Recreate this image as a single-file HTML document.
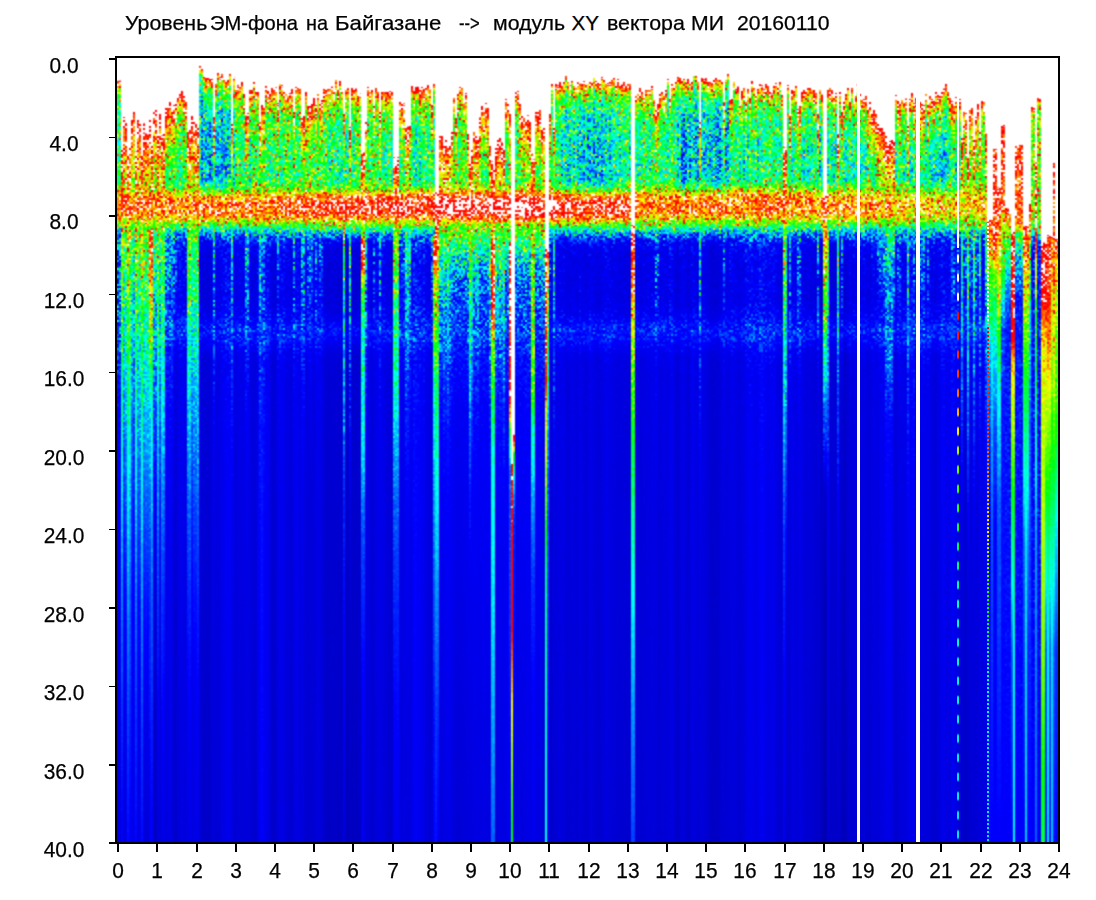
<!DOCTYPE html>
<html><head><meta charset="utf-8">
<style>
html,body{margin:0;padding:0;background:#fff;}
body{-webkit-text-stroke:0.25px #000;width:1096px;height:900px;position:relative;overflow:hidden;font-family:"Liberation Sans",sans-serif;color:#000;}
#plot{position:absolute;left:117px;top:58px;width:942px;height:784px;display:flex;filter:url(#jet);}
#plot i{display:block;flex:1 1 0;height:100%;}
.ln{position:absolute;background:#000;}
.t{position:absolute;top:12.6px;font-size:20.6px;line-height:1;white-space:nowrap;transform-origin:0 0;}
.yl{position:absolute;left:24px;width:80px;text-align:center;font-size:22px;line-height:1;white-space:nowrap;transform:scaleX(.95);}
.xl{position:absolute;top:860.4px;width:60px;text-align:center;font-size:22px;line-height:1;white-space:nowrap;transform:scaleX(.95);}
.ov{position:absolute;}
</style></head><body>
<svg width="0" height="0" style="position:absolute">
<filter id="jet" x="0" y="0" width="100%" height="100%" color-interpolation-filters="sRGB">
<feTurbulence type="fractalNoise" baseFrequency="0.8" numOctaves="2" seed="3" result="t0"/>
<feColorMatrix in="t0" type="matrix" values="2.1 0 0 0 -0.56  2.1 0 0 0 -0.56  2.1 0 0 0 -0.56  0 0 0 0 1" result="t0a"/>
<feComponentTransfer in="t0a" result="t0b"><feFuncR type="gamma" amplitude="1" exponent="1.7" offset="0"/><feFuncG type="gamma" amplitude="1" exponent="1.7" offset="0"/><feFuncB type="gamma" amplitude="1" exponent="1.7" offset="0"/></feComponentTransfer>
<feFlood x="0" y="0" width="1" height="1" flood-color="#fff" result="p1"/>
<feComposite in="p1" in2="p1" operator="over" x="0" y="0" width="2" height="2" result="p2"/>
<feTile in="p2" result="grid"/>
<feComposite in="t0b" in2="grid" operator="in" result="sp"/>
<feConvolveMatrix in="sp" order="2" kernelMatrix="1 1 1 1" divisor="1" targetX="1" targetY="1" edgeMode="none" preserveAlpha="false" result="n"/>
<feColorMatrix in="SourceGraphic" type="matrix" values="1 0 0 0 0  1 0 0 0 0  1 0 0 0 0  0 0 0 0 1" result="lev"/>
<feColorMatrix in="SourceGraphic" type="matrix" values="0 1 0 0 0  0 1 0 0 0  0 1 0 0 0  0 0 0 0 1" result="m"/>
<feComposite in="m" in2="n" operator="arithmetic" k1="0.5" k2="-0.165" k3="0" k4="0.5" result="d"/>
<feComposite in="lev" in2="d" operator="arithmetic" k1="0" k2="1" k3="1" k4="-0.5" result="l"/>
<feComponentTransfer in="l" result="c"><feFuncR type="table" tableValues="0 0 0 0 0 0 0 0 0 0 0 0 0 0 0 0 0 0 0 0 0 0 0 0 0 0 0 0 0 0 0 0 0 0 0 0 0 0 0 0 0 0 0 0 0 0 0 0 0 0 0 0.0588 0.118 0.176 0.235 0.294 0.353 0.412 0.471 0.529 0.588 0.647 0.706 0.765 0.824 0.882 0.941 1 1 1 1 1 1 1 1 1 1 1 1 1 1 1 1 1 1 1 1 1 1 1 1 1 1 1 1 1 1 1 1 1 1"/><feFuncG type="table" tableValues="0 0 0 0 0 0 0 0 0 0 0 0 0 0 0.0526 0.105 0.158 0.211 0.263 0.316 0.368 0.421 0.474 0.526 0.579 0.632 0.684 0.737 0.789 0.842 0.895 0.947 1 1 1 1 1 1 1 1 1 1 1 1 1 1 1 1 1 1 1 1 1 1 1 1 1 1 1 1 1 1 1 1 1 1 1 1 0.941 0.882 0.824 0.765 0.706 0.647 0.588 0.529 0.471 0.412 0.353 0.294 0.235 0.176 0.118 0.0588 0 0 0 0 0 0 0 1 1 1 1 1 1 1 1 1 1"/><feFuncB type="table" tableValues="0.588 0.621 0.654 0.686 0.719 0.752 0.784 0.815 0.846 0.877 0.908 0.938 0.969 1 1 1 1 1 1 1 1 1 1 1 1 1 1 1 1 1 1 1 1 0.944 0.889 0.833 0.778 0.722 0.667 0.611 0.556 0.5 0.444 0.389 0.333 0.278 0.222 0.167 0.111 0.0556 0 0 0 0 0 0 0 0 0 0 0 0 0 0 0 0 0 0 0 0 0 0 0 0 0 0 0 0 0 0 0 0 0 0 0 0 0 0 0 0 0 1 1 1 1 1 1 1 1 1 1"/></feComponentTransfer>
<feConvolveMatrix in="c" order="3" kernelMatrix="1 2 1 2 6 2 1 2 1" divisor="18" edgeMode="duplicate" preserveAlpha="true"/>
</filter>
</svg>
<div id="plot">
<i style="background:linear-gradient(#ff0000 0%,#ff0000 2.487%,#ff0000 2.679%,#e3bf00 2.934%,#ceca00 3.316%,#b4e500 3.827%,#9bfd00 4.464%,#88fc00 5.23%,#7cfa00 6.25%,#76f900 7.526%,#74f900 9.056%,#74f900 9.184%,#74f900 10.97%,#74f900 11.73%,#74f900 13.52%,#74f900 14.29%,#75f900 15.56%,#7bfa00 16.07%,#86fc00 16.45%,#92fe00 16.71%,#98ff00 16.84%,#aaef00 17.22%,#c0da00 17.73%,#ceca00 18.75%,#c9d000 19.77%,#b3e700 20.54%,#8efd00 21.17%,#5ff500 21.81%,#3ddb00 22.45%,#34ce00 23.09%,#34cd00 23.72%,#33cd00 24.36%,#33ca00 25%,#33c700 25.64%,#33c600 25.77%,#33c000 27.04%,#33ae00 30.87%,#33a500 32.02%,#33a400 32.14%,#329400 33.16%,#318900 34.06%,#307d00 34.95%,#2e6e00 35.84%,#2c5e00 36.73%,#2a4d00 37.88%,#283d00 39.16%,#252900 40.94%,#211300 43.62%,#200f00 46.17%,#1f0700 53.7%,#1e0600 56.38%,#1b0300 69.13%,#180200 84.44%,#160100 100%)"></i>
<i style="background:linear-gradient(#ff0000 0%,#ff0000 2.487%,#ff0000 2.679%,#e3bf00 2.934%,#ceca00 3.316%,#b5e500 3.827%,#9bfd00 4.464%,#89fc00 5.23%,#7ffb00 6.25%,#7afa00 7.526%,#78fa00 9.056%,#78fa00 9.184%,#78f900 10.97%,#78f900 11.73%,#78f900 13.52%,#78f900 14.29%,#79fa00 15.56%,#7efb00 16.07%,#89fc00 16.45%,#93fe00 16.71%,#99ff00 16.84%,#a9f000 17.22%,#bddd00 17.73%,#c9cf00 18.75%,#c5d500 19.77%,#afea00 20.54%,#8cfd00 21.17%,#5ff500 21.81%,#3edc00 22.45%,#35cf00 23.09%,#34cd00 23.72%,#33cd00 24.36%,#33ca00 25%,#33c700 25.64%,#33c600 25.77%,#33c000 27.04%,#33ae00 30.87%,#33a500 32.02%,#33a400 32.14%,#329500 33.16%,#318a00 34.06%,#307f00 34.95%,#2f7000 35.84%,#2c6000 36.73%,#2a4e00 37.88%,#283e00 39.16%,#252a00 40.94%,#211400 43.62%,#210f00 46.17%,#1f0800 53.7%,#1f0700 56.38%,#1c0300 69.13%,#190200 84.44%,#170100 100%)"></i>
<i style="background:linear-gradient(#ff0000 0%,#ff0000 11.3%,#f45200 11.49%,#f17100 11.73%,#f17200 11.75%,#ee9a00 12.13%,#e9bf00 12.64%,#e4bf00 13.28%,#debf00 14.04%,#dcbf00 14.29%,#d7bf00 15.06%,#d3c300 15.56%,#d0c700 16.07%,#cec900 16.34%,#ceca00 16.45%,#cccc00 16.84%,#cdcb00 17.22%,#d3c300 17.73%,#d5c000 17.87%,#dabf00 18.75%,#d5c100 19.77%,#d5c100 19.78%,#c4d600 20.54%,#b5e500 21.17%,#afea00 21.81%,#aced00 22.33%,#aced00 22.45%,#a9f000 23.09%,#a6f300 23.72%,#a3f600 24.36%,#a0f500 25%,#9ef400 25.52%,#9df400 25.77%,#98f000 27.04%,#8fe000 29.35%,#8ad700 30.87%,#83bf00 33.16%,#80b600 34.06%,#7fb200 34.45%,#7dad00 34.95%,#7ba400 35.84%,#789b00 36.73%,#758f00 37.88%,#728200 39.16%,#6d7200 40.83%,#614500 46.17%,#5a2e00 49.76%,#4d2400 56.38%,#431a00 62.51%,#3a1100 69.13%,#290800 84.44%,#1e0200 100%)"></i>
<i style="background:linear-gradient(#ff0000 0%,#ff0000 7.092%,#ff0000 7.283%,#f08200 7.538%,#ebbf00 7.921%,#e4bf00 8.431%,#dcbf00 9.069%,#d3c300 9.834%,#c9d000 10.85%,#c1da00 11.73%,#bddd00 12.13%,#b0e900 13.66%,#aced00 14.29%,#a3f600 15.56%,#a3f600 15.57%,#a0f900 16.07%,#9ffa00 16.45%,#a1f700 16.84%,#aced00 17.22%,#c3d800 17.73%,#ceca00 18.12%,#d1c600 18.75%,#cccc00 19.77%,#b6e400 20.54%,#97ff00 21.17%,#91fe00 21.31%,#82fb00 21.81%,#7cfa00 22.45%,#79fa00 23.09%,#76f900 23.72%,#74f900 24.36%,#71f500 25%,#70f400 25.14%,#6ef000 25.77%,#69e800 27.04%,#5ed400 30.24%,#5cd000 30.87%,#55b900 33.16%,#53b000 34.06%,#51a800 34.95%,#4e9f00 35.84%,#4c9700 36.62%,#4b9500 36.73%,#488700 37.88%,#457900 39.16%,#373f00 45.55%,#363b00 46.17%,#281200 56.38%,#260e00 58.3%,#1e0400 69.13%,#190200 84.44%,#160100 100%)"></i>
<i style="background:linear-gradient(#ff0000 0%,#ff0000 7.946%,#f45100 8.138%,#f07e00 8.393%,#ebb500 8.776%,#e5bf00 9.286%,#debf00 9.923%,#d6bf00 10.69%,#cdcb00 11.71%,#cdcb00 11.73%,#c2d800 12.98%,#b8e200 14.29%,#b7e300 14.52%,#b0e900 15.56%,#adec00 16.07%,#adec00 16.43%,#adec00 16.45%,#b0e900 16.84%,#b6e400 17.22%,#c2d800 17.73%,#cbcd00 18.75%,#cbcd00 18.98%,#c7d200 19.77%,#b4e600 20.54%,#9bfd00 21.17%,#8cfd00 21.81%,#89fc00 22.17%,#87fc00 22.45%,#84fc00 23.09%,#82fb00 23.72%,#7ffb00 24.36%,#7cf700 25%,#79f200 25.77%,#78f100 25.99%,#74ea00 27.04%,#67d200 30.87%,#66cf00 31.1%,#60bb00 33.16%,#5db200 34.06%,#5ba900 34.95%,#59a000 35.84%,#569700 36.73%,#549000 37.47%,#538c00 37.88%,#4f7f00 39.16%,#403f00 46.17%,#403d00 46.4%,#301a00 56.38%,#2c1400 59.16%,#230600 69.13%,#1c0200 84.44%,#180100 100%)"></i>
<i style="background:linear-gradient(#ff0000 0%,#ff0000 11.71%,#ff0000 11.73%,#ff0000 11.9%,#f17000 12.16%,#ee9700 12.54%,#eabf00 13.05%,#e5bf00 13.69%,#e0bf00 14.29%,#dfbf00 14.45%,#d8bf00 15.47%,#d7bf00 15.56%,#d4c200 16.07%,#d1c500 16.45%,#d0c700 16.75%,#d0c700 16.84%,#d0c700 17.22%,#d3c300 17.73%,#d7bf00 18.28%,#d7bf00 18.75%,#d2c400 19.77%,#cccc00 20.19%,#c4d600 20.54%,#b8e200 21.17%,#b3e700 21.81%,#b0ea00 22.45%,#aeeb00 22.74%,#aded00 23.09%,#aaef00 23.72%,#a7f200 24.36%,#a4f200 25%,#a1f000 25.77%,#a0f000 25.93%,#9ced00 27.04%,#91de00 29.76%,#8ed700 30.87%,#86bf00 33.16%,#84b600 34.06%,#81ae00 34.86%,#81ad00 34.95%,#7ea400 35.84%,#7c9b00 36.73%,#799000 37.88%,#758300 39.16%,#706e00 41.24%,#654500 46.17%,#5c2c00 50.17%,#512400 56.38%,#461a00 62.92%,#3e1200 69.13%,#2d0a00 84.44%,#220300 100%)"></i>
<i style="background:linear-gradient(#ff0000 0%,#ff0000 10.2%,#ff0000 10.4%,#f17500 10.65%,#eda100 11.03%,#e8bf00 11.54%,#e7bf00 11.73%,#e3bf00 12.18%,#dcbf00 12.95%,#d4c200 13.97%,#d2c500 14.29%,#cbce00 15.24%,#c9d000 15.56%,#c5d500 16.07%,#c3d700 16.45%,#c2d900 16.77%,#c2d900 16.84%,#c2d800 17.22%,#c8d000 17.73%,#cfc800 18.69%,#cfc800 18.75%,#cacf00 19.77%,#bae000 20.54%,#abee00 21.17%,#aaef00 21.24%,#a5f400 21.81%,#a1f700 22.45%,#9efa00 23.09%,#9bfd00 23.72%,#98ff00 24.36%,#98ff00 24.43%,#96fb00 25%,#92f600 25.77%,#8dee00 27.04%,#89e600 28.25%,#80d500 30.87%,#78be00 33.16%,#78bc00 33.35%,#76b500 34.06%,#73ac00 34.95%,#71a300 35.84%,#6e9a00 36.73%,#6b8e00 37.88%,#688200 39.16%,#667c00 39.73%,#574500 46.17%,#523400 48.66%,#442200 56.38%,#3d1a00 61.42%,#331000 69.13%,#260600 84.44%,#1e0200 100%)"></i>
<i style="background:linear-gradient(#ff0000 0%,#ff0000 6.811%,#ff0000 7.003%,#f08300 7.258%,#eabf00 7.64%,#e3bf00 8.151%,#dbbf00 8.788%,#d2c400 9.554%,#c8d200 10.57%,#bcde00 11.73%,#bbdf00 11.85%,#afeb00 13.38%,#a8f100 14.29%,#a1f800 15.29%,#9ff900 15.56%,#9dfc00 16.07%,#9cfc00 16.45%,#a1f700 16.84%,#aded00 17.22%,#c1da00 17.73%,#c4d600 17.84%,#ceca00 18.75%,#c9d000 19.77%,#b4e600 20.54%,#9dfb00 21.03%,#96ff00 21.17%,#80fb00 21.81%,#79fa00 22.45%,#75f900 23.09%,#72f900 23.72%,#70f800 24.36%,#6ef600 24.86%,#6df500 25%,#6af000 25.77%,#65e800 27.04%,#5bd500 29.96%,#58d000 30.87%,#52b900 33.16%,#50b000 34.06%,#4ea700 34.95%,#4b9e00 35.84%,#4a9700 36.34%,#489200 36.73%,#458500 37.88%,#427700 39.16%,#364000 45.27%,#353a00 46.17%,#291300 56.38%,#271000 58.02%,#210500 69.13%,#1d0300 84.44%,#1b0200 100%)"></i>
<i style="background:linear-gradient(#ff0000 0%,#ff0000 6.199%,#f35200 6.39%,#ef8800 6.645%,#e9bf00 7.028%,#e2bf00 7.538%,#d9bf00 8.176%,#d0c700 8.941%,#c4d600 9.962%,#b7e200 11.24%,#b3e700 11.73%,#aaef00 12.77%,#9ff900 14.29%,#9cfc00 14.68%,#97ff00 15.56%,#96fe00 16.07%,#98ff00 16.45%,#a0f800 16.84%,#aeeb00 17.22%,#afea00 17.23%,#c3d700 17.73%,#d0c700 18.75%,#cbcd00 19.77%,#bbdf00 20.42%,#b6e400 20.54%,#96fe00 21.17%,#79fa00 21.81%,#70f800 22.45%,#6cf800 23.09%,#69f700 23.72%,#67f700 24.25%,#66f700 24.36%,#64f300 25%,#61ee00 25.77%,#5ce600 27.04%,#54d800 29.35%,#4fce00 30.87%,#49b400 33.16%,#48ab00 34.06%,#46a100 34.95%,#449700 35.73%,#449600 35.84%,#418b00 36.73%,#3d7e00 37.88%,#3a7100 39.16%,#313c00 44.66%,#2e3000 46.17%,#250d00 56.38%,#240c00 57.41%,#1f0400 69.13%,#1c0200 84.44%,#1a0100 100%)"></i>
<i style="background:linear-gradient(#ff0000 0%,#ff0000 10.89%,#ff0000 11.08%,#f17300 11.34%,#ee9c00 11.72%,#ed9e00 11.73%,#e9bf00 12.23%,#e4bf00 12.87%,#ddbf00 13.64%,#d8bf00 14.29%,#d6c000 14.66%,#cfc800 15.56%,#cdcb00 15.93%,#cccc00 16.07%,#cacf00 16.45%,#c8d100 16.84%,#c9d000 17.22%,#cbce00 17.46%,#cfc900 17.73%,#d5c000 18.75%,#d4c300 19.38%,#d0c700 19.77%,#c0da00 20.54%,#b2e800 21.17%,#abee00 21.81%,#abee00 21.93%,#a8f100 22.45%,#a5f400 23.09%,#a2f600 23.72%,#9ff900 24.36%,#9cf900 25%,#9cf900 25.11%,#99f700 25.77%,#94ef00 27.04%,#8de200 28.94%,#86d600 30.87%,#7fbf00 33.16%,#7cb600 34.04%,#7cb500 34.06%,#7aac00 34.95%,#77a300 35.84%,#759a00 36.73%,#718f00 37.88%,#6e8200 39.16%,#6b7600 40.42%,#5e4500 46.17%,#573000 49.35%,#4a2300 56.38%,#411a00 62.1%,#381100 69.13%,#2a0900 84.44%,#210300 100%)"></i>
<i style="background:linear-gradient(#ff0000 0%,#ff0000 7.679%,#f35300 7.87%,#f08000 8.125%,#ebb900 8.508%,#e5bf00 9.018%,#debf00 9.656%,#d5c000 10.42%,#cbcd00 11.44%,#c9d000 11.73%,#c0da00 12.72%,#b4e500 14.25%,#b4e600 14.29%,#abee00 15.56%,#a8f100 16.07%,#a8f100 16.16%,#a7f200 16.45%,#a8f100 16.84%,#afeb00 17.22%,#bedc00 17.73%,#cacf00 18.71%,#cacf00 18.75%,#c5d500 19.77%,#b1e800 20.54%,#98ff00 21.17%,#89fc00 21.81%,#88fc00 21.9%,#84fb00 22.45%,#81fb00 23.09%,#7efb00 23.72%,#7bfa00 24.36%,#79f700 25%,#76f200 25.73%,#76f200 25.77%,#71e900 27.04%,#64d100 30.83%,#63d100 30.87%,#5dba00 33.16%,#5ab100 34.06%,#58a800 34.95%,#55a000 35.84%,#539700 36.73%,#519200 37.21%,#4f8c00 37.88%,#4c7f00 39.16%,#3d3e00 46.14%,#3d3e00 46.17%,#2d1700 56.38%,#2a1200 58.89%,#210500 69.13%,#1b0200 84.44%,#170100 100%)"></i>
<i style="background:linear-gradient(#ff0000 0%,#ff0000 7.985%,#ff0000 8.176%,#f07d00 8.431%,#ebb500 8.814%,#e5bf00 9.324%,#debf00 9.962%,#d6bf00 10.73%,#cdcb00 11.73%,#cdcb00 11.75%,#c2d900 13.02%,#b8e200 14.29%,#b6e400 14.55%,#afea00 15.56%,#aced00 16.07%,#aaef00 16.45%,#aaef00 16.47%,#aaef00 16.84%,#b0ea00 17.22%,#bfdb00 17.73%,#cbcd00 18.75%,#cbcd00 19.02%,#c6d300 19.77%,#b3e700 20.54%,#9afe00 21.17%,#8cfd00 21.81%,#89fc00 22.21%,#88fc00 22.45%,#85fc00 23.09%,#82fb00 23.72%,#7ffb00 24.36%,#7df700 25%,#7af200 25.77%,#79f100 26.03%,#75ea00 27.04%,#67d200 30.87%,#67cf00 31.14%,#60bb00 33.16%,#5eb200 34.06%,#5ca900 34.95%,#59a000 35.84%,#569700 36.73%,#549000 37.51%,#538c00 37.88%,#507f00 39.16%,#413f00 46.17%,#403d00 46.44%,#301b00 56.38%,#2d1500 59.2%,#240700 69.13%,#1d0200 84.44%,#190100 100%)"></i>
<i style="background:linear-gradient(#ff0000 0%,#ff0000 11.72%,#ff0000 11.73%,#f45200 11.91%,#f17200 12.17%,#ee9800 12.55%,#eabf00 13.06%,#e5bf00 13.7%,#e0bf00 14.29%,#dfbf00 14.46%,#d8bf00 15.48%,#d7bf00 15.56%,#d4c200 16.07%,#d1c500 16.45%,#d0c700 16.76%,#d0c700 16.84%,#cfc800 17.22%,#d2c400 17.73%,#d6bf00 18.29%,#d6c000 18.75%,#d1c600 19.77%,#cace00 20.2%,#c3d700 20.54%,#b8e200 21.17%,#b3e700 21.81%,#b0ea00 22.45%,#aeeb00 22.76%,#aded00 23.09%,#aaef00 23.72%,#a7f200 24.36%,#a4f200 25%,#a1f000 25.77%,#a0f000 25.94%,#9ced00 27.04%,#91de00 29.77%,#8ed700 30.87%,#86bf00 33.16%,#84b600 34.06%,#81ae00 34.87%,#81ad00 34.95%,#7ea400 35.84%,#7c9b00 36.73%,#799000 37.88%,#758300 39.16%,#706e00 41.25%,#654500 46.17%,#5c2c00 50.18%,#512400 56.38%,#461a00 62.93%,#3e1200 69.13%,#2d0a00 84.44%,#220300 100%)"></i>
<i style="background:linear-gradient(#ff0000 0%,#ff0000 8.061%,#f35200 8.253%,#f07e00 8.508%,#ecb400 8.89%,#e6bf00 9.401%,#dfbf00 10.04%,#d7bf00 10.8%,#cec900 11.73%,#cdca00 11.82%,#c3d800 13.1%,#bae000 14.29%,#b7e300 14.63%,#b1e800 15.56%,#afeb00 16.07%,#aeeb00 16.45%,#aeeb00 16.54%,#b1e800 16.84%,#b8e200 17.22%,#c6d400 17.73%,#d0c700 18.75%,#d0c800 19.09%,#cbcd00 19.77%,#b7e300 20.54%,#9cfc00 21.17%,#8dfd00 21.81%,#8afc00 22.28%,#89fc00 22.45%,#86fc00 23.09%,#83fb00 23.72%,#80fb00 24.36%,#7ef700 25%,#7af200 25.77%,#79f000 26.11%,#76ea00 27.04%,#68d200 30.87%,#67ce00 31.21%,#61bb00 33.16%,#5fb200 34.06%,#5ca900 34.95%,#5aa000 35.84%,#579700 36.73%,#558f00 37.59%,#548c00 37.88%,#518000 39.16%,#413f00 46.17%,#403d00 46.52%,#301a00 56.38%,#2c1400 59.27%,#220500 69.13%,#1a0200 84.44%,#160100 100%)"></i>
<i style="background:linear-gradient(#ff0000 0%,#ff0000 8.533%,#f35200 8.724%,#f07c00 8.98%,#ecb000 9.362%,#e6bf00 9.872%,#e0bf00 10.51%,#d8bf00 11.28%,#d4c200 11.73%,#cfc800 12.3%,#c4d500 13.57%,#bfdb00 14.29%,#b9e100 15.1%,#b6e400 15.56%,#b3e600 16.07%,#b2e800 16.45%,#b4e600 16.84%,#b6e400 17.02%,#bae000 17.22%,#c9cf00 17.73%,#d5c100 18.75%,#d2c400 19.57%,#d0c700 19.77%,#bbdf00 20.54%,#a0f800 21.17%,#93fe00 21.81%,#8efd00 22.45%,#8dfd00 22.76%,#8bfd00 23.09%,#89fc00 23.72%,#86fc00 24.36%,#83f800 25%,#80f300 25.77%,#7dee00 26.58%,#7beb00 27.04%,#6ed300 30.87%,#6bca00 31.68%,#67bb00 33.16%,#64b200 34.06%,#62aa00 34.95%,#5fa100 35.84%,#5c9800 36.73%,#598d00 37.88%,#598b00 38.06%,#568000 39.16%,#464200 46.17%,#443c00 46.99%,#341e00 56.38%,#2f1700 59.74%,#250700 69.13%,#1b0200 84.44%,#150100 100%)"></i>
<i style="background:linear-gradient(#ff0000 0%,#ff0000 8.495%,#ff0000 8.686%,#f17a00 8.941%,#ecaf00 9.324%,#e6bf00 9.834%,#e0bf00 10.47%,#d8bf00 11.24%,#d3c300 11.73%,#cfc900 12.26%,#c4d600 13.53%,#bedc00 14.29%,#b9e100 15.06%,#b5e400 15.56%,#b2e700 16.07%,#b0e900 16.45%,#b1e900 16.84%,#b2e800 16.98%,#b6e400 17.22%,#c5d500 17.73%,#d1c600 18.75%,#cfc900 19.53%,#cccc00 19.77%,#b7e300 20.54%,#9efa00 21.17%,#92fe00 21.81%,#8efd00 22.45%,#8dfd00 22.72%,#8bfd00 23.09%,#88fc00 23.72%,#86fc00 24.36%,#83f800 25%,#80f300 25.77%,#7dee00 26.54%,#7beb00 27.04%,#6dd300 30.87%,#6bcb00 31.65%,#66bb00 33.16%,#64b200 34.06%,#61aa00 34.95%,#5fa100 35.84%,#5c9800 36.73%,#598c00 37.88%,#598b00 38.02%,#568000 39.16%,#454100 46.17%,#443c00 46.95%,#331e00 56.38%,#2e1600 59.71%,#230600 69.13%,#180200 84.44%,#120100 100%)"></i>
<i style="background:linear-gradient(#ff0000 0%,#ff0000 7.717%,#f45200 7.908%,#f07f00 8.163%,#ebb800 8.546%,#e5bf00 9.056%,#debf00 9.694%,#d6c000 10.46%,#cccc00 11.48%,#c9cf00 11.73%,#c1da00 12.76%,#b5e500 14.29%,#aced00 15.56%,#a9f000 16.07%,#a8f100 16.2%,#a8f100 16.45%,#abee00 16.84%,#b4e600 17.22%,#c7d300 17.73%,#d4c200 18.75%,#cfc900 19.77%,#b9e100 20.54%,#9afe00 21.17%,#95fe00 21.3%,#8bfd00 21.81%,#9dfb00 21.94%,#dbbf00 22.19%,#dabf00 22.45%,#d7bf00 23.09%,#d4c200 23.72%,#d1c600 24.36%,#cec700 25%,#cbc800 25.77%,#c5c900 27.04%,#b3c400 30.87%,#a3bb00 33.16%,#9db600 34.06%,#99b200 34.69%,#97b000 34.95%,#8fa600 35.84%,#889c00 36.73%,#839700 37.24%,#7e9000 37.88%,#738300 39.16%,#4f5500 43.62%,#4a4300 46.17%,#361f00 56.38%,#311a00 58.93%,#2f1600 60.2%,#2a0b00 69.13%,#230500 84.44%,#1c0200 100%)"></i>
<i style="background:linear-gradient(#ff0000 0%,#ff0000 10.37%,#f45200 10.56%,#f17500 10.82%,#eda000 11.2%,#e8bf00 11.71%,#e8bf00 11.73%,#e3bf00 12.35%,#dcbf00 13.11%,#d4c200 14.13%,#d3c300 14.29%,#cbcd00 15.41%,#cace00 15.56%,#c7d300 16.07%,#c4d600 16.45%,#c3d800 16.84%,#c2d800 16.94%,#c3d700 17.22%,#cacf00 17.73%,#d1c500 18.75%,#d1c600 18.85%,#cccc00 19.77%,#bbdf00 20.54%,#aced00 21.17%,#abef00 21.3%,#a9f000 21.4%,#a6f300 21.81%,#dbbf00 22.19%,#dabf00 22.45%,#d7bf00 23.09%,#d4c200 23.72%,#d1c600 24.36%,#d0c600 24.59%,#cec700 25%,#cbc800 25.77%,#c5c900 27.04%,#bec800 28.42%,#b3c400 30.87%,#a3ba00 33.16%,#a1b900 33.52%,#9db600 34.06%,#99b200 34.69%,#97b000 34.95%,#8fa600 35.84%,#889c00 36.73%,#7f9000 37.88%,#758300 39.16%,#707b00 39.9%,#5f5600 43.62%,#5a4500 46.17%,#543300 48.83%,#462200 56.38%,#3f1c00 60.2%,#3d1a00 61.58%,#341000 69.13%,#270700 84.44%,#1f0200 100%)"></i>
<i style="background:linear-gradient(#ff0000 0%,#ff0000 6.327%,#ff0000 6.518%,#f08600 6.773%,#eabf00 7.156%,#e2bf00 7.666%,#dabf00 8.304%,#d0c600 9.069%,#c5d400 10.09%,#b9e100 11.36%,#b6e400 11.73%,#aded00 12.9%,#a3f500 14.29%,#a0f800 14.81%,#9cfc00 15.56%,#9cfc00 16.07%,#9efa00 16.45%,#a6f300 16.84%,#b0e900 17.22%,#b4e500 17.36%,#c0db00 17.73%,#cace00 18.75%,#c5d400 19.77%,#b1e900 20.54%,#b0e900 20.55%,#90fe00 21.17%,#78f900 21.81%,#71f800 22.45%,#6ef800 23.09%,#6bf700 23.72%,#68f700 24.36%,#68f700 24.38%,#66f300 25%,#63ef00 25.77%,#5ee600 27.04%,#55d700 29.48%,#51ce00 30.87%,#4ab500 33.16%,#48ab00 34.06%,#46a000 34.95%,#439500 35.84%,#439500 35.85%,#408b00 36.73%,#3d7e00 37.88%,#3a7100 39.16%,#2e3600 44.78%,#2c2a00 46.17%,#1e0600 56.38%,#1d0600 57.54%,#150200 69.13%,#100100 84.44%,#0e0100 100%)"></i>
<i style="background:linear-gradient(#ff0000 0%,#ff0000 6.276%,#ff0000 6.467%,#ef8700 6.722%,#e9bf00 7.105%,#e2bf00 7.615%,#d9bf00 8.253%,#d0c700 9.018%,#c5d500 10.04%,#b8e200 11.31%,#b4e600 11.73%,#abef00 12.84%,#a0f900 14.29%,#9cfc00 14.76%,#97ff00 15.56%,#95fe00 16.07%,#95fe00 16.45%,#9bfd00 16.84%,#a9f000 17.22%,#aced00 17.31%,#bedc00 17.73%,#cccd00 18.75%,#c6d300 19.77%,#b2e800 20.5%,#b0e900 20.54%,#90fd00 21.17%,#77f900 21.81%,#70f800 22.45%,#6df800 23.09%,#6af700 23.72%,#68f700 24.32%,#68f700 24.36%,#65f300 25%,#62ee00 25.77%,#5de600 27.04%,#55d700 29.43%,#50ce00 30.87%,#49b400 33.16%,#47aa00 34.06%,#459f00 34.95%,#439500 35.8%,#429500 35.84%,#408a00 36.73%,#3c7d00 37.88%,#397000 39.16%,#2e3500 44.73%,#2b2900 46.17%,#1e0600 56.38%,#1d0500 57.49%,#150200 69.13%,#100100 84.44%,#0e0100 100%)"></i>
<i style="background:linear-gradient(#ff0000 0%,#ff0000 9.49%,#f45100 9.681%,#f17800 9.936%,#eda700 10.32%,#e8bf00 10.83%,#e1bf00 11.47%,#dfbf00 11.73%,#dbbf00 12.23%,#d2c500 13.25%,#cacf00 14.29%,#c8d100 14.53%,#c1da00 15.56%,#bedd00 16.06%,#bedd00 16.07%,#bbdf00 16.45%,#bae000 16.84%,#bcdf00 17.22%,#c3d700 17.73%,#c7d200 17.97%,#cbcd00 18.75%,#c6d300 19.77%,#b5e400 20.52%,#b5e500 20.54%,#a4f400 21.17%,#9dfb00 21.81%,#9aff00 22.45%,#96ff00 23.09%,#94fe00 23.71%,#94fe00 23.72%,#91fe00 24.36%,#8efa00 25%,#8bf500 25.77%,#86ed00 27.04%,#84e900 27.54%,#78d400 30.87%,#73c200 32.64%,#71bd00 33.16%,#6fb400 34.06%,#6cab00 34.95%,#69a200 35.84%,#679900 36.73%,#648e00 37.88%,#618200 39.02%,#608100 39.16%,#504400 46.17%,#4c3900 47.95%,#3d2000 56.38%,#361a00 60.7%,#2b0c00 69.13%,#1d0300 84.44%,#150100 100%)"></i>
<i style="background:linear-gradient(#ff0000 0%,#ff0000 6.684%,#ff0000 6.875%,#f08300 7.13%,#eabf00 7.513%,#e3bf00 8.023%,#dbbf00 8.661%,#d2c500 9.426%,#c7d200 10.45%,#bbdf00 11.72%,#bbdf00 11.73%,#aeeb00 13.25%,#a7f200 14.29%,#a1f700 15.17%,#9ffa00 15.56%,#9dfb00 16.07%,#9efb00 16.45%,#a4f500 16.84%,#afea00 17.22%,#c1da00 17.72%,#c1da00 17.73%,#cdcb00 18.75%,#c8d100 19.77%,#b3e700 20.54%,#a2f700 20.91%,#94fe00 21.17%,#7dfa00 21.81%,#77f900 22.45%,#73f900 23.09%,#71f800 23.72%,#6ef800 24.36%,#6cf600 24.73%,#6bf400 25%,#68ef00 25.77%,#63e700 27.04%,#59d600 29.83%,#56cf00 30.87%,#4fb800 33.16%,#4db000 34.06%,#4ba600 34.95%,#499b00 35.84%,#479600 36.21%,#469000 36.73%,#438300 37.88%,#3f7500 39.16%,#333f00 45.14%,#313600 46.17%,#230b00 56.38%,#220900 57.9%,#1a0200 69.13%,#150100 84.44%,#130100 100%)"></i>
<i style="background:linear-gradient(#ff0000 0%,#ff0000 9.196%,#f35200 9.388%,#f17900 9.643%,#ecaa00 10.03%,#e7bf00 10.54%,#e1bf00 11.17%,#dcbf00 11.73%,#dabf00 11.94%,#d1c600 12.96%,#c7d200 14.23%,#c7d200 14.29%,#bedc00 15.56%,#bdde00 15.77%,#bbdf00 16.07%,#b9e100 16.45%,#bae000 16.84%,#bddd00 17.22%,#c8d100 17.68%,#c9d000 17.73%,#d3c400 18.75%,#ceca00 19.77%,#c4d600 20.23%,#bbdf00 20.54%,#a5f400 21.17%,#9afe00 21.81%,#96ff00 22.45%,#93fe00 23.09%,#92fe00 23.42%,#90fe00 23.72%,#8dfd00 24.36%,#8bfa00 25%,#88f500 25.77%,#83ec00 27.04%,#82eb00 27.24%,#75d400 30.87%,#71c500 32.35%,#6ebc00 33.16%,#6cb300 34.06%,#69aa00 34.95%,#66a200 35.84%,#649900 36.73%,#618d00 37.88%,#5e8500 38.72%,#5d8100 39.16%,#4d4400 46.17%,#4a3a00 47.65%,#3b2000 56.38%,#351a00 60.41%,#2b0b00 69.13%,#200300 84.44%,#1a0100 100%)"></i>
<i style="background:linear-gradient(#ff0000 0%,#ff0000 8.597%,#ff0000 8.788%,#f07b00 9.043%,#ecae00 9.426%,#e6bf00 9.936%,#e0bf00 10.57%,#d8bf00 11.34%,#d5c100 11.73%,#cfc800 12.36%,#c5d500 13.64%,#c0db00 14.29%,#b9e100 15.17%,#b7e300 15.56%,#b4e600 16.07%,#b2e800 16.45%,#b3e700 16.84%,#b6e400 17.08%,#b9e100 17.22%,#c9d000 17.73%,#d5c100 18.75%,#d2c500 19.63%,#d0c700 19.77%,#bbdf00 20.54%,#a1f800 21.17%,#94fe00 21.81%,#8ffd00 22.45%,#8dfd00 22.82%,#8cfd00 23.09%,#89fc00 23.72%,#87fc00 24.36%,#84f800 25%,#81f300 25.77%,#7eee00 26.65%,#7ceb00 27.04%,#6fd300 30.87%,#6cca00 31.75%,#68bc00 33.16%,#65b300 34.06%,#63aa00 34.95%,#60a100 35.84%,#5d9800 36.73%,#5a8d00 37.88%,#5a8a00 38.12%,#578000 39.16%,#474200 46.17%,#453c00 47.05%,#351e00 56.38%,#311800 59.81%,#270900 69.13%,#1d0300 84.44%,#180100 100%)"></i>
<i style="background:linear-gradient(#ff0000 0%,#ff0000 6.071%,#f35300 6.263%,#ed9f00 6.518%,#e5bf00 6.901%,#dabf00 7.411%,#cdcb00 8.048%,#bfdb00 8.814%,#afeb00 9.834%,#9dfc00 11.11%,#95fe00 11.73%,#8cfd00 12.64%,#81fb00 14.29%,#80fb00 14.55%,#7bfa00 15.56%,#7bfa00 16.07%,#81fb00 16.45%,#90fe00 16.84%,#9dfb00 17.1%,#a4f500 17.22%,#bcde00 17.73%,#cbce00 18.75%,#c6d400 19.77%,#b9e100 20.29%,#b0e900 20.54%,#8efd00 21.17%,#68f700 21.81%,#55f400 22.45%,#4ff300 23.09%,#4bf000 23.72%,#49ee00 24.12%,#48ec00 24.36%,#46e600 25%,#43dd00 25.77%,#3fd000 27.04%,#38bc00 29.22%,#34af00 30.87%,#318f00 33.16%,#328d00 34.06%,#328700 34.95%,#307a00 35.6%,#2f7400 35.84%,#2b5b00 36.73%,#284300 37.88%,#253200 39.16%,#201100 44.53%,#1f0e00 46.17%,#1b0500 56.38%,#1b0400 57.28%,#190200 69.13%,#170100 84.44%,#160100 100%)"></i>
<i style="background:linear-gradient(#ff0000 0%,#ff0000 5.791%,#ff0000 5.982%,#eda100 6.237%,#e4bf00 6.62%,#d9bf00 7.13%,#cccc00 7.768%,#bddd00 8.533%,#aded00 9.554%,#9bfe00 10.83%,#90fd00 11.73%,#8bfd00 12.36%,#81fb00 14.27%,#81fb00 14.29%,#7dfa00 15.56%,#7ffb00 16.07%,#88fc00 16.45%,#98ff00 16.82%,#98ff00 16.84%,#acee00 17.22%,#c4d700 17.73%,#d2c500 18.75%,#cdcb00 19.77%,#c8d100 20.01%,#b6e300 20.54%,#93fe00 21.17%,#69f700 21.81%,#52f300 22.45%,#4bf000 23.09%,#47ea00 23.72%,#47e900 23.84%,#44e600 24.36%,#42e000 25%,#3fd800 25.77%,#3bcb00 27.04%,#36ba00 28.94%,#31a000 30.87%,#2f8300 33.16%,#308500 34.06%,#318100 34.95%,#307b00 35.32%,#2e6e00 35.84%,#2a5500 36.73%,#263b00 37.88%,#242b00 39.16%,#201100 44.25%,#1f0d00 46.17%,#1c0500 56.38%,#1b0500 57%,#1a0200 69.13%,#180200 84.44%,#170100 100%)"></i>
<i style="background:linear-gradient(#ff0000 0%,#ff0000 5.383%,#f35300 5.574%,#eda800 5.829%,#e3bf00 6.212%,#d7bf00 6.722%,#c9cf00 7.36%,#bae000 8.125%,#aaef00 9.145%,#99ff00 10.42%,#8ffd00 11.73%,#8efd00 11.95%,#87fc00 13.86%,#86fc00 14.29%,#85fc00 15.56%,#89fc00 16.07%,#91fe00 16.42%,#92fe00 16.45%,#a2f700 16.84%,#b2e800 17.22%,#c6d400 17.73%,#d2c400 18.75%,#d0c700 19.6%,#ceca00 19.77%,#b8e200 20.54%,#95fe00 21.17%,#6af700 21.81%,#4ff300 22.45%,#46e800 23.09%,#43e400 23.43%,#41e200 23.72%,#3fde00 24.36%,#3cd700 25%,#3ad000 25.77%,#36c400 27.04%,#32b400 28.53%,#2d8a00 30.87%,#2d7900 33.16%,#2f8100 34.06%,#318000 34.91%,#318000 34.95%,#2e6d00 35.84%,#2a5300 36.73%,#253700 37.88%,#242900 39.16%,#211300 43.84%,#200e00 46.17%,#1e0600 56.38%,#1e0600 56.59%,#1c0300 69.13%,#1b0200 84.44%,#190100 100%)"></i>
<i style="background:linear-gradient(#ff0000 0%,#ff0000 6.122%,#ff0000 6.314%,#ed9e00 6.569%,#e5bf00 6.952%,#dabf00 7.462%,#ceca00 8.099%,#c0db00 8.865%,#afea00 9.885%,#9dfb00 11.16%,#96ff00 11.73%,#8dfd00 12.69%,#83fb00 14.29%,#81fb00 14.6%,#7dfa00 15.56%,#7ffb00 16.07%,#86fc00 16.45%,#96fe00 16.84%,#a6f300 17.16%,#aaef00 17.22%,#c3d700 17.73%,#d2c500 18.75%,#cccc00 19.77%,#bedd00 20.34%,#b6e400 20.54%,#92fe00 21.17%,#6af700 21.81%,#56f400 22.45%,#4ff300 23.09%,#4cf100 23.72%,#4aee00 24.17%,#49ed00 24.36%,#47e700 25%,#44de00 25.77%,#40d100 27.04%,#39bd00 29.27%,#35b000 30.87%,#329300 33.16%,#329100 34.06%,#338b00 34.95%,#317c00 35.65%,#307700 35.84%,#2c5f00 36.73%,#284600 37.88%,#263500 39.16%,#211200 44.58%,#200e00 46.17%,#1c0500 56.38%,#1c0500 57.33%,#190200 69.13%,#180200 84.44%,#160100 100%)"></i>
<i style="background:linear-gradient(#ff0000 0%,#ff0000 5.842%,#f35300 6.033%,#eda200 6.288%,#e4bf00 6.671%,#d9bf00 7.181%,#cccc00 7.819%,#bedd00 8.584%,#adec00 9.605%,#9bfd00 10.88%,#91fe00 11.73%,#8bfd00 12.41%,#80fb00 14.29%,#80fb00 14.32%,#7bfa00 15.56%,#7efb00 16.07%,#88fc00 16.45%,#99ff00 16.84%,#9bfd00 16.88%,#aeec00 17.22%,#c7d200 17.73%,#d6c000 18.75%,#d0c700 19.77%,#cace00 20.06%,#b9e100 20.54%,#93fe00 21.17%,#66f600 21.81%,#4cf200 22.45%,#44e500 23.09%,#3fdf00 23.72%,#3edd00 23.89%,#3cda00 24.36%,#3ad300 25%,#37cb00 25.77%,#32b900 27.04%,#2c8900 28.99%,#276200 30.87%,#264d00 33.16%,#285700 34.06%,#295800 34.95%,#285000 35.37%,#264300 35.84%,#222600 36.73%,#1d1800 37.88%,#1b1100 39.16%,#180800 44.3%,#170600 46.17%,#150300 56.38%,#150300 57.05%,#130100 69.13%,#120100 84.44%,#110100 100%)"></i>
<i style="background:linear-gradient(#ff0000 0%,#ff0000 5.242%,#f45200 5.434%,#eda900 5.689%,#e3bf00 6.071%,#d6bf00 6.582%,#c8d100 7.219%,#b9e100 7.985%,#a7f200 9.005%,#94fe00 10.28%,#86fc00 11.73%,#85fc00 11.81%,#79fa00 13.72%,#77f900 14.29%,#73f900 15.56%,#77f900 16.07%,#7bfa00 16.28%,#81fb00 16.45%,#94fe00 16.84%,#a8f100 17.22%,#c1d900 17.73%,#d0c700 18.75%,#cec900 19.46%,#cbce00 19.77%,#b4e600 20.54%,#8ffd00 21.17%,#62f600 21.81%,#45e700 22.45%,#3ad700 23.09%,#38d400 23.29%,#35d000 23.72%,#32c700 24.36%,#30b300 25%,#2d9b00 25.77%,#297b00 27.04%,#265900 28.39%,#212e00 30.87%,#212b00 33.16%,#243c00 34.06%,#254300 34.77%,#254300 34.95%,#232f00 35.84%,#1e1c00 36.73%,#1a1000 37.88%,#180c00 39.16%,#160700 43.7%,#150600 46.17%,#140300 56.38%,#140300 56.45%,#120100 69.13%,#110100 84.44%,#100100 100%)"></i>
<i style="background:linear-gradient(#ff0000 0%,#ff0000 4.311%,#ff0000 4.503%,#eabf00 4.758%,#dcbf00 5.14%,#cbcd00 5.651%,#b8e200 6.288%,#a4f400 7.054%,#8ffd00 8.074%,#81fb00 9.349%,#77f900 10.88%,#73f900 11.73%,#71f800 12.79%,#6ff800 14.29%,#6ff800 15.34%,#70f800 15.56%,#76f900 16.07%,#82fb00 16.45%,#94fe00 16.84%,#a8f100 17.22%,#c0db00 17.73%,#ceca00 18.53%,#ceca00 18.75%,#c9d000 19.77%,#b3e700 20.54%,#8ffd00 21.17%,#62f600 21.81%,#42e300 22.36%,#3fdd00 22.45%,#2b9100 23.09%,#234800 23.72%,#203300 24.36%,#1f2d00 25%,#1d2700 25.77%,#1c2200 27.04%,#1c2100 27.46%,#1b1b00 30.87%,#202700 33.16%,#243b00 33.84%,#254200 34.06%,#274d00 34.95%,#253a00 35.84%,#201f00 36.73%,#1b1200 37.88%,#1a0e00 39.16%,#190a00 42.77%,#190700 46.17%,#180400 55.52%,#180300 56.38%,#170200 69.13%,#160100 84.44%,#140100 100%)"></i>
<i style="background:linear-gradient(#ff0000 0%,#ff0000 4.133%,#f35300 4.324%,#e9bf00 4.579%,#dbbf00 4.962%,#c9cf00 5.472%,#b6e400 6.11%,#a2f700 6.875%,#8dfd00 7.895%,#7efb00 9.171%,#74f900 10.7%,#71f800 11.73%,#6ff800 12.61%,#6df800 14.29%,#6df800 15.17%,#6ef800 15.56%,#75f900 16.07%,#81fb00 16.45%,#94fe00 16.84%,#a8f000 17.22%,#c1da00 17.73%,#cec900 18.35%,#cfc800 18.75%,#cace00 19.77%,#b4e600 20.54%,#90fe00 21.17%,#64f600 21.81%,#4df200 22.18%,#40df00 22.45%,#2c9800 23.09%,#244f00 23.72%,#213600 24.36%,#1f3100 25%,#1e2b00 25.77%,#1d2700 27.04%,#1d2600 27.28%,#1d2000 30.87%,#222f00 33.16%,#244100 33.66%,#274d00 34.06%,#295800 34.95%,#264500 35.84%,#212400 36.73%,#1d1600 37.88%,#1b1100 39.16%,#1b0c00 42.59%,#1b0800 46.17%,#1a0400 55.34%,#1a0400 56.38%,#190200 69.13%,#170100 84.44%,#160100 100%)"></i>
<i style="background:linear-gradient(#ff0000 0%,#ff0000 3.814%,#ff0000 4.005%,#e9bf00 4.26%,#d9bf00 4.643%,#c7d300 5.153%,#b2e700 5.791%,#9dfb00 6.556%,#8afd00 7.577%,#7efb00 8.852%,#77f900 10.38%,#74f900 11.73%,#74f900 12.3%,#72f900 14.29%,#72f900 14.85%,#73f900 15.56%,#79fa00 16.07%,#84fb00 16.45%,#94fe00 16.84%,#a5f300 17.22%,#bae000 17.73%,#c2d800 18.04%,#c7d200 18.75%,#c2d800 19.77%,#aeeb00 20.54%,#8cfd00 21.17%,#62f600 21.81%,#5ef500 21.86%,#40df00 22.45%,#2d9c00 23.09%,#245500 23.72%,#213b00 24.36%,#203400 25%,#1f2f00 25.77%,#1f2c00 26.96%,#1f2c00 27.04%,#1e2500 30.87%,#243b00 33.16%,#244200 33.34%,#285900 34.06%,#2b6200 34.95%,#284f00 35.84%,#232e00 36.73%,#1f1a00 37.88%,#1d1500 39.16%,#1d1000 42.27%,#1c0a00 46.17%,#1c0500 55.03%,#1c0500 56.38%,#1b0200 69.13%,#190200 84.44%,#180100 100%)"></i>
<i style="background:linear-gradient(#ff0000 0%,#ff0000 4.668%,#f45200 4.86%,#eabf00 5.115%,#debf00 5.497%,#ceca00 6.008%,#bcde00 6.645%,#aaef00 7.411%,#97ff00 8.431%,#8cfd00 9.707%,#85fc00 11.24%,#84fb00 11.73%,#82fb00 13.15%,#81fb00 14.29%,#82fb00 15.56%,#82fb00 15.7%,#86fc00 16.07%,#8ffd00 16.45%,#9dfb00 16.84%,#aaef00 17.22%,#bcde00 17.73%,#c7d200 18.75%,#c7d200 18.89%,#c3d800 19.77%,#aeeb00 20.54%,#8dfd00 21.17%,#61f600 21.81%,#3fde00 22.45%,#36d000 22.72%,#2da000 23.09%,#266100 23.72%,#234600 24.36%,#213700 25%,#203100 25.77%,#1e2a00 27.04%,#1e2700 27.82%,#1c2000 30.87%,#212c00 33.16%,#264a00 34.06%,#274d00 34.2%,#285500 34.95%,#264100 35.84%,#212200 36.73%,#1c1500 37.88%,#1b1000 39.16%,#1a0a00 43.12%,#1a0800 46.17%,#190400 55.88%,#190400 56.38%,#180200 69.13%,#170100 84.44%,#150100 100%)"></i>
<i style="background:linear-gradient(#ff0000 0%,#ff0000 5.077%,#ff0000 5.268%,#ebb900 5.523%,#dfbf00 5.906%,#d1c600 6.416%,#c0da00 7.054%,#afeb00 7.819%,#9cfd00 8.839%,#8efd00 10.11%,#86fc00 11.65%,#86fc00 11.73%,#82fb00 13.56%,#82fb00 14.29%,#82fb00 15.56%,#87fc00 16.07%,#87fc00 16.11%,#90fe00 16.45%,#a0f900 16.84%,#afeb00 17.22%,#c2d800 17.73%,#cec900 18.75%,#ceca00 19.3%,#cacf00 19.77%,#b4e500 20.54%,#91fe00 21.17%,#64f600 21.81%,#42e200 22.45%,#30b700 23.09%,#30b200 23.12%,#298100 23.72%,#266500 24.36%,#245300 25%,#224200 25.77%,#213200 27.04%,#1f2d00 28.23%,#1e2400 30.87%,#223200 33.16%,#274e00 34.06%,#295800 34.6%,#295800 34.95%,#264400 35.84%,#212400 36.73%,#1d1600 37.88%,#1b1100 39.16%,#1b0b00 43.53%,#1a0800 46.17%,#190400 56.29%,#190400 56.38%,#180200 69.13%,#170100 84.44%,#160100 100%)"></i>
<i style="background:linear-gradient(#ff0000 0%,#ff0000 8.431%,#ff0000 8.622%,#f07b00 8.878%,#ecb000 9.26%,#e6bf00 9.77%,#dfbf00 10.41%,#d8bf00 11.17%,#d3c400 11.73%,#cec900 12.19%,#c4d600 13.47%,#bedd00 14.29%,#b8e200 15%,#b5e500 15.56%,#b1e800 16.07%,#afea00 16.45%,#afea00 16.84%,#b0ea00 16.91%,#b4e600 17.22%,#c2d800 17.73%,#cec900 18.75%,#cccc00 19.46%,#c9d000 19.77%,#b5e400 20.54%,#9efb00 21.17%,#92fe00 21.81%,#8dfd00 22.45%,#8cfd00 22.65%,#8afd00 23.09%,#87fc00 23.72%,#85fc00 24.36%,#82f800 25%,#7ff300 25.77%,#7cef00 26.48%,#7aeb00 27.04%,#6dd200 30.87%,#6acb00 31.58%,#66bb00 33.16%,#63b200 34.06%,#61a900 34.95%,#5ea100 35.84%,#5c9800 36.73%,#588c00 37.88%,#588c00 37.96%,#558000 39.16%,#454100 46.17%,#443c00 46.89%,#341e00 56.38%,#2f1700 59.64%,#260800 69.13%,#1d0200 84.44%,#180100 100%)"></i>
<i style="background:linear-gradient(#ff0000 0%,#ff0000 8.776%,#ff0000 8.967%,#f17a00 9.222%,#ecad00 9.605%,#e7bf00 10.11%,#e0bf00 10.75%,#d9bf00 11.52%,#d7bf00 11.73%,#d0c700 12.54%,#c5d400 13.81%,#c2d900 14.29%,#bae000 15.34%,#b9e100 15.56%,#b5e400 16.07%,#b3e600 16.45%,#b3e700 16.84%,#b6e400 17.22%,#b6e300 17.26%,#c1d900 17.73%,#cbcd00 18.75%,#c6d300 19.77%,#c6d400 19.81%,#b4e600 20.54%,#9ff900 21.17%,#95fe00 21.81%,#91fe00 22.45%,#8ffd00 23%,#8efd00 23.09%,#8bfd00 23.72%,#89fc00 24.36%,#86f900 25%,#83f400 25.77%,#7fed00 26.82%,#7eeb00 27.04%,#71d300 30.87%,#6dc800 31.93%,#6abc00 33.16%,#67b300 34.06%,#65aa00 34.95%,#62a100 35.84%,#5f9800 36.73%,#5c8d00 37.88%,#5b8900 38.3%,#598000 39.16%,#494300 46.17%,#473b00 47.23%,#371f00 56.38%,#321900 59.99%,#280a00 69.13%,#1e0300 84.44%,#190100 100%)"></i>
<i style="background:linear-gradient(#ff0000 0%,#ff0000 7.041%,#f45200 7.232%,#f08200 7.487%,#eabf00 7.87%,#e4bf00 8.38%,#dcbf00 9.018%,#d3c300 9.783%,#c9d000 10.8%,#c0db00 11.73%,#bddd00 12.08%,#b0e900 13.61%,#abee00 14.29%,#a3f600 15.52%,#a2f600 15.56%,#a0f900 16.07%,#9ff900 16.45%,#a3f600 16.84%,#adec00 17.22%,#c0da00 17.73%,#c9d000 18.07%,#cdcb00 18.75%,#c8d100 19.77%,#b3e700 20.54%,#95fe00 21.17%,#91fe00 21.26%,#81fb00 21.81%,#7cfa00 22.45%,#78fa00 23.09%,#76f900 23.72%,#73f900 24.36%,#70f500 25%,#70f500 25.09%,#6df000 25.77%,#68e800 27.04%,#5dd400 30.19%,#5bd000 30.87%,#54b900 33.16%,#52b000 34.06%,#50a800 34.95%,#4d9f00 35.84%,#4b9600 36.57%,#4b9400 36.73%,#478700 37.88%,#447900 39.16%,#373f00 45.5%,#363b00 46.17%,#271100 56.38%,#260d00 58.25%,#1e0300 69.13%,#180200 84.44%,#160100 100%)"></i>
<i style="background:linear-gradient(#ff0000 0%,#ff0000 7.832%,#ff0000 8.023%,#f07e00 8.278%,#ebb600 8.661%,#e5bf00 9.171%,#debf00 9.809%,#d6bf00 10.57%,#cccc00 11.59%,#cbcd00 11.73%,#c1d900 12.87%,#b6e300 14.29%,#b6e400 14.4%,#aeec00 15.56%,#abee00 16.07%,#aaef00 16.31%,#aaef00 16.45%,#aeec00 16.84%,#b6e400 17.22%,#c6d400 17.73%,#d2c500 18.75%,#d1c500 18.86%,#cdcb00 19.77%,#b8e200 20.54%,#9cfc00 21.17%,#8bfd00 21.81%,#89fc00 22.05%,#86fc00 22.45%,#83fb00 23.09%,#80fb00 23.72%,#7dfa00 24.36%,#7bf700 25%,#78f200 25.77%,#77f100 25.88%,#73ea00 27.04%,#66d100 30.87%,#65d000 30.98%,#5fba00 33.16%,#5cb200 34.06%,#5aa900 34.95%,#57a000 35.84%,#559700 36.73%,#539100 37.36%,#518c00 37.88%,#4e7f00 39.16%,#3f3f00 46.17%,#3f3e00 46.29%,#2f1900 56.38%,#2b1400 59.04%,#230600 69.13%,#1b0200 84.44%,#180100 100%)"></i>
<i style="background:linear-gradient(#ff0000 0%,#ff0000 7.844%,#ff0000 8.036%,#f07d00 8.291%,#ebb600 8.673%,#e5bf00 9.184%,#debf00 9.821%,#d6bf00 10.59%,#cccb00 11.61%,#cbcd00 11.73%,#c1d900 12.88%,#b7e300 14.29%,#b6e400 14.41%,#aeeb00 15.56%,#abee00 16.07%,#abee00 16.33%,#abee00 16.45%,#aeeb00 16.84%,#b6e400 17.22%,#c5d500 17.73%,#d0c700 18.75%,#d0c700 18.88%,#cbcd00 19.77%,#b7e300 20.54%,#9cfd00 21.17%,#8bfd00 21.81%,#89fc00 22.07%,#86fc00 22.45%,#83fb00 23.09%,#80fb00 23.72%,#7efa00 24.36%,#7bf700 25%,#78f200 25.77%,#77f100 25.89%,#73ea00 27.04%,#66d100 30.87%,#65d000 30.99%,#5fba00 33.16%,#5cb200 34.06%,#5aa900 34.95%,#57a000 35.84%,#559700 36.73%,#539100 37.37%,#528c00 37.88%,#4e7f00 39.16%,#3f3f00 46.17%,#3f3e00 46.3%,#2f1a00 56.38%,#2c1400 59.06%,#230600 69.13%,#1c0200 84.44%,#190100 100%)"></i>
<i style="background:linear-gradient(#ff0000 0%,#ff0000 8.533%,#ff0000 8.724%,#f17a00 8.98%,#ecae00 9.362%,#e6bf00 9.872%,#e0bf00 10.51%,#d8bf00 11.28%,#d4c200 11.73%,#cfc800 12.3%,#c5d500 13.57%,#bfdb00 14.29%,#b9e100 15.1%,#b6e300 15.56%,#b3e600 16.07%,#b2e700 16.45%,#b3e600 16.84%,#b5e500 17.02%,#b8e200 17.22%,#c5d500 17.73%,#cfc900 18.75%,#cccc00 19.57%,#cacf00 19.77%,#b7e300 20.54%,#9ff900 21.17%,#93fe00 21.81%,#8ffd00 22.45%,#8dfd00 22.76%,#8bfd00 23.09%,#89fc00 23.72%,#86fc00 24.36%,#83f800 25%,#80f300 25.77%,#7dee00 26.58%,#7beb00 27.04%,#6ed300 30.87%,#6bca00 31.68%,#67bb00 33.16%,#64b300 34.06%,#62aa00 34.95%,#5fa100 35.84%,#5d9800 36.73%,#5a8d00 37.88%,#598b00 38.06%,#568000 39.16%,#474200 46.17%,#453c00 46.99%,#351e00 56.38%,#311800 59.74%,#270900 69.13%,#1e0300 84.44%,#1a0100 100%)"></i>
<i style="background:linear-gradient(#ff0000 0%,#ff0000 0.8673%,#f35700 1.059%,#cdcb00 1.314%,#a0f900 1.696%,#7efb00 2.207%,#6ef800 2.844%,#69f700 3.61%,#67f700 4.63%,#67f700 5.906%,#67f700 7.436%,#67f700 9.349%,#67f700 11.73%,#67f700 11.9%,#67f700 14.29%,#67f700 15.09%,#69f700 15.56%,#70f800 16.07%,#7efa00 16.45%,#93fe00 16.84%,#a9f000 17.22%,#c3d700 17.73%,#d3c400 18.75%,#d3c400 18.92%,#cdca00 19.77%,#b6e400 20.54%,#91fe00 21.17%,#62f600 21.81%,#3ddb00 22.45%,#277100 23.09%,#1e2b00 23.72%,#1c2400 24.02%,#1b1f00 24.36%,#1a1b00 25%,#191800 25.77%,#191700 27.04%,#181500 30.4%,#191500 30.87%,#1e2100 33.16%,#233500 34.06%,#254100 34.95%,#232f00 35.84%,#1e1a00 36.73%,#190e00 37.88%,#180c00 39.16%,#180c00 39.32%,#170600 46.17%,#170400 52.08%,#160300 56.38%,#150200 69.13%,#140100 84.44%,#130100 100%)"></i>
<i style="background:linear-gradient(#ff0000 0%,#ff0000 1.173%,#f35b00 1.365%,#d4c200 1.62%,#afeb00 2.003%,#88fc00 2.513%,#6cf800 3.151%,#54f400 3.916%,#43e400 4.936%,#3cd900 6.212%,#3ad700 7.742%,#3ad600 9.656%,#3ad600 11.73%,#3ad600 12.21%,#3ad600 14.29%,#3bd800 15.4%,#3cd900 15.56%,#45e800 16.07%,#57f400 16.45%,#73f900 16.84%,#92fe00 17.22%,#b5e500 17.73%,#c8d100 18.75%,#c7d200 19.22%,#c2d800 19.77%,#abee00 20.54%,#87fc00 21.17%,#5cf500 21.81%,#39d400 22.45%,#245000 23.09%,#1b1e00 23.72%,#181700 24.32%,#181700 24.36%,#171600 25%,#161400 25.77%,#161300 27.04%,#151100 30.7%,#151100 30.87%,#1b1800 33.16%,#202500 34.06%,#222d00 34.95%,#202100 35.84%,#1b1300 36.73%,#160c00 37.88%,#150a00 39.16%,#150a00 39.63%,#140500 46.17%,#130300 52.39%,#130200 56.38%,#120100 69.13%,#110100 84.44%,#100100 100%)"></i>
<i style="background:linear-gradient(#ff0000 0%,#ff0000 1.99%,#f35500 2.181%,#e0bf00 2.436%,#c6d400 2.819%,#a8f100 3.329%,#8bfd00 3.967%,#77f900 4.732%,#66f700 5.753%,#5df500 7.028%,#5af500 8.559%,#59f400 10.47%,#59f400 11.73%,#59f400 13.02%,#59f400 14.29%,#5bf500 15.56%,#63f600 16.07%,#68f700 16.21%,#73f900 16.45%,#8bfd00 16.84%,#a5f400 17.22%,#c4d700 17.73%,#d5c100 18.75%,#cfc800 19.77%,#c9d000 20.04%,#b7e300 20.54%,#91fe00 21.17%,#61f600 21.81%,#3bd800 22.45%,#255c00 23.09%,#1b2100 23.72%,#181800 24.36%,#171600 25%,#171600 25.14%,#171500 25.77%,#161400 27.04%,#161200 30.87%,#161200 31.52%,#1c1a00 33.16%,#202600 34.06%,#233100 34.95%,#202200 35.84%,#1b1400 36.73%,#170d00 37.88%,#150a00 39.16%,#150900 40.45%,#150500 46.17%,#140300 53.2%,#140300 56.38%,#130100 69.13%,#110100 84.44%,#100100 100%)"></i>
<i style="background:linear-gradient(#ff0000 0%,#ff0000 2.27%,#ff0000 2.462%,#e2bf00 2.717%,#cbce00 3.099%,#b0ea00 3.61%,#93fe00 4.247%,#7dfa00 5.013%,#68f700 6.033%,#57f400 7.309%,#4ef200 8.839%,#4aef00 10.75%,#4aee00 11.73%,#49ed00 13.3%,#49ed00 14.29%,#4bf000 15.56%,#54f400 16.07%,#65f600 16.45%,#68f700 16.49%,#80fb00 16.84%,#9efb00 17.22%,#bfdb00 17.73%,#d2c500 18.75%,#cccc00 19.77%,#bdde00 20.32%,#b3e600 20.54%,#8dfd00 21.17%,#5ff500 21.81%,#3ad600 22.45%,#245000 23.09%,#1a1c00 23.72%,#171600 24.36%,#161500 25%,#161400 25.42%,#151300 25.77%,#151200 27.04%,#151000 30.87%,#161000 31.8%,#1a1600 33.16%,#1f2300 34.06%,#212900 34.95%,#1f1f00 35.84%,#1a1100 36.73%,#150c00 37.88%,#140a00 39.16%,#140800 40.73%,#130500 46.17%,#130300 53.48%,#120200 56.38%,#110100 69.13%,#100100 84.44%,#0f0100 100%)"></i>
<i style="background:linear-gradient(#ff0000 0%,#ff0000 2.054%,#f35200 2.245%,#e0bf00 2.5%,#c7d200 2.883%,#aaef00 3.393%,#8cfd00 4.031%,#77f900 4.796%,#64f600 5.816%,#57f400 7.092%,#52f300 8.622%,#51f300 10.54%,#50f300 11.73%,#50f300 13.09%,#50f300 14.29%,#52f300 15.56%,#5bf500 16.07%,#62f600 16.28%,#6af700 16.45%,#83fb00 16.84%,#9efb00 17.22%,#bcde00 17.73%,#ceca00 18.75%,#c8d100 19.77%,#c1da00 20.1%,#b1e900 20.54%,#8cfd00 21.17%,#5ef500 21.81%,#39d500 22.45%,#245000 23.09%,#1a1d00 23.72%,#171700 24.36%,#161500 25%,#161500 25.2%,#161400 25.77%,#151300 27.04%,#151100 30.87%,#161100 31.58%,#1b1700 33.16%,#1f2400 34.06%,#222b00 34.95%,#1f2000 35.84%,#1a1200 36.73%,#160c00 37.88%,#140a00 39.16%,#140900 40.51%,#140500 46.17%,#130300 53.27%,#130200 56.38%,#120100 69.13%,#100100 84.44%,#0f0100 100%)"></i>
<i style="background:linear-gradient(#ff0000 0%,#ff0000 2.309%,#ff0000 2.5%,#e2bf00 2.755%,#cbcd00 3.138%,#b0e900 3.648%,#94fe00 4.286%,#7dfa00 5.051%,#67f700 6.071%,#52f300 7.347%,#44e500 8.878%,#3ddb00 10.79%,#3bd900 11.73%,#3ad700 13.34%,#3ad700 14.29%,#3cda00 15.56%,#46e900 16.07%,#59f400 16.45%,#5ff500 16.53%,#77f900 16.84%,#99ff00 17.22%,#bedd00 17.73%,#d2c500 18.75%,#cccc00 19.77%,#bbdf00 20.36%,#b3e700 20.54%,#8dfd00 21.17%,#5ff500 21.81%,#3ad700 22.45%,#245500 23.09%,#1b1e00 23.72%,#181700 24.36%,#171600 25%,#161500 25.46%,#161400 25.77%,#161300 27.04%,#151100 30.87%,#161100 31.84%,#1b1700 33.16%,#202400 34.06%,#222c00 34.95%,#202100 35.84%,#1b1200 36.73%,#160c00 37.88%,#150a00 39.16%,#140900 40.77%,#140500 46.17%,#130300 53.52%,#130200 56.38%,#120100 69.13%,#110100 84.44%,#0f0100 100%)"></i>
<i style="background:linear-gradient(#ff0000 0%,#ff0000 2.321%,#ff0000 2.513%,#e3bf00 2.768%,#cccd00 3.151%,#b1e900 3.661%,#94fe00 4.298%,#7efb00 5.064%,#69f700 6.084%,#59f400 7.36%,#50f300 8.89%,#4cf200 10.8%,#4bf100 11.73%,#4bf000 13.35%,#4bf000 14.29%,#4df200 15.56%,#56f400 16.07%,#68f700 16.45%,#6df800 16.54%,#83fb00 16.84%,#a1f700 17.22%,#c3d700 17.73%,#d6c000 18.75%,#d0c700 19.77%,#bfdc00 20.37%,#b7e200 20.54%,#92fe00 21.17%,#64f600 21.81%,#3edd00 22.45%,#287900 23.09%,#1f2e00 23.72%,#1c2200 24.36%,#1b1d00 25%,#1a1b00 25.47%,#1a1a00 25.77%,#191800 27.04%,#191500 30.87%,#1a1700 31.85%,#1f2300 33.16%,#243900 34.06%,#264500 34.95%,#233200 35.84%,#1e1c00 36.73%,#1a1000 37.88%,#180d00 39.16%,#180b00 40.78%,#180700 46.17%,#170400 53.53%,#170300 56.38%,#160200 69.13%,#150100 84.44%,#130100 100%)"></i>
<i style="background:linear-gradient(#ff0000 0%,#ff0000 7.168%,#ff0000 7.36%,#ee9300 7.615%,#e7bf00 7.997%,#ddbf00 8.508%,#d2c400 9.145%,#c6d300 9.911%,#b7e300 10.93%,#aced00 11.73%,#a6f300 12.21%,#94fe00 13.74%,#8efd00 14.29%,#84fc00 15.56%,#84fb00 15.65%,#81fb00 16.07%,#80fb00 16.45%,#87fc00 16.84%,#9dfc00 17.22%,#bedc00 17.73%,#cec900 18.2%,#d2c500 18.75%,#cccc00 19.77%,#b4e600 20.54%,#90fe00 21.17%,#83fb00 21.39%,#6df800 21.81%,#5df500 22.45%,#58f400 23.09%,#54f400 23.72%,#51f300 24.36%,#4ff000 25%,#4eee00 25.22%,#4be900 25.77%,#46db00 27.04%,#3bba00 30.32%,#39b500 30.87%,#349d00 33.16%,#349500 34.06%,#348e00 34.95%,#317d00 35.84%,#2d6500 36.7%,#2d6400 36.73%,#294b00 37.88%,#273800 39.16%,#1f0f00 45.62%,#1f0d00 46.17%,#1a0400 56.38%,#1a0400 58.38%,#180200 69.13%,#160100 84.44%,#150100 100%)"></i>
<i style="background:linear-gradient(#ff0000 0%,#ff0000 2.921%,#ff0000 3.112%,#e6bf00 3.367%,#d2c400 3.75%,#bcdf00 4.26%,#a3f600 4.898%,#8afd00 5.663%,#76f900 6.684%,#62f600 7.959%,#53f300 9.49%,#4bef00 11.4%,#4aee00 11.73%,#47ea00 13.95%,#47ea00 14.29%,#48ec00 15.56%,#51f300 16.07%,#63f600 16.45%,#7efb00 16.84%,#97ff00 17.14%,#9dfb00 17.22%,#bfdb00 17.73%,#d2c500 18.75%,#cccc00 19.77%,#b4e600 20.54%,#9cfc00 20.97%,#8ffd00 21.17%,#61f600 21.81%,#3ddb00 22.45%,#277100 23.09%,#1e2b00 23.72%,#1b2000 24.36%,#1a1b00 25%,#191800 25.77%,#191800 26.07%,#191700 27.04%,#181400 30.87%,#1b1800 32.45%,#1e2100 33.16%,#233300 34.06%,#254000 34.95%,#232d00 35.84%,#1e1a00 36.73%,#190e00 37.88%,#180c00 39.16%,#170a00 41.38%,#170600 46.17%,#160300 54.13%,#160300 56.38%,#150200 69.13%,#140100 84.44%,#120100 100%)"></i>
<i style="background:linear-gradient(#ff0000 0%,#ff0000 1.658%,#ff0000 1.849%,#ddbf00 2.105%,#bfdb00 2.487%,#9efa00 2.997%,#81fb00 3.635%,#6af700 4.401%,#56f400 5.421%,#4aee00 6.696%,#46e800 8.227%,#44e600 10.14%,#44e600 11.73%,#44e600 12.69%,#44e600 14.29%,#46e900 15.56%,#4bf000 15.88%,#50f300 16.07%,#62f600 16.45%,#7efa00 16.84%,#9dfc00 17.22%,#bfdb00 17.73%,#d2c400 18.75%,#ceca00 19.71%,#cdcb00 19.77%,#b5e500 20.54%,#8ffd00 21.17%,#63f600 21.81%,#3edd00 22.45%,#297f00 23.09%,#1f3100 23.72%,#1d2600 24.36%,#1c2200 24.81%,#1b2100 25%,#1b1d00 25.77%,#1a1b00 27.04%,#1a1800 30.87%,#1a1800 31.19%,#202600 33.16%,#243f00 34.06%,#274b00 34.95%,#243800 35.84%,#1f1e00 36.73%,#1b1200 37.88%,#190d00 39.16%,#190c00 40.11%,#190700 46.17%,#180400 52.87%,#180300 56.38%,#170200 69.13%,#160100 84.44%,#140100 100%)"></i>
<i style="background:linear-gradient(#ff0000 0%,#ff0000 2.105%,#ff0000 2.296%,#e1bf00 2.551%,#c8d100 2.934%,#acee00 3.444%,#8efd00 4.082%,#7afa00 4.847%,#67f700 5.867%,#5cf500 7.143%,#57f400 8.673%,#56f400 10.59%,#55f400 11.73%,#55f400 13.14%,#55f400 14.29%,#57f400 15.56%,#60f500 16.07%,#6af700 16.33%,#70f800 16.45%,#89fc00 16.84%,#a5f400 17.22%,#c4d600 17.73%,#d6c000 18.75%,#d0c700 19.77%,#c7d200 20.15%,#b8e200 20.54%,#92fe00 21.17%,#64f600 21.81%,#3edc00 22.45%,#287800 23.09%,#1e2d00 23.72%,#1c2200 24.36%,#1b1d00 25%,#1a1c00 25.26%,#1a1900 25.77%,#191800 27.04%,#191500 30.87%,#1a1600 31.63%,#1f2300 33.16%,#233800 34.06%,#264500 34.95%,#233200 35.84%,#1e1c00 36.73%,#1a0f00 37.88%,#180d00 39.16%,#180b00 40.56%,#180600 46.17%,#170400 53.32%,#170300 56.38%,#160200 69.13%,#150100 84.44%,#130100 100%)"></i>
<i style="background:linear-gradient(#ff0000 0%,#ff0000 1.722%,#f35a00 1.913%,#ddbf00 2.168%,#c0db00 2.551%,#9ff900 3.061%,#82fb00 3.699%,#6bf700 4.464%,#56f400 5.485%,#48ec00 6.76%,#43e400 8.291%,#41e200 10.2%,#41e100 11.73%,#41e100 12.76%,#41e100 14.29%,#43e400 15.56%,#49ee00 15.94%,#4df200 16.07%,#60f500 16.45%,#7dfa00 16.84%,#9efb00 17.22%,#c2d900 17.73%,#d5c000 18.75%,#cfc800 19.77%,#b7e300 20.54%,#92fe00 21.17%,#66f600 21.81%,#42e200 22.45%,#2c9800 23.09%,#234700 23.72%,#203300 24.36%,#1f2f00 24.87%,#1f2e00 25%,#1e2a00 25.77%,#1e2700 27.04%,#1d2300 30.87%,#1e2300 31.25%,#233800 33.16%,#285600 34.06%,#2a5f00 34.95%,#284d00 35.84%,#232c00 36.73%,#1e1900 37.88%,#1d1400 39.16%,#1c1200 40.18%,#1c0a00 46.17%,#1b0500 52.93%,#1b0500 56.38%,#1a0200 69.13%,#190200 84.44%,#180100 100%)"></i>
<i style="background:linear-gradient(#ff0000 0%,#ff0000 2.411%,#ff0000 2.602%,#e3bf00 2.857%,#cdcb00 3.24%,#b3e700 3.75%,#97ff00 4.388%,#81fb00 5.153%,#6df800 6.173%,#5df500 7.449%,#55f400 8.98%,#52f300 10.89%,#51f300 11.73%,#51f300 13.44%,#51f300 14.29%,#53f300 15.56%,#5bf500 16.07%,#6af700 16.45%,#75f900 16.63%,#82fb00 16.84%,#9dfb00 17.22%,#bbdf00 17.73%,#cccc00 18.75%,#c7d200 19.77%,#b4e600 20.46%,#b0e900 20.54%,#8dfd00 21.17%,#62f600 21.81%,#40df00 22.45%,#2b9100 23.09%,#224200 23.72%,#1f3100 24.36%,#1e2d00 25%,#1e2a00 25.56%,#1e2900 25.77%,#1d2600 27.04%,#1d2200 30.87%,#1e2300 31.94%,#233400 33.16%,#275300 34.06%,#2a5d00 34.95%,#274a00 35.84%,#222900 36.73%,#1e1800 37.88%,#1c1300 39.16%,#1c1000 40.87%,#1c0900 46.17%,#1b0500 53.62%,#1b0400 56.38%,#1a0200 69.13%,#180200 84.44%,#170100 100%)"></i>
<i style="background:linear-gradient(#ff0000 0%,#ff0000 2.717%,#ff0000 2.908%,#e5bf00 3.163%,#d0c600 3.546%,#b9e100 4.056%,#9ffa00 4.694%,#86fc00 5.459%,#71f800 6.48%,#5df500 7.755%,#4df200 9.286%,#44e600 11.2%,#43e400 11.73%,#40e000 13.75%,#40e000 14.29%,#42e200 15.56%,#4bf000 16.07%,#5cf500 16.45%,#77f900 16.84%,#7ffb00 16.94%,#95fe00 17.22%,#b6e400 17.73%,#c8d100 18.75%,#c3d700 19.77%,#adec00 20.54%,#a2f600 20.77%,#8bfd00 21.17%,#63f600 21.81%,#42e200 22.45%,#2ea700 23.09%,#256000 23.72%,#234700 24.36%,#223d00 25%,#213500 25.77%,#213500 25.87%,#203200 27.04%,#202d00 30.87%,#223300 32.24%,#264b00 33.16%,#2b6600 34.06%,#2d6e00 34.95%,#2a5c00 35.84%,#253c00 36.73%,#212000 37.88%,#1f1a00 39.16%,#1f1600 41.17%,#1f0d00 46.17%,#1e0700 53.93%,#1e0600 56.38%,#1d0300 69.13%,#1c0200 84.44%,#1a0100 100%)"></i>
<i style="background:linear-gradient(#ff0000 0%,#ff0000 2.462%,#f35600 2.653%,#e3bf00 2.908%,#cdcb00 3.291%,#b3e700 3.801%,#98ff00 4.439%,#81fb00 5.204%,#6cf800 6.224%,#5bf500 7.5%,#51f300 9.031%,#4df200 10.94%,#4df200 11.73%,#4cf100 13.49%,#4cf100 14.29%,#4ef200 15.56%,#56f400 16.07%,#66f700 16.45%,#75f900 16.68%,#80fb00 16.84%,#9cfd00 17.22%,#bbdf00 17.73%,#cccc00 18.75%,#c7d200 19.77%,#b2e800 20.51%,#b1e900 20.54%,#8efd00 21.17%,#64f600 21.81%,#42e200 22.45%,#2ea500 23.09%,#255c00 23.72%,#224200 24.36%,#213800 25%,#213400 25.61%,#203300 25.77%,#203000 27.04%,#202b00 30.87%,#212d00 31.99%,#254800 33.16%,#2a6400 34.06%,#2d6b00 34.95%,#2a5900 35.84%,#253900 36.73%,#211f00 37.88%,#1f1900 39.16%,#1f1500 40.92%,#1e0d00 46.17%,#1e0700 53.67%,#1d0600 56.38%,#1c0300 69.13%,#1b0200 84.44%,#1a0100 100%)"></i>
<i style="background:linear-gradient(#ff0000 0%,#ff0000 1.773%,#ff0000 1.964%,#debf00 2.219%,#c1d900 2.602%,#a2f700 3.112%,#85fc00 3.75%,#71f800 4.515%,#61f600 5.536%,#59f400 6.811%,#57f400 8.342%,#56f400 10.26%,#56f400 11.73%,#56f400 12.81%,#56f400 14.29%,#58f400 15.56%,#5ef500 15.99%,#60f500 16.07%,#6ff800 16.45%,#86fc00 16.84%,#a0f800 17.22%,#bddd00 17.73%,#ceca00 18.75%,#c8d000 19.77%,#c8d100 19.82%,#b2e700 20.54%,#90fd00 21.17%,#65f600 21.81%,#42e300 22.45%,#2ea700 23.09%,#255e00 23.72%,#224400 24.36%,#213a00 24.92%,#213a00 25%,#213400 25.77%,#203100 27.04%,#202c00 30.87%,#202c00 31.3%,#264a00 33.16%,#2a6500 34.06%,#2d6c00 34.95%,#2a5b00 35.84%,#253a00 36.73%,#211f00 37.88%,#1f1900 39.16%,#1f1700 40.23%,#1f0d00 46.17%,#1e0700 52.98%,#1e0600 56.38%,#1d0300 69.13%,#1b0200 84.44%,#1a0100 100%)"></i>
<i style="background:linear-gradient(#ff0000 0%,#ff0000 7.717%,#ff0000 7.908%,#ef9000 8.163%,#e8bf00 8.546%,#dfbf00 9.056%,#d4c200 9.694%,#c9d000 10.46%,#bbe000 11.48%,#b7e300 11.73%,#aaef00 12.76%,#99ff00 14.29%,#8cfd00 15.56%,#89fc00 16.07%,#88fc00 16.2%,#88fc00 16.45%,#8cfd00 16.84%,#9dfb00 17.22%,#bbe000 17.73%,#cccc00 18.75%,#c7d300 19.77%,#b0e900 20.54%,#8ffd00 21.17%,#70f800 21.81%,#6df800 21.94%,#64f600 22.45%,#60f500 23.09%,#5cf500 23.72%,#59f400 24.36%,#56f100 25%,#53ec00 25.77%,#4ee400 27.04%,#40be00 30.87%,#3ba400 33.16%,#3a9c00 34.06%,#399300 34.95%,#368900 35.84%,#337d00 36.73%,#317000 37.24%,#2f6300 37.88%,#2c4f00 39.16%,#231400 46.17%,#1d0600 56.38%,#1c0500 58.93%,#1a0200 69.13%,#180200 84.44%,#170100 100%)"></i>
<i style="background:linear-gradient(#ff0000 0%,#ff0000 2.258%,#f35600 2.449%,#e2bf00 2.704%,#cacf00 3.087%,#afeb00 3.597%,#92fe00 4.235%,#7efa00 5%,#6cf700 6.02%,#60f600 7.296%,#5bf500 8.827%,#5af400 10.74%,#5af400 11.73%,#5af400 13.29%,#5af400 14.29%,#5bf500 15.56%,#63f600 16.07%,#72f900 16.45%,#73f900 16.48%,#89fc00 16.84%,#a2f600 17.22%,#bfdb00 17.73%,#cfc800 18.75%,#cacf00 19.77%,#bcde00 20.31%,#b3e700 20.54%,#8ffd00 21.17%,#62f600 21.81%,#3edc00 22.45%,#297f00 23.09%,#203200 23.72%,#1d2600 24.36%,#1c2200 25%,#1b2000 25.41%,#1b1e00 25.77%,#1a1b00 27.04%,#1a1800 30.87%,#1b1a00 31.79%,#202600 33.16%,#254000 34.06%,#274c00 34.95%,#243900 35.84%,#1f1f00 36.73%,#1b1200 37.88%,#1a0d00 39.16%,#190c00 40.71%,#190700 46.17%,#180400 53.47%,#180300 56.38%,#170200 69.13%,#160100 84.44%,#140100 100%)"></i>
<i style="background:linear-gradient(#ff0000 0%,#ff0000 3.559%,#f35300 3.75%,#e8bf00 4.005%,#d7bf00 4.388%,#c4d600 4.898%,#afea00 5.536%,#9bfd00 6.301%,#8cfd00 7.321%,#84fc00 8.597%,#81fb00 10.13%,#7ffb00 11.73%,#7ffb00 12.04%,#7ffb00 14.29%,#7ffb00 14.59%,#80fb00 15.56%,#86fc00 16.07%,#91fe00 16.45%,#a2f600 16.84%,#b3e600 17.22%,#c9cf00 17.73%,#cbcd00 17.78%,#d7bf00 18.75%,#d2c500 19.77%,#bbdf00 20.54%,#95fe00 21.17%,#74f900 21.61%,#64f600 21.81%,#3ddb00 22.45%,#277100 23.09%,#1e2b00 23.72%,#1b1f00 24.36%,#1a1a00 25%,#191800 25.77%,#181700 26.71%,#181600 27.04%,#181400 30.87%,#1d1d00 33.09%,#1d1e00 33.16%,#222d00 34.06%,#243a00 34.95%,#222800 35.84%,#1d1800 36.73%,#180e00 37.88%,#170b00 39.16%,#160900 42.02%,#160600 46.17%,#150300 54.77%,#150300 56.38%,#140100 69.13%,#130100 84.44%,#110100 100%)"></i>
<i style="background:linear-gradient(#ff0000 0%,#ff0000 3.099%,#ff0000 3.291%,#e6bf00 3.546%,#d4c200 3.929%,#bfdc00 4.439%,#a8f100 5.077%,#92fe00 5.842%,#85fc00 6.862%,#7efa00 8.138%,#7afa00 9.668%,#79fa00 11.58%,#79fa00 11.73%,#79fa00 14.13%,#79fa00 14.29%,#7afa00 15.56%,#80fb00 16.07%,#8afd00 16.45%,#9afe00 16.84%,#aaef00 17.22%,#afea00 17.32%,#bfdb00 17.73%,#cbcd00 18.75%,#c7d300 19.77%,#b1e800 20.54%,#90fe00 21.15%,#8efd00 21.17%,#61f600 21.81%,#3edc00 22.45%,#298100 23.09%,#203400 23.72%,#1d2900 24.36%,#1c2400 25%,#1b2000 25.77%,#1b1e00 26.25%,#1b1d00 27.04%,#1b1a00 30.87%,#1e2100 32.63%,#202700 33.16%,#254200 34.06%,#274e00 34.95%,#253b00 35.84%,#201f00 36.73%,#1b1300 37.88%,#1a0e00 39.16%,#190b00 41.56%,#190700 46.17%,#180400 54.31%,#180300 56.38%,#170200 69.13%,#160100 84.44%,#150100 100%)"></i>
<i style="background:linear-gradient(#ff0000 0%,#ff0000 3.138%,#ff0000 3.329%,#e6bf00 3.584%,#d4c100 3.967%,#bfdb00 4.477%,#a9f000 5.115%,#94fe00 5.88%,#87fc00 6.901%,#80fb00 8.176%,#7dfa00 9.707%,#7cfa00 11.62%,#7cfa00 11.73%,#7cfa00 14.17%,#7cfa00 14.29%,#7dfa00 15.56%,#82fb00 16.07%,#8dfd00 16.45%,#9dfb00 16.84%,#adec00 17.22%,#b4e600 17.36%,#c2d900 17.73%,#cec900 18.75%,#cacf00 19.77%,#b4e600 20.54%,#90fe00 21.17%,#90fd00 21.19%,#62f600 21.81%,#3edc00 22.45%,#298300 23.09%,#203400 23.72%,#1d2900 24.36%,#1c2400 25%,#1b2000 25.77%,#1b1e00 26.29%,#1b1d00 27.04%,#1b1900 30.87%,#1e2100 32.67%,#202700 33.16%,#254200 34.06%,#274e00 34.95%,#253b00 35.84%,#201f00 36.73%,#1b1300 37.88%,#1a0e00 39.16%,#190b00 41.59%,#190700 46.17%,#180400 54.35%,#180300 56.38%,#170200 69.13%,#160100 84.44%,#150100 100%)"></i>
<i style="background:linear-gradient(#ff0000 0%,#ff0000 2.679%,#ff0000 2.87%,#e5bf00 3.125%,#d0c700 3.508%,#b8e200 4.018%,#9ff900 4.656%,#8afd00 5.421%,#7cfa00 6.441%,#75f900 7.717%,#72f800 9.247%,#71f800 11.16%,#71f800 11.73%,#71f800 13.71%,#71f800 14.29%,#72f900 15.56%,#79fa00 16.07%,#86fc00 16.45%,#99ff00 16.84%,#9cfc00 16.9%,#aeeb00 17.22%,#c7d300 17.73%,#d5c000 18.75%,#d0c700 19.77%,#b9e100 20.54%,#b0ea00 20.73%,#94fe00 21.17%,#64f600 21.81%,#3fde00 22.45%,#298000 23.09%,#1f3100 23.72%,#1d2600 24.36%,#1b2100 25%,#1b1d00 25.77%,#1b1d00 25.83%,#1a1b00 27.04%,#1a1700 30.87%,#1c1b00 32.21%,#202600 33.16%,#243e00 34.06%,#274a00 34.95%,#243700 35.84%,#1f1e00 36.73%,#1b1100 37.88%,#190d00 39.16%,#190b00 41.14%,#190700 46.17%,#180400 53.89%,#180300 56.38%,#170200 69.13%,#150100 84.44%,#140100 100%)"></i>
<i style="background:linear-gradient(#ff0000 0%,#ff0000 3.827%,#ff0000 4.018%,#e9bf00 4.273%,#d9bf00 4.656%,#c7d200 5.166%,#b2e700 5.804%,#9dfb00 6.569%,#88fc00 7.589%,#7afa00 8.865%,#70f800 10.4%,#6bf700 11.73%,#6af700 12.31%,#69f700 14.29%,#68f700 14.86%,#6af700 15.56%,#70f800 16.07%,#7cfa00 16.45%,#90fd00 16.84%,#a4f500 17.22%,#bdde00 17.73%,#c6d400 18.05%,#cbce00 18.75%,#c6d400 19.77%,#b0e900 20.54%,#8dfd00 21.17%,#61f600 21.81%,#5cf500 21.88%,#3ddb00 22.45%,#298400 23.09%,#213700 23.72%,#1e2b00 24.36%,#1d2600 25%,#1c2100 25.77%,#1b1e00 26.98%,#1b1e00 27.04%,#1a1900 30.87%,#202600 33.16%,#212900 33.35%,#243f00 34.06%,#274b00 34.95%,#243800 35.84%,#1f1e00 36.73%,#1b1200 37.88%,#190d00 39.16%,#190a00 42.28%,#190700 46.17%,#180400 55.04%,#180300 56.38%,#170200 69.13%,#150100 84.44%,#140100 100%)"></i>
<i style="background:linear-gradient(#ff0000 0%,#ff0000 6.913%,#f35300 7.105%,#ee9700 7.36%,#e6bf00 7.742%,#ddbf00 8.253%,#d1c600 8.89%,#c5d500 9.656%,#b5e400 10.68%,#a7f200 11.73%,#a4f400 11.95%,#92fe00 13.48%,#8bfd00 14.29%,#84fb00 15.4%,#83fb00 15.56%,#81fb00 16.07%,#84fc00 16.45%,#91fe00 16.84%,#a5f400 17.22%,#bfdb00 17.73%,#c6d300 17.95%,#cec900 18.75%,#c9d000 19.77%,#b3e700 20.54%,#92fe00 21.14%,#90fd00 21.17%,#6bf700 21.81%,#5af500 22.45%,#54f400 23.09%,#51f300 23.72%,#4ef200 24.36%,#4bed00 24.96%,#4bed00 25%,#48e400 25.77%,#43d600 27.04%,#38b800 30.06%,#36b100 30.87%,#329500 33.16%,#329000 34.06%,#328900 34.95%,#307400 35.84%,#2d6300 36.44%,#2b5b00 36.73%,#274200 37.88%,#253000 39.16%,#1f0e00 45.37%,#1e0d00 46.17%,#1a0400 56.38%,#1a0400 58.13%,#180200 69.13%,#170100 84.44%,#150100 100%)"></i>
<i style="background:linear-gradient(#ff0000 0%,#ff0000 6.671%,#ff0000 6.862%,#ee9800 7.117%,#e6bf00 7.5%,#dcbf00 8.01%,#d0c700 8.648%,#c4d700 9.413%,#b4e500 10.43%,#a4f500 11.71%,#a4f500 11.73%,#95fe00 13.24%,#8efd00 14.29%,#8afd00 15.15%,#89fc00 15.56%,#8bfd00 16.07%,#92fe00 16.45%,#a0f800 16.84%,#b0e900 17.22%,#c4d600 17.7%,#c5d500 17.73%,#d1c500 18.75%,#cccb00 19.77%,#b7e300 20.54%,#a5f400 20.89%,#93fe00 21.17%,#6bf700 21.81%,#57f400 22.45%,#51f300 23.09%,#4df200 23.72%,#4aef00 24.36%,#48eb00 24.72%,#47e800 25%,#44df00 25.77%,#3fd100 27.04%,#36b600 29.82%,#33ad00 30.87%,#308800 33.16%,#318700 34.06%,#318100 34.95%,#2e6e00 35.84%,#2c6300 36.2%,#2a5400 36.73%,#263a00 37.88%,#232900 39.16%,#1e0e00 45.13%,#1e0c00 46.17%,#1a0400 56.38%,#1a0400 57.88%,#190200 69.13%,#170100 84.44%,#160100 100%)"></i>
<i style="background:linear-gradient(#ff0000 0%,#ff0000 3.788%,#f35500 3.98%,#e8bf00 4.235%,#d9bf00 4.617%,#c6d300 5.128%,#b1e800 5.765%,#9cfd00 6.531%,#86fc00 7.551%,#76f900 8.827%,#6af700 10.36%,#64f600 11.73%,#63f600 12.27%,#60f500 14.29%,#60f500 14.82%,#61f600 15.56%,#69f700 16.07%,#77f900 16.45%,#8efd00 16.84%,#a7f200 17.22%,#c4d600 17.73%,#cec900 18.01%,#d5c100 18.75%,#cfc800 19.77%,#b8e200 20.54%,#92fe00 21.17%,#64f600 21.81%,#62f600 21.84%,#3edd00 22.45%,#298200 23.09%,#203300 23.72%,#1d2800 24.36%,#1c2200 25%,#1b1e00 25.77%,#1a1a00 26.94%,#1a1a00 27.04%,#191600 30.87%,#1f2300 33.16%,#202600 33.32%,#243900 34.06%,#264500 34.95%,#233200 35.84%,#1e1c00 36.73%,#1a1000 37.88%,#180d00 39.16%,#180900 42.24%,#180600 46.17%,#170300 55%,#170300 56.38%,#160200 69.13%,#150100 84.44%,#130100 100%)"></i>
<i style="background:linear-gradient(#ff0000 0%,#ff0000 3.763%,#ff0000 3.954%,#e9bf00 4.209%,#d9bf00 4.592%,#c7d300 5.102%,#b2e700 5.74%,#9ffa00 6.505%,#8ffd00 7.526%,#86fc00 8.801%,#82fb00 10.33%,#81fb00 11.73%,#81fb00 12.24%,#80fb00 14.29%,#80fb00 14.8%,#81fb00 15.56%,#87fc00 16.07%,#92fe00 16.45%,#a3f600 16.84%,#b4e600 17.22%,#c9d000 17.73%,#d0c700 17.98%,#d6bf00 18.75%,#d1c600 19.77%,#bae000 20.54%,#95fe00 21.17%,#64f600 21.81%,#3edc00 22.45%,#287900 23.09%,#1f2f00 23.72%,#1c2300 24.36%,#1b1e00 25%,#1a1900 25.77%,#191700 26.91%,#191700 27.04%,#181400 30.87%,#1e2000 33.16%,#1e2200 33.29%,#223100 34.06%,#253e00 34.95%,#222b00 35.84%,#1d1900 36.73%,#190e00 37.88%,#170c00 39.16%,#170900 42.22%,#160600 46.17%,#160300 54.97%,#160300 56.38%,#150200 69.13%,#130100 84.44%,#120100 100%)"></i>
<i style="background:linear-gradient(#ff0000 0%,#ff0000 2.679%,#ff0000 2.87%,#e5bf00 3.125%,#d0c700 3.508%,#b9e100 4.018%,#a1f800 4.656%,#90fd00 5.421%,#86fc00 6.441%,#82fb00 7.717%,#81fb00 9.247%,#80fb00 11.16%,#80fb00 11.73%,#80fb00 13.71%,#80fb00 14.29%,#81fb00 15.56%,#87fc00 16.07%,#90fe00 16.45%,#9ff900 16.84%,#a2f700 16.9%,#aeeb00 17.22%,#c1d900 17.73%,#cdcb00 18.75%,#c8d100 19.77%,#b3e700 20.54%,#aaef00 20.73%,#8ffd00 21.17%,#60f600 21.81%,#3bd800 22.45%,#266400 23.09%,#1d2600 23.72%,#1a1b00 24.36%,#191800 25%,#181700 25.77%,#181700 25.83%,#171500 27.04%,#171300 30.87%,#191400 32.21%,#1d1d00 33.16%,#222c00 34.06%,#243900 34.95%,#212700 35.84%,#1c1700 36.73%,#180d00 37.88%,#160b00 39.16%,#160900 41.14%,#160600 46.17%,#150300 53.89%,#150300 56.38%,#140100 69.13%,#130100 84.44%,#110100 100%)"></i>
<i style="background:linear-gradient(#ff0000 0%,#ff0000 3.865%,#ff0000 4.056%,#e9bf00 4.311%,#dabf00 4.694%,#c8d100 5.204%,#b4e600 5.842%,#a0f800 6.607%,#90fe00 7.628%,#88fc00 8.903%,#84fb00 10.43%,#83fb00 11.73%,#82fb00 12.35%,#82fb00 14.29%,#82fb00 14.9%,#83fb00 15.56%,#89fc00 16.07%,#94fe00 16.45%,#a4f400 16.84%,#b5e500 17.22%,#cbce00 17.73%,#d4c200 18.09%,#d8bf00 18.75%,#d3c400 19.77%,#bcdf00 20.54%,#95fe00 21.17%,#64f600 21.81%,#5cf500 21.91%,#3ddb00 22.45%,#287500 23.09%,#1f2e00 23.72%,#1b2100 24.36%,#1a1c00 25%,#191800 25.77%,#181700 27.02%,#181700 27.04%,#181400 30.87%,#1d1e00 33.16%,#1e2100 33.39%,#222c00 34.06%,#243900 34.95%,#212700 35.84%,#1c1700 36.73%,#180d00 37.88%,#160b00 39.16%,#160800 42.32%,#160600 46.17%,#150300 55.08%,#150300 56.38%,#140100 69.13%,#130100 84.44%,#110100 100%)"></i>
<i style="background:linear-gradient(#ff0000 0%,#ff0000 3.724%,#ff0000 3.916%,#e8bf00 4.171%,#d9bf00 4.554%,#c6d400 5.064%,#b1e800 5.702%,#9dfb00 6.467%,#8cfd00 7.487%,#83fb00 8.763%,#7efa00 10.29%,#7cfa00 11.73%,#7cfa00 12.21%,#7bfa00 14.29%,#7bfa00 14.76%,#7cfa00 15.56%,#82fb00 16.07%,#8dfd00 16.45%,#9dfb00 16.84%,#aeeb00 17.22%,#c3d700 17.73%,#c9cf00 17.95%,#d0c700 18.75%,#cbcd00 19.77%,#b6e400 20.54%,#92fe00 21.17%,#68f700 21.77%,#65f600 21.81%,#41e100 22.45%,#2d9f00 23.09%,#245400 23.72%,#213900 24.36%,#203300 25%,#1f2f00 25.77%,#1f2b00 26.88%,#1f2b00 27.04%,#1e2500 30.87%,#233b00 33.16%,#243e00 33.25%,#285900 34.06%,#2b6100 34.95%,#284f00 35.84%,#232e00 36.73%,#1f1a00 37.88%,#1d1500 39.16%,#1d1000 42.18%,#1c0a00 46.17%,#1c0500 54.94%,#1c0500 56.38%,#1b0200 69.13%,#190200 84.44%,#180100 100%)"></i>
<i style="background:linear-gradient(#ff0000 0%,#ff0000 7.283%,#f45200 7.474%,#ee9300 7.73%,#e7bf00 8.112%,#debf00 8.622%,#d3c300 9.26%,#c7d300 10.03%,#b8e200 11.05%,#afea00 11.73%,#a8f100 12.32%,#98ff00 13.85%,#94fe00 14.29%,#8dfd00 15.56%,#8cfd00 15.77%,#8cfd00 16.07%,#91fe00 16.45%,#9cfc00 16.84%,#abee00 17.22%,#bfdb00 17.73%,#cace00 18.32%,#cccd00 18.75%,#c7d200 19.77%,#b3e700 20.54%,#92fe00 21.17%,#7ffb00 21.51%,#70f800 21.81%,#60f500 22.45%,#5af500 23.09%,#57f400 23.72%,#54f300 24.36%,#51f000 25%,#4fee00 25.33%,#4eeb00 25.77%,#49de00 27.04%,#3dbd00 30.43%,#3cb900 30.87%,#38a100 33.16%,#399a00 34.06%,#399300 34.95%,#368900 35.84%,#327b00 36.73%,#327900 36.81%,#2e6000 37.88%,#2c4e00 39.16%,#261d00 45.74%,#251b00 46.17%,#220900 56.38%,#210800 58.49%,#200400 69.13%,#1e0300 84.44%,#1d0200 100%)"></i>
<i style="background:linear-gradient(#ff0000 0%,#ff0000 5.676%,#ff0000 5.867%,#eda300 6.122%,#e4bf00 6.505%,#d8bf00 7.015%,#cbcd00 7.653%,#bdde00 8.418%,#abee00 9.439%,#99ff00 10.71%,#8efd00 11.73%,#8afc00 12.24%,#7efb00 14.16%,#7efa00 14.29%,#79fa00 15.56%,#7cfa00 16.07%,#85fc00 16.45%,#8ffd00 16.71%,#95fe00 16.84%,#a8f100 17.22%,#bfdc00 17.73%,#cccc00 18.75%,#c7d200 19.77%,#c5d400 19.9%,#b3e700 20.54%,#92fe00 21.17%,#6bf700 21.81%,#50f300 22.45%,#45e700 23.09%,#40e000 23.72%,#3ddb00 24.36%,#3bd500 25%,#38ce00 25.77%,#35c200 27.04%,#31aa00 28.83%,#2e8d00 30.87%,#308700 33.16%,#339400 34.06%,#358e00 34.95%,#348c00 35.2%,#328100 35.84%,#2d6400 36.73%,#294a00 37.88%,#273b00 39.16%,#262100 44.13%,#251a00 46.17%,#240c00 56.38%,#240b00 56.89%,#230600 69.13%,#210400 84.44%,#200300 100%)"></i>
<i style="background:linear-gradient(#ff0000 0%,#ff0000 5.676%,#ff0000 5.867%,#eda200 6.122%,#e4bf00 6.505%,#d8bf00 7.015%,#cbcd00 7.653%,#bddd00 8.418%,#adec00 9.439%,#9dfb00 10.71%,#94fe00 11.73%,#91fe00 12.24%,#8afd00 14.16%,#8afd00 14.29%,#89fc00 15.56%,#8dfd00 16.07%,#95fe00 16.45%,#9efa00 16.71%,#a3f500 16.84%,#b2e700 17.22%,#c5d500 17.73%,#d1c600 18.75%,#cccc00 19.77%,#cace00 19.9%,#b8e200 20.54%,#95fe00 21.17%,#6af700 21.81%,#4ff300 22.45%,#44e600 23.09%,#3fde00 23.72%,#3cda00 24.36%,#3ad400 25%,#37cc00 25.77%,#33c000 27.04%,#2f9e00 28.83%,#2c7f00 30.87%,#2d7700 33.16%,#308300 34.06%,#328500 34.95%,#318200 35.2%,#2f7200 35.84%,#2a5600 36.73%,#263a00 37.88%,#242c00 39.16%,#221600 44.13%,#221100 46.17%,#200800 56.38%,#200700 56.89%,#1f0400 69.13%,#1e0300 84.44%,#1c0200 100%)"></i>
<i style="background:linear-gradient(#ff0000 0%,#ff0000 3.291%,#ff0000 3.482%,#e7bf00 3.737%,#d6c000 4.12%,#c1d900 4.63%,#abee00 5.268%,#97ff00 6.033%,#8afc00 7.054%,#82fb00 8.329%,#7ffb00 9.86%,#7efb00 11.73%,#7efb00 11.77%,#7efa00 14.29%,#7efa00 14.32%,#7ffb00 15.56%,#85fc00 16.07%,#90fe00 16.45%,#a2f700 16.84%,#b4e600 17.22%,#c1d900 17.51%,#cacf00 17.73%,#d7bf00 18.75%,#d2c400 19.77%,#bcde00 20.54%,#97ff00 21.17%,#8cfd00 21.34%,#68f700 21.81%,#43e400 22.45%,#2ea600 23.09%,#255a00 23.72%,#223f00 24.36%,#213600 25%,#203100 25.77%,#202f00 26.44%,#1f2e00 27.04%,#1f2900 30.87%,#233800 32.82%,#254300 33.16%,#296000 34.06%,#2c6700 34.95%,#295600 35.84%,#243500 36.73%,#201d00 37.88%,#1e1700 39.16%,#1e1200 41.75%,#1e0c00 46.17%,#1d0600 54.5%,#1d0600 56.38%,#1c0300 69.13%,#1a0200 84.44%,#190100 100%)"></i>
<i style="background:linear-gradient(#ff0000 0%,#ff0000 3.839%,#ff0000 4.031%,#e9bf00 4.286%,#d9bf00 4.668%,#c7d200 5.179%,#b3e700 5.816%,#9ffa00 6.582%,#8dfd00 7.602%,#83fb00 8.878%,#7efb00 10.41%,#7cfa00 11.73%,#7cfa00 12.32%,#7bfa00 14.29%,#7bfa00 14.87%,#7cfa00 15.56%,#82fb00 16.07%,#8cfd00 16.45%,#9cfc00 16.84%,#aced00 17.22%,#c0da00 17.73%,#c8d100 18.06%,#cccc00 18.75%,#c8d100 19.77%,#b3e700 20.54%,#90fe00 21.17%,#64f600 21.81%,#5ff500 21.89%,#41e100 22.45%,#2da100 23.09%,#255900 23.72%,#223f00 24.36%,#213600 25%,#203100 25.77%,#1f2d00 26.99%,#1f2d00 27.04%,#1f2700 30.87%,#243e00 33.16%,#254500 33.37%,#295c00 34.06%,#2b6300 34.95%,#295200 35.84%,#243000 36.73%,#1f1b00 37.88%,#1e1600 39.16%,#1d1000 42.3%,#1d0b00 46.17%,#1c0500 55.05%,#1c0500 56.38%,#1b0200 69.13%,#1a0200 84.44%,#180100 100%)"></i>
<i style="background:linear-gradient(#ff0000 0%,#ff0000 4.133%,#ff0000 4.324%,#eabf00 4.579%,#dbbf00 4.962%,#cacf00 5.472%,#b6e300 6.11%,#a2f700 6.875%,#8dfd00 7.895%,#7efb00 9.171%,#74f900 10.7%,#71f800 11.73%,#6ff800 12.61%,#6df800 14.29%,#6df800 15.17%,#6ef800 15.56%,#74f900 16.07%,#80fb00 16.45%,#94fe00 16.84%,#a8f100 17.22%,#c1da00 17.73%,#cec900 18.35%,#cfc800 18.75%,#cacf00 19.77%,#b4e600 20.54%,#90fd00 21.17%,#62f600 21.81%,#4bf100 22.18%,#3fdd00 22.45%,#2b8d00 23.09%,#224100 23.72%,#1f3000 24.36%,#1e2a00 25%,#1d2500 25.77%,#1c2100 27.04%,#1c2000 27.28%,#1b1a00 30.87%,#202700 33.16%,#233400 33.66%,#254100 34.06%,#274d00 34.95%,#253a00 35.84%,#201f00 36.73%,#1b1200 37.88%,#1a0e00 39.16%,#190a00 42.59%,#190700 46.17%,#180400 55.34%,#180300 56.38%,#170200 69.13%,#160100 84.44%,#140100 100%)"></i>
<i style="background:linear-gradient(#ff0000 0%,#ff0000 3.38%,#ff0000 3.571%,#e7bf00 3.827%,#d6bf00 4.209%,#c2d900 4.719%,#aced00 5.357%,#95fe00 6.122%,#83fb00 7.143%,#76f900 8.418%,#6ff800 9.949%,#6cf800 11.73%,#6cf800 11.86%,#6bf700 14.29%,#6bf700 14.41%,#6df800 15.56%,#74f900 16.07%,#82fb00 16.45%,#97ff00 16.84%,#aeeb00 17.22%,#c3d700 17.6%,#c9d000 17.73%,#d9bf00 18.75%,#d3c300 19.77%,#bbdf00 20.54%,#94fe00 21.17%,#81fb00 21.43%,#63f600 21.81%,#3cd900 22.45%,#266100 23.09%,#1c2400 23.72%,#191900 24.36%,#181700 25%,#171500 25.77%,#161400 26.53%,#161400 27.04%,#161200 30.87%,#1a1500 32.91%,#1b1900 33.16%,#202600 34.06%,#222f00 34.95%,#202200 35.84%,#1b1300 36.73%,#160c00 37.88%,#150a00 39.16%,#150800 41.84%,#140500 46.17%,#140300 54.59%,#130300 56.38%,#120100 69.13%,#110100 84.44%,#100100 100%)"></i>
<i style="background:linear-gradient(#ff0000 0%,#ff0000 3.763%,#ff0000 3.954%,#e8bf00 4.209%,#d9bf00 4.592%,#c6d300 5.102%,#b2e700 5.74%,#9ffa00 6.505%,#8ffd00 7.526%,#87fc00 8.801%,#84fb00 10.33%,#82fb00 11.73%,#82fb00 12.24%,#82fb00 14.29%,#82fb00 14.8%,#83fb00 15.56%,#89fc00 16.07%,#94fe00 16.45%,#a5f400 16.84%,#b6e400 17.22%,#cccc00 17.73%,#d3c300 17.98%,#d9bf00 18.75%,#d4c200 19.77%,#bdde00 20.54%,#96fe00 21.17%,#63f600 21.81%,#3bd900 22.45%,#256000 23.09%,#1c2400 23.72%,#191900 24.36%,#181700 25%,#171500 25.77%,#161400 26.91%,#161400 27.04%,#151100 30.87%,#1a1600 33.16%,#1b1800 33.29%,#1f2300 34.06%,#222a00 34.95%,#1f1f00 35.84%,#1a1100 36.73%,#160c00 37.88%,#140a00 39.16%,#140700 42.22%,#130500 46.17%,#130300 54.97%,#120200 56.38%,#110100 69.13%,#100100 84.44%,#0f0100 100%)"></i>
<i style="background:linear-gradient(#ff0000 0%,#ff0000 3.482%,#f35500 3.673%,#e7bf00 3.929%,#d7bf00 4.311%,#c3d700 4.821%,#adec00 5.459%,#97ff00 6.224%,#85fc00 7.245%,#78f900 8.52%,#70f800 10.05%,#6df800 11.73%,#6df800 11.96%,#6cf800 14.29%,#6cf800 14.52%,#6df800 15.56%,#74f900 16.07%,#81fb00 16.45%,#94fe00 16.84%,#a9f000 17.22%,#c1da00 17.7%,#c2d900 17.73%,#d0c700 18.75%,#cbcd00 19.77%,#b4e500 20.54%,#8ffd00 21.17%,#76f900 21.53%,#61f600 21.81%,#3bd900 22.45%,#266700 23.09%,#1d2800 23.72%,#1a1c00 24.36%,#191900 25%,#181700 25.77%,#181600 26.63%,#171500 27.04%,#171300 30.87%,#1c1a00 33.01%,#1c1c00 33.16%,#212900 34.06%,#243600 34.95%,#212400 35.84%,#1c1600 36.73%,#180d00 37.88%,#160b00 39.16%,#160800 41.94%,#150600 46.17%,#150300 54.69%,#140300 56.38%,#130100 69.13%,#120100 84.44%,#110100 100%)"></i>
<i style="background:linear-gradient(#ff0000 0%,#ff0000 5.472%,#f35300 5.663%,#eda600 5.918%,#e3bf00 6.301%,#d7bf00 6.811%,#cacf00 7.449%,#bbdf00 8.214%,#abee00 9.235%,#9bfe00 10.51%,#91fe00 11.73%,#8ffd00 12.04%,#89fc00 13.95%,#88fc00 14.29%,#87fc00 15.56%,#8bfd00 16.07%,#94fe00 16.45%,#95fe00 16.51%,#a2f700 16.84%,#b0e900 17.22%,#c3d700 17.73%,#cfc900 18.75%,#cbcd00 19.69%,#cacf00 19.77%,#b5e500 20.54%,#92fe00 21.17%,#66f600 21.81%,#4aef00 22.45%,#3fde00 23.09%,#3cd900 23.52%,#3bd700 23.72%,#38d300 24.36%,#35cd00 25%,#32c100 25.77%,#2fa000 27.04%,#2b8000 28.62%,#265900 30.87%,#275500 33.16%,#2a6400 34.06%,#2c6700 34.95%,#2c6700 35%,#295500 35.84%,#243600 36.73%,#201e00 37.88%,#1e1800 39.16%,#1c0d00 43.93%,#1c0a00 46.17%,#1a0400 56.38%,#1a0400 56.68%,#190200 69.13%,#180100 84.44%,#160100 100%)"></i>
<i style="background:linear-gradient(#ff0000 0%,#ff0000 2.589%,#f45200 2.781%,#e4bf00 3.036%,#cfc800 3.418%,#b6e300 3.929%,#9dfb00 4.566%,#8bfd00 5.332%,#80fb00 6.352%,#7afa00 7.628%,#78fa00 9.158%,#78f900 11.07%,#78f900 11.73%,#78f900 13.62%,#78f900 14.29%,#79fa00 15.56%,#80fb00 16.07%,#8cfd00 16.45%,#9dfb00 16.81%,#9ffa00 16.84%,#b2e700 17.22%,#cace00 17.73%,#d8bf00 18.75%,#d3c300 19.77%,#bcde00 20.54%,#b8e200 20.64%,#97ff00 21.17%,#68f700 21.81%,#42e300 22.45%,#2d9d00 23.09%,#234c00 23.72%,#203500 24.36%,#1f3000 25%,#1e2c00 25.74%,#1e2c00 25.77%,#1e2900 27.04%,#1e2500 30.87%,#1f2700 32.12%,#233b00 33.16%,#285900 34.06%,#2b6100 34.95%,#284f00 35.84%,#232e00 36.73%,#1f1a00 37.88%,#1d1500 39.16%,#1d1200 41.05%,#1c0a00 46.17%,#1c0600 53.8%,#1c0500 56.38%,#1b0200 69.13%,#190200 84.44%,#180100 100%)"></i>
<i style="background:linear-gradient(#ff0000 0%,#ff0000 3.125%,#f35500 3.316%,#e6bf00 3.571%,#d4c200 3.954%,#bedc00 4.464%,#a7f200 5.102%,#90fe00 5.867%,#80fb00 6.888%,#74f900 8.163%,#6ef800 9.694%,#6cf800 11.61%,#6cf800 11.73%,#6bf700 14.16%,#6bf700 14.29%,#6df800 15.56%,#75f900 16.07%,#83fb00 16.45%,#98ff00 16.84%,#b0ea00 17.22%,#b7e200 17.35%,#cbcd00 17.73%,#dbbf00 18.75%,#d6c000 19.77%,#bedc00 20.54%,#98ff00 21.17%,#69f700 21.81%,#43e400 22.45%,#2d9e00 23.09%,#234d00 23.72%,#203500 24.36%,#1f3000 25%,#1e2c00 25.77%,#1e2a00 26.28%,#1e2900 27.04%,#1e2400 30.87%,#212b00 32.65%,#233900 33.16%,#285700 34.06%,#2a6000 34.95%,#284e00 35.84%,#232d00 36.73%,#1e1a00 37.88%,#1d1500 39.16%,#1d1000 41.58%,#1c0a00 46.17%,#1c0500 54.34%,#1b0500 56.38%,#1a0200 69.13%,#190200 84.44%,#180100 100%)"></i>
<i style="background:linear-gradient(#ff0000 0%,#ff0000 4.094%,#f45100 4.286%,#e9bf00 4.541%,#dbbf00 4.923%,#c9cf00 5.434%,#b6e400 6.071%,#a3f600 6.837%,#90fe00 7.857%,#86fc00 9.133%,#81fb00 10.66%,#7ffb00 11.73%,#7efb00 12.58%,#7dfa00 14.29%,#7dfa00 15.13%,#7efb00 15.56%,#84fb00 16.07%,#8efd00 16.45%,#9ffa00 16.84%,#afea00 17.22%,#c4d700 17.73%,#cfc800 18.32%,#d0c700 18.75%,#cbcd00 19.77%,#b6e400 20.54%,#92fe00 21.17%,#65f600 21.81%,#50f300 22.14%,#41e100 22.45%,#2d9e00 23.09%,#245500 23.72%,#213a00 24.36%,#203300 25%,#1f2e00 25.77%,#1e2a00 27.04%,#1e2900 27.24%,#1d2300 30.87%,#233500 33.16%,#254500 33.62%,#275300 34.06%,#2a5d00 34.95%,#274a00 35.84%,#222900 36.73%,#1e1800 37.88%,#1c1300 39.16%,#1c0e00 42.55%,#1b0900 46.17%,#1b0500 55.31%,#1b0400 56.38%,#1a0200 69.13%,#180200 84.44%,#170100 100%)"></i>
<i style="background:linear-gradient(#ff0000 0%,#ff0000 3.724%,#ff0000 3.916%,#e9bf00 4.171%,#d9bf00 4.554%,#c6d300 5.064%,#b2e700 5.702%,#a0f900 6.467%,#92fe00 7.487%,#8bfd00 8.763%,#88fc00 10.29%,#87fc00 11.73%,#87fc00 12.21%,#86fc00 14.29%,#86fc00 14.76%,#88fc00 15.56%,#8dfd00 16.07%,#97ff00 16.45%,#a7f200 16.84%,#b7e300 17.22%,#cbcd00 17.73%,#d1c600 17.95%,#d8bf00 18.75%,#d3c300 19.77%,#bcde00 20.54%,#96ff00 21.17%,#69f700 21.77%,#66f600 21.81%,#3fde00 22.45%,#2a8500 23.09%,#203500 23.72%,#1d2900 24.36%,#1c2300 25%,#1b1f00 25.77%,#1a1c00 26.88%,#1a1c00 27.04%,#1a1700 30.87%,#1f2500 33.16%,#202600 33.25%,#243c00 34.06%,#264800 34.95%,#243500 35.84%,#1f1d00 36.73%,#1a1100 37.88%,#190d00 39.16%,#180a00 42.18%,#180700 46.17%,#170300 54.94%,#170300 56.38%,#160200 69.13%,#150100 84.44%,#140100 100%)"></i>
<i style="background:linear-gradient(#ff0000 0%,#ff0000 3.98%,#f35300 4.171%,#e9bf00 4.426%,#dabf00 4.809%,#c9d000 5.319%,#b6e400 5.957%,#a5f400 6.722%,#98ff00 7.742%,#92fe00 9.018%,#90fd00 10.55%,#8ffd00 11.73%,#8ffd00 12.46%,#8ffd00 14.29%,#8ffd00 15.01%,#8ffd00 15.56%,#94fe00 16.07%,#9dfc00 16.45%,#aaef00 16.84%,#b6e400 17.22%,#c7d200 17.73%,#d0c600 18.2%,#d3c400 18.75%,#ceca00 19.77%,#b8e200 20.54%,#94fe00 21.17%,#64f600 21.81%,#54f400 22.03%,#3edd00 22.45%,#298400 23.09%,#213600 23.72%,#1e2a00 24.36%,#1c2500 25%,#1b2000 25.77%,#1b1c00 27.04%,#1a1c00 27.13%,#1a1600 30.87%,#1f2400 33.16%,#212900 33.51%,#243a00 34.06%,#264600 34.95%,#243300 35.84%,#1f1c00 36.73%,#1a1000 37.88%,#190d00 39.16%,#180900 42.44%,#180700 46.17%,#170300 55.19%,#170300 56.38%,#160200 69.13%,#150100 84.44%,#130100 100%)"></i>
<i style="background:linear-gradient(#ff0000 0%,#ff0000 4.158%,#f35400 4.349%,#e9bf00 4.605%,#dbbf00 4.987%,#cacf00 5.497%,#b6e300 6.135%,#a2f600 6.901%,#8efd00 7.921%,#80fb00 9.196%,#77f900 10.73%,#74f900 11.73%,#73f900 12.64%,#71f800 14.29%,#71f800 15.19%,#72f900 15.56%,#79fa00 16.07%,#86fc00 16.45%,#9bfd00 16.84%,#b1e900 17.22%,#cbce00 17.73%,#d9bf00 18.38%,#dabf00 18.75%,#d5c100 19.77%,#bdde00 20.54%,#96fe00 21.17%,#64f600 21.81%,#4aef00 22.21%,#3edc00 22.45%,#287c00 23.09%,#1f3100 23.72%,#1c2500 24.36%,#1b1f00 25%,#1a1a00 25.77%,#191700 27.04%,#191700 27.31%,#181400 30.87%,#1d1d00 33.16%,#202500 33.69%,#222b00 34.06%,#243800 34.95%,#212600 35.84%,#1c1700 36.73%,#180d00 37.88%,#160b00 39.16%,#160800 42.61%,#160600 46.17%,#150300 55.37%,#150300 56.38%,#140100 69.13%,#120100 84.44%,#110100 100%)"></i>
<i style="background:linear-gradient(#ff0000 0%,#ff0000 3.776%,#f35400 3.967%,#e8bf00 4.222%,#d9bf00 4.605%,#c6d300 5.115%,#b2e800 5.753%,#9dfb00 6.518%,#8bfd00 7.538%,#80fb00 8.814%,#7afa00 10.34%,#78f900 11.73%,#77f900 12.26%,#76f900 14.29%,#76f900 14.81%,#78f900 15.56%,#7efa00 16.07%,#89fc00 16.45%,#9cfd00 16.84%,#aeeb00 17.22%,#c5d400 17.73%,#cdcb00 18%,#d3c300 18.75%,#ceca00 19.77%,#b7e300 20.54%,#92fe00 21.17%,#63f600 21.81%,#62f600 21.82%,#3ddb00 22.45%,#287800 23.09%,#1f2f00 23.72%,#1c2300 24.36%,#1b1e00 25%,#1a1a00 25.77%,#191800 26.93%,#191700 27.04%,#181400 30.87%,#1e2000 33.16%,#1e2200 33.3%,#223200 34.06%,#253e00 34.95%,#222c00 35.84%,#1d1900 36.73%,#190e00 37.88%,#170c00 39.16%,#170900 42.23%,#170600 46.17%,#160300 54.99%,#160300 56.38%,#150200 69.13%,#130100 84.44%,#120100 100%)"></i>
<i style="background:linear-gradient(#ff0000 0%,#ff0000 6.186%,#ff0000 6.378%,#ee9d00 6.633%,#e5bf00 7.015%,#dabf00 7.526%,#ceca00 8.163%,#c0da00 8.929%,#b0e900 9.949%,#9ff900 11.22%,#9afe00 11.73%,#90fe00 12.76%,#88fc00 14.29%,#87fc00 14.67%,#84fc00 15.56%,#87fc00 16.07%,#90fd00 16.45%,#9ff900 16.84%,#b1e900 17.22%,#c7d300 17.73%,#d4c200 18.75%,#cfc800 19.77%,#bedc00 20.41%,#b9e100 20.54%,#94fe00 21.17%,#69f700 21.81%,#52f300 22.45%,#4aee00 23.09%,#46e800 23.72%,#43e400 24.23%,#43e300 24.36%,#40dd00 25%,#3dd400 25.77%,#38c700 27.04%,#31a900 29.34%,#2d8900 30.87%,#2c7000 33.16%,#2d7500 34.06%,#2e7300 34.95%,#2c6400 35.71%,#2b6100 35.84%,#274500 36.73%,#232900 37.88%,#211d00 39.16%,#1d0d00 44.64%,#1c0b00 46.17%,#1a0400 56.38%,#1a0400 57.4%,#180200 69.13%,#170100 84.44%,#160100 100%)"></i>
<i style="background:linear-gradient(#ff0000 0%,#ff0000 3.24%,#ff0000 3.431%,#e7bf00 3.686%,#d5c000 4.069%,#c1da00 4.579%,#aaef00 5.217%,#95fe00 5.982%,#87fc00 7.003%,#7ffb00 8.278%,#7cfa00 9.809%,#7afa00 11.72%,#7afa00 11.73%,#7afa00 14.27%,#7afa00 14.29%,#7bfa00 15.56%,#82fb00 16.07%,#8efd00 16.45%,#a1f800 16.84%,#b4e500 17.22%,#c1da00 17.46%,#cccb00 17.73%,#dbbf00 18.75%,#d5c000 19.77%,#bedc00 20.54%,#99ff00 21.17%,#90fe00 21.29%,#68f700 21.81%,#42e300 22.45%,#2c9900 23.09%,#234700 23.72%,#203200 24.36%,#1f2e00 25%,#1e2900 25.77%,#1d2700 26.39%,#1d2600 27.04%,#1d2200 30.87%,#212a00 32.77%,#223400 33.16%,#275200 34.06%,#2a5c00 34.95%,#274900 35.84%,#222800 36.73%,#1e1800 37.88%,#1c1300 39.16%,#1c0f00 41.7%,#1b0900 46.17%,#1b0500 54.45%,#1b0400 56.38%,#1a0200 69.13%,#180200 84.44%,#170100 100%)"></i>
<i style="background:linear-gradient(#ff0000 0%,#ff0000 3.048%,#f35700 3.24%,#e6bf00 3.495%,#d3c300 3.878%,#bddd00 4.388%,#a6f300 5.026%,#8ffd00 5.791%,#80fb00 6.811%,#76f900 8.087%,#72f800 9.617%,#70f800 11.53%,#70f800 11.73%,#70f800 14.08%,#70f800 14.29%,#71f800 15.56%,#79fa00 16.07%,#87fc00 16.45%,#9efb00 16.84%,#b5e500 17.22%,#b8e200 17.27%,#d1c500 17.73%,#e1bf00 18.75%,#dcbf00 19.77%,#c3d700 20.54%,#a2f700 21.1%,#9cfc00 21.17%,#6bf700 21.81%,#44e600 22.45%,#2da300 23.09%,#245000 23.72%,#213600 24.36%,#203100 25%,#1f2d00 25.77%,#1e2b00 26.2%,#1e2a00 27.04%,#1e2500 30.87%,#212b00 32.58%,#243c00 33.16%,#285a00 34.06%,#2b6200 34.95%,#285000 35.84%,#232f00 36.73%,#1f1b00 37.88%,#1d1500 39.16%,#1d1100 41.51%,#1d0b00 46.17%,#1c0600 54.26%,#1c0500 56.38%,#1b0200 69.13%,#190200 84.44%,#180100 100%)"></i>
<i style="background:linear-gradient(#ff0000 0%,#ff0000 3.686%,#f35600 3.878%,#e8bf00 4.133%,#d8bf00 4.515%,#c5d500 5.026%,#b0e900 5.663%,#9bfd00 6.429%,#89fc00 7.449%,#7efa00 8.724%,#77f900 10.26%,#75f900 11.73%,#75f900 12.17%,#74f900 14.29%,#74f900 14.72%,#75f900 15.56%,#7cfa00 16.07%,#88fc00 16.45%,#9afe00 16.84%,#aeeb00 17.22%,#c6d400 17.73%,#cbcd00 17.91%,#d4c200 18.75%,#cfc900 19.77%,#b8e200 20.54%,#93fe00 21.17%,#69f700 21.73%,#64f600 21.81%,#3edd00 22.45%,#298200 23.09%,#203400 23.72%,#1d2800 24.36%,#1c2300 25%,#1b1e00 25.77%,#1a1b00 26.84%,#1a1b00 27.04%,#1a1600 30.87%,#1f2400 33.16%,#1f2500 33.21%,#243b00 34.06%,#264700 34.95%,#243400 35.84%,#1f1d00 36.73%,#1a1000 37.88%,#190d00 39.16%,#180a00 42.14%,#180700 46.17%,#170300 54.9%,#170300 56.38%,#160200 69.13%,#150100 84.44%,#140100 100%)"></i>
<i style="background:linear-gradient(#ff0000 0%,#ff0000 6.543%,#f35300 6.735%,#ee9a00 6.99%,#e6bf00 7.372%,#dbbf00 7.883%,#d0c800 8.52%,#c2d800 9.286%,#b3e700 10.31%,#a1f700 11.58%,#9ff900 11.73%,#90fd00 13.11%,#87fc00 14.29%,#83fb00 15.03%,#80fb00 15.56%,#81fb00 16.07%,#87fc00 16.45%,#97ff00 16.84%,#aced00 17.22%,#bfdb00 17.58%,#c6d300 17.73%,#d5c000 18.75%,#d0c700 19.77%,#b9e100 20.54%,#aeeb00 20.77%,#95fe00 21.17%,#6bf700 21.81%,#56f400 22.45%,#4ff300 23.09%,#4bf000 23.72%,#48ec00 24.36%,#47ea00 24.59%,#45e500 25%,#42dc00 25.77%,#3dcf00 27.04%,#35b600 29.69%,#32a600 30.87%,#2f8500 33.16%,#308600 34.06%,#318100 34.95%,#2e6e00 35.84%,#2d6700 36.07%,#2a5400 36.73%,#263900 37.88%,#232900 39.16%,#1f0f00 45%,#1e0d00 46.17%,#1b0500 56.38%,#1b0400 57.76%,#1a0200 69.13%,#180200 84.44%,#170100 100%)"></i>
<i style="background:linear-gradient(#ff0000 0%,#ff0000 7.105%,#f35200 7.296%,#ee9500 7.551%,#e7bf00 7.934%,#ddbf00 8.444%,#d2c400 9.082%,#c6d400 9.847%,#b7e300 10.87%,#aced00 11.73%,#a7f100 12.14%,#98ff00 13.67%,#93fe00 14.29%,#8dfd00 15.56%,#8dfd00 15.59%,#8ffd00 16.07%,#95fe00 16.45%,#a4f500 16.84%,#b4e600 17.22%,#cace00 17.73%,#d4c200 18.14%,#d7bf00 18.75%,#d2c400 19.77%,#bbdf00 20.54%,#96ff00 21.17%,#8cfd00 21.33%,#6df800 21.81%,#5cf500 22.45%,#57f400 23.09%,#53f300 23.72%,#50f300 24.36%,#4def00 25%,#4def00 25.15%,#4ae800 25.77%,#45d900 27.04%,#3ab900 30.26%,#38b300 30.87%,#339b00 33.16%,#339300 34.06%,#328900 34.95%,#307500 35.84%,#2c5f00 36.63%,#2c5c00 36.73%,#284300 37.88%,#253000 39.16%,#1e0d00 45.56%,#1d0b00 46.17%,#180400 56.38%,#180300 58.32%,#160200 69.13%,#140100 84.44%,#130100 100%)"></i>
<i style="background:linear-gradient(#ff0000 0%,#ff0000 3.763%,#ff0000 3.954%,#e9bf00 4.209%,#d9bf00 4.592%,#c7d200 5.102%,#b4e600 5.74%,#a2f600 6.505%,#97ff00 7.526%,#92fe00 8.801%,#90fd00 10.33%,#8ffd00 11.73%,#8ffd00 12.24%,#8ffd00 14.29%,#8ffd00 14.8%,#90fd00 15.56%,#96fe00 16.07%,#a0f900 16.45%,#b0e900 16.84%,#c0db00 17.22%,#d4c200 17.73%,#dbbf00 17.98%,#e1bf00 18.75%,#dcbf00 19.77%,#c4d600 20.54%,#9cfc00 21.17%,#68f700 21.81%,#40df00 22.45%,#298100 23.09%,#1f3100 23.72%,#1c2400 24.36%,#1b1f00 25%,#1a1a00 25.77%,#191800 26.91%,#191800 27.04%,#191500 30.87%,#1e2100 33.16%,#1f2300 33.29%,#233300 34.06%,#254000 34.95%,#232d00 35.84%,#1e1a00 36.73%,#190e00 37.88%,#180c00 39.16%,#170900 42.22%,#170600 46.17%,#160300 54.97%,#160300 56.38%,#150200 69.13%,#140100 84.44%,#120100 100%)"></i>
<i style="background:linear-gradient(#ff0000 0%,#ff0000 5.74%,#f35300 5.931%,#eda300 6.186%,#e4bf00 6.569%,#d8bf00 7.079%,#cbcd00 7.717%,#bddd00 8.482%,#aced00 9.503%,#99ff00 10.78%,#8efd00 11.73%,#89fc00 12.31%,#7dfa00 14.22%,#7dfa00 14.29%,#78f900 15.56%,#7bfa00 16.07%,#85fc00 16.45%,#94fe00 16.77%,#98ff00 16.84%,#aeeb00 17.22%,#c9d000 17.73%,#d9bf00 18.75%,#d3c300 19.77%,#cfc800 19.96%,#bbdf00 20.54%,#95fe00 21.17%,#66f700 21.81%,#4bf000 22.45%,#42e200 23.09%,#3edc00 23.72%,#3ddb00 23.79%,#3bd700 24.36%,#38d100 25%,#35c900 25.77%,#30ae00 27.04%,#2b8100 28.89%,#265700 30.87%,#254500 33.16%,#275000 34.06%,#285200 34.95%,#274d00 35.27%,#253e00 35.84%,#212200 36.73%,#1d1600 37.88%,#1b1000 39.16%,#170800 44.2%,#170600 46.17%,#140300 56.38%,#140300 56.95%,#130100 69.13%,#120100 84.44%,#100100 100%)"></i>
<i style="background:linear-gradient(#ff0000 0%,#ff0000 5.804%,#ff0000 5.995%,#eda100 6.25%,#e4bf00 6.633%,#d9bf00 7.143%,#cccc00 7.781%,#bedc00 8.546%,#aeec00 9.566%,#9dfb00 10.84%,#95fe00 11.73%,#91fe00 12.37%,#89fc00 14.29%,#87fc00 15.56%,#8cfd00 16.07%,#95fe00 16.45%,#a6f300 16.84%,#b7e300 17.22%,#cccc00 17.73%,#dabf00 18.75%,#d5c100 19.77%,#cfc800 20.03%,#bddd00 20.54%,#97ff00 21.17%,#68f700 21.81%,#4df200 22.45%,#43e400 23.09%,#3fde00 23.72%,#3edd00 23.85%,#3cd900 24.36%,#39d300 25%,#36cb00 25.77%,#32b800 27.04%,#2c8900 28.95%,#286300 30.87%,#265000 33.16%,#295b00 34.06%,#2a5c00 34.95%,#295600 35.33%,#274800 35.84%,#222a00 36.73%,#1e1900 37.88%,#1c1300 39.16%,#190800 44.26%,#180700 46.17%,#160300 56.38%,#160300 57.02%,#150200 69.13%,#130100 84.44%,#120100 100%)"></i>
<i style="background:linear-gradient(#ff0000 0%,#ff0000 5.37%,#f45100 5.561%,#eda700 5.816%,#e3bf00 6.199%,#d7bf00 6.709%,#c9d000 7.347%,#bae000 8.112%,#a9f000 9.133%,#97ff00 10.41%,#8cfd00 11.73%,#8afd00 11.94%,#82fb00 13.85%,#80fb00 14.29%,#7ffb00 15.56%,#84fb00 16.07%,#8dfd00 16.4%,#8ffd00 16.45%,#a1f700 16.84%,#b5e500 17.22%,#ceca00 17.73%,#ddbf00 18.75%,#dabf00 19.59%,#d7bf00 19.77%,#bfdb00 20.54%,#98ff00 21.17%,#68f700 21.81%,#49ed00 22.45%,#3ddb00 23.09%,#3ad700 23.42%,#38d400 23.72%,#35cf00 24.36%,#33c600 25%,#30af00 25.77%,#2c8e00 27.04%,#286d00 28.52%,#234100 30.87%,#243e00 33.16%,#274f00 34.06%,#285400 34.9%,#285400 34.95%,#264000 35.84%,#212200 36.73%,#1d1600 37.88%,#1b1000 39.16%,#190800 43.83%,#180700 46.17%,#160300 56.38%,#160300 56.58%,#150200 69.13%,#140100 84.44%,#120100 100%)"></i>
<i style="background:linear-gradient(#ff0000 0%,#ff0000 4.464%,#f35400 4.656%,#eabf00 4.911%,#ddbf00 5.293%,#cccc00 5.804%,#bae000 6.441%,#a6f300 7.207%,#91fe00 8.227%,#83fb00 9.503%,#79fa00 11.03%,#76f900 11.73%,#73f900 12.95%,#71f800 14.29%,#72f800 15.5%,#72f900 15.56%,#79fa00 16.07%,#88fc00 16.45%,#9efa00 16.84%,#b6e400 17.22%,#d3c300 17.73%,#e4bf00 18.69%,#e4bf00 18.75%,#debf00 19.77%,#c4d600 20.54%,#9cfd00 21.17%,#68f700 21.81%,#40df00 22.45%,#3ddb00 22.51%,#2a8b00 23.09%,#213b00 23.72%,#1e2d00 24.36%,#1d2600 25%,#1b2000 25.77%,#1a1a00 27.04%,#1a1800 27.61%,#181400 30.87%,#1d1f00 33.16%,#222c00 33.99%,#222e00 34.06%,#243b00 34.95%,#222800 35.84%,#1d1800 36.73%,#180e00 37.88%,#170b00 39.16%,#160800 42.92%,#160600 46.17%,#150300 55.68%,#150300 56.38%,#140100 69.13%,#130100 84.44%,#110100 100%)"></i>
<i style="background:linear-gradient(#ff0000 0%,#ff0000 5.753%,#f45200 5.944%,#eda200 6.199%,#e4bf00 6.582%,#d9bf00 7.092%,#cbcd00 7.73%,#bddd00 8.495%,#aced00 9.515%,#9afe00 10.79%,#8ffd00 11.73%,#8afd00 12.32%,#7ffb00 14.23%,#7ffb00 14.29%,#7afa00 15.56%,#7efa00 16.07%,#88fc00 16.45%,#98ff00 16.79%,#9bfd00 16.84%,#b1e800 17.22%,#cccd00 17.73%,#dbbf00 18.75%,#d6c000 19.77%,#d2c500 19.97%,#bedd00 20.54%,#97ff00 21.17%,#69f700 21.81%,#4df200 22.45%,#43e400 23.09%,#3edd00 23.72%,#3edd00 23.8%,#3bd900 24.36%,#39d200 25%,#36ca00 25.77%,#32b600 27.04%,#2c8a00 28.9%,#286400 30.87%,#275500 33.16%,#2a6000 34.06%,#2b6100 34.95%,#2a5d00 35.28%,#284f00 35.84%,#243000 36.73%,#1f1c00 37.88%,#1d1500 39.16%,#1b0a00 44.21%,#1a0800 46.17%,#180300 56.38%,#180300 56.96%,#160200 69.13%,#150100 84.44%,#140100 100%)"></i>
<i style="background:linear-gradient(#ff0000 0%,#ff0000 3.992%,#ff0000 4.184%,#e9bf00 4.439%,#dabf00 4.821%,#c9d000 5.332%,#b6e400 5.969%,#a3f500 6.735%,#94fe00 7.755%,#8dfd00 9.031%,#8afd00 10.56%,#89fc00 11.73%,#89fc00 12.47%,#88fc00 14.29%,#88fc00 15.03%,#8afc00 15.56%,#8ffd00 16.07%,#9afe00 16.45%,#abee00 16.84%,#bcde00 17.22%,#d1c500 17.73%,#dcbf00 18.21%,#debf00 18.75%,#d9bf00 19.77%,#c2d800 20.54%,#9cfd00 21.17%,#6af700 21.81%,#59f400 22.04%,#43e300 22.45%,#2d9d00 23.09%,#244e00 23.72%,#203500 24.36%,#1f3000 25%,#1e2b00 25.77%,#1d2700 27.04%,#1d2600 27.14%,#1d2000 30.87%,#223000 33.16%,#243d00 33.52%,#274f00 34.06%,#295900 34.95%,#274600 35.84%,#222500 36.73%,#1d1700 37.88%,#1c1200 39.16%,#1b0d00 42.45%,#1b0900 46.17%,#1a0400 55.2%,#1a0400 56.38%,#190200 69.13%,#180200 84.44%,#160100 100%)"></i>
<i style="background:linear-gradient(#ff0000 0%,#ff0000 5.319%,#f35400 5.51%,#eca900 5.765%,#e3bf00 6.148%,#d6bf00 6.658%,#c9d000 7.296%,#b9e100 8.061%,#a7f200 9.082%,#94fe00 10.36%,#86fc00 11.73%,#85fc00 11.89%,#78f900 13.8%,#75f900 14.29%,#70f800 15.56%,#74f900 16.07%,#7cfa00 16.35%,#80fb00 16.45%,#96fe00 16.84%,#b0ea00 17.22%,#ceca00 17.73%,#dfbf00 18.75%,#dcbf00 19.54%,#d9bf00 19.77%,#c0da00 20.54%,#99ff00 21.17%,#6af700 21.81%,#4aee00 22.45%,#3ddb00 23.09%,#3ad700 23.37%,#38d300 23.72%,#35cf00 24.36%,#32c400 25%,#30ae00 25.77%,#2c8e00 27.04%,#287100 28.47%,#244700 30.87%,#254700 33.16%,#285900 34.06%,#2a5e00 34.85%,#2a5d00 34.95%,#274a00 35.84%,#232b00 36.73%,#1e1a00 37.88%,#1c1400 39.16%,#1b0a00 43.78%,#1a0800 46.17%,#180400 56.38%,#180400 56.53%,#170200 69.13%,#160100 84.44%,#150100 100%)"></i>
<i style="background:linear-gradient(#ff0000 0%,#ff0000 5.191%,#f35300 5.383%,#ecaa00 5.638%,#e2bf00 6.02%,#d6c000 6.531%,#c8d100 7.168%,#b9e100 7.934%,#a7f200 8.954%,#95fe00 10.23%,#88fc00 11.73%,#88fc00 11.76%,#7ffb00 13.67%,#7dfa00 14.29%,#7cfa00 15.56%,#81fb00 16.07%,#85fc00 16.22%,#8dfd00 16.45%,#a1f800 16.84%,#b6e400 17.22%,#d0c700 17.73%,#e0bf00 18.75%,#debf00 19.41%,#dabf00 19.77%,#c2d900 20.54%,#9bfe00 21.17%,#6af700 21.81%,#48ec00 22.45%,#3bd800 23.09%,#39d600 23.24%,#36d000 23.72%,#33c900 24.36%,#30b500 25%,#2e9f00 25.77%,#2a8100 27.04%,#276500 28.34%,#233b00 30.87%,#243f00 33.16%,#275200 34.06%,#295900 34.72%,#295800 34.95%,#264400 35.84%,#222500 36.73%,#1d1700 37.88%,#1b1200 39.16%,#1a0900 43.65%,#190700 46.17%,#180300 56.38%,#180300 56.4%,#160200 69.13%,#150100 84.44%,#140100 100%)"></i>
<i style="background:linear-gradient(#ff0000 0%,#ff0000 3.571%,#ff0000 3.763%,#e8bf00 4.018%,#d8bf00 4.401%,#c4d500 4.911%,#afea00 5.548%,#9afe00 6.314%,#88fc00 7.334%,#7dfa00 8.61%,#76f900 10.14%,#74f900 11.73%,#74f900 12.05%,#73f900 14.29%,#73f900 14.6%,#75f900 15.56%,#7cfa00 16.07%,#89fc00 16.45%,#9ffa00 16.84%,#b5e500 17.22%,#d0c700 17.73%,#d2c400 17.79%,#dfbf00 18.75%,#dabf00 19.77%,#c1da00 20.54%,#99ff00 21.17%,#75f900 21.62%,#66f600 21.81%,#3ddb00 22.45%,#266800 23.09%,#1d2600 23.72%,#191900 24.36%,#181800 25%,#171600 25.77%,#171500 26.72%,#171400 27.04%,#161200 30.87%,#1b1800 33.1%,#1b1900 33.16%,#202600 34.06%,#233000 34.95%,#202200 35.84%,#1b1400 36.73%,#170c00 37.88%,#150a00 39.16%,#150800 42.03%,#140500 46.17%,#140300 54.78%,#130300 56.38%,#120100 69.13%,#110100 84.44%,#100100 100%)"></i>
<i style="background:linear-gradient(#ff0000 0%,#ff0000 3.686%,#f35300 3.878%,#e8bf00 4.133%,#d8bf00 4.515%,#c6d400 5.026%,#b1e800 5.663%,#9efb00 6.429%,#8ffd00 7.449%,#88fc00 8.724%,#84fc00 10.26%,#83fb00 11.73%,#83fb00 12.17%,#82fb00 14.29%,#82fb00 14.72%,#84fb00 15.56%,#8bfd00 16.07%,#97ff00 16.45%,#aaef00 16.84%,#bedc00 17.22%,#d6bf00 17.73%,#dcbf00 17.91%,#e5bf00 18.75%,#e0bf00 19.77%,#c6d300 20.54%,#9dfb00 21.17%,#6ef800 21.73%,#68f700 21.81%,#3edc00 22.45%,#266600 23.09%,#1c2400 23.72%,#191900 24.36%,#181700 25%,#171500 25.77%,#161400 26.84%,#161400 27.04%,#151100 30.87%,#1b1700 33.16%,#1b1800 33.21%,#1f2400 34.06%,#222a00 34.95%,#1f2000 35.84%,#1a1200 36.73%,#160c00 37.88%,#140a00 39.16%,#140700 42.14%,#130500 46.17%,#130300 54.9%,#130200 56.38%,#120100 69.13%,#100100 84.44%,#0f0100 100%)"></i>
<i style="background:linear-gradient(#ff0000 0%,#ff0000 3.61%,#ff0000 3.801%,#e8bf00 4.056%,#d8bf00 4.439%,#c5d500 4.949%,#afea00 5.587%,#99ff00 6.352%,#85fc00 7.372%,#76f900 8.648%,#6cf700 10.18%,#67f700 11.73%,#67f700 12.09%,#65f600 14.29%,#65f600 14.64%,#66f700 15.56%,#6ef800 16.07%,#7dfa00 16.45%,#95fe00 16.84%,#aeeb00 17.22%,#cbcd00 17.73%,#d0c700 17.83%,#dcbf00 18.75%,#d7bf00 19.77%,#bddd00 20.54%,#95fe00 21.17%,#6ff800 21.66%,#62f600 21.81%,#3ad700 22.45%,#234d00 23.09%,#1a1a00 23.72%,#171600 24.36%,#151400 25%,#141200 25.77%,#141100 26.76%,#141100 27.04%,#130e00 30.87%,#181200 33.14%,#181200 33.16%,#1d1d00 34.06%,#1f2200 34.95%,#1d1a00 35.84%,#180e00 36.73%,#130a00 37.88%,#120800 39.16%,#110600 42.07%,#110400 46.17%,#100200 54.82%,#100200 56.38%,#0f0100 69.13%,#0e0100 84.44%,#0d0100 100%)"></i>
<i style="background:linear-gradient(#ff0000 0%,#ff0000 3.367%,#f35500 3.559%,#e7bf00 3.814%,#d6c000 4.196%,#c1d900 4.707%,#abee00 5.344%,#94fe00 6.11%,#80fb00 7.13%,#70f800 8.406%,#65f600 9.936%,#60f500 11.73%,#60f500 11.85%,#5ef500 14.29%,#5ef500 14.4%,#5ff500 15.56%,#68f700 16.07%,#79fa00 16.45%,#92fe00 16.84%,#afeb00 17.22%,#c8d100 17.59%,#cfc800 17.73%,#e2bf00 18.75%,#dbbf00 19.77%,#c1d900 20.54%,#98ff00 21.17%,#85fc00 21.42%,#65f600 21.81%,#3cda00 22.45%,#255a00 23.09%,#1b1f00 23.72%,#181700 24.36%,#171500 25%,#161400 25.77%,#151300 26.52%,#151200 27.04%,#151000 30.87%,#191300 32.9%,#1a1500 33.16%,#1f2200 34.06%,#212700 34.95%,#1f1e00 35.84%,#1a1000 36.73%,#150b00 37.88%,#140900 39.16%,#130700 41.82%,#130500 46.17%,#120200 54.58%,#120200 56.38%,#110100 69.13%,#100100 84.44%,#0e0100 100%)"></i>
<i style="background:linear-gradient(#ff0000 0%,#ff0000 3.278%,#f35500 3.469%,#e7bf00 3.724%,#d5c000 4.107%,#c1da00 4.617%,#abee00 5.255%,#97ff00 6.02%,#8afd00 7.041%,#84fb00 8.316%,#81fb00 9.847%,#80fb00 11.73%,#80fb00 11.76%,#80fb00 14.29%,#80fb00 14.31%,#81fb00 15.56%,#87fc00 16.07%,#93fe00 16.45%,#a5f400 16.84%,#b7e300 17.22%,#c5d500 17.5%,#cec900 17.73%,#dcbf00 18.75%,#d7bf00 19.77%,#bfdc00 20.54%,#97ff00 21.17%,#8cfd00 21.33%,#64f600 21.81%,#3cda00 22.45%,#255f00 23.09%,#1c2200 23.72%,#181800 24.36%,#171600 25%,#161500 25.77%,#161400 26.43%,#161300 27.04%,#151100 30.87%,#191300 32.81%,#1b1800 33.16%,#202500 34.06%,#222d00 34.95%,#202100 35.84%,#1b1200 36.73%,#160c00 37.88%,#150a00 39.16%,#140800 41.73%,#140500 46.17%,#130300 54.49%,#130200 56.38%,#120100 69.13%,#110100 84.44%,#0f0100 100%)"></i>
<i style="background:linear-gradient(#ff0000 0%,#ff0000 3.929%,#f35300 4.12%,#e9bf00 4.375%,#dabf00 4.758%,#c8d100 5.268%,#b3e600 5.906%,#9efa00 6.671%,#8afc00 7.691%,#7bfa00 8.967%,#71f800 10.5%,#6df800 11.73%,#6cf700 12.41%,#6af700 14.29%,#6af700 14.96%,#6bf700 15.56%,#74f900 16.07%,#83fb00 16.45%,#9cfc00 16.84%,#b6e300 17.22%,#d6c000 17.73%,#e3bf00 18.15%,#e7bf00 18.75%,#e1bf00 19.77%,#c7d200 20.54%,#9dfc00 21.17%,#68f700 21.81%,#5bf500 21.98%,#3edc00 22.45%,#266a00 23.09%,#1d2600 23.72%,#191900 24.36%,#181700 25%,#171500 25.77%,#161400 27.04%,#161400 27.08%,#151100 30.87%,#1a1600 33.16%,#1c1a00 33.46%,#1f2300 34.06%,#212800 34.95%,#1f1f00 35.84%,#1a1100 36.73%,#150c00 37.88%,#140900 39.16%,#130700 42.39%,#130500 46.17%,#120200 55.14%,#120200 56.38%,#110100 69.13%,#100100 84.44%,#0f0100 100%)"></i>
<i style="background:linear-gradient(#ff0000 0%,#ff0000 2.36%,#f35300 2.551%,#e2bf00 2.806%,#cccc00 3.189%,#b1e800 3.699%,#97ff00 4.337%,#83fb00 5.102%,#76f900 6.122%,#6ff800 7.398%,#6df800 8.929%,#6cf800 10.84%,#6cf800 11.73%,#6cf800 13.39%,#6cf800 14.29%,#6ef800 15.56%,#76f900 16.07%,#84fc00 16.45%,#8bfd00 16.58%,#9bfd00 16.84%,#b3e600 17.22%,#d0c700 17.73%,#e1bf00 18.75%,#dbbf00 19.77%,#c8d200 20.41%,#c1d900 20.54%,#99ff00 21.17%,#66f600 21.81%,#3dda00 22.45%,#255b00 23.09%,#1b1e00 23.72%,#181700 24.36%,#171500 25%,#161400 25.51%,#161400 25.77%,#151300 27.04%,#151100 30.87%,#161100 31.89%,#1b1700 33.16%,#1f2400 34.06%,#222b00 34.95%,#1f2000 35.84%,#1a1200 36.73%,#160c00 37.88%,#140a00 39.16%,#140800 40.82%,#140500 46.17%,#130300 53.57%,#130200 56.38%,#120100 69.13%,#100100 84.44%,#0f0100 100%)"></i>
<i style="background:linear-gradient(#ff0000 0%,#ff0000 3.533%,#ff0000 3.724%,#e8bf00 3.98%,#d8bf00 4.362%,#c4d600 4.872%,#aeeb00 5.51%,#98ff00 6.276%,#83fb00 7.296%,#74f900 8.571%,#69f700 10.1%,#64f600 11.73%,#63f600 12.02%,#61f600 14.29%,#61f600 14.57%,#63f600 15.56%,#6cf700 16.07%,#7dfa00 16.45%,#98ff00 16.84%,#b5e500 17.22%,#d6bf00 17.73%,#d8bf00 17.76%,#e9bf00 18.75%,#e3bf00 19.77%,#c8d100 20.54%,#9dfb00 21.17%,#7bfa00 21.58%,#67f700 21.81%,#3ddb00 22.45%,#245700 23.09%,#1a1c00 23.72%,#171600 24.36%,#161400 25%,#151300 25.77%,#141100 26.68%,#141100 27.04%,#130f00 30.87%,#181200 33.06%,#191300 33.16%,#1e1e00 34.06%,#202300 34.95%,#1d1b00 35.84%,#180f00 36.73%,#140a00 37.88%,#120800 39.16%,#120600 41.99%,#120400 46.17%,#110200 54.74%,#110200 56.38%,#100100 69.13%,#0f0100 84.44%,#0d0100 100%)"></i>
<i style="background:linear-gradient(#ff0000 0%,#ff0000 2.526%,#f35500 2.717%,#e3bf00 2.972%,#ceca00 3.355%,#b5e500 3.865%,#9afe00 4.503%,#85fc00 5.268%,#75f900 6.288%,#6af700 7.564%,#66f700 9.094%,#65f600 11.01%,#65f600 11.73%,#64f600 13.56%,#64f600 14.29%,#66f700 15.56%,#6ff800 16.07%,#7ffb00 16.45%,#92fe00 16.75%,#98ff00 16.84%,#b3e700 17.22%,#d2c400 17.73%,#e4bf00 18.75%,#debf00 19.77%,#c4d600 20.54%,#c2d900 20.57%,#9afe00 21.17%,#66f700 21.81%,#3cda00 22.45%,#245400 23.09%,#1a1a00 23.72%,#171600 24.36%,#151400 25%,#151300 25.68%,#151200 25.77%,#141100 27.04%,#140f00 30.87%,#151000 32.05%,#191300 33.16%,#1e2100 34.06%,#212500 34.95%,#1e1d00 35.84%,#191000 36.73%,#150b00 37.88%,#130900 39.16%,#130800 40.98%,#120500 46.17%,#120200 53.74%,#120200 56.38%,#110100 69.13%,#0f0100 84.44%,#0e0100 100%)"></i>
<i style="background:linear-gradient(#ff0000 0%,#ff0000 3.431%,#f35600 3.622%,#e7bf00 3.878%,#d6bf00 4.26%,#c2d800 4.77%,#aced00 5.408%,#95fe00 6.173%,#82fb00 7.194%,#74f900 8.469%,#6bf700 10%,#67f700 11.73%,#66f700 11.91%,#65f600 14.29%,#65f600 14.46%,#66f700 15.56%,#6ef800 16.07%,#7efa00 16.45%,#95fe00 16.84%,#aeeb00 17.22%,#c9d000 17.65%,#cccc00 17.73%,#ddbf00 18.75%,#d7bf00 19.77%,#bedc00 20.54%,#96fe00 21.17%,#7efb00 21.48%,#63f600 21.81%,#3bd800 22.45%,#245400 23.09%,#1a1d00 23.72%,#171600 24.36%,#161500 25%,#151300 25.77%,#151200 26.58%,#141200 27.04%,#140f00 30.87%,#181200 32.96%,#191300 33.16%,#1e2000 34.06%,#202500 34.95%,#1e1c00 35.84%,#190f00 36.73%,#140b00 37.88%,#130900 39.16%,#130700 41.89%,#120400 46.17%,#120200 54.64%,#110200 56.38%,#100100 69.13%,#0f0100 84.44%,#0e0100 100%)"></i>
<i style="background:linear-gradient(#ff0000 0%,#ff0000 6.441%,#ff0000 6.633%,#ee9a00 6.888%,#e6bf00 7.27%,#dbbf00 7.781%,#cfc800 8.418%,#c2d800 9.184%,#b2e700 10.2%,#a1f700 11.48%,#9efa00 11.73%,#91fe00 13.01%,#8afc00 14.29%,#87fc00 14.92%,#85fc00 15.56%,#88fc00 16.07%,#92fe00 16.45%,#a6f300 16.84%,#bcde00 17.22%,#cbcd00 17.47%,#d8bf00 17.73%,#e8bf00 18.75%,#e2bf00 19.77%,#c8d100 20.54%,#c1d900 20.66%,#b1e900 20.92%,#9efa00 21.17%,#dbbf00 21.68%,#d7bf00 21.81%,#c2d800 22.45%,#adec00 23.09%,#99ff00 23.72%,#84fb00 24.36%,#80fb00 24.49%,#7cf700 25%,#77f200 25.77%,#6ee900 27.04%,#5dd800 29.59%,#54cf00 30.87%,#51b900 33.16%,#4fb000 34.06%,#4ea700 34.95%,#4c9e00 35.84%,#4c9d00 35.97%,#4b9500 36.73%,#498800 37.88%,#477b00 39.16%,#404e00 43.62%,#3d4500 44.9%,#3b3d00 46.17%,#271000 56.38%,#270f00 57.65%,#220500 69.13%,#1d0200 84.44%,#180100 100%)"></i>
<i style="background:linear-gradient(#ff0000 0%,#ff0000 3.214%,#f35300 3.406%,#e7bf00 3.661%,#d5c100 4.043%,#c0db00 4.554%,#a9f000 5.191%,#91fe00 5.957%,#7efb00 6.977%,#70f800 8.253%,#66f700 9.783%,#62f600 11.7%,#62f600 11.73%,#61f600 14.25%,#61f600 14.29%,#63f600 15.56%,#6bf700 16.07%,#7bfa00 16.45%,#93fe00 16.84%,#aeeb00 17.22%,#bdde00 17.44%,#cdcb00 17.73%,#dfbf00 18.75%,#d9bf00 19.77%,#bfdb00 20.54%,#96fe00 21.17%,#8ffd00 21.26%,#63f600 21.81%,#3ad600 22.45%,#224300 23.09%,#181800 23.72%,#151400 24.36%,#141200 25%,#131000 25.77%,#131000 26.36%,#130f00 27.04%,#120d00 30.87%,#161000 32.74%,#181100 33.16%,#1c1b00 34.06%,#1f2000 34.95%,#1c1800 35.84%,#170e00 36.73%,#130900 37.88%,#110800 39.16%,#110600 41.67%,#110400 46.17%,#100200 54.43%,#100200 56.38%,#0f0100 69.13%,#0d0100 84.44%,#0c0100 100%)"></i>
<i style="background:linear-gradient(#ff0000 0%,#ff0000 3.469%,#ff0000 3.661%,#e8bf00 3.916%,#d7bf00 4.298%,#c3d700 4.809%,#adec00 5.446%,#97ff00 6.212%,#83fb00 7.232%,#74f900 8.508%,#6af700 10.04%,#65f600 11.73%,#65f600 11.95%,#63f600 14.29%,#63f600 14.5%,#65f600 15.56%,#6ef800 16.07%,#7efa00 16.45%,#97ff00 16.84%,#b2e800 17.22%,#d0c700 17.69%,#d2c500 17.73%,#e4bf00 18.75%,#debf00 19.77%,#c3d700 20.54%,#99ff00 21.17%,#7dfa00 21.52%,#64f600 21.81%,#3ad700 22.45%,#224400 23.09%,#181800 23.72%,#151400 24.36%,#141200 25%,#131000 25.77%,#120f00 26.62%,#120f00 27.04%,#120d00 30.87%,#161000 33%,#171100 33.16%,#1c1900 34.06%,#1e1e00 34.95%,#1c1600 35.84%,#170d00 36.73%,#120900 37.88%,#110800 39.16%,#100600 41.93%,#100400 46.17%,#0f0200 54.68%,#0f0200 56.38%,#0e0100 69.13%,#0d0100 84.44%,#0b0100 100%)"></i>
<i style="background:linear-gradient(#ff0000 0%,#ff0000 8.444%,#ff0000 8.635%,#ef8a00 8.89%,#e9bf00 9.273%,#e1bf00 9.783%,#d7bf00 10.42%,#cccc00 11.19%,#c5d500 11.73%,#bfdc00 12.21%,#b0ea00 13.48%,#a7f200 14.29%,#a0f800 15.01%,#9bfd00 15.56%,#98ff00 16.07%,#98ff00 16.45%,#a3f500 16.84%,#a7f200 16.93%,#b8e200 17.22%,#d5c100 17.73%,#e6bf00 18.75%,#e4bf00 19.48%,#e0bf00 19.77%,#c6d400 20.54%,#9dfb00 21.17%,#78fa00 21.81%,#6df800 22.45%,#6cf700 22.67%,#69f700 23.09%,#66f700 23.72%,#63f600 24.36%,#60f300 25%,#5dee00 25.77%,#5ae900 26.49%,#57e500 27.04%,#49c900 30.87%,#46bf00 31.59%,#41ac00 33.16%,#3fa100 34.06%,#3d9800 34.95%,#3b8d00 35.84%,#378300 36.73%,#347600 37.88%,#337500 37.97%,#306000 39.16%,#231400 46.17%,#221000 46.9%,#180300 56.38%,#160300 59.66%,#120100 69.13%,#100100 84.44%,#0e0100 100%)"></i>
<i style="background:linear-gradient(#ff0000 0%,#ff0000 3.367%,#ff0000 3.559%,#e7bf00 3.814%,#d6bf00 4.196%,#c2d900 4.707%,#acee00 5.344%,#95fe00 6.11%,#83fb00 7.13%,#76f900 8.406%,#6ff800 9.936%,#6cf800 11.73%,#6cf800 11.85%,#6bf700 14.29%,#6bf700 14.4%,#6df800 15.56%,#74f900 16.07%,#83fb00 16.45%,#99ff00 16.84%,#b0ea00 17.22%,#c5d500 17.59%,#cccc00 17.73%,#dcbf00 18.75%,#d6bf00 19.77%,#bddd00 20.54%,#95fe00 21.17%,#82fb00 21.42%,#62f600 21.81%,#3ad600 22.45%,#234600 23.09%,#191900 23.72%,#161400 24.36%,#151300 25%,#141100 25.77%,#131000 26.52%,#131000 27.04%,#130e00 30.87%,#171100 32.9%,#181200 33.16%,#1d1c00 34.06%,#1f2100 34.95%,#1d1900 35.84%,#180e00 36.73%,#130a00 37.88%,#120800 39.16%,#110600 41.82%,#110400 46.17%,#100200 54.58%,#100200 56.38%,#0f0100 69.13%,#0e0100 84.44%,#0c0100 100%)"></i>
<i style="background:linear-gradient(#ff0000 0%,#ff0000 3.763%,#ff0000 3.954%,#e8bf00 4.209%,#d9bf00 4.592%,#c6d300 5.102%,#b1e800 5.74%,#9bfd00 6.505%,#86fc00 7.526%,#75f900 8.801%,#69f700 10.33%,#62f600 11.73%,#61f600 12.24%,#5ef500 14.29%,#5ef500 14.8%,#5ff500 15.56%,#68f700 16.07%,#78f900 16.45%,#90fe00 16.84%,#aced00 17.22%,#cbcd00 17.73%,#d5c100 17.98%,#ddbf00 18.75%,#d7bf00 19.77%,#bedd00 20.54%,#95fe00 21.17%,#63f600 21.81%,#3bd800 22.45%,#255900 23.09%,#1b2000 23.72%,#181800 24.36%,#171600 25%,#161400 25.77%,#151200 26.91%,#151200 27.04%,#141000 30.87%,#191300 33.16%,#1a1500 33.29%,#1e2000 34.06%,#202500 34.95%,#1e1c00 35.84%,#190f00 36.73%,#140b00 37.88%,#130900 39.16%,#130700 42.22%,#120400 46.17%,#110200 54.97%,#110200 56.38%,#100100 69.13%,#0f0100 84.44%,#0e0100 100%)"></i>
<i style="background:linear-gradient(#ff0000 0%,#ff0000 3.406%,#f35600 3.597%,#e7bf00 3.852%,#d6bf00 4.235%,#c2d800 4.745%,#adec00 5.383%,#9afe00 6.148%,#8dfd00 7.168%,#87fc00 8.444%,#84fc00 9.974%,#84fb00 11.73%,#84fb00 11.89%,#83fb00 14.29%,#83fb00 14.44%,#85fc00 15.56%,#8bfd00 16.07%,#97ff00 16.45%,#a9f000 16.84%,#bbdf00 17.22%,#cfc900 17.63%,#d3c400 17.73%,#e1bf00 18.75%,#dbbf00 19.77%,#c2d800 20.54%,#99ff00 21.17%,#83fb00 21.45%,#64f600 21.81%,#3ad700 22.45%,#234800 23.09%,#191900 23.72%,#161400 24.36%,#141300 25%,#131100 25.77%,#131000 26.56%,#131000 27.04%,#120e00 30.87%,#171100 32.93%,#181200 33.16%,#1d1b00 34.06%,#1f2100 34.95%,#1c1800 35.84%,#170e00 36.73%,#130a00 37.88%,#110800 39.16%,#110600 41.86%,#110400 46.17%,#100200 54.62%,#100200 56.38%,#0f0100 69.13%,#0e0100 84.44%,#0c0100 100%)"></i>
<i style="background:linear-gradient(#ff0000 0%,#ff0000 3.801%,#f35500 3.992%,#e8bf00 4.247%,#d9bf00 4.63%,#c6d300 5.14%,#b2e700 5.778%,#9efa00 6.543%,#8efd00 7.564%,#84fc00 8.839%,#7ffb00 10.37%,#7efa00 11.73%,#7efa00 12.28%,#7dfa00 14.29%,#7dfa00 14.83%,#7efb00 15.56%,#85fc00 16.07%,#91fe00 16.45%,#a5f400 16.84%,#b8e100 17.22%,#d1c600 17.73%,#dabf00 18.02%,#e0bf00 18.75%,#dabf00 19.77%,#c2d900 20.54%,#99ff00 21.17%,#65f600 21.81%,#62f600 21.85%,#3cda00 22.45%,#255f00 23.09%,#1c2300 23.72%,#191800 24.36%,#171600 25%,#161400 25.77%,#151300 26.95%,#151300 27.04%,#151000 30.87%,#1a1500 33.16%,#1b1700 33.33%,#1f2200 34.06%,#212600 34.95%,#1e1e00 35.84%,#191000 36.73%,#150b00 37.88%,#140900 39.16%,#130700 42.26%,#130500 46.17%,#120200 55.01%,#120200 56.38%,#110100 69.13%,#100100 84.44%,#0e0100 100%)"></i>
<i style="background:linear-gradient(#ff0000 0%,#ff0000 3.763%,#ff0000 3.954%,#e8bf00 4.209%,#d9bf00 4.592%,#c6d300 5.102%,#b2e800 5.74%,#9efb00 6.505%,#8cfd00 7.526%,#82fb00 8.801%,#7dfa00 10.33%,#7bfa00 11.73%,#7bfa00 12.24%,#7afa00 14.29%,#7afa00 14.8%,#7cfa00 15.56%,#82fb00 16.07%,#8ffd00 16.45%,#a3f600 16.84%,#b7e300 17.22%,#d0c700 17.73%,#d8bf00 17.98%,#dfbf00 18.75%,#dabf00 19.77%,#c1da00 20.54%,#98ff00 21.17%,#64f600 21.81%,#3bd700 22.45%,#245000 23.09%,#1a1c00 23.72%,#171600 24.36%,#161400 25%,#151200 25.77%,#141100 26.91%,#141100 27.04%,#130e00 30.87%,#181200 33.16%,#191300 33.29%,#1d1c00 34.06%,#1f2200 34.95%,#1d1900 35.84%,#180e00 36.73%,#130a00 37.88%,#120800 39.16%,#110600 42.22%,#110400 46.17%,#100200 54.97%,#100200 56.38%,#0f0100 69.13%,#0e0100 84.44%,#0d0100 100%)"></i>
<i style="background:linear-gradient(#ff0000 0%,#ff0000 11.54%,#ff0000 11.73%,#f07d00 11.99%,#ebb500 12.37%,#e5bf00 12.88%,#debf00 13.52%,#d6c000 14.29%,#cbcd00 15.31%,#c9d000 15.56%,#c4d600 16.07%,#c1da00 16.45%,#c0da00 16.58%,#c0db00 16.84%,#c4d600 17.22%,#d3c300 17.73%,#dcbf00 18.11%,#e0bf00 18.75%,#dabf00 19.77%,#d5c100 20.03%,#c3d700 20.54%,#a5f300 21.17%,#96fe00 21.81%,#90fe00 22.45%,#90fd00 22.58%,#b4e600 23.09%,#e0bf00 23.21%,#e0bf00 23.72%,#debf00 24.36%,#ddbd00 25%,#dcba00 25.77%,#dbb800 26.15%,#c4ca00 27.04%,#81dd00 29.59%,#7ad400 30.87%,#6ebc00 33.16%,#6ab300 34.06%,#67ad00 34.69%,#66aa00 34.95%,#61a100 35.84%,#61a000 35.97%,#5f9800 36.73%,#5d8d00 37.88%,#5b8000 39.16%,#586e00 41.07%,#524500 46.17%,#4d2c00 50%,#3a1f00 56.38%,#2f1600 60.2%,#2d1200 62.76%,#270900 69.13%,#1e0300 81.89%,#1d0300 84.44%,#1a0100 100%)"></i>
<i style="background:linear-gradient(#ff0000 0%,#ff0000 11.54%,#ff0000 11.73%,#f07d00 11.99%,#ebb500 12.37%,#e5bf00 12.88%,#debf00 13.52%,#d5c000 14.29%,#cbcd00 15.31%,#c8d000 15.56%,#c4d600 16.07%,#c0da00 16.45%,#c0db00 16.58%,#bfdc00 16.84%,#c2d800 17.22%,#d3c300 17.73%,#ddbf00 18.11%,#e1bf00 18.75%,#dbbf00 19.77%,#d6c000 20.03%,#c3d700 20.54%,#a5f300 21.17%,#96fe00 21.81%,#90fe00 22.45%,#90fd00 22.58%,#b4e600 23.09%,#e0bf00 23.21%,#e0bf00 23.72%,#debf00 24.36%,#ddbd00 25%,#dcba00 25.77%,#dbb800 26.15%,#c4ca00 27.04%,#81dd00 29.59%,#7ad400 30.87%,#6ebc00 33.16%,#6ab300 34.06%,#67ad00 34.69%,#66aa00 34.95%,#61a100 35.84%,#61a000 35.97%,#5f9800 36.73%,#5d8d00 37.88%,#5b8000 39.16%,#586e00 41.07%,#524500 46.17%,#4d2c00 50%,#3a1f00 56.38%,#2f1600 60.2%,#2d1200 62.76%,#270900 69.13%,#1e0300 81.89%,#1d0300 84.44%,#1a0100 100%)"></i>
<i style="background:linear-gradient(#ff0000 0%,#ff0000 7.283%,#ff0000 7.474%,#ef9200 7.73%,#e7bf00 8.112%,#debf00 8.622%,#d3c300 9.26%,#c7d200 10.03%,#b8e200 11.05%,#afea00 11.73%,#a8f100 12.32%,#98ff00 13.85%,#94fe00 14.29%,#8cfd00 15.56%,#8cfd00 15.77%,#8dfd00 16.07%,#94fe00 16.45%,#a6f300 16.84%,#bdde00 17.22%,#d9bf00 17.73%,#e8bf00 18.32%,#eabf00 18.75%,#e4bf00 19.77%,#cacf00 20.54%,#a1f800 21.17%,#88fc00 21.51%,#73f900 21.81%,#60f500 22.45%,#5af400 23.09%,#56f400 23.72%,#53f300 24.36%,#50f000 25%,#4fee00 25.33%,#4deb00 25.77%,#48dd00 27.04%,#3cbb00 30.43%,#3ab700 30.87%,#359e00 33.16%,#359600 34.06%,#348e00 34.95%,#317e00 35.84%,#2e6600 36.73%,#2d6400 36.81%,#2a4d00 37.88%,#273a00 39.16%,#1f0e00 45.74%,#1f0d00 46.17%,#190400 56.38%,#190300 58.49%,#170200 69.13%,#150100 84.44%,#140100 100%)"></i>
<i style="background:linear-gradient(#ff0000 0%,#ff0000 3.418%,#f35400 3.61%,#e7bf00 3.865%,#d6bf00 4.247%,#c2d800 4.758%,#adec00 5.395%,#98ff00 6.161%,#8afc00 7.181%,#82fb00 8.457%,#7efb00 9.987%,#7dfa00 11.73%,#7dfa00 11.9%,#7cfa00 14.29%,#7cfa00 14.45%,#7efa00 15.56%,#85fc00 16.07%,#91fe00 16.45%,#a5f400 16.84%,#bae100 17.22%,#cfc800 17.64%,#d3c400 17.73%,#e2bf00 18.75%,#dcbf00 19.77%,#c4d600 20.54%,#9cfc00 21.17%,#85fc00 21.47%,#69f700 21.81%,#41e100 22.45%,#2a8900 23.09%,#203500 23.72%,#1d2800 24.36%,#1c2300 25%,#1b1f00 25.77%,#1b1d00 26.57%,#1b1c00 27.04%,#1a1800 30.87%,#1f2300 32.95%,#202600 33.16%,#243f00 34.06%,#274b00 34.95%,#243800 35.84%,#1f1e00 36.73%,#1b1200 37.88%,#190d00 39.16%,#190a00 41.88%,#190700 46.17%,#180400 54.63%,#180300 56.38%,#170200 69.13%,#150100 84.44%,#140100 100%)"></i>
<i style="background:linear-gradient(#ff0000 0%,#ff0000 3.801%,#f35200 3.992%,#e8bf00 4.247%,#d9bf00 4.63%,#c7d300 5.14%,#b2e700 5.778%,#9efb00 6.543%,#8cfd00 7.564%,#81fb00 8.839%,#7bfa00 10.37%,#79fa00 11.73%,#78fa00 12.28%,#77f900 14.29%,#77f900 14.83%,#79fa00 15.56%,#80fb00 16.07%,#8dfd00 16.45%,#a2f600 16.84%,#b8e200 17.22%,#d2c400 17.73%,#dbbf00 18.02%,#e2bf00 18.75%,#dcbf00 19.77%,#c3d700 20.54%,#9bfd00 21.17%,#69f700 21.81%,#66f600 21.85%,#40e000 22.45%,#2a8700 23.09%,#203500 23.72%,#1d2800 24.36%,#1c2300 25%,#1b1e00 25.77%,#1a1b00 26.95%,#1a1b00 27.04%,#1a1600 30.87%,#1f2400 33.16%,#202600 33.33%,#243a00 34.06%,#264600 34.95%,#233300 35.84%,#1e1c00 36.73%,#1a1000 37.88%,#190d00 39.16%,#180a00 42.26%,#180700 46.17%,#170300 55.01%,#170300 56.38%,#160200 69.13%,#150100 84.44%,#130100 100%)"></i>
<i style="background:linear-gradient(#ff0000 0%,#ff0000 3.291%,#ff0000 3.482%,#e7bf00 3.737%,#d6c000 4.12%,#c1d900 4.63%,#abee00 5.268%,#97ff00 6.033%,#8afc00 7.054%,#82fb00 8.329%,#7ffb00 9.86%,#7efb00 11.73%,#7efb00 11.77%,#7efa00 14.29%,#7efa00 14.32%,#7ffb00 15.56%,#86fc00 16.07%,#92fe00 16.45%,#a5f400 16.84%,#b8e200 17.22%,#c7d300 17.51%,#d0c700 17.73%,#debf00 18.75%,#d9bf00 19.77%,#c1da00 20.54%,#99ff00 21.17%,#8cfd00 21.34%,#65f600 21.81%,#3ddb00 22.45%,#266400 23.09%,#1c2400 23.72%,#191900 24.36%,#181700 25%,#171500 25.77%,#161400 26.44%,#161400 27.04%,#161200 30.87%,#1a1400 32.82%,#1b1900 33.16%,#202600 34.06%,#222f00 34.95%,#202200 35.84%,#1b1300 36.73%,#160c00 37.88%,#150a00 39.16%,#150800 41.75%,#140500 46.17%,#140300 54.5%,#130300 56.38%,#120100 69.13%,#110100 84.44%,#100100 100%)"></i>
<i style="background:linear-gradient(#ff0000 0%,#ff0000 5.37%,#ff0000 5.561%,#eda600 5.816%,#e3bf00 6.199%,#d7bf00 6.709%,#c9cf00 7.347%,#bae000 8.112%,#a9f000 9.133%,#98ff00 10.41%,#8cfd00 11.73%,#8bfd00 11.94%,#82fb00 13.85%,#81fb00 14.29%,#7ffb00 15.56%,#84fc00 16.07%,#8dfd00 16.4%,#8ffd00 16.45%,#a2f600 16.84%,#b6e400 17.22%,#cfc900 17.73%,#ddbf00 18.75%,#dabf00 19.59%,#d8bf00 19.77%,#c0da00 20.54%,#99ff00 21.17%,#68f700 21.81%,#49ed00 22.45%,#3ddb00 23.09%,#3ad700 23.42%,#38d400 23.72%,#35cf00 24.36%,#33c600 25%,#30ae00 25.77%,#2c8d00 27.04%,#286c00 28.52%,#234000 30.87%,#243c00 33.16%,#264d00 34.06%,#285200 34.9%,#285200 34.95%,#253e00 35.84%,#212200 36.73%,#1c1500 37.88%,#1a0f00 39.16%,#180800 43.83%,#180700 46.17%,#160300 56.38%,#160300 56.58%,#150200 69.13%,#130100 84.44%,#120100 100%)"></i>
<i style="background:linear-gradient(#ff0000 0%,#ff0000 3.406%,#f35600 3.597%,#e7bf00 3.852%,#d6bf00 4.235%,#c2d800 4.745%,#aced00 5.383%,#97ff00 6.148%,#88fc00 7.168%,#7efb00 8.444%,#7afa00 9.974%,#78fa00 11.73%,#78fa00 11.89%,#78f900 14.29%,#78f900 14.44%,#79fa00 15.56%,#80fb00 16.07%,#8dfd00 16.45%,#a1f700 16.84%,#b6e400 17.22%,#cbcd00 17.63%,#cfc800 17.73%,#dfbf00 18.75%,#d9bf00 19.77%,#c1d900 20.54%,#9afe00 21.17%,#85fc00 21.45%,#69f700 21.81%,#41e100 22.45%,#2b8d00 23.09%,#213700 23.72%,#1e2b00 24.36%,#1d2600 25%,#1c2200 25.77%,#1b2000 26.56%,#1b1f00 27.04%,#1b1b00 30.87%,#1f2500 32.93%,#202800 33.16%,#254400 34.06%,#285000 34.95%,#253d00 35.84%,#202000 36.73%,#1c1300 37.88%,#1a0f00 39.16%,#1a0b00 41.86%,#190700 46.17%,#190400 54.62%,#190400 56.38%,#180200 69.13%,#160100 84.44%,#150100 100%)"></i>
<i style="background:linear-gradient(#ff0000 0%,#ff0000 3.814%,#f35300 4.005%,#e8bf00 4.26%,#d9bf00 4.643%,#c7d300 5.153%,#b3e700 5.791%,#9ffa00 6.556%,#8efd00 7.577%,#86fc00 8.852%,#81fb00 10.38%,#80fb00 11.73%,#7ffb00 12.3%,#7ffb00 14.29%,#7ffb00 14.85%,#80fb00 15.56%,#87fc00 16.07%,#95fe00 16.45%,#a9f000 16.84%,#bfdc00 17.22%,#d9bf00 17.73%,#e2bf00 18.04%,#e8bf00 18.75%,#e2bf00 19.77%,#c9cf00 20.54%,#a1f800 21.17%,#6df800 21.81%,#68f700 21.86%,#44e500 22.45%,#2c9a00 23.09%,#234500 23.72%,#1f3100 24.36%,#1e2c00 25%,#1d2700 25.77%,#1d2300 26.96%,#1d2300 27.04%,#1c1e00 30.87%,#212b00 33.16%,#223200 33.34%,#264a00 34.06%,#285500 34.95%,#264200 35.84%,#212200 36.73%,#1c1500 37.88%,#1b1000 39.16%,#1a0c00 42.27%,#1a0800 46.17%,#190400 55.03%,#190400 56.38%,#180200 69.13%,#170100 84.44%,#160100 100%)"></i>
<i style="background:linear-gradient(#ff0000 0%,#ff0000 6.441%,#ff0000 6.633%,#ee9a00 6.888%,#e6bf00 7.27%,#dbbf00 7.781%,#cfc800 8.418%,#c2d800 9.184%,#b2e700 10.2%,#a2f700 11.48%,#9ffa00 11.73%,#92fe00 13.01%,#8bfd00 14.29%,#88fc00 14.92%,#86fc00 15.56%,#8afc00 16.07%,#94fe00 16.45%,#a7f200 16.84%,#bddd00 17.22%,#cccc00 17.47%,#d8bf00 17.73%,#e8bf00 18.75%,#e2bf00 19.77%,#c9cf00 20.54%,#c3d800 20.66%,#a1f800 21.17%,#70f800 21.81%,#56f400 22.45%,#4ef200 23.09%,#4aee00 23.72%,#46e900 24.36%,#46e800 24.49%,#44e200 25%,#41da00 25.77%,#3ccc00 27.04%,#34b400 29.59%,#309c00 30.87%,#2e7d00 33.16%,#2f7e00 34.06%,#2f7a00 34.95%,#2d6700 35.84%,#2c6300 35.97%,#294d00 36.73%,#243100 37.88%,#222200 39.16%,#1e0d00 44.9%,#1d0b00 46.17%,#1a0400 56.38%,#1a0400 57.65%,#180200 69.13%,#170100 84.44%,#160100 100%)"></i>
<i style="background:linear-gradient(#ff0000 0%,#ff0000 3.865%,#f35200 4.056%,#e9bf00 4.311%,#d9bf00 4.694%,#c7d200 5.204%,#b3e700 5.842%,#9dfb00 6.607%,#89fc00 7.628%,#7afa00 8.903%,#6ff800 10.43%,#6bf700 11.73%,#6af700 12.35%,#68f700 14.29%,#68f700 14.9%,#69f700 15.56%,#71f800 16.07%,#80fb00 16.45%,#97ff00 16.84%,#b0ea00 17.22%,#cdcb00 17.73%,#d8bf00 18.09%,#ddbf00 18.75%,#d8bf00 19.77%,#bfdb00 20.54%,#99ff00 21.17%,#68f700 21.81%,#61f600 21.91%,#42e200 22.45%,#2c9900 23.09%,#234800 23.72%,#203300 24.36%,#1f2d00 25%,#1e2800 25.77%,#1d2500 27.02%,#1d2500 27.04%,#1c1f00 30.87%,#222d00 33.16%,#233600 33.39%,#264c00 34.06%,#295700 34.95%,#264300 35.84%,#212300 36.73%,#1d1600 37.88%,#1b1100 39.16%,#1b0c00 42.32%,#1a0800 46.17%,#1a0400 55.08%,#1a0400 56.38%,#190200 69.13%,#170100 84.44%,#160100 100%)"></i>
<i style="background:linear-gradient(#ff0000 0%,#ff0000 3.673%,#ff0000 3.865%,#e8bf00 4.12%,#d8bf00 4.503%,#c5d400 5.013%,#b0e900 5.651%,#9bfd00 6.416%,#88fc00 7.436%,#7bfa00 8.712%,#73f900 10.24%,#70f800 11.73%,#6ff800 12.16%,#6ef800 14.29%,#6ef800 14.71%,#70f800 15.56%,#77f900 16.07%,#86fc00 16.45%,#9cfc00 16.84%,#b4e600 17.22%,#d0c600 17.73%,#d7bf00 17.9%,#e1bf00 18.75%,#dbbf00 19.77%,#c2d800 20.54%,#9bfd00 21.17%,#70f800 21.72%,#69f700 21.81%,#42e200 22.45%,#2b9100 23.09%,#223c00 23.72%,#1f2e00 24.36%,#1d2800 25%,#1c2400 25.77%,#1c2100 26.82%,#1c2000 27.04%,#1b1c00 30.87%,#212900 33.16%,#212900 33.2%,#254500 34.06%,#285100 34.95%,#253e00 35.84%,#202000 36.73%,#1c1400 37.88%,#1a0f00 39.16%,#1a0b00 42.13%,#190700 46.17%,#190400 54.89%,#190400 56.38%,#180200 69.13%,#160100 84.44%,#150100 100%)"></i>
<i style="background:linear-gradient(#ff0000 0%,#ff0000 3.724%,#ff0000 3.916%,#e8bf00 4.171%,#d9bf00 4.554%,#c6d400 5.064%,#b1e900 5.702%,#9bfd00 6.467%,#85fc00 7.487%,#75f900 8.763%,#68f700 10.29%,#62f600 11.73%,#61f600 12.21%,#5ef500 14.29%,#5ef500 14.76%,#60f500 15.56%,#68f700 16.07%,#79fa00 16.45%,#93fe00 16.84%,#b0e900 17.22%,#d1c600 17.73%,#dabf00 17.95%,#e4bf00 18.75%,#debf00 19.77%,#c4d600 20.54%,#9bfd00 21.17%,#6bf700 21.77%,#68f700 21.81%,#40e000 22.45%,#298100 23.09%,#1f3100 23.72%,#1c2400 24.36%,#1b1f00 25%,#1a1a00 25.77%,#191800 26.88%,#191800 27.04%,#191500 30.87%,#1e2100 33.16%,#1e2200 33.25%,#233400 34.06%,#254000 34.95%,#232d00 35.84%,#1e1a00 36.73%,#190e00 37.88%,#180c00 39.16%,#170900 42.18%,#170600 46.17%,#160300 54.94%,#160300 56.38%,#150200 69.13%,#140100 84.44%,#120100 100%)"></i>
<i style="background:linear-gradient(#ff0000 0%,#ff0000 3.929%,#f35300 4.12%,#e9bf00 4.375%,#dabf00 4.758%,#c8d100 5.268%,#b3e600 5.906%,#9efa00 6.671%,#8afc00 7.691%,#7cfa00 8.967%,#72f800 10.5%,#6ef800 11.73%,#6df800 12.41%,#6bf700 14.29%,#6bf700 14.96%,#6cf800 15.56%,#74f900 16.07%,#83fb00 16.45%,#9bfd00 16.84%,#b4e500 17.22%,#d2c400 17.73%,#dfbf00 18.15%,#e3bf00 18.75%,#ddbf00 19.77%,#c4d600 20.54%,#9bfd00 21.17%,#68f700 21.81%,#5bf500 21.98%,#3fde00 22.45%,#287a00 23.09%,#1f2e00 23.72%,#1b2100 24.36%,#1a1c00 25%,#191800 25.77%,#181600 27.04%,#181600 27.08%,#171300 30.87%,#1d1d00 33.16%,#1e2100 33.46%,#212a00 34.06%,#243700 34.95%,#212500 35.84%,#1c1700 36.73%,#180d00 37.88%,#160b00 39.16%,#160800 42.39%,#150600 46.17%,#150300 55.14%,#150300 56.38%,#140100 69.13%,#120100 84.44%,#110100 100%)"></i>
<i style="background:linear-gradient(#ff0000 0%,#ff0000 3.763%,#ff0000 3.954%,#e9bf00 4.209%,#d9bf00 4.592%,#c6d300 5.102%,#b2e800 5.74%,#9dfb00 6.505%,#8afd00 7.526%,#7efb00 8.801%,#77f900 10.33%,#75f900 11.73%,#74f900 12.24%,#73f900 14.29%,#73f900 14.8%,#75f900 15.56%,#7cfa00 16.07%,#89fc00 16.45%,#9efa00 16.84%,#b4e600 17.22%,#cec900 17.73%,#d7bf00 17.98%,#debf00 18.75%,#d8bf00 19.77%,#c0db00 20.54%,#98ff00 21.17%,#66f600 21.81%,#3edd00 22.45%,#287600 23.09%,#1e2d00 23.72%,#1b2000 24.36%,#1a1b00 25%,#191800 25.77%,#181700 26.91%,#181600 27.04%,#181300 30.87%,#1d1e00 33.16%,#1e1f00 33.29%,#222c00 34.06%,#243900 34.95%,#212700 35.84%,#1c1700 36.73%,#180d00 37.88%,#170b00 39.16%,#160800 42.22%,#160600 46.17%,#150300 54.97%,#150300 56.38%,#140100 69.13%,#130100 84.44%,#110100 100%)"></i>
<i style="background:linear-gradient(#ff0000 0%,#ff0000 3.916%,#ff0000 4.107%,#e9bf00 4.362%,#dabf00 4.745%,#c8d100 5.255%,#b3e600 5.893%,#9efa00 6.658%,#89fc00 7.679%,#79fa00 8.954%,#6df800 10.48%,#68f700 11.73%,#66f600 12.4%,#63f600 14.29%,#63f600 14.95%,#64f600 15.56%,#6cf800 16.07%,#7bfa00 16.45%,#93fe00 16.84%,#aded00 17.22%,#cbce00 17.73%,#d8bf00 18.14%,#dcbf00 18.75%,#d6c000 19.77%,#bddd00 20.54%,#95fe00 21.17%,#63f600 21.81%,#58f400 21.96%,#3cd900 22.45%,#266400 23.09%,#1d2600 23.72%,#191900 24.36%,#181700 25%,#171500 25.77%,#161400 27.04%,#161400 27.07%,#151100 30.87%,#1a1600 33.16%,#1c1a00 33.44%,#1f2300 34.06%,#212900 34.95%,#1f1f00 35.84%,#1a1100 36.73%,#150c00 37.88%,#140a00 39.16%,#140700 42.37%,#130500 46.17%,#120200 55.13%,#120200 56.38%,#110100 69.13%,#100100 84.44%,#0f0100 100%)"></i>
<i style="background:linear-gradient(#ff0000 0%,#ff0000 11.73%,#ff0000 12.23%,#ff0000 12.42%,#f07b00 12.68%,#ecb000 13.06%,#e6bf00 13.57%,#dfbf00 14.21%,#debf00 14.29%,#d7bf00 14.97%,#d1c500 15.56%,#cdcb00 15.99%,#cccc00 16.07%,#c9d000 16.45%,#c7d200 16.84%,#cace00 17.22%,#cbcd00 17.27%,#dabf00 17.73%,#e8bf00 18.75%,#e8bf00 18.8%,#e2bf00 19.77%,#cace00 20.54%,#c2d900 20.71%,#aded00 21.17%,#9efa00 21.81%,#99ff00 22.45%,#98ff00 22.58%,#95fe00 23.09%,#9dfb00 23.21%,#9cfc00 23.27%,#98ff00 23.72%,#93fe00 24.36%,#8efa00 25%,#89f500 25.77%,#87f000 26.45%,#85ec00 27.04%,#79d800 30.28%,#78d400 30.87%,#71bd00 33.16%,#70ba00 33.42%,#6eb400 34.06%,#6cab00 34.95%,#6ba600 35.38%,#69a200 35.84%,#679900 36.73%,#648e00 37.88%,#618100 39.16%,#5a6700 41.76%,#575900 43.24%,#4c4400 46.17%,#3e2700 50.69%,#362100 53.83%,#331e00 56.38%,#2b1000 63.44%,#270900 69.13%,#1f0300 84.44%,#1a0100 100%)"></i>
<i style="background:linear-gradient(#ff0000 0%,#ff0000 11.73%,#ff0000 12.37%,#f35200 12.56%,#f07b00 12.82%,#ecb000 13.2%,#e6bf00 13.71%,#e0bf00 14.29%,#dfbf00 14.35%,#d7bf00 15.11%,#d3c400 15.56%,#ceca00 16.07%,#cdca00 16.14%,#cace00 16.45%,#c8d100 16.84%,#c8d000 17.22%,#cbcd00 17.41%,#d3c300 17.73%,#dfbf00 18.75%,#dfbf00 18.94%,#d9bf00 19.77%,#c3d700 20.54%,#b6e300 20.85%,#abee00 21.17%,#a0f900 21.81%,#9bfd00 22.45%,#9afe00 22.58%,#97ff00 23.09%,#9dfb00 23.21%,#9cfc00 23.41%,#99ff00 23.72%,#94fe00 24.36%,#8ffa00 25%,#8af500 25.77%,#87f000 26.59%,#85ed00 27.04%,#7ad700 30.42%,#78d400 30.87%,#71bd00 33.16%,#70ba00 33.42%,#6fb400 34.06%,#6cab00 34.95%,#6ba500 35.52%,#6aa200 35.84%,#679900 36.73%,#648e00 37.88%,#618100 39.16%,#5a6600 41.9%,#575900 43.24%,#4d4400 46.17%,#3f2700 50.83%,#382200 53.83%,#341e00 56.38%,#2c1000 63.58%,#270900 69.13%,#200300 84.44%,#1b0200 100%)"></i>
<i style="background:linear-gradient(#ff0000 0%,#ff0000 11.73%,#ff0000 12.44%,#f35200 12.63%,#f07b00 12.88%,#ecaf00 13.27%,#e6bf00 13.78%,#e1bf00 14.29%,#dfbf00 14.41%,#d7bf00 15.18%,#d4c300 15.56%,#cfc900 16.07%,#cdca00 16.2%,#cbcd00 16.45%,#c9d000 16.84%,#c9cf00 17.22%,#cec900 17.47%,#d6c000 17.73%,#e3bf00 18.75%,#e2bf00 19.01%,#ddbf00 19.77%,#c6d300 20.54%,#b6e400 20.92%,#aded00 21.17%,#a1f800 21.81%,#9cfd00 22.45%,#9bfd00 22.58%,#98ff00 23.09%,#9efb00 23.21%,#9cfd00 23.47%,#99ff00 23.72%,#94fe00 24.36%,#8ffa00 25%,#8bf500 25.77%,#87ef00 26.66%,#86ed00 27.04%,#7ad700 30.48%,#78d400 30.87%,#71bd00 33.16%,#71ba00 33.42%,#6fb400 34.06%,#6cab00 34.95%,#6ba400 35.59%,#6aa200 35.84%,#689900 36.73%,#658e00 37.88%,#618100 39.16%,#5a6500 41.96%,#575900 43.24%,#4d4400 46.17%,#3f2700 50.89%,#382200 53.83%,#341e00 56.38%,#2c1100 63.65%,#280a00 69.13%,#210400 84.44%,#1c0200 100%)"></i>
<i style="background:linear-gradient(#ff0000 0%,#ff0000 5.038%,#ff0000 5.23%,#ebb900 5.485%,#dfbf00 5.867%,#d0c700 6.378%,#bfdb00 7.015%,#adec00 7.781%,#98ff00 8.801%,#86fc00 10.08%,#79fa00 11.61%,#78fa00 11.73%,#6ff800 13.52%,#6df800 14.29%,#6cf800 15.56%,#73f900 16.07%,#82fb00 16.45%,#9bfd00 16.84%,#b6e400 17.22%,#d5c100 17.73%,#e7bf00 18.75%,#e6bf00 19.26%,#e1bf00 19.77%,#c7d200 20.54%,#9ffa00 21.17%,#6df800 21.81%,#46e800 22.45%,#32c200 23.09%,#298400 23.72%,#266700 24.36%,#245600 25%,#234500 25.77%,#213400 27.04%,#202f00 28.19%,#1e2600 30.87%,#233700 33.16%,#275300 34.06%,#295c00 34.57%,#2a5d00 34.95%,#274900 35.84%,#222900 36.73%,#1e1800 37.88%,#1c1300 39.16%,#1b0c00 43.49%,#1b0900 46.17%,#1a0400 56.25%,#1a0400 56.38%,#190200 69.13%,#180200 84.44%,#170100 100%)"></i>
<i style="background:linear-gradient(#ff0000 0%,#ff0000 5.561%,#ff0000 5.753%,#eda400 6.008%,#e4bf00 6.39%,#d8bf00 6.901%,#cace00 7.538%,#bcde00 8.304%,#aaef00 9.324%,#98ff00 10.6%,#8cfd00 11.73%,#89fc00 12.13%,#7dfa00 14.04%,#7cfa00 14.29%,#79fa00 15.56%,#7efa00 16.07%,#8afd00 16.45%,#91fe00 16.59%,#a0f800 16.84%,#b8e200 17.22%,#d5c100 17.73%,#e5bf00 18.75%,#e0bf00 19.77%,#dfbf00 19.78%,#c6d300 20.54%,#9efa00 21.17%,#6cf700 21.81%,#49ed00 22.45%,#3bd800 23.09%,#36d000 23.61%,#35cf00 23.72%,#31c100 24.36%,#2fac00 25%,#2c9500 25.77%,#297600 27.04%,#255100 28.71%,#213200 30.87%,#233b00 33.16%,#275100 34.06%,#295900 34.95%,#295800 35.09%,#264500 35.84%,#222500 36.73%,#1d1700 37.88%,#1b1100 39.16%,#1a0900 44.02%,#1a0700 46.17%,#180400 56.38%,#180300 56.77%,#170200 69.13%,#160100 84.44%,#150100 100%)"></i>
<i style="background:linear-gradient(#ff0000 0%,#ff0000 5.459%,#f35300 5.651%,#eda700 5.906%,#e3bf00 6.288%,#d7bf00 6.798%,#c9cf00 7.436%,#bbdf00 8.202%,#a9f000 9.222%,#96ff00 10.5%,#89fc00 11.73%,#86fc00 12.03%,#7afa00 13.94%,#78fa00 14.29%,#75f900 15.56%,#79fa00 16.07%,#86fc00 16.45%,#87fc00 16.49%,#9bfd00 16.84%,#b4e600 17.22%,#d1c600 17.73%,#e1bf00 18.75%,#ddbf00 19.68%,#dcbf00 19.77%,#c3d700 20.54%,#9cfc00 21.17%,#6bf700 21.81%,#49ed00 22.45%,#3ad600 23.09%,#35d000 23.51%,#34cd00 23.72%,#31ba00 24.36%,#2ea600 25%,#2c9000 25.77%,#287300 27.04%,#255400 28.61%,#223700 30.87%,#254400 33.16%,#295b00 34.06%,#2b6100 34.95%,#2b6100 34.99%,#284f00 35.84%,#232e00 36.73%,#1f1b00 37.88%,#1d1500 39.16%,#1c0c00 43.92%,#1b0900 46.17%,#1a0400 56.38%,#1a0400 56.67%,#190200 69.13%,#180200 84.44%,#170100 100%)"></i>
<i style="background:linear-gradient(#ff0000 0%,#ff0000 8.355%,#ff0000 8.546%,#ef8b00 8.801%,#e9bf00 9.184%,#e0bf00 9.694%,#d7bf00 10.33%,#cccc00 11.1%,#c3d700 11.73%,#bedc00 12.12%,#afea00 13.39%,#a6f300 14.29%,#9ff900 14.92%,#99ff00 15.56%,#96ff00 16.07%,#97ff00 16.45%,#a3f600 16.84%,#b8e200 17.22%,#d6c000 17.73%,#e7bf00 18.75%,#e6bf00 19.39%,#e1bf00 19.77%,#c8d100 20.54%,#a0f800 21.17%,#7afa00 21.81%,#6df800 22.45%,#6cf700 22.58%,#68f700 23.09%,#65f600 23.72%,#62f600 24.36%,#5ff200 25%,#5ced00 25.77%,#59e900 26.4%,#56e500 27.04%,#48c800 30.87%,#46c000 31.51%,#41ac00 33.16%,#40a200 34.06%,#3e9900 34.95%,#3c8e00 35.84%,#388300 36.73%,#347700 37.88%,#316400 39.16%,#261c00 46.17%,#251800 46.81%,#1e0600 56.38%,#1c0500 59.57%,#1a0200 69.13%,#170100 84.44%,#160100 100%)"></i>
<i style="background:linear-gradient(#ff0000 0%,#ff0000 8.355%,#ff0000 8.546%,#ef8b00 8.801%,#e9bf00 9.184%,#e0bf00 9.694%,#d7bf00 10.33%,#cccc00 11.1%,#c3d700 11.73%,#bedc00 12.12%,#b0ea00 13.39%,#a6f200 14.29%,#a0f800 14.92%,#9bfd00 15.56%,#99ff00 16.07%,#9cfc00 16.45%,#aaef00 16.84%,#bedc00 17.22%,#dabf00 17.73%,#eabf00 18.75%,#e9bf00 19.39%,#e4bf00 19.77%,#cbcd00 20.54%,#a3f600 21.17%,#7afa00 21.81%,#6df800 22.45%,#6cf700 22.58%,#68f700 23.09%,#65f600 23.72%,#62f600 24.36%,#5ff200 25%,#5ced00 25.77%,#59e900 26.4%,#56e500 27.04%,#48c800 30.87%,#46c000 31.51%,#42ac00 33.16%,#40a200 34.06%,#3f9900 34.95%,#3c8e00 35.84%,#388300 36.73%,#357700 37.88%,#316500 39.16%,#261c00 46.17%,#251900 46.81%,#1e0600 56.38%,#1c0500 59.57%,#1a0200 69.13%,#180200 84.44%,#160100 100%)"></i>
<i style="background:linear-gradient(#ff0000 0%,#ff0000 7.207%,#ff0000 7.398%,#ee9200 7.653%,#e7bf00 8.036%,#debf00 8.546%,#d3c400 9.184%,#c6d300 9.949%,#b8e200 10.97%,#aeec00 11.73%,#a8f100 12.24%,#97ff00 13.78%,#92fe00 14.29%,#8bfd00 15.56%,#8afd00 15.69%,#8bfd00 16.07%,#91fe00 16.45%,#a2f700 16.84%,#b7e300 17.22%,#d2c400 17.73%,#e0bf00 18.24%,#e2bf00 18.75%,#ddbf00 19.77%,#c4d600 20.54%,#9dfb00 21.17%,#8bfd00 21.43%,#72f800 21.81%,#5ff500 22.45%,#59f400 23.09%,#55f400 23.72%,#52f300 24.36%,#4ff000 25%,#4eee00 25.26%,#4cea00 25.77%,#47dc00 27.04%,#3bbb00 30.36%,#3ab600 30.87%,#359d00 33.16%,#359600 34.06%,#358f00 34.95%,#328100 35.84%,#2e6800 36.73%,#2a4f00 37.88%,#273c00 39.16%,#201000 45.66%,#200e00 46.17%,#1b0500 56.38%,#1b0400 58.42%,#190200 69.13%,#170100 84.44%,#160100 100%)"></i>
<i style="background:linear-gradient(#ff0000 0%,#ff0000 3.189%,#ff0000 3.38%,#e7bf00 3.635%,#d5c100 4.018%,#c0db00 4.528%,#a9f000 5.166%,#92fe00 5.931%,#82fb00 6.952%,#78f900 8.227%,#72f900 9.758%,#70f800 11.67%,#70f800 11.73%,#70f800 14.22%,#70f800 14.29%,#72f800 15.56%,#7afa00 16.07%,#89fc00 16.45%,#a1f800 16.84%,#bae000 17.22%,#c6d300 17.41%,#d8bf00 17.73%,#e9bf00 18.75%,#e3bf00 19.77%,#c9cf00 20.54%,#a1f800 21.17%,#9cfc00 21.24%,#6ef800 21.81%,#45e700 22.45%,#2ea400 23.09%,#244f00 23.72%,#213600 24.36%,#1f3100 25%,#1f2c00 25.77%,#1e2a00 26.34%,#1e2900 27.04%,#1e2400 30.87%,#212c00 32.72%,#233a00 33.16%,#285800 34.06%,#2a6000 34.95%,#284e00 35.84%,#232d00 36.73%,#1e1a00 37.88%,#1d1500 39.16%,#1d1000 41.65%,#1c0a00 46.17%,#1c0500 54.4%,#1b0500 56.38%,#1a0200 69.13%,#190200 84.44%,#180100 100%)"></i>
<i style="background:linear-gradient(#ff0000 0%,#ff0000 3.814%,#ff0000 4.005%,#e9bf00 4.26%,#d9bf00 4.643%,#c7d200 5.153%,#b2e700 5.791%,#9cfc00 6.556%,#87fc00 7.577%,#76f900 8.852%,#69f700 10.38%,#63f600 11.73%,#61f600 12.3%,#5ef500 14.29%,#5ef500 14.85%,#5ff500 15.56%,#68f700 16.07%,#79fa00 16.45%,#93fe00 16.84%,#b0ea00 17.22%,#d1c600 17.73%,#dcbf00 18.04%,#e3bf00 18.75%,#ddbf00 19.77%,#c5d500 20.54%,#9efa00 21.17%,#6ff800 21.81%,#6bf700 21.86%,#49ed00 22.45%,#33cc00 23.09%,#2a8500 23.72%,#276a00 24.36%,#255e00 25%,#245400 25.77%,#244d00 26.96%,#244c00 27.04%,#234100 30.87%,#296100 33.16%,#2a6500 33.34%,#2e7700 34.06%,#307d00 34.95%,#2d6a00 35.84%,#284d00 36.73%,#242f00 37.88%,#222400 39.16%,#221a00 42.27%,#221100 46.17%,#210900 55.03%,#210800 56.38%,#200400 69.13%,#1f0300 84.44%,#1d0200 100%)"></i>
<i style="background:linear-gradient(#ff0000 0%,#ff0000 3.112%,#ff0000 3.304%,#e6bf00 3.559%,#d4c200 3.941%,#bedc00 4.452%,#a7f200 5.089%,#8efd00 5.855%,#7bfa00 6.875%,#6bf700 8.151%,#60f600 9.681%,#5bf500 11.59%,#5bf500 11.73%,#59f400 14.15%,#59f400 14.29%,#5bf500 15.56%,#64f600 16.07%,#75f900 16.45%,#90fd00 16.84%,#adec00 17.22%,#b6e400 17.33%,#cfc900 17.73%,#e1bf00 18.75%,#dbbf00 19.77%,#c3d800 20.54%,#9dfb00 21.16%,#9dfc00 21.17%,#6ef800 21.81%,#48ec00 22.45%,#32c500 23.09%,#297d00 23.72%,#266200 24.36%,#255700 25%,#244d00 25.77%,#234900 26.26%,#234700 27.04%,#233f00 30.87%,#265000 32.64%,#285f00 33.16%,#2d7500 34.06%,#307c00 34.95%,#2d6900 35.84%,#284b00 36.73%,#242e00 37.88%,#222300 39.16%,#221b00 41.57%,#211100 46.17%,#210900 54.32%,#210800 56.38%,#200400 69.13%,#1e0300 84.44%,#1d0200 100%)"></i>
<i style="background:linear-gradient(#ff0000 0%,#ff0000 3.304%,#f35500 3.495%,#e7bf00 3.75%,#d5c000 4.133%,#c1da00 4.643%,#aaef00 5.281%,#93fe00 6.046%,#81fb00 7.066%,#73f900 8.342%,#6cf700 9.872%,#68f700 11.73%,#68f700 11.79%,#67f700 14.29%,#67f700 14.34%,#69f700 15.56%,#72f800 16.07%,#82fb00 16.45%,#9cfc00 16.84%,#b8e200 17.22%,#cdcb00 17.53%,#d8bf00 17.73%,#eabf00 18.75%,#e4bf00 19.77%,#cbcd00 20.54%,#a3f600 21.17%,#95fe00 21.35%,#71f800 21.81%,#49ed00 22.45%,#32c100 23.09%,#287400 23.72%,#255700 24.36%,#234c00 25%,#234300 25.77%,#223e00 26.45%,#223d00 27.04%,#223500 30.87%,#264c00 32.83%,#275600 33.16%,#2c6e00 34.06%,#2e7500 34.95%,#2c6300 35.84%,#274400 36.73%,#222700 37.88%,#211d00 39.16%,#211700 41.76%,#200f00 46.17%,#200800 54.52%,#1f0700 56.38%,#1e0400 69.13%,#1d0300 84.44%,#1c0200 100%)"></i>
<i style="background:linear-gradient(#ff0000 0%,#ff0000 3.852%,#f35300 4.043%,#e8bf00 4.298%,#d9bf00 4.681%,#c7d200 5.191%,#b2e700 5.829%,#9dfc00 6.594%,#87fc00 7.615%,#76f900 8.89%,#69f700 10.42%,#63f600 11.73%,#61f600 12.33%,#5ef500 14.29%,#5ef500 14.89%,#5ff500 15.56%,#68f700 16.07%,#79fa00 16.45%,#94fe00 16.84%,#b2e700 17.22%,#d4c200 17.73%,#e1bf00 18.07%,#e7bf00 18.75%,#e1bf00 19.77%,#c7d200 20.54%,#a0f900 21.17%,#6ff800 21.81%,#68f700 21.9%,#48eb00 22.45%,#31be00 23.09%,#277300 23.72%,#245600 24.36%,#234b00 25%,#224000 25.77%,#223900 27%,#223900 27.04%,#213000 30.87%,#265100 33.16%,#285800 33.38%,#2b6a00 34.06%,#2e7100 34.95%,#2b5f00 35.84%,#264000 36.73%,#222300 37.88%,#201b00 39.16%,#201400 42.31%,#1f0e00 46.17%,#1f0700 55.06%,#1f0700 56.38%,#1e0300 69.13%,#1c0200 84.44%,#1b0200 100%)"></i>
<i style="background:linear-gradient(#ff0000 0%,#ff0000 3.482%,#f35500 3.673%,#e7bf00 3.929%,#d7bf00 4.311%,#c3d700 4.821%,#adec00 5.459%,#98ff00 6.224%,#86fc00 7.245%,#7bfa00 8.52%,#75f900 10.05%,#73f900 11.73%,#73f900 11.96%,#72f900 14.29%,#72f900 14.52%,#74f900 15.56%,#7bfa00 16.07%,#88fc00 16.45%,#9dfb00 16.84%,#b3e600 17.22%,#cdcb00 17.7%,#ceca00 17.73%,#ddbf00 18.75%,#d8bf00 19.77%,#c0da00 20.54%,#9afe00 21.17%,#80fb00 21.53%,#6af700 21.81%,#44e500 22.45%,#2ea600 23.09%,#255800 23.72%,#223c00 24.36%,#203500 25%,#1f3000 25.77%,#1f2d00 26.63%,#1f2d00 27.04%,#1f2700 30.87%,#233a00 33.01%,#243f00 33.16%,#295d00 34.06%,#2b6500 34.95%,#295300 35.84%,#243200 36.73%,#1f1c00 37.88%,#1e1600 39.16%,#1d1100 41.94%,#1d0b00 46.17%,#1c0600 54.69%,#1c0500 56.38%,#1b0300 69.13%,#1a0200 84.44%,#190100 100%)"></i>
<i style="background:linear-gradient(#ff0000 0%,#ff0000 3.827%,#f35500 4.018%,#e8bf00 4.273%,#d9bf00 4.656%,#c7d300 5.166%,#b2e700 5.804%,#9efa00 6.569%,#8dfd00 7.589%,#83fb00 8.865%,#7dfa00 10.4%,#7cfa00 11.73%,#7bfa00 12.31%,#7bfa00 14.29%,#7afa00 14.86%,#7cfa00 15.56%,#83fb00 16.07%,#90fe00 16.45%,#a5f400 16.84%,#bae000 17.22%,#d4c200 17.73%,#debf00 18.05%,#e3bf00 18.75%,#debf00 19.77%,#c6d400 20.54%,#9ff900 21.17%,#6df800 21.81%,#68f700 21.88%,#46e900 22.45%,#30b500 23.09%,#266900 23.72%,#234c00 24.36%,#224000 25%,#213600 25.77%,#213300 26.98%,#213200 27.04%,#202c00 30.87%,#254900 33.16%,#264f00 33.35%,#2a6400 34.06%,#2d6b00 34.95%,#2a5900 35.84%,#253900 36.73%,#211f00 37.88%,#1f1900 39.16%,#1f1300 42.28%,#1e0d00 46.17%,#1e0600 55.04%,#1d0600 56.38%,#1c0300 69.13%,#1b0200 84.44%,#1a0100 100%)"></i>
<i style="background:linear-gradient(#ff0000 0%,#ff0000 3.418%,#ff0000 3.61%,#e7bf00 3.865%,#d7bf00 4.247%,#c3d800 4.758%,#adec00 5.395%,#97ff00 6.161%,#87fc00 7.181%,#7dfa00 8.457%,#78f900 9.987%,#76f900 11.73%,#76f900 11.9%,#75f900 14.29%,#75f900 14.45%,#77f900 15.56%,#7efb00 16.07%,#8cfd00 16.45%,#a1f800 16.84%,#b7e300 17.22%,#ceca00 17.64%,#d1c500 17.73%,#e1bf00 18.75%,#dbbf00 19.77%,#c3d700 20.54%,#9bfd00 21.17%,#85fc00 21.47%,#69f700 21.81%,#41e100 22.45%,#2a8b00 23.09%,#213600 23.72%,#1d2900 24.36%,#1c2400 25%,#1b2000 25.77%,#1b1e00 26.57%,#1b1d00 27.04%,#1a1900 30.87%,#1f2400 32.95%,#202700 33.16%,#254100 34.06%,#274d00 34.95%,#253a00 35.84%,#201f00 36.73%,#1b1200 37.88%,#1a0e00 39.16%,#190b00 41.88%,#190700 46.17%,#180400 54.63%,#180300 56.38%,#170200 69.13%,#160100 84.44%,#140100 100%)"></i>
<i style="background:linear-gradient(#ff0000 0%,#ff0000 3.099%,#ff0000 3.291%,#e6bf00 3.546%,#d4c200 3.929%,#bedc00 4.439%,#a7f200 5.077%,#90fd00 5.842%,#7ffb00 6.862%,#73f900 8.138%,#6df800 9.668%,#6af700 11.58%,#6af700 11.73%,#69f700 14.13%,#69f700 14.29%,#6bf700 15.56%,#73f900 16.07%,#83fb00 16.45%,#9afe00 16.84%,#b4e600 17.22%,#bbdf00 17.32%,#d2c500 17.73%,#e3bf00 18.75%,#ddbf00 19.77%,#c4d600 20.54%,#9efb00 21.15%,#9cfc00 21.17%,#6af700 21.81%,#41e200 22.45%,#2a8a00 23.09%,#203500 23.72%,#1d2800 24.36%,#1c2400 25%,#1b1f00 25.77%,#1b1e00 26.25%,#1b1d00 27.04%,#1a1900 30.87%,#1d2000 32.63%,#202700 33.16%,#254100 34.06%,#274d00 34.95%,#253a00 35.84%,#201f00 36.73%,#1b1200 37.88%,#1a0e00 39.16%,#190b00 41.56%,#190700 46.17%,#180400 54.31%,#180300 56.38%,#170200 69.13%,#160100 84.44%,#150100 100%)"></i>
<i style="background:linear-gradient(#ff0000 0%,#ff0000 3.597%,#ff0000 3.788%,#e8bf00 4.043%,#d8bf00 4.426%,#c5d500 4.936%,#b0ea00 5.574%,#9bfd00 6.339%,#8afd00 7.36%,#81fb00 8.635%,#7cfa00 10.17%,#7afa00 11.73%,#7afa00 12.08%,#79fa00 14.29%,#79fa00 14.63%,#7bfa00 15.56%,#82fb00 16.07%,#90fe00 16.45%,#a5f300 16.84%,#bcde00 17.22%,#d7bf00 17.73%,#dabf00 17.82%,#e7bf00 18.75%,#e1bf00 19.77%,#c8d200 20.54%,#9efa00 21.17%,#78f900 21.65%,#6af700 21.81%,#40df00 22.45%,#287b00 23.09%,#1e2d00 23.72%,#1b2000 24.36%,#1a1b00 25%,#191800 25.77%,#181700 26.75%,#181700 27.04%,#181400 30.87%,#1d1e00 33.12%,#1d1f00 33.16%,#222e00 34.06%,#243b00 34.95%,#222900 35.84%,#1d1800 36.73%,#180e00 37.88%,#170c00 39.16%,#160900 42.05%,#160600 46.17%,#150300 54.81%,#150300 56.38%,#140100 69.13%,#130100 84.44%,#120100 100%)"></i>
<i style="background:linear-gradient(#ff0000 0%,#ff0000 5.791%,#f35200 5.982%,#eda200 6.237%,#e4bf00 6.62%,#d9bf00 7.13%,#cccc00 7.768%,#bddd00 8.533%,#aded00 9.554%,#9bfd00 10.83%,#91fe00 11.73%,#8cfd00 12.36%,#82fb00 14.27%,#82fb00 14.29%,#7efb00 15.56%,#82fb00 16.07%,#8dfd00 16.45%,#a0f900 16.82%,#a1f800 16.84%,#b7e300 17.22%,#d1c500 17.73%,#e1bf00 18.75%,#dbbf00 19.77%,#d6bf00 20.01%,#c3d700 20.54%,#9bfd00 21.17%,#6bf700 21.81%,#4ef200 22.45%,#43e500 23.09%,#3fde00 23.72%,#3edd00 23.84%,#3cd900 24.36%,#39d300 25%,#36cb00 25.77%,#32b900 27.04%,#2d8b00 28.94%,#286600 30.87%,#275500 33.16%,#296000 34.06%,#2b6100 34.95%,#2a5b00 35.32%,#284e00 35.84%,#233000 36.73%,#1f1c00 37.88%,#1d1500 39.16%,#1a0a00 44.25%,#1a0700 46.17%,#170300 56.38%,#170300 57%,#160200 69.13%,#150100 84.44%,#130100 100%)"></i>
<i style="background:linear-gradient(#ff0000 0%,#ff0000 2.73%,#f35600 2.921%,#e4bf00 3.176%,#d0c700 3.559%,#b8e200 4.069%,#9ff900 4.707%,#8afc00 5.472%,#7bfa00 6.492%,#72f800 7.768%,#6ef800 9.298%,#6df800 11.21%,#6cf800 11.73%,#6cf800 13.76%,#6cf800 14.29%,#6ef800 15.56%,#76f900 16.07%,#86fc00 16.45%,#9dfb00 16.84%,#a5f400 16.95%,#b7e300 17.22%,#d5c100 17.73%,#e6bf00 18.75%,#e0bf00 19.77%,#c7d200 20.54%,#bae000 20.78%,#9ffa00 21.17%,#6cf800 21.81%,#44e500 22.45%,#3edc00 22.58%,#b4e600 23.09%,#e0bf00 23.21%,#e0bf00 23.72%,#debf00 24.36%,#ddbd00 25%,#dcba00 25.77%,#dcb900 25.88%,#dbb800 26.15%,#c0cd00 27.04%,#99e800 28.32%,#91d800 30.87%,#8dc900 32.26%,#8bc000 33.16%,#88b700 34.06%,#85ae00 34.95%,#83a500 35.84%,#809c00 36.73%,#809a00 36.86%,#768f00 37.88%,#6b8200 39.16%,#596e00 41.07%,#596d00 41.19%,#504400 46.17%,#432400 53.94%,#3f2100 56.38%,#381b00 60.2%,#2f0e00 69.13%,#240500 81.89%,#230500 84.44%,#200300 100%)"></i>
<i style="background:linear-gradient(#ff0000 0%,#ff0000 11.73%,#ff0000 14.29%,#ff0000 15.56%,#ff0000 16.07%,#ff0000 16.45%,#ff0000 16.65%,#ff0000 16.84%,#f26d00 17.09%,#f17600 17.22%,#f08300 17.47%,#f08500 17.73%,#f07f00 17.98%,#f08400 18.62%,#ef8a00 18.75%,#ecb000 19.39%,#e8bf00 19.77%,#ddbf00 20.41%,#dbbf00 20.54%,#d1c500 21.17%,#cdcb00 21.68%,#cccc00 21.81%,#c8d200 22.45%,#c7d300 22.58%,#c4d500 23.09%,#e1bf00 23.21%,#e0bf00 23.72%,#dfbf00 24.36%,#ddbd00 25%,#ddbc00 25.13%,#dcba00 25.77%,#dbb800 26.15%,#c1cd00 27.04%,#b0d800 27.68%,#a6dd00 28.32%,#9ad800 30.87%,#91c100 33.16%,#8eb800 34.06%,#8cb100 34.69%,#8cae00 34.95%,#89a500 35.84%,#869c00 36.73%,#869b00 36.86%,#809000 37.88%,#7a8300 39.16%,#787d00 39.8%,#747000 41.07%,#674600 46.17%,#532500 55.1%,#512400 56.38%,#4a1e00 60.2%,#3e1300 67.86%,#3c1100 69.13%,#2d0b00 81.89%,#2b0900 84.44%,#230400 100%)"></i>
<i style="background:linear-gradient(#ff0000 0%,#ff0000 11.73%,#ff0000 14.29%,#ff0000 15.56%,#ff0000 16.07%,#ff0000 16.45%,#ff0000 16.65%,#ff0000 16.84%,#f26d00 17.09%,#f17700 17.22%,#f08200 17.47%,#f07e00 17.73%,#f17100 17.98%,#f26b00 18.62%,#f17100 18.75%,#ee9400 19.39%,#eabf00 19.77%,#dfbf00 20.41%,#dcbf00 20.54%,#d2c500 21.17%,#cdcb00 21.68%,#cccc00 21.81%,#c8d200 22.45%,#c3d700 23.09%,#c2d800 23.21%,#bfdb00 23.72%,#bbdf00 24.36%,#b7e000 25%,#b6e000 25.13%,#b2e000 25.77%,#abe000 27.04%,#a7df00 27.68%,#97d800 30.87%,#8cc000 33.16%,#89b700 34.06%,#87b000 34.69%,#86ae00 34.95%,#83a500 35.84%,#809c00 36.73%,#7d9000 37.88%,#798300 39.16%,#777d00 39.8%,#664600 46.17%,#522500 55.1%,#502400 56.38%,#3c1300 67.86%,#3a1100 69.13%,#280800 84.44%,#1d0200 100%)"></i>
<i style="background:linear-gradient(#ff0000 0%,#ff0000 9.349%,#ff0000 9.541%,#f08600 9.796%,#eabf00 10.18%,#e2bf00 10.69%,#d9bf00 11.33%,#d4c200 11.73%,#cfc800 12.09%,#c3d700 13.11%,#b6e400 14.29%,#b5e500 14.39%,#a9f000 15.56%,#a6f300 15.92%,#a5f400 16.07%,#a4f500 16.45%,#aaef00 16.84%,#bddd00 17.22%,#dcbf00 17.73%,#e1bf00 17.83%,#ee9400 18.75%,#e8bf00 19.77%,#e2bf00 20.03%,#d5c100 20.38%,#cdcb00 20.54%,#a4f500 21.17%,#a0f900 21.3%,#92fe00 21.81%,#87fc00 22.45%,#7efa00 23.09%,#7cfa00 23.21%,#76f900 23.57%,#73f900 23.72%,#6af700 24.36%,#63f300 25%,#62f200 25.13%,#5dee00 25.77%,#56e500 27.04%,#53e300 27.4%,#4edd00 28.32%,#43c100 30.87%,#3cab00 32.5%,#3ba400 33.16%,#399a00 34.06%,#379100 34.95%,#348600 35.84%,#338500 35.97%,#307100 36.73%,#2c5800 37.88%,#2a4800 38.88%,#294500 39.16%,#221700 43.62%,#200f00 46.17%,#1f0c00 47.81%,#1c0500 56.38%,#1c0400 60.56%,#1a0200 69.13%,#180200 84.44%,#160100 100%)"></i>
<i style="background:linear-gradient(#ff0000 0%,#ff0000 9.107%,#f45100 9.298%,#ef8700 9.554%,#e9bf00 9.936%,#e2bf00 10.45%,#d9bf00 11.08%,#d0c600 11.73%,#cfc800 11.85%,#c3d700 12.87%,#b6e400 14.15%,#b4e500 14.29%,#aaef00 15.56%,#aaef00 15.68%,#a9f000 16.07%,#adec00 16.45%,#b9e100 16.84%,#c9d000 17.22%,#dabf00 17.59%,#dfbf00 17.73%,#eda100 18.75%,#e8bf00 19.77%,#e2bf00 20.03%,#dfbf00 20.14%,#cec900 20.54%,#a5f300 21.17%,#a0f800 21.3%,#92fe00 21.81%,#87fc00 22.45%,#7dfa00 23.09%,#7bfa00 23.21%,#79fa00 23.33%,#72f900 23.72%,#68f700 24.36%,#60f300 25%,#5ff200 25.13%,#5aed00 25.77%,#52e500 27.04%,#51e400 27.16%,#4bda00 28.32%,#3fbd00 30.87%,#3aab00 32.26%,#38a100 33.16%,#379800 34.06%,#358f00 34.95%,#328200 35.84%,#327e00 35.97%,#2f6a00 36.73%,#2b5200 37.88%,#294700 38.64%,#283f00 39.16%,#221500 43.62%,#200e00 46.17%,#1f0c00 47.56%,#1d0600 56.38%,#1c0400 60.32%,#1a0200 69.13%,#180200 84.44%,#160100 100%)"></i>
<i style="background:linear-gradient(#ff0000 0%,#ff0000 10.34%,#f45100 10.54%,#f08100 10.79%,#ebbf00 11.17%,#e4bf00 11.68%,#e3bf00 11.73%,#dcbf00 12.32%,#d3c300 13.09%,#c8d100 14.11%,#c6d300 14.29%,#bcdf00 15.38%,#bae000 15.56%,#b7e300 16.07%,#b7e300 16.45%,#bedd00 16.84%,#bfdb00 16.91%,#c9d000 17.22%,#dcbf00 17.73%,#e9bf00 18.75%,#e9bf00 18.83%,#e3bf00 19.77%,#debf00 20.03%,#cbcd00 20.54%,#a6f300 21.17%,#a2f700 21.3%,#9ffa00 21.38%,#94fe00 21.81%,#8afc00 22.45%,#82fb00 23.09%,#80fb00 23.21%,#7afa00 23.72%,#75f900 24.36%,#73f800 24.57%,#70f500 25%,#6ff400 25.13%,#6bf000 25.77%,#64e700 27.04%,#5ddf00 28.32%,#5cde00 28.39%,#50ce00 30.87%,#47b100 33.16%,#46ad00 33.49%,#44a600 34.06%,#419c00 34.95%,#3e9000 35.84%,#3d8f00 35.97%,#3a8500 36.73%,#357700 37.88%,#326600 39.16%,#305900 39.87%,#282900 43.62%,#241800 46.17%,#220e00 48.8%,#1e0700 56.38%,#1d0500 61.56%,#1b0300 69.13%,#190200 84.44%,#170100 100%)"></i>
<i style="background:linear-gradient(#ff0000 0%,#ff0000 9.592%,#ff0000 9.783%,#f08400 10.04%,#eabf00 10.42%,#e3bf00 10.93%,#dabf00 11.57%,#d8bf00 11.73%,#d0c700 12.33%,#c4d500 13.35%,#bae000 14.29%,#b7e300 14.63%,#aeeb00 15.56%,#abee00 16.07%,#aaef00 16.16%,#abee00 16.45%,#b3e700 16.84%,#c2d900 17.22%,#dabf00 17.73%,#e4bf00 18.07%,#e9bf00 18.75%,#e3bf00 19.77%,#ddbf00 20.03%,#cace00 20.54%,#c6d400 20.62%,#a4f500 21.17%,#a0f900 21.3%,#92fe00 21.81%,#88fc00 22.45%,#7efb00 23.09%,#7dfa00 23.21%,#74f900 23.72%,#73f900 23.81%,#6cf800 24.36%,#66f400 25%,#65f300 25.13%,#61ee00 25.77%,#59e600 27.04%,#56e200 27.64%,#52dd00 28.32%,#46c600 30.87%,#3fad00 32.74%,#3ea800 33.16%,#3c9e00 34.06%,#3a9400 34.95%,#378a00 35.84%,#378800 35.97%,#337f00 36.73%,#2f6500 37.88%,#2c5000 39.12%,#2c5000 39.16%,#251f00 43.62%,#231400 46.17%,#220e00 48.05%,#1f0700 56.38%,#1e0500 60.8%,#1c0300 69.13%,#1a0200 84.44%,#180100 100%)"></i>
<i style="background:linear-gradient(#ff0000 0%,#ff0000 10.63%,#f45100 10.82%,#f08000 11.07%,#ebbd00 11.45%,#e7bf00 11.73%,#e4bf00 11.96%,#dcbf00 12.6%,#d3c300 13.37%,#c9cf00 14.29%,#c8d100 14.39%,#bdde00 15.56%,#bcde00 15.66%,#b9e100 16.07%,#b7e300 16.45%,#bbdf00 16.84%,#c7d300 17.19%,#c8d100 17.22%,#dfbf00 17.73%,#ee9b00 18.75%,#ed9e00 19.11%,#e8bf00 19.77%,#e2bf00 20.03%,#cfc900 20.54%,#a9f000 21.17%,#a4f500 21.3%,#98ff00 21.66%,#95fe00 21.81%,#8bfd00 22.45%,#84fc00 23.09%,#83fb00 23.21%,#7dfa00 23.72%,#78fa00 24.36%,#75f700 24.85%,#74f600 25%,#73f500 25.13%,#6ff100 25.77%,#68e800 27.04%,#61e000 28.32%,#5fdd00 28.67%,#54cf00 30.87%,#4ab600 33.16%,#48ae00 33.78%,#48aa00 34.06%,#459f00 34.95%,#419400 35.84%,#419200 35.97%,#3d8800 36.73%,#397a00 37.88%,#356d00 39.16%,#326000 40.15%,#2b3100 43.62%,#271f00 46.17%,#241100 49.08%,#200800 56.38%,#1e0500 61.84%,#1d0300 69.13%,#1b0200 84.44%,#190100 100%)"></i>
<i style="background:linear-gradient(#ff0000 0%,#ff0000 9.515%,#ff0000 9.707%,#f08300 9.962%,#eabf00 10.34%,#e3bf00 10.85%,#dabf00 11.49%,#d7bf00 11.73%,#d0c700 12.26%,#c4d500 13.28%,#bae000 14.29%,#b7e300 14.55%,#afeb00 15.56%,#aced00 16.07%,#aced00 16.08%,#aeeb00 16.45%,#b8e200 16.84%,#c7d200 17.22%,#ddbf00 17.73%,#e5bf00 18%,#ecb400 18.75%,#e6bf00 19.77%,#e0bf00 20.03%,#cdcb00 20.54%,#cccb00 20.55%,#a6f300 21.17%,#a1f800 21.3%,#92fe00 21.81%,#88fc00 22.45%,#7efb00 23.09%,#7cfa00 23.21%,#74f900 23.72%,#74f900 23.74%,#6bf700 24.36%,#65f300 25%,#64f200 25.13%,#60ee00 25.77%,#58e600 27.04%,#55e200 27.56%,#51dd00 28.32%,#45c500 30.87%,#3eac00 32.67%,#3da700 33.16%,#3b9d00 34.06%,#3a9400 34.95%,#378900 35.84%,#368800 35.97%,#337d00 36.73%,#2f6200 37.88%,#2c4f00 39.04%,#2b4e00 39.16%,#241e00 43.62%,#221300 46.17%,#210d00 47.97%,#1e0700 56.38%,#1e0500 60.73%,#1c0300 69.13%,#1a0200 84.44%,#180100 100%)"></i>
<i style="background:linear-gradient(#ff0000 0%,#ff0000 8.393%,#f35200 8.584%,#ef8c00 8.839%,#e9bf00 9.222%,#e0bf00 9.732%,#d7bf00 10.37%,#cccc00 11.14%,#c4d600 11.73%,#bedc00 12.16%,#b0ea00 13.43%,#a6f200 14.29%,#a0f900 14.96%,#9afe00 15.56%,#98ff00 16.07%,#9afe00 16.45%,#a9f000 16.84%,#abee00 16.88%,#c1d900 17.22%,#e1bf00 17.73%,#f35400 18.75%,#f26e00 19.43%,#eda300 19.77%,#e7bf00 20.03%,#d2c500 20.54%,#a7f200 21.17%,#a1f800 21.3%,#91fe00 21.81%,#87fc00 22.45%,#84fc00 22.61%,#7dfa00 23.09%,#7bfa00 23.21%,#71f800 23.72%,#65f600 24.36%,#5af200 25%,#58f100 25.13%,#53ec00 25.77%,#4ee700 26.44%,#49df00 27.04%,#41cd00 28.32%,#38b300 30.87%,#36ab00 31.54%,#329700 33.16%,#328d00 34.06%,#318300 34.95%,#2e6f00 35.84%,#2e6c00 35.97%,#2b5900 36.73%,#284300 37.88%,#284300 37.92%,#253300 39.16%,#201200 43.62%,#1f0e00 46.17%,#1f0d00 46.85%,#1d0600 56.38%,#1c0500 59.6%,#1b0200 69.13%,#190200 84.44%,#170100 100%)"></i>
<i style="background:linear-gradient(#ff0000 0%,#ff0000 4.566%,#ff0000 4.758%,#eabf00 5.013%,#ddbf00 5.395%,#cdca00 5.906%,#bcde00 6.543%,#aaef00 7.309%,#99ff00 8.329%,#90fe00 9.605%,#8cfd00 11.14%,#8bfd00 11.73%,#8afc00 13.05%,#89fc00 14.29%,#8afd00 15.56%,#8afd00 15.6%,#91fe00 16.07%,#9dfc00 16.45%,#afea00 16.84%,#c2d800 17.22%,#dabf00 17.73%,#e9bf00 18.75%,#e9bf00 18.79%,#e3bf00 19.77%,#debf00 20.03%,#cacf00 20.54%,#a1f800 21.17%,#9dfb00 21.3%,#91fe00 21.81%,#87fc00 22.45%,#84fb00 22.61%,#7cfa00 23.09%,#7afa00 23.21%,#70f800 23.72%,#63f600 24.36%,#57f100 25%,#54f000 25.13%,#4eeb00 25.77%,#40d300 27.04%,#39c500 27.72%,#33ba00 28.32%,#2f9100 30.87%,#2b6e00 33.16%,#2b6900 34.06%,#2b6800 34.09%,#2b6300 34.95%,#295300 35.84%,#285000 35.97%,#263f00 36.73%,#242e00 37.88%,#222200 39.16%,#1e1100 43.02%,#1e0f00 43.62%,#1d0c00 46.17%,#1c0500 55.78%,#1c0500 56.38%,#1a0200 69.13%,#170100 84.44%,#150100 100%)"></i>
<i style="background:linear-gradient(#ff0000 0%,#ff0000 7.207%,#ff0000 7.398%,#ee9200 7.653%,#e7bf00 8.036%,#debf00 8.546%,#d3c300 9.184%,#c7d200 9.949%,#b9e100 10.97%,#b0ea00 11.73%,#aaef00 12.24%,#9dfb00 13.78%,#9afe00 14.29%,#95fe00 15.56%,#95fe00 15.69%,#99ff00 16.07%,#a3f600 16.45%,#b6e400 16.84%,#c9cf00 17.22%,#e3bf00 17.73%,#f07f00 18.24%,#f26500 18.75%,#ecab00 19.77%,#e6bf00 20.03%,#d1c500 20.54%,#a5f300 21.17%,#a0f900 21.3%,#9afe00 21.43%,#91fe00 21.81%,#87fc00 22.45%,#7cfa00 23.09%,#7afa00 23.21%,#70f800 23.72%,#64f600 24.36%,#57f100 25%,#55f000 25.13%,#53ef00 25.26%,#4eeb00 25.77%,#42d400 27.04%,#36be00 28.32%,#31a300 30.36%,#309a00 30.87%,#2c7300 33.16%,#2b6b00 34.06%,#2b6200 34.95%,#295200 35.84%,#284f00 35.97%,#263f00 36.73%,#242d00 37.88%,#222100 39.16%,#1d0e00 43.62%,#1c0b00 45.66%,#1c0a00 46.17%,#1a0400 56.38%,#1a0400 58.42%,#180200 69.13%,#150100 84.44%,#130100 100%)"></i>
<i style="background:linear-gradient(#ff0000 0%,#ff0000 3.878%,#f35200 4.069%,#e9bf00 4.324%,#dabf00 4.707%,#c7d200 5.217%,#b3e700 5.855%,#9ffa00 6.62%,#8cfd00 7.64%,#80fb00 8.916%,#79fa00 10.45%,#77f900 11.73%,#76f900 12.36%,#75f900 14.29%,#75f900 14.91%,#77f900 15.56%,#7ffb00 16.07%,#8dfd00 16.45%,#a3f500 16.84%,#bbdf00 17.22%,#d7bf00 17.73%,#e3bf00 18.1%,#e8bf00 18.75%,#e2bf00 19.77%,#dcbf00 20.03%,#c8d100 20.54%,#9efa00 21.17%,#9cfc00 21.3%,#91fe00 21.81%,#8ffd00 21.93%,#87fc00 22.45%,#7cfa00 23.09%,#7afa00 23.21%,#70f800 23.72%,#63f600 24.36%,#57f100 25%,#54f000 25.13%,#4eeb00 25.77%,#40d300 27.03%,#40d300 27.04%,#33ba00 28.32%,#2e8f00 30.87%,#2a6a00 33.16%,#2a6800 33.41%,#2a6200 34.06%,#295a00 34.95%,#274a00 35.84%,#274700 35.97%,#253900 36.73%,#232900 37.88%,#211d00 39.16%,#1e1100 42.33%,#1c0d00 43.62%,#1c0a00 46.17%,#1a0400 55.09%,#1a0400 56.38%,#180200 69.13%,#150100 84.44%,#130100 100%)"></i>
<i style="background:linear-gradient(#ff0000 0%,#ff0000 3.367%,#ff0000 3.559%,#e7bf00 3.814%,#d7bf00 4.196%,#c2d800 4.707%,#adec00 5.344%,#99ff00 6.11%,#8dfd00 7.13%,#86fc00 8.406%,#83fb00 9.936%,#83fb00 11.73%,#83fb00 11.85%,#82fb00 14.29%,#82fb00 14.4%,#84fb00 15.56%,#8bfd00 16.07%,#99ff00 16.45%,#afeb00 16.84%,#c5d500 17.22%,#dabf00 17.59%,#e0bf00 17.73%,#f07b00 18.75%,#eabf00 19.77%,#e4bf00 20.03%,#cfc800 20.54%,#a4f500 21.17%,#9ffa00 21.3%,#9afe00 21.42%,#91fe00 21.81%,#87fc00 22.45%,#7cfa00 23.09%,#7afa00 23.21%,#70f800 23.72%,#63f600 24.36%,#57f100 25%,#54f000 25.13%,#4eeb00 25.77%,#46dd00 26.52%,#40d300 27.04%,#33ba00 28.32%,#2e8f00 30.87%,#2b6e00 32.9%,#2b6b00 33.16%,#2a6300 34.06%,#295b00 34.95%,#274b00 35.84%,#274800 35.97%,#253900 36.73%,#232a00 37.88%,#211e00 39.16%,#1e1300 41.82%,#1d0d00 43.62%,#1c0a00 46.17%,#1b0500 54.58%,#1a0400 56.38%,#180200 69.13%,#160100 84.44%,#130100 100%)"></i>
<i style="background:linear-gradient(#ff0000 0%,#ff0000 3.24%,#f35200 3.431%,#e7bf00 3.686%,#d5c000 4.069%,#c1da00 4.579%,#aced00 5.217%,#9bfd00 5.982%,#92fe00 7.003%,#8efd00 8.278%,#8dfd00 9.809%,#8cfd00 11.72%,#8cfd00 11.73%,#8cfd00 14.27%,#8cfd00 14.29%,#8dfd00 15.56%,#94fe00 16.07%,#a1f700 16.45%,#b5e500 16.84%,#c9d000 17.22%,#d6c000 17.46%,#e2bf00 17.73%,#f16f00 18.75%,#ecb400 19.77%,#e6bf00 20.03%,#d1c600 20.54%,#a5f300 21.17%,#a0f900 21.29%,#a0f900 21.3%,#91fe00 21.81%,#87fc00 22.45%,#7cfa00 23.09%,#7afa00 23.21%,#70f800 23.72%,#63f600 24.36%,#57f100 25%,#54f000 25.13%,#4eeb00 25.77%,#47e000 26.39%,#40d300 27.04%,#33ba00 28.32%,#2e9000 30.87%,#2b7100 32.77%,#2b6c00 33.16%,#2a6500 34.06%,#2a5e00 34.95%,#284e00 35.84%,#284b00 35.97%,#253c00 36.73%,#232b00 37.88%,#221f00 39.16%,#1f1400 41.7%,#1d0e00 43.62%,#1d0b00 46.17%,#1b0500 54.45%,#1b0500 56.38%,#190200 69.13%,#160100 84.44%,#140100 100%)"></i>
<i style="background:linear-gradient(#ff0000 0%,#ff0000 4.681%,#ff0000 4.872%,#ebbe00 5.128%,#debf00 5.51%,#cfc900 6.02%,#bedd00 6.658%,#adec00 7.423%,#9efa00 8.444%,#97ff00 9.719%,#94fe00 11.25%,#93fe00 11.73%,#92fe00 13.16%,#92fe00 14.29%,#93fe00 15.56%,#94fe00 15.71%,#99ff00 16.07%,#a4f500 16.45%,#b4e500 16.84%,#c4d600 17.22%,#dabf00 17.73%,#e7bf00 18.75%,#e7bf00 18.9%,#e2bf00 19.77%,#dcbf00 20.03%,#c9d000 20.54%,#a0f900 21.17%,#9dfb00 21.3%,#91fe00 21.81%,#87fc00 22.45%,#82fb00 22.73%,#7cfa00 23.09%,#7afa00 23.21%,#70f800 23.72%,#63f600 24.36%,#57f100 25%,#54f000 25.13%,#4eeb00 25.77%,#40d300 27.04%,#38c300 27.83%,#33ba00 28.32%,#2e9000 30.87%,#2b6c00 33.16%,#2a6500 34.06%,#2a6400 34.21%,#2a5e00 34.95%,#284e00 35.84%,#274b00 35.97%,#253b00 36.73%,#232b00 37.88%,#221f00 39.16%,#1d0f00 43.14%,#1d0e00 43.62%,#1d0b00 46.17%,#1b0500 55.89%,#1b0400 56.38%,#190200 69.13%,#160100 84.44%,#140100 100%)"></i>
<i style="background:linear-gradient(#ff0000 0%,#ff0000 4.298%,#f35500 4.49%,#e9bf00 4.745%,#dcbf00 5.128%,#cbcd00 5.638%,#b8e200 6.276%,#a5f400 7.041%,#92fe00 8.061%,#87fc00 9.337%,#81fb00 10.87%,#7ffb00 11.73%,#7efa00 12.78%,#7dfa00 14.29%,#7dfa00 15.33%,#7efb00 15.56%,#85fc00 16.07%,#93fe00 16.45%,#a9f000 16.84%,#bfdb00 17.22%,#dbbf00 17.73%,#ebbd00 18.52%,#ebba00 18.75%,#e5bf00 19.77%,#dfbf00 20.03%,#cbcd00 20.54%,#a1f700 21.17%,#9efb00 21.3%,#91fe00 21.81%,#88fc00 22.35%,#87fc00 22.45%,#7cfa00 23.09%,#7afa00 23.21%,#70f800 23.72%,#63f600 24.36%,#57f100 25%,#54f000 25.13%,#4eeb00 25.77%,#40d300 27.04%,#3ccb00 27.45%,#33ba00 28.32%,#2f9100 30.87%,#2b6e00 33.16%,#2b6900 33.83%,#2b6800 34.06%,#2b6200 34.95%,#295300 35.84%,#284f00 35.97%,#263f00 36.73%,#242d00 37.88%,#222100 39.16%,#1e1100 42.76%,#1e0f00 43.62%,#1d0b00 46.17%,#1c0500 55.51%,#1c0500 56.38%,#1a0200 69.13%,#170100 84.44%,#150100 100%)"></i>
<i style="background:linear-gradient(#ff0000 0%,#ff0000 8.622%,#f35200 8.814%,#ef8a00 9.069%,#e9bf00 9.452%,#e1bf00 9.962%,#d7bf00 10.6%,#cdcb00 11.36%,#c8d100 11.73%,#c0db00 12.39%,#b1e900 13.66%,#aaef00 14.29%,#a2f700 15.19%,#9efa00 15.56%,#9bfd00 16.07%,#9dfb00 16.45%,#a9f000 16.84%,#b8e200 17.1%,#bfdb00 17.22%,#ddbf00 17.73%,#ef8a00 18.75%,#ebbd00 19.66%,#e9bf00 19.77%,#e3bf00 20.03%,#cec900 20.54%,#a4f500 21.17%,#9ff900 21.3%,#91fe00 21.81%,#87fc00 22.45%,#81fb00 22.84%,#7dfa00 23.09%,#7bfa00 23.21%,#71f800 23.72%,#66f600 24.36%,#5cf200 25%,#5af100 25.13%,#55ec00 25.77%,#4ee600 26.67%,#4ce300 27.04%,#44d100 28.32%,#3ab600 30.87%,#37ab00 31.77%,#339c00 33.16%,#339200 34.06%,#328500 34.95%,#2f7100 35.84%,#2e6e00 35.97%,#2b5b00 36.73%,#284500 37.88%,#274100 38.15%,#263300 39.16%,#201200 43.62%,#1f0d00 46.17%,#1e0c00 47.08%,#1c0500 56.38%,#1b0400 59.83%,#1a0200 69.13%,#180100 84.44%,#150100 100%)"></i>
<i style="background:linear-gradient(#ff0000 0%,#ff0000 11.73%,#ff0000 13.19%,#ff0000 13.38%,#f17800 13.64%,#eda900 14.02%,#eabf00 14.29%,#e7bf00 14.53%,#e1bf00 15.17%,#ddbf00 15.56%,#d9bf00 15.93%,#d8bf00 16.07%,#d5c100 16.45%,#d3c300 16.84%,#d3c300 16.95%,#d5c000 17.22%,#e1bf00 17.73%,#ebbf00 18.23%,#ecac00 18.75%,#e7bf00 19.76%,#e6bf00 19.77%,#e1bf00 20.03%,#cfc800 20.54%,#b5e500 21.17%,#b2e800 21.3%,#abee00 21.67%,#aaef00 21.81%,#a5f400 22.45%,#a0f800 23.09%,#9ff900 23.21%,#9cfc00 23.72%,#99ff00 24.22%,#98ff00 24.36%,#94fb00 25%,#93fa00 25.13%,#8ff600 25.77%,#88ed00 27.04%,#86eb00 27.41%,#81e400 28.32%,#74d300 30.87%,#72d000 31.24%,#69bc00 33.16%,#65b300 34.06%,#61aa00 34.95%,#5da100 35.84%,#5d9f00 35.97%,#5b9c00 36.34%,#5a9800 36.73%,#558c00 37.88%,#507f00 39.16%,#445800 42.72%,#414f00 43.62%,#393c00 46.17%,#2c1a00 51.65%,#240d00 56.38%,#1e0400 64.4%,#1b0300 69.13%,#180100 84.44%,#150100 100%)"></i>
<i style="background:linear-gradient(#ff0000 0%,#ff0000 11.35%,#f45100 11.54%,#f17400 11.73%,#f07e00 11.8%,#ebb700 12.18%,#e5bf00 12.69%,#debf00 13.33%,#d5c100 14.09%,#d3c300 14.29%,#cbce00 15.11%,#c6d300 15.56%,#c2d900 16.07%,#c0db00 16.39%,#c0db00 16.45%,#c1da00 16.84%,#c8d100 17.22%,#d9bf00 17.73%,#dfbf00 17.92%,#e7bf00 18.75%,#e1bf00 19.77%,#e0bf00 19.83%,#dbbf00 20.03%,#c9d000 20.54%,#a8f100 21.17%,#a4f500 21.3%,#98ff00 21.81%,#92fe00 22.39%,#91fe00 22.45%,#8bfd00 23.09%,#8afd00 23.21%,#86fc00 23.72%,#82fb00 24.36%,#7df700 25%,#7df700 25.13%,#7af300 25.57%,#79f200 25.77%,#71e900 27.04%,#6ae100 28.32%,#65da00 29.4%,#5dd000 30.87%,#53b900 33.16%,#50b000 34.06%,#4eac00 34.5%,#4ca700 34.95%,#489b00 35.84%,#489900 35.97%,#458f00 36.73%,#408100 37.88%,#3b7200 39.16%,#365f00 40.88%,#2e3b00 43.62%,#292400 46.17%,#230e00 49.81%,#1e0600 56.38%,#1c0400 62.56%,#1a0200 69.13%,#170100 84.44%,#150100 100%)"></i>
<i style="background:linear-gradient(#ff0000 0%,#ff0000 8.265%,#ff0000 8.457%,#ef8b00 8.712%,#e9bf00 9.094%,#e0bf00 9.605%,#d6bf00 10.24%,#cccd00 11.01%,#c2d900 11.73%,#bedc00 12.03%,#b0ea00 13.3%,#a6f300 14.29%,#a1f800 14.83%,#9bfd00 15.56%,#9afe00 16.07%,#9ff900 16.45%,#abee00 16.75%,#afea00 16.84%,#c4d600 17.22%,#e0bf00 17.73%,#f08000 18.75%,#ef8b00 19.3%,#eabf00 19.77%,#e4bf00 20.03%,#d0c700 20.54%,#a6f300 21.17%,#a0f800 21.3%,#91fe00 21.81%,#87fc00 22.45%,#86fc00 22.49%,#7dfa00 23.09%,#7bfa00 23.21%,#71f800 23.72%,#65f600 24.36%,#5af100 25%,#58f000 25.13%,#52ec00 25.77%,#4ee800 26.31%,#48de00 27.04%,#40cb00 28.32%,#37b200 30.87%,#35ac00 31.42%,#329500 33.16%,#328d00 34.06%,#318400 34.95%,#2f7000 35.84%,#2e6d00 35.97%,#2b5a00 36.73%,#284600 37.79%,#284400 37.88%,#263400 39.16%,#211300 43.62%,#200e00 46.17%,#200e00 46.72%,#1e0600 56.38%,#1d0500 59.48%,#1c0300 69.13%,#1a0200 84.44%,#180100 100%)"></i>
<i style="background:linear-gradient(#ff0000 0%,#ff0000 9.362%,#f45200 9.554%,#ef8600 9.809%,#eabf00 10.19%,#e2bf00 10.7%,#d9bf00 11.34%,#d4c200 11.73%,#cfc800 12.1%,#c3d700 13.12%,#b7e300 14.29%,#b5e400 14.4%,#aaef00 15.56%,#a8f100 15.93%,#a7f200 16.07%,#a7f200 16.45%,#b0e900 16.84%,#c2d900 17.22%,#dcbf00 17.73%,#e0bf00 17.84%,#ecb200 18.75%,#e6bf00 19.77%,#e0bf00 20.03%,#d3c300 20.4%,#cccc00 20.54%,#a4f400 21.17%,#a0f800 21.3%,#92fe00 21.81%,#87fc00 22.45%,#7efa00 23.09%,#7cfa00 23.21%,#75f900 23.58%,#73f900 23.72%,#6af700 24.36%,#63f300 25%,#62f200 25.13%,#5eee00 25.77%,#56e500 27.04%,#54e300 27.41%,#4fdd00 28.32%,#43c200 30.87%,#3dac00 32.51%,#3ba400 33.16%,#3a9b00 34.06%,#389200 34.95%,#358800 35.84%,#348600 35.97%,#317600 36.73%,#2d5c00 37.88%,#2b4c00 38.89%,#2a4800 39.16%,#231b00 43.62%,#221100 46.17%,#210d00 47.82%,#1e0600 56.38%,#1d0500 60.57%,#1c0300 69.13%,#190200 84.44%,#180100 100%)"></i>
<i style="background:linear-gradient(#ff0000 0%,#ff0000 9.834%,#ff0000 10.03%,#f08400 10.28%,#eabf00 10.66%,#e3bf00 11.17%,#dbbf00 11.73%,#dabf00 11.81%,#d1c600 12.58%,#c5d500 13.6%,#bedd00 14.29%,#b7e200 14.87%,#b1e900 15.56%,#aced00 16.07%,#aaef00 16.4%,#aaef00 16.45%,#aeeb00 16.84%,#bcde00 17.22%,#d6bf00 17.73%,#e6bf00 18.32%,#e7bf00 18.75%,#e1bf00 19.77%,#dcbf00 20.03%,#c8d100 20.54%,#b5e400 20.87%,#a2f600 21.17%,#9ff900 21.3%,#92fe00 21.81%,#88fc00 22.45%,#7ffb00 23.09%,#7dfa00 23.21%,#76f900 23.72%,#72f800 24.06%,#6ff800 24.36%,#69f400 25%,#68f300 25.13%,#64ef00 25.77%,#5de600 27.04%,#58e100 27.88%,#56de00 28.32%,#49ca00 30.87%,#41ad00 32.98%,#40aa00 33.16%,#3ea000 34.06%,#3c9600 34.95%,#398b00 35.84%,#388a00 35.97%,#358000 36.73%,#316c00 37.88%,#2d5500 39.16%,#2d5100 39.36%,#252000 43.62%,#231400 46.17%,#210d00 48.29%,#1e0600 56.38%,#1d0500 61.05%,#1b0300 69.13%,#190200 84.44%,#170100 100%)"></i>
<i style="background:linear-gradient(#ff0000 0%,#ff0000 7.041%,#ff0000 7.232%,#ee9300 7.487%,#e7bf00 7.87%,#ddbf00 8.38%,#d2c400 9.018%,#c6d300 9.783%,#b8e200 10.8%,#aeec00 11.73%,#aaef00 12.08%,#9efa00 13.61%,#9bfd00 14.29%,#97ff00 15.52%,#97ff00 15.56%,#9bfd00 16.07%,#a4f500 16.45%,#b3e600 16.84%,#c3d700 17.22%,#d8bf00 17.73%,#e1bf00 18.07%,#e5bf00 18.75%,#e0bf00 19.77%,#dabf00 20.03%,#c7d200 20.54%,#a0f900 21.17%,#9cfc00 21.26%,#9dfb00 21.3%,#91fe00 21.81%,#87fc00 22.45%,#7cfa00 23.09%,#7afa00 23.21%,#70f800 23.72%,#64f600 24.36%,#57f100 25%,#55f000 25.09%,#54f000 25.13%,#4eeb00 25.77%,#41d400 27.04%,#36bd00 28.32%,#32a700 30.19%,#309b00 30.87%,#2d7700 33.16%,#2d7200 34.06%,#2d6c00 34.95%,#2a5c00 35.84%,#2a5900 35.97%,#284b00 36.57%,#274700 36.73%,#253400 37.88%,#232600 39.16%,#1f1000 43.62%,#1e0d00 45.5%,#1e0c00 46.17%,#1c0500 56.38%,#1c0500 58.25%,#1a0200 69.13%,#180200 84.44%,#160100 100%)"></i>
<i style="background:linear-gradient(#ff0000 0%,#ff0000 5.408%,#f35300 5.599%,#eda700 5.855%,#e3bf00 6.237%,#d7bf00 6.747%,#c9cf00 7.385%,#bbe000 8.151%,#a9f000 9.171%,#98ff00 10.45%,#8bfd00 11.73%,#8afc00 11.98%,#80fb00 13.89%,#7ffb00 14.29%,#7ffb00 15.56%,#85fc00 16.07%,#92fe00 16.44%,#93fe00 16.45%,#a9f000 16.84%,#c0db00 17.22%,#dcbf00 17.73%,#ecad00 18.75%,#e8bf00 19.63%,#e6bf00 19.77%,#e1bf00 20.03%,#cccb00 20.54%,#a3f600 21.17%,#9ffa00 21.3%,#91fe00 21.81%,#87fc00 22.45%,#7cfa00 23.09%,#7afa00 23.21%,#76f900 23.46%,#70f800 23.72%,#63f600 24.36%,#57f100 25%,#54f000 25.13%,#4eeb00 25.77%,#40d300 27.04%,#34bb00 28.32%,#33b900 28.56%,#2f9300 30.87%,#2c7300 33.16%,#2c7000 34.06%,#2d6c00 34.94%,#2d6c00 34.95%,#2a5b00 35.84%,#2a5800 35.97%,#274700 36.73%,#253300 37.88%,#232700 39.16%,#1f1100 43.62%,#1f1100 43.86%,#1f0d00 46.17%,#1d0600 56.38%,#1d0600 56.62%,#1c0300 69.13%,#190200 84.44%,#180100 100%)"></i>
<i style="background:linear-gradient(#ff0000 0%,#ff0000 5.995%,#f45200 6.186%,#ed9f00 6.441%,#e5bf00 6.824%,#dabf00 7.334%,#cdcb00 7.972%,#bfdb00 8.737%,#aeeb00 9.758%,#9cfc00 11.03%,#94fe00 11.73%,#8bfd00 12.56%,#7dfa00 14.29%,#7cfa00 14.48%,#78f900 15.56%,#7cfa00 16.07%,#89fc00 16.45%,#9ff900 16.84%,#aced00 17.03%,#b9e100 17.22%,#d7bf00 17.73%,#e9bf00 18.75%,#e3bf00 19.77%,#ddbf00 20.03%,#d7bf00 20.22%,#c9d000 20.54%,#a0f800 21.17%,#9dfb00 21.3%,#91fe00 21.81%,#87fc00 22.45%,#7cfa00 23.09%,#7afa00 23.21%,#70f800 23.72%,#6af700 24.04%,#63f600 24.36%,#57f100 25%,#54f000 25.13%,#4eeb00 25.77%,#41d300 27.04%,#34bb00 28.32%,#32b100 29.15%,#2f9500 30.87%,#2c7400 33.16%,#2d7100 34.06%,#2d6c00 34.95%,#2c6300 35.52%,#2b5c00 35.84%,#2a5900 35.97%,#274700 36.73%,#253400 37.88%,#232700 39.16%,#1f1100 43.62%,#1f1000 44.45%,#1f0d00 46.17%,#1d0600 56.38%,#1d0600 57.21%,#1c0300 69.13%,#190200 84.44%,#170100 100%)"></i>
<i style="background:linear-gradient(#ff0000 0%,#ff0000 5.434%,#ff0000 5.625%,#eda500 5.88%,#e3bf00 6.263%,#d7bf00 6.773%,#cacf00 7.411%,#bbdf00 8.176%,#a9f000 9.196%,#97ff00 10.47%,#88fc00 11.73%,#86fc00 12%,#79fa00 13.92%,#78f900 14.29%,#75f900 15.56%,#7cfa00 16.07%,#8bfd00 16.45%,#8cfd00 16.47%,#a4f500 16.84%,#bfdc00 17.22%,#debf00 17.73%,#f17800 18.75%,#ecab00 19.66%,#eabf00 19.77%,#e4bf00 20.03%,#cfc800 20.54%,#a5f400 21.17%,#9ff900 21.3%,#91fe00 21.81%,#87fc00 22.45%,#7cfa00 23.09%,#7afa00 23.21%,#75f900 23.48%,#70f800 23.72%,#63f600 24.36%,#57f100 25%,#54f000 25.13%,#4eeb00 25.77%,#40d300 27.04%,#34ba00 28.32%,#33b800 28.58%,#2f9300 30.87%,#2c7100 33.16%,#2c6d00 34.06%,#2c6800 34.95%,#2c6800 34.96%,#2a5900 35.84%,#295600 35.97%,#274400 36.73%,#243100 37.88%,#232500 39.16%,#1f1000 43.62%,#1f1000 43.89%,#1e0d00 46.17%,#1d0600 56.38%,#1d0600 56.65%,#1b0200 69.13%,#190200 84.44%,#170100 100%)"></i>
<i style="background:linear-gradient(#ff0000 0%,#ff0000 5.842%,#ff0000 6.033%,#eda000 6.288%,#e4bf00 6.671%,#d9bf00 7.181%,#cccc00 7.819%,#bedc00 8.584%,#aeeb00 9.605%,#9efa00 10.88%,#96fe00 11.73%,#91fe00 12.41%,#89fc00 14.29%,#88fc00 14.32%,#87fc00 15.56%,#8dfd00 16.07%,#99ff00 16.45%,#acee00 16.84%,#adec00 16.88%,#bfdb00 17.22%,#d8bf00 17.73%,#e7bf00 18.75%,#e1bf00 19.77%,#dcbf00 20.03%,#dabf00 20.06%,#c8d100 20.54%,#a0f900 21.17%,#9dfb00 21.3%,#91fe00 21.81%,#87fc00 22.45%,#7cfa00 23.09%,#7afa00 23.21%,#70f800 23.72%,#6df800 23.89%,#63f600 24.36%,#57f100 25%,#54f000 25.13%,#4eeb00 25.77%,#40d300 27.04%,#34bb00 28.32%,#32b300 28.99%,#2f9300 30.87%,#2c7100 33.16%,#2c6d00 34.06%,#2c6800 34.95%,#2b6100 35.37%,#2a5800 35.84%,#295500 35.97%,#274300 36.73%,#243100 37.88%,#232400 39.16%,#1f1000 43.62%,#1e0f00 44.3%,#1e0c00 46.17%,#1c0500 56.38%,#1c0500 57.05%,#1b0200 69.13%,#180200 84.44%,#160100 100%)"></i>
<i style="background:linear-gradient(#ff0000 0%,#ff0000 10.36%,#f45200 10.55%,#f08200 10.8%,#ebbf00 11.19%,#e4bf00 11.7%,#e3bf00 11.73%,#dcbf00 12.33%,#d2c400 13.1%,#c7d200 14.12%,#c5d400 14.29%,#bae000 15.4%,#b8e200 15.56%,#b4e600 16.07%,#b1e800 16.45%,#b3e700 16.84%,#b4e600 16.93%,#bddd00 17.22%,#d5c100 17.73%,#e5bf00 18.75%,#e5bf00 18.84%,#dfbf00 19.77%,#d9bf00 20.03%,#c6d300 20.54%,#a3f600 21.17%,#a0f800 21.3%,#9dfb00 21.39%,#94fe00 21.81%,#8afd00 22.45%,#82fb00 23.09%,#81fb00 23.21%,#7bfa00 23.72%,#75f900 24.36%,#73f800 24.58%,#70f500 25%,#6ff400 25.13%,#6bf000 25.77%,#64e700 27.04%,#5ddf00 28.32%,#5dde00 28.41%,#50ce00 30.87%,#47b200 33.16%,#46ad00 33.51%,#44a700 34.06%,#429c00 34.95%,#3e9100 35.84%,#3e8f00 35.97%,#3a8500 36.73%,#367800 37.88%,#326800 39.16%,#305b00 39.89%,#282b00 43.62%,#251a00 46.17%,#230f00 48.81%,#1f0700 56.38%,#1e0500 61.57%,#1c0300 69.13%,#1a0200 84.44%,#180100 100%)"></i>
<i style="background:linear-gradient(#ff0000 0%,#ff0000 11.73%,#ff0000 12.68%,#f45100 12.87%,#f17a00 13.12%,#ecad00 13.51%,#e7bf00 14.02%,#e4bf00 14.29%,#e0bf00 14.66%,#d8bf00 15.42%,#d7bf00 15.56%,#d2c400 16.07%,#cfc800 16.44%,#cfc800 16.45%,#cfc800 16.84%,#d4c100 17.22%,#e5bf00 17.72%,#e5bf00 17.73%,#f35b00 18.75%,#f26700 19.25%,#eda500 19.77%,#e7bf00 20.03%,#d4c200 20.54%,#b4e600 21.16%,#b3e600 21.17%,#afea00 21.3%,#a5f400 21.81%,#9ff900 22.45%,#9efa00 22.58%,#b4e600 23.09%,#e0bf00 23.21%,#e0bf00 23.71%,#e0bf00 23.72%,#e0bf00 24.36%,#dfbd00 25%,#dfbc00 25.13%,#dfba00 25.77%,#deb400 26.9%,#deb400 27.04%,#deae00 28.32%,#dca300 30.73%,#dca300 30.87%,#db9600 32.53%,#cf9800 33.16%,#bea000 34.06%,#ada300 34.95%,#9ca500 35.83%,#9ba600 35.84%,#99a600 35.97%,#959e00 36.73%,#8f9200 37.88%,#898400 39.16%,#807100 41.07%,#7b6500 42.21%,#755700 43.62%,#6a4600 46.17%,#592c00 50%,#592b00 51.14%,#552400 56.38%,#501a00 63.89%,#4d1300 69.13%,#400f00 84.44%,#330a00 100%)"></i>
<i style="background:linear-gradient(#ff0000 0%,#ff0000 11.73%,#ff0000 13.6%,#f45100 13.79%,#f17700 14.04%,#ee9600 14.29%,#eda700 14.43%,#e7bf00 14.94%,#e1bf00 15.56%,#e1bf00 15.57%,#dcbf00 16.07%,#dabf00 16.34%,#d9bf00 16.45%,#d7bf00 16.84%,#d8bf00 17.22%,#dabf00 17.36%,#e3bf00 17.73%,#eda500 18.64%,#eda600 18.75%,#e7bf00 19.77%,#e2bf00 20.03%,#debf00 20.17%,#d0c700 20.54%,#b8e200 21.17%,#b5e500 21.3%,#aeeb00 21.81%,#aced00 22.08%,#a9f000 22.45%,#a8f100 22.58%,#b5e500 23.09%,#e0bf00 23.21%,#e0bf00 23.72%,#e0bf00 24.36%,#e0bf00 24.63%,#dfbd00 25%,#dfbc00 25.13%,#dfba00 25.77%,#deb400 27.04%,#deb000 27.82%,#deae00 28.32%,#dca300 30.87%,#dc9d00 31.65%,#db9600 32.53%,#cf9800 33.16%,#bea000 34.06%,#ada300 34.95%,#9ba600 35.84%,#99a600 35.97%,#959e00 36.73%,#959e00 36.75%,#8f9200 37.88%,#898400 39.16%,#807100 41.07%,#775c00 43.12%,#755700 43.62%,#6a4600 46.17%,#592c00 50%,#582900 52.05%,#552400 56.38%,#4f1900 64.81%,#4d1300 69.13%,#400f00 84.44%,#330a00 100%)"></i>
<i style="background:linear-gradient(#ff0000 0%,#ff0000 10.61%,#f45200 10.8%,#f08100 11.06%,#ebbe00 11.44%,#e7bf00 11.73%,#e4bf00 11.95%,#dcbf00 12.59%,#d3c300 13.35%,#c9d000 14.29%,#c8d100 14.37%,#bcde00 15.56%,#bbdf00 15.65%,#b7e300 16.07%,#b5e500 16.45%,#b6e300 16.84%,#c2d900 17.18%,#c3d700 17.22%,#dfbf00 17.73%,#f16f00 18.75%,#f17200 19.09%,#ebba00 19.77%,#e5bf00 20.03%,#d0c700 20.54%,#a8f100 21.17%,#a3f600 21.3%,#98ff00 21.65%,#94fe00 21.81%,#8bfd00 22.45%,#84fb00 23.09%,#83fb00 23.21%,#7dfa00 23.72%,#78f900 24.36%,#75f700 24.83%,#74f600 25%,#73f500 25.13%,#6ff100 25.77%,#67e800 27.04%,#60df00 28.32%,#5fdd00 28.66%,#54cf00 30.87%,#4ab500 33.16%,#47ad00 33.76%,#46a900 34.06%,#439e00 34.95%,#409200 35.84%,#3f9000 35.97%,#3c8700 36.73%,#377900 37.88%,#336b00 39.16%,#305900 40.14%,#282900 43.62%,#241700 46.17%,#200b00 49.07%,#1c0500 56.38%,#1a0300 61.82%,#190200 69.13%,#160100 84.44%,#140100 100%)"></i>
<i style="background:linear-gradient(#ff0000 0%,#ff0000 9.528%,#f35200 9.719%,#f08600 9.974%,#eabf00 10.36%,#e2bf00 10.87%,#dabf00 11.51%,#d7bf00 11.73%,#d0c700 12.27%,#c4d600 13.29%,#bae000 14.29%,#b7e300 14.57%,#aeec00 15.56%,#abee00 16.07%,#abee00 16.1%,#aced00 16.45%,#b6e400 16.84%,#c6d400 17.22%,#debf00 17.73%,#e7bf00 18.01%,#eda300 18.75%,#e7bf00 19.77%,#e2bf00 20.03%,#ceca00 20.54%,#cccc00 20.56%,#a5f300 21.17%,#a0f800 21.3%,#92fe00 21.81%,#88fc00 22.45%,#7efb00 23.09%,#7cfa00 23.21%,#74f900 23.72%,#74f900 23.75%,#6bf700 24.36%,#65f300 25%,#64f200 25.13%,#60ee00 25.77%,#58e600 27.04%,#55e200 27.58%,#51dd00 28.32%,#45c400 30.87%,#3eac00 32.68%,#3da600 33.16%,#3b9c00 34.06%,#399300 34.95%,#358800 35.84%,#358600 35.97%,#327800 36.73%,#2e5e00 37.88%,#2b4b00 39.06%,#2b4a00 39.16%,#231a00 43.62%,#210f00 46.17%,#200c00 47.98%,#1d0600 56.38%,#1c0400 60.74%,#1a0200 69.13%,#180200 84.44%,#160100 100%)"></i>
<i style="background:linear-gradient(#ff0000 0%,#ff0000 9.821%,#f45200 10.01%,#f08400 10.27%,#eabf00 10.65%,#e3bf00 11.16%,#dbbf00 11.73%,#dabf00 11.8%,#d1c600 12.56%,#c5d500 13.58%,#bedd00 14.29%,#b8e200 14.86%,#b1e900 15.56%,#adec00 16.07%,#aced00 16.39%,#aced00 16.45%,#b3e600 16.84%,#c5d500 17.22%,#e1bf00 17.73%,#f07e00 18.3%,#f26b00 18.75%,#ecb300 19.77%,#e6bf00 20.03%,#d1c600 20.54%,#bedc00 20.85%,#a8f100 21.17%,#a2f600 21.3%,#92fe00 21.81%,#88fc00 22.45%,#7ffb00 23.09%,#7dfa00 23.21%,#76f900 23.72%,#72f800 24.04%,#6ef800 24.36%,#69f400 25%,#68f300 25.13%,#64ef00 25.77%,#5ce600 27.04%,#58e100 27.87%,#55de00 28.32%,#49ca00 30.87%,#41ad00 32.97%,#40aa00 33.16%,#3ea000 34.06%,#3c9600 34.95%,#398b00 35.84%,#388a00 35.97%,#358000 36.73%,#316c00 37.88%,#2d5500 39.16%,#2d5200 39.35%,#252100 43.62%,#231400 46.17%,#210d00 48.28%,#1e0700 56.38%,#1d0500 61.03%,#1c0300 69.13%,#1a0200 84.44%,#180100 100%)"></i>
<i style="background:linear-gradient(#ff0000 0%,#ff0000 9.923%,#ff0000 10.11%,#f08300 10.37%,#eabf00 10.75%,#e3bf00 11.26%,#ddbf00 11.73%,#dbbf00 11.9%,#d1c500 12.67%,#c6d400 13.69%,#bfdb00 14.29%,#b8e200 14.96%,#b2e700 15.56%,#aeeb00 16.07%,#adec00 16.45%,#aeec00 16.49%,#b4e600 16.84%,#c5d400 17.22%,#e1bf00 17.73%,#f26a00 18.41%,#f35f00 18.75%,#ecaa00 19.77%,#e6bf00 20.03%,#d2c500 20.54%,#b8e200 20.96%,#a8f000 21.17%,#a3f600 21.3%,#93fe00 21.81%,#88fc00 22.45%,#80fb00 23.09%,#7efa00 23.21%,#77f900 23.72%,#72f800 24.15%,#70f800 24.36%,#6af400 25%,#69f300 25.13%,#65ef00 25.77%,#5ee600 27.04%,#59e000 27.97%,#57de00 28.32%,#4acb00 30.87%,#42ad00 33.07%,#41ab00 33.16%,#3fa100 34.06%,#3d9700 34.95%,#398c00 35.84%,#398a00 35.97%,#368100 36.73%,#316e00 37.88%,#2e5700 39.16%,#2d5200 39.45%,#252100 43.62%,#231300 46.17%,#210c00 48.38%,#1e0600 56.38%,#1c0500 61.14%,#1b0300 69.13%,#190200 84.44%,#170100 100%)"></i>
<i style="background:linear-gradient(#ff0000 0%,#ff0000 11.16%,#f45100 11.35%,#f07e00 11.61%,#ef9100 11.73%,#ebb800 11.99%,#e5bf00 12.5%,#ddbf00 13.14%,#d5c100 13.9%,#d1c600 14.29%,#cace00 14.92%,#c4d600 15.56%,#c0da00 16.07%,#bfdb00 16.2%,#bfdc00 16.45%,#c1d900 16.84%,#c9d000 17.22%,#dabf00 17.73%,#e6bf00 18.75%,#e2bf00 19.64%,#e1bf00 19.77%,#dbbf00 20.03%,#c9d000 20.54%,#a7f100 21.17%,#a4f500 21.3%,#97ff00 21.81%,#92fe00 22.19%,#8ffd00 22.45%,#89fc00 23.09%,#88fc00 23.21%,#84fb00 23.72%,#7ffb00 24.36%,#7bf700 25%,#7af600 25.13%,#79f400 25.38%,#76f200 25.77%,#6fe900 27.04%,#68e100 28.32%,#63db00 29.21%,#5bd000 30.87%,#51b900 33.16%,#4eb000 34.06%,#4dad00 34.31%,#4aa500 34.95%,#479900 35.84%,#469700 35.97%,#438d00 36.73%,#3e7f00 37.88%,#3a7000 39.16%,#356000 40.69%,#2e3900 43.62%,#292400 46.17%,#241000 49.62%,#1f0700 56.38%,#1d0500 62.37%,#1c0300 69.13%,#190200 84.44%,#170100 100%)"></i>
<i style="background:linear-gradient(#ff0000 0%,#ff0000 4.847%,#f35400 5.038%,#ebbf00 5.293%,#debf00 5.676%,#cfc800 6.186%,#bddd00 6.824%,#abee00 7.589%,#96fe00 8.61%,#86fc00 9.885%,#7afa00 11.42%,#79fa00 11.73%,#73f900 13.33%,#71f800 14.29%,#72f800 15.56%,#75f900 15.88%,#79fa00 16.07%,#88fc00 16.45%,#a0f900 16.84%,#b9e100 17.22%,#d7bf00 17.73%,#e8bf00 18.75%,#e8bf00 19.07%,#e3bf00 19.77%,#ddbf00 20.03%,#c9d000 20.54%,#a0f800 21.17%,#9dfb00 21.3%,#91fe00 21.81%,#87fc00 22.45%,#80fb00 22.9%,#7cfa00 23.09%,#7afa00 23.21%,#70f800 23.72%,#63f600 24.36%,#57f100 25%,#54f000 25.13%,#4eeb00 25.77%,#40d300 27.04%,#37c000 28%,#34bb00 28.32%,#2f9300 30.87%,#2c7300 33.16%,#2c7000 34.06%,#2d7000 34.38%,#2d6c00 34.95%,#2a5c00 35.84%,#2a5900 35.97%,#274700 36.73%,#253400 37.88%,#232700 39.16%,#201200 43.3%,#1f1100 43.62%,#1f0d00 46.17%,#1d0600 56.06%,#1d0600 56.38%,#1c0300 69.13%,#1a0200 84.44%,#180100 100%)"></i>
<i style="background:linear-gradient(#ff0000 0%,#ff0000 5.51%,#ff0000 5.702%,#eda400 5.957%,#e3bf00 6.339%,#d8bf00 6.849%,#cace00 7.487%,#bcdf00 8.253%,#abee00 9.273%,#99ff00 10.55%,#8efd00 11.73%,#8bfd00 12.08%,#82fb00 13.99%,#81fb00 14.29%,#80fb00 15.56%,#86fc00 16.07%,#93fe00 16.45%,#97ff00 16.54%,#a7f100 16.84%,#bddd00 17.22%,#d7bf00 17.73%,#e7bf00 18.75%,#e2bf00 19.73%,#e1bf00 19.77%,#dcbf00 20.03%,#c9d000 20.54%,#a1f700 21.17%,#9efa00 21.3%,#91fe00 21.81%,#87fc00 22.45%,#7cfa00 23.09%,#7afa00 23.21%,#74f900 23.56%,#70f800 23.72%,#63f600 24.36%,#57f100 25%,#54f000 25.13%,#4eeb00 25.77%,#40d300 27.04%,#34bb00 28.32%,#33b800 28.66%,#2f9600 30.87%,#2d7800 33.16%,#2e7800 34.06%,#2e7500 34.95%,#2e7400 35.04%,#2c6400 35.84%,#2c6100 35.97%,#294f00 36.73%,#263900 37.88%,#242d00 39.16%,#211300 43.62%,#211300 43.97%,#210f00 46.17%,#1f0700 56.38%,#1f0700 56.72%,#1e0300 69.13%,#1c0200 84.44%,#1a0100 100%)"></i>
<i style="background:linear-gradient(#ff0000 0%,#ff0000 6.594%,#ff0000 6.786%,#ee9600 7.041%,#e6bf00 7.423%,#dcbf00 7.934%,#d0c600 8.571%,#c4d600 9.337%,#b6e400 10.36%,#a8f100 11.63%,#a7f200 11.73%,#9dfb00 13.16%,#98ff00 14.29%,#96ff00 15.08%,#97ff00 15.56%,#9cfc00 16.07%,#a7f200 16.45%,#b9e100 16.84%,#cccc00 17.22%,#e0bf00 17.63%,#e4bf00 17.73%,#f35c00 18.75%,#eda200 19.77%,#e7bf00 20.03%,#d3c300 20.54%,#c3d800 20.82%,#a9f000 21.17%,#a2f700 21.3%,#91fe00 21.81%,#87fc00 22.45%,#85fc00 22.58%,#7dfa00 23.09%,#7cfa00 23.21%,#c8d100 23.72%,#debf00 23.85%,#debf00 24.36%,#debf00 24.64%,#debd00 25%,#debc00 25.13%,#deba00 25.77%,#ddb400 27.04%,#ddae00 28.32%,#dda800 29.74%,#dda300 30.87%,#dd9100 33.16%,#dd8b00 34.06%,#dc8400 34.95%,#dc7d00 35.84%,#dc7c00 35.97%,#dc7b00 36.12%,#dc7700 36.73%,#dc6e00 37.88%,#dc6400 39.16%,#db4300 43.62%,#b94600 45.05%,#9e4700 46.17%,#803e00 47.45%,#342200 52.55%,#311c00 56.38%,#301a00 57.81%,#2a0b00 69.13%,#220400 84.44%,#1c0200 100%)"></i>
<i style="background:linear-gradient(#ff0000 0%,#ff0000 6.76%,#ff0000 6.952%,#ff0000 7.207%,#ff0000 7.589%,#ff0000 8.099%,#ff0000 8.737%,#ff0000 9.503%,#ff0000 10.52%,#ff0000 11.73%,#ff0000 11.8%,#ff0000 13.33%,#ff0000 14.29%,#ff0000 15.24%,#ff0000 15.56%,#ff0000 16.07%,#ff0000 16.45%,#ff0000 16.84%,#ff0000 17.22%,#ff0000 17.73%,#ff0000 17.79%,#ff0000 18.75%,#ff0000 19.77%,#ff0000 20.03%,#ff0000 20.54%,#ff0000 20.98%,#ff0000 21.17%,#ff0000 21.3%,#ff0000 21.81%,#ff0000 22.45%,#ff0000 23.09%,#ff0000 23.21%,#ff0000 23.72%,#ff0000 24.36%,#ff0000 24.81%,#ff0000 25%,#ff0000 25.13%,#ff0000 25.77%,#ff0000 27.04%,#ff0000 28.32%,#ff0000 29.91%,#ff0000 30.87%,#ff0000 33.16%,#ff0000 34.06%,#ff0000 34.95%,#ff0000 35.84%,#ff0000 35.97%,#ff0000 36.29%,#ff0000 36.73%,#ff0000 37.88%,#ff0000 39.16%,#ff0000 43.62%,#ff0000 45.22%,#ff0000 46.17%,#ff0000 50.64%,#e62100 51.91%,#e31c00 56.38%,#e21a00 57.97%,#dd0f00 69.13%,#db0f00 71.68%,#ad1000 81.89%,#a71000 84.44%,#990f00 89.54%,#800d00 97.19%,#7a0c00 100%)"></i>
<i style="background:linear-gradient(#ff0000 0%,#ff0000 6.684%,#ff0000 6.875%,#ff0000 7.13%,#ff0000 7.513%,#ff0000 8.023%,#ff0000 8.661%,#ff0000 9.426%,#ff0000 10.45%,#ff0000 11.72%,#ff0000 11.73%,#ff0000 13.25%,#ff0000 14.29%,#ff0000 15.17%,#ff0000 15.56%,#ff0000 16.07%,#ff0000 16.45%,#ff0000 16.84%,#ff0000 17.22%,#ff0000 17.72%,#ff0000 17.73%,#ff0000 18.75%,#ff0000 19.77%,#ff0000 20.03%,#ff0000 20.54%,#ff0000 20.91%,#ff0000 21.17%,#ff0000 21.3%,#ff0000 21.81%,#ff0000 22.45%,#ff0000 23.09%,#ff0000 23.21%,#ff0000 23.72%,#ff0000 24.36%,#ff0000 24.73%,#ff0000 25%,#ff0000 25.13%,#ff0000 25.77%,#ff0000 27.04%,#ff0000 28.32%,#ff0000 29.83%,#ff0000 30.87%,#ff0000 33.16%,#ff0000 34.06%,#ff0000 34.95%,#ff0000 35.84%,#ff0000 35.97%,#ff0000 36.21%,#ff0000 36.73%,#ff0000 37.88%,#ff0000 39.16%,#ff0000 43.62%,#ff0000 45.14%,#ff0000 46.17%,#ff0000 47.19%,#db2a00 48.47%,#802c00 50.64%,#4d2700 53.83%,#3a1f00 56.38%,#2f1800 57.9%,#281000 58.93%,#240700 69.13%,#1e0300 84.44%,#190100 100%)"></i>
<i style="background:linear-gradient(#ff0000 0%,#ff0000 3.776%,#ff0000 3.967%,#e9bf00 4.222%,#d9bf00 4.605%,#c7d300 5.115%,#b2e700 5.753%,#9dfb00 6.518%,#8bfd00 7.538%,#80fb00 8.814%,#7afa00 10.34%,#77f900 11.73%,#77f900 12.26%,#76f900 14.29%,#76f900 14.81%,#78f900 15.56%,#80fb00 16.07%,#90fd00 16.45%,#a8f100 16.84%,#c2d800 17.22%,#e1bf00 17.73%,#ecb400 18%,#f35500 18.75%,#eda400 19.77%,#e7bf00 20.03%,#d2c500 20.54%,#a6f300 21.17%,#a0f900 21.3%,#91fe00 21.81%,#91fe00 21.82%,#87fc00 22.45%,#7cfa00 23.09%,#7afa00 23.21%,#70f800 23.72%,#63f600 24.36%,#57f100 25%,#54f000 25.13%,#4eeb00 25.77%,#42d500 26.93%,#40d300 27.04%,#33ba00 28.32%,#2e9000 30.87%,#2b6d00 33.16%,#2b6c00 33.3%,#2b6700 34.06%,#2b6100 34.95%,#285100 35.84%,#284e00 35.97%,#263e00 36.73%,#232d00 37.88%,#222100 39.16%,#1f1300 42.23%,#1e0f00 43.62%,#1d0b00 46.17%,#1c0500 54.99%,#1b0500 56.38%,#190200 69.13%,#170100 84.44%,#150100 100%)"></i>
<i style="background:linear-gradient(#ff0000 0%,#ff0000 4.031%,#f35500 4.222%,#e9bf00 4.477%,#dabf00 4.86%,#c9d000 5.37%,#b5e500 6.008%,#a1f800 6.773%,#8dfd00 7.793%,#81fb00 9.069%,#7afa00 10.6%,#77f900 11.73%,#76f900 12.51%,#75f900 14.29%,#75f900 15.06%,#77f900 15.56%,#7ffb00 16.07%,#8efd00 16.45%,#a7f200 16.84%,#c0da00 17.22%,#dfbf00 17.73%,#ee9700 18.25%,#f07c00 18.75%,#eabf00 19.77%,#e4bf00 20.03%,#cfc800 20.54%,#a4f400 21.17%,#9ff900 21.3%,#91fe00 21.81%,#8dfd00 22.08%,#87fc00 22.45%,#7cfa00 23.09%,#7afa00 23.21%,#70f800 23.72%,#63f600 24.36%,#57f100 25%,#54f000 25.13%,#4eeb00 25.77%,#40d300 27.04%,#3fd000 27.18%,#33ba00 28.32%,#2f9100 30.87%,#2b6f00 33.16%,#2b6c00 33.56%,#2b6a00 34.06%,#2b6400 34.95%,#295500 35.84%,#295200 35.97%,#264100 36.73%,#242f00 37.88%,#222300 39.16%,#1f1300 42.49%,#1e0f00 43.62%,#1e0c00 46.17%,#1c0600 55.24%,#1c0500 56.38%,#1a0200 69.13%,#180200 84.44%,#160100 100%)"></i>
<i style="background:linear-gradient(#ff0000 0%,#ff0000 5.523%,#f35300 5.714%,#eda600 5.969%,#e3bf00 6.352%,#d8bf00 6.862%,#cace00 7.5%,#bbdf00 8.265%,#aaef00 9.286%,#99ff00 10.56%,#8dfd00 11.73%,#8afc00 12.09%,#80fb00 14.01%,#7ffb00 14.29%,#7efa00 15.56%,#84fc00 16.07%,#93fe00 16.45%,#98ff00 16.56%,#aaef00 16.84%,#c3d800 17.22%,#e0bf00 17.73%,#f26e00 18.75%,#ecb000 19.74%,#ebb500 19.77%,#e5bf00 20.03%,#d1c600 20.54%,#a6f300 21.17%,#a0f800 21.3%,#91fe00 21.81%,#87fc00 22.45%,#7cfa00 23.09%,#7afa00 23.21%,#73f900 23.57%,#70f800 23.72%,#63f600 24.36%,#57f100 25%,#54f000 25.13%,#4eeb00 25.77%,#40d300 27.04%,#34bb00 28.32%,#33b800 28.67%,#2f9300 30.87%,#2c7200 33.16%,#2c6e00 34.06%,#2c6a00 34.95%,#2c6800 35.05%,#2a5a00 35.84%,#2a5700 35.97%,#274500 36.73%,#243200 37.88%,#232600 39.16%,#1f1100 43.62%,#1f1000 43.98%,#1f0d00 46.17%,#1d0600 56.38%,#1d0600 56.73%,#1b0300 69.13%,#190200 84.44%,#170100 100%)"></i>
<i style="background:linear-gradient(#ff0000 0%,#ff0000 6.913%,#ff0000 7.105%,#ee9400 7.36%,#e7bf00 7.742%,#ddbf00 8.253%,#d2c500 8.89%,#c5d400 9.656%,#b7e300 10.68%,#aaef00 11.73%,#a8f100 11.95%,#9afe00 13.48%,#95fe00 14.29%,#91fe00 15.4%,#91fe00 15.56%,#95fe00 16.07%,#a0f800 16.45%,#b4e600 16.84%,#c8d000 17.22%,#e3bf00 17.73%,#eabf00 17.95%,#f36000 18.75%,#eda800 19.77%,#e7bf00 20.03%,#d2c500 20.54%,#aaef00 21.14%,#a7f200 21.17%,#a0f800 21.3%,#91fe00 21.81%,#87fc00 22.45%,#7cfa00 23.09%,#7afa00 23.21%,#70f800 23.72%,#64f600 24.36%,#58f100 24.96%,#57f100 25%,#54f000 25.13%,#4eeb00 25.77%,#41d400 27.04%,#35bd00 28.32%,#31a700 30.06%,#309900 30.87%,#2c7500 33.16%,#2c6f00 34.06%,#2c6900 34.95%,#2a5800 35.84%,#295500 35.97%,#284b00 36.44%,#274400 36.73%,#243100 37.88%,#232400 39.16%,#1e1000 43.62%,#1e0d00 45.37%,#1e0c00 46.17%,#1c0500 56.38%,#1c0500 58.13%,#1a0200 69.13%,#180100 84.44%,#150100 100%)"></i>
<i style="background:linear-gradient(#ff0000 0%,#ff0000 6.913%,#ff0000 7.105%,#ee9400 7.36%,#e7bf00 7.742%,#ddbf00 8.253%,#d2c500 8.89%,#c5d500 9.656%,#b6e400 10.68%,#a9f000 11.73%,#a6f300 11.95%,#97ff00 13.48%,#90fe00 14.29%,#8afc00 15.4%,#89fc00 15.56%,#8cfd00 16.07%,#97ff00 16.45%,#abee00 16.84%,#c1d900 17.22%,#ddbf00 17.73%,#e5bf00 17.95%,#ee9d00 18.75%,#e8bf00 19.77%,#e2bf00 20.03%,#cdca00 20.54%,#a6f200 21.14%,#a4f500 21.17%,#9ff900 21.3%,#91fe00 21.81%,#87fc00 22.45%,#7cfa00 23.09%,#7afa00 23.21%,#70f800 23.72%,#64f600 24.36%,#58f100 24.96%,#57f100 25%,#54f000 25.13%,#4eeb00 25.77%,#41d400 27.04%,#35bd00 28.32%,#32a800 30.06%,#309a00 30.87%,#2d7700 33.16%,#2d7300 34.06%,#2d6d00 34.95%,#2b5d00 35.84%,#2a5a00 35.97%,#294f00 36.44%,#284800 36.73%,#253400 37.88%,#232700 39.16%,#1f1100 43.62%,#1f0e00 45.37%,#1f0d00 46.17%,#1d0600 56.38%,#1d0500 58.13%,#1b0200 69.13%,#190200 84.44%,#170100 100%)"></i>
<i style="background:linear-gradient(#ff0000 0%,#ff0000 7.207%,#ff0000 7.398%,#ee9200 7.653%,#e7bf00 8.036%,#debf00 8.546%,#d3c300 9.184%,#c7d200 9.949%,#b9e100 10.97%,#afea00 11.73%,#aaef00 12.24%,#9cfc00 13.78%,#99ff00 14.29%,#93fe00 15.56%,#93fe00 15.69%,#96ff00 16.07%,#a0f800 16.45%,#b3e700 16.84%,#c7d200 17.22%,#e1bf00 17.73%,#ef9100 18.24%,#f17700 18.75%,#ebbc00 19.77%,#e5bf00 20.03%,#d1c600 20.54%,#a6f200 21.17%,#a0f800 21.3%,#9afe00 21.43%,#91fe00 21.81%,#87fc00 22.45%,#7cfa00 23.09%,#7afa00 23.21%,#70f800 23.72%,#64f600 24.36%,#57f100 25%,#55f000 25.13%,#53ef00 25.26%,#4eeb00 25.77%,#42d500 27.04%,#37bf00 28.32%,#32a900 30.36%,#319f00 30.87%,#2d7c00 33.16%,#2e7800 34.06%,#2e7200 34.95%,#2b6000 35.84%,#2b5d00 35.97%,#284c00 36.73%,#253700 37.88%,#242a00 39.16%,#201100 43.62%,#1f0e00 45.66%,#1f0d00 46.17%,#1d0600 56.38%,#1d0500 58.42%,#1b0300 69.13%,#190200 84.44%,#170100 100%)"></i>
<i style="background:linear-gradient(#ff0000 0%,#ff0000 6.926%,#f45100 7.117%,#ee9500 7.372%,#e7bf00 7.755%,#ddbf00 8.265%,#d2c500 8.903%,#c6d400 9.668%,#b8e200 10.69%,#aced00 11.73%,#a9f000 11.96%,#9efb00 13.49%,#9afe00 14.29%,#97ff00 15.41%,#97ff00 15.56%,#9bfd00 16.07%,#a6f300 16.45%,#b9e100 16.84%,#cccc00 17.22%,#e4bf00 17.73%,#ecb300 17.96%,#f35800 18.75%,#ed9f00 19.77%,#e8bf00 20.03%,#d4c300 20.54%,#abee00 21.15%,#a9f000 21.17%,#a2f600 21.3%,#91fe00 21.81%,#87fc00 22.45%,#7cfa00 23.09%,#7afa00 23.21%,#70f800 23.72%,#64f600 24.36%,#57f100 24.97%,#57f100 25%,#54f000 25.13%,#4eeb00 25.77%,#41d400 27.04%,#36be00 28.32%,#32ab00 30.08%,#319e00 30.87%,#2e7d00 33.16%,#2f7c00 34.06%,#2f7700 34.95%,#2d6600 35.84%,#2c6300 35.97%,#2a5700 36.45%,#295100 36.73%,#263b00 37.88%,#242d00 39.16%,#211300 43.62%,#201000 45.38%,#200f00 46.17%,#1f0700 56.38%,#1e0600 58.14%,#1d0300 69.13%,#1b0200 84.44%,#190100 100%)"></i>
<i style="background:linear-gradient(#ff0000 0%,#ff0000 7.844%,#ff0000 8.036%,#ef8d00 8.291%,#e8bf00 8.673%,#dfbf00 9.184%,#d5c000 9.821%,#cace00 10.59%,#bddd00 11.61%,#bbdf00 11.73%,#afea00 12.88%,#a3f500 14.29%,#a3f600 14.41%,#9dfb00 15.56%,#9ffa00 16.07%,#a3f500 16.33%,#a7f200 16.45%,#b6e400 16.84%,#c7d200 17.22%,#ddbf00 17.73%,#ebb500 18.75%,#ebb500 18.88%,#e6bf00 19.77%,#e0bf00 20.03%,#cdcb00 20.54%,#a3f500 21.17%,#9ff900 21.3%,#91fe00 21.81%,#8dfd00 22.07%,#87fc00 22.45%,#7dfa00 23.09%,#7afa00 23.21%,#70f800 23.72%,#64f600 24.36%,#58f100 25%,#56f000 25.13%,#50ec00 25.77%,#4feb00 25.89%,#45d800 27.04%,#3bc400 28.32%,#33ae00 30.87%,#33ac00 30.99%,#2f8400 33.16%,#2f7d00 34.06%,#2e7500 34.95%,#2c6300 35.84%,#2b6000 35.97%,#294f00 36.73%,#274100 37.37%,#263900 37.88%,#242b00 39.16%,#1f1100 43.62%,#1e0d00 46.17%,#1e0c00 46.3%,#1c0500 56.38%,#1c0500 59.06%,#1a0200 69.13%,#180200 84.44%,#160100 100%)"></i>
<i style="background:linear-gradient(#ff0000 0%,#ff0000 11.35%,#f45100 11.54%,#f17400 11.73%,#f07e00 11.8%,#ebb700 12.18%,#e5bf00 12.69%,#debf00 13.33%,#d5c100 14.09%,#d3c300 14.29%,#cbce00 15.11%,#c6d300 15.56%,#c2d900 16.07%,#c0db00 16.39%,#bfdb00 16.45%,#c0da00 16.84%,#c8d100 17.22%,#dabf00 17.73%,#e0bf00 17.92%,#e8bf00 18.75%,#e2bf00 19.77%,#e1bf00 19.83%,#ddbf00 20.03%,#cacf00 20.54%,#a8f100 21.17%,#a4f400 21.3%,#98ff00 21.81%,#92fe00 22.39%,#91fe00 22.45%,#90fd00 22.58%,#8dfd00 23.09%,#9ff900 23.21%,#9efa00 23.72%,#9dfb00 24.36%,#9cf900 25%,#9cf800 25.13%,#9bf600 25.57%,#9bf500 25.77%,#99ef00 27.04%,#98e800 28.32%,#96e100 29.4%,#95d800 30.87%,#92c100 33.16%,#91b800 34.06%,#90b300 34.5%,#8faf00 34.95%,#8ea600 35.84%,#8ea500 35.97%,#8d9d00 36.73%,#8c9100 37.88%,#8a8500 39.16%,#887300 40.88%,#855800 43.62%,#664600 46.17%,#582d00 49.81%,#402100 56.38%,#321600 62.56%,#2a0d00 66.07%,#280900 69.13%,#1f0300 81.89%,#1e0300 84.44%,#1b0200 100%)"></i>
<i style="background:linear-gradient(#ff0000 0%,#ff0000 11.73%,#ff0000 12.37%,#ff0000 12.56%,#f07b00 12.82%,#ecaf00 13.2%,#e6bf00 13.71%,#e0bf00 14.29%,#dfbf00 14.35%,#d7bf00 15.11%,#d3c300 15.56%,#cec900 16.07%,#ceca00 16.14%,#cbcd00 16.45%,#cacf00 16.84%,#cec900 17.22%,#d4c200 17.41%,#e0bf00 17.73%,#ef8900 18.75%,#ef8a00 18.94%,#e9bf00 19.77%,#e3bf00 20.03%,#d0c700 20.54%,#bfdb00 20.85%,#b0ea00 21.17%,#aced00 21.3%,#a1f700 21.81%,#9cfd00 22.45%,#9bfd00 22.58%,#97ff00 23.09%,#a1f800 23.21%,#a0f800 23.41%,#a0f900 23.72%,#9efa00 24.36%,#9df800 25%,#9df800 25.13%,#9cf500 25.77%,#9af100 26.59%,#9aef00 27.04%,#98e800 28.32%,#95db00 30.42%,#95d800 30.87%,#92c100 33.16%,#91b800 34.06%,#8faf00 34.95%,#8fa900 35.52%,#8ea600 35.84%,#8ea500 35.97%,#8d9d00 36.73%,#8c9100 37.88%,#8a8500 39.16%,#876900 41.9%,#855800 43.62%,#664600 46.17%,#552b00 50.83%,#402100 56.38%,#301300 63.58%,#2a0d00 66.07%,#280a00 69.13%,#1f0300 81.89%,#1e0300 84.44%,#1b0200 100%)"></i>
<i style="background:linear-gradient(#ff0000 0%,#ff0000 6.352%,#f35200 6.543%,#ee9c00 6.798%,#e5bf00 7.181%,#dbbf00 7.691%,#cfc800 8.329%,#c2d900 9.094%,#b2e700 10.11%,#a3f600 11.39%,#9ff900 11.73%,#95fe00 12.92%,#8efd00 14.29%,#8cfd00 14.83%,#8bfd00 15.56%,#8ffd00 16.07%,#9afe00 16.45%,#aced00 16.84%,#bfdc00 17.22%,#c7d200 17.39%,#d7bf00 17.73%,#e5bf00 18.75%,#e0bf00 19.77%,#dabf00 20.03%,#c7d200 20.54%,#c5d400 20.57%,#a0f900 21.17%,#9dfb00 21.3%,#91fe00 21.81%,#87fc00 22.45%,#7cfa00 23.09%,#7afa00 23.21%,#70f800 23.72%,#63f600 24.36%,#63f600 24.4%,#57f100 25%,#54f000 25.13%,#4eeb00 25.77%,#41d300 27.04%,#34bb00 28.32%,#32ad00 29.5%,#2f9600 30.87%,#2c7500 33.16%,#2d7200 34.06%,#2d6e00 34.95%,#2b5d00 35.84%,#2b5c00 35.88%,#2a5a00 35.97%,#284800 36.73%,#253500 37.88%,#232800 39.16%,#1f1100 43.62%,#1f0f00 44.81%,#1f0d00 46.17%,#1d0600 56.38%,#1d0600 57.56%,#1c0300 69.13%,#190200 84.44%,#170100 100%)"></i>
<i style="background:linear-gradient(#ff0000 0%,#ff0000 6.301%,#ff0000 6.492%,#ee9b00 6.747%,#e5bf00 7.13%,#dbbf00 7.64%,#cfc900 8.278%,#c1d900 9.043%,#b1e800 10.06%,#a0f900 11.34%,#9bfd00 11.73%,#8efd00 12.87%,#83fb00 14.29%,#7ffb00 14.78%,#7cfa00 15.56%,#7ffb00 16.07%,#8bfd00 16.45%,#a1f800 16.84%,#bae000 17.22%,#c1d900 17.33%,#d8bf00 17.73%,#e9bf00 18.75%,#e3bf00 19.77%,#ddbf00 20.03%,#cacf00 20.52%,#c9cf00 20.54%,#a1f800 21.17%,#9efb00 21.3%,#91fe00 21.81%,#87fc00 22.45%,#7cfa00 23.09%,#7afa00 23.21%,#70f800 23.72%,#64f600 24.35%,#63f600 24.36%,#57f100 25%,#54f000 25.13%,#4eeb00 25.77%,#41d300 27.04%,#34bb00 28.32%,#32ae00 29.45%,#2f9600 30.87%,#2c7600 33.16%,#2d7300 34.06%,#2d6f00 34.95%,#2b5e00 35.83%,#2b5e00 35.84%,#2a5b00 35.97%,#284900 36.73%,#253500 37.88%,#232800 39.16%,#201200 43.62%,#1f1000 44.76%,#1f0e00 46.17%,#1e0600 56.38%,#1d0600 57.51%,#1c0300 69.13%,#1a0200 84.44%,#180100 100%)"></i>
<i style="background:linear-gradient(#ff0000 0%,#ff0000 6.033%,#f45200 6.224%,#ed9f00 6.48%,#e5bf00 6.862%,#dabf00 7.372%,#cdcb00 8.01%,#bfdb00 8.776%,#afea00 9.796%,#9efa00 11.07%,#97ff00 11.73%,#8efd00 12.6%,#84fb00 14.29%,#82fb00 14.52%,#80fb00 15.56%,#85fc00 16.07%,#92fe00 16.45%,#a7f200 16.84%,#b4e500 17.07%,#bedc00 17.22%,#dabf00 17.73%,#eabf00 18.75%,#e4bf00 19.77%,#debf00 20.03%,#d7bf00 20.26%,#cbce00 20.54%,#a2f700 21.17%,#9efa00 21.3%,#91fe00 21.81%,#87fc00 22.45%,#7cfa00 23.09%,#7afa00 23.21%,#70f800 23.72%,#69f700 24.08%,#63f600 24.36%,#57f100 25%,#54f000 25.13%,#4eeb00 25.77%,#41d300 27.04%,#34bb00 28.32%,#32b100 29.18%,#2f9500 30.87%,#2c7600 33.16%,#2d7300 34.06%,#2d6f00 34.95%,#2c6500 35.56%,#2b5f00 35.84%,#2b5c00 35.97%,#284a00 36.73%,#253600 37.88%,#232900 39.16%,#201200 43.62%,#201000 44.49%,#1f0e00 46.17%,#1e0600 56.38%,#1e0600 57.24%,#1c0300 69.13%,#1a0200 84.44%,#180100 100%)"></i>
<i style="background:linear-gradient(#ff0000 0%,#ff0000 8.38%,#f35300 8.571%,#ef8c00 8.827%,#e9bf00 9.209%,#e0bf00 9.719%,#d7bf00 10.36%,#cccc00 11.12%,#c4d600 11.73%,#bfdc00 12.14%,#b0ea00 13.42%,#a7f200 14.29%,#a0f800 14.95%,#9bfd00 15.56%,#99ff00 16.07%,#9dfb00 16.45%,#aced00 16.84%,#adec00 16.86%,#c2d800 17.22%,#dfbf00 17.73%,#f17a00 18.75%,#ef8d00 19.41%,#eabf00 19.77%,#e4bf00 20.03%,#cfc800 20.54%,#a5f400 21.17%,#a0f900 21.3%,#91fe00 21.81%,#87fc00 22.45%,#84fc00 22.6%,#7dfa00 23.09%,#7bfa00 23.21%,#71f800 23.72%,#65f600 24.36%,#5af200 25%,#58f100 25.13%,#53ec00 25.77%,#4de700 26.43%,#49df00 27.04%,#41cc00 28.32%,#37b300 30.87%,#35ab00 31.53%,#329300 33.16%,#318900 34.06%,#307e00 34.95%,#2d6a00 35.84%,#2d6700 35.97%,#2a5500 36.73%,#273f00 37.88%,#273f00 37.91%,#252f00 39.16%,#1f1100 43.62%,#1e0d00 46.17%,#1e0c00 46.84%,#1c0500 56.38%,#1b0400 59.59%,#1a0200 69.13%,#170100 84.44%,#150100 100%)"></i>
<i style="background:linear-gradient(#ff0000 0%,#ff0000 8.291%,#ff0000 8.482%,#ef8a00 8.737%,#e9bf00 9.12%,#e0bf00 9.63%,#d7bf00 10.27%,#cccc00 11.03%,#c3d700 11.73%,#bfdb00 12.05%,#b2e800 13.33%,#aaef00 14.29%,#a5f300 14.86%,#a2f700 15.56%,#a2f600 16.07%,#a8f100 16.45%,#b3e700 16.77%,#b5e500 16.84%,#c4d700 17.22%,#d8bf00 17.73%,#e5bf00 18.75%,#e4bf00 19.32%,#dfbf00 19.77%,#dabf00 20.03%,#c7d200 20.54%,#9ff900 21.17%,#9dfb00 21.3%,#91fe00 21.81%,#87fc00 22.45%,#86fc00 22.51%,#7dfa00 23.09%,#7bfa00 23.21%,#71f800 23.72%,#65f600 24.36%,#5af200 25%,#58f000 25.13%,#52ec00 25.77%,#4de800 26.34%,#48dd00 27.04%,#40cb00 28.32%,#36b200 30.87%,#35ab00 31.44%,#318e00 33.16%,#308400 34.06%,#2f7900 34.95%,#2d6600 35.84%,#2c6300 35.97%,#295200 36.73%,#263d00 37.82%,#263c00 37.88%,#242c00 39.16%,#1f1000 43.62%,#1e0c00 46.17%,#1e0b00 46.75%,#1b0500 56.38%,#1b0400 59.5%,#190200 69.13%,#170100 84.44%,#140100 100%)"></i>
<i style="background:linear-gradient(#ff0000 0%,#ff0000 8.661%,#ff0000 8.852%,#ff0000 9.107%,#ff0000 9.49%,#ff0000 10%,#ff0000 10.64%,#ff0000 11.4%,#ff0000 11.73%,#ff0000 12.42%,#ff0000 13.7%,#ff0000 14.29%,#ff0000 15.23%,#ff0000 15.56%,#ff0000 16.07%,#ff0000 16.45%,#ff0000 16.84%,#ff0000 17.14%,#ff0000 17.22%,#ff0000 17.73%,#ff0000 18.75%,#ff0000 19.69%,#ff0000 19.77%,#ff0000 20.54%,#ff0000 21.17%,#ff0000 21.81%,#ff0000 22.45%,#ff0000 22.88%,#ff0000 23.09%,#ff0000 23.72%,#ff0000 24.11%,#f26c00 24.36%,#debe00 24.74%,#debd00 25%,#deba00 25.77%,#deb500 26.71%,#ddb400 27.04%,#dda300 30.87%,#dd9b00 31.81%,#dd9100 33.16%,#dc8b00 34.06%,#dc8400 34.95%,#dc7d00 35.84%,#dc7700 36.73%,#dc6e00 37.88%,#dc6c00 38.19%,#dc6400 39.16%,#db5600 41.07%,#ad4800 45.28%,#ab4300 46.17%,#a93e00 47.12%,#992900 53.83%,#8f2500 56.38%,#812000 59.87%,#802000 60.2%,#661800 66.07%,#641400 69.13%,#5c1000 84.44%,#540c00 100%)"></i>
<i style="background:linear-gradient(#ff0000 0%,#ff0000 6.492%,#ff0000 6.684%,#ff0000 6.939%,#ff0000 7.321%,#ff0000 7.832%,#ff0000 8.469%,#ff0000 9.235%,#ff0000 10.26%,#ff0000 11.53%,#ff0000 11.73%,#ff0000 13.06%,#ff0000 14.29%,#ff0000 14.97%,#ff0000 15.56%,#ff0000 16.07%,#ff0000 16.45%,#ff0000 16.84%,#ff0000 17.22%,#ff0000 17.53%,#ff0000 17.73%,#ff0000 18.75%,#ff0000 19.77%,#ff0000 20.54%,#ff0000 20.71%,#ff0000 21.17%,#ff0000 21.81%,#ff0000 22.45%,#ff0000 23.09%,#ff0000 23.72%,#ff0000 24.11%,#f26c00 24.36%,#e8bf00 24.54%,#debe00 24.74%,#dbbd00 25%,#d2be00 25.77%,#c4c900 27.04%,#a7d500 29.64%,#99d900 30.87%,#8ec000 33.16%,#89b700 34.06%,#85ae00 34.95%,#80a400 35.84%,#7fa200 36.02%,#7c9b00 36.73%,#768f00 37.88%,#708200 39.16%,#666f00 41.07%,#4f4c00 44.95%,#4d4a00 45.28%,#4a4300 46.17%,#332100 53.83%,#321d00 56.38%,#311b00 57.7%,#2b0c00 69.13%,#230500 84.44%,#1c0200 100%)"></i>
<i style="background:linear-gradient(#ff0000 0%,#ff0000 6.582%,#ff0000 6.773%,#ee9800 7.028%,#e6bf00 7.411%,#dcbf00 7.921%,#d0c700 8.559%,#c3d700 9.324%,#b3e600 10.34%,#a3f600 11.62%,#a1f700 11.73%,#93fe00 13.15%,#89fc00 14.29%,#85fc00 15.06%,#83fb00 15.56%,#87fc00 16.07%,#92fe00 16.45%,#a8f100 16.84%,#c0db00 17.22%,#d8bf00 17.61%,#ddbf00 17.73%,#ee9300 18.75%,#e8bf00 19.77%,#cdca00 20.54%,#bddd00 20.8%,#a2f600 21.17%,#6df800 21.81%,#4bef00 22.45%,#3edc00 23.09%,#38d400 23.72%,#34ce00 24.36%,#33ca00 24.63%,#31ba00 25%,#2d9c00 25.77%,#287300 27.04%,#202e00 29.73%,#1e2500 30.87%,#1f2500 33.16%,#233300 34.06%,#243c00 34.95%,#222900 35.84%,#202200 36.11%,#1d1800 36.73%,#180e00 37.88%,#170b00 39.16%,#150600 45.04%,#150500 46.17%,#140300 56.38%,#140200 57.79%,#130100 69.13%,#110100 84.44%,#100100 100%)"></i>
<i style="background:linear-gradient(#ff0000 0%,#ff0000 2.921%,#ff0000 3.112%,#e3bf00 3.367%,#cbcd00 3.75%,#b0e900 4.26%,#95fe00 4.898%,#86fc00 5.663%,#7dfa00 6.684%,#79fa00 7.959%,#77f900 9.49%,#77f900 11.4%,#77f900 11.73%,#77f900 13.95%,#77f900 14.29%,#78fa00 15.56%,#81fb00 16.07%,#90fe00 16.45%,#a8f100 16.84%,#bcde00 17.14%,#c2d900 17.22%,#e0bf00 17.73%,#f26d00 18.75%,#ebb600 19.77%,#d0c700 20.54%,#b4e600 20.97%,#a4f400 21.17%,#6df800 21.81%,#40e000 22.45%,#277000 23.09%,#1c2500 23.72%,#191900 24.36%,#181700 25%,#171500 25.77%,#171500 26.07%,#171400 27.04%,#161200 30.87%,#191300 32.45%,#1c1b00 33.16%,#212700 34.06%,#233300 34.95%,#212300 35.84%,#1c1500 36.73%,#170d00 37.88%,#160b00 39.16%,#150900 41.38%,#150500 46.17%,#140300 54.13%,#140300 56.38%,#130100 69.13%,#120100 84.44%,#100100 100%)"></i>
<i style="background:linear-gradient(#ff0000 0%,#ff0000 7.921%,#ff0000 8.112%,#ef8d00 8.367%,#e8bf00 8.75%,#dfbf00 9.26%,#d5c000 9.898%,#cacf00 10.66%,#bcde00 11.68%,#bbdf00 11.73%,#aced00 12.96%,#9efa00 14.29%,#9cfc00 14.49%,#92fe00 15.56%,#90fe00 16.07%,#93fe00 16.4%,#94fe00 16.45%,#a3f500 16.84%,#bbdf00 17.22%,#dabf00 17.73%,#ecb300 18.75%,#ecb400 18.95%,#e5bf00 19.77%,#cbcd00 20.54%,#a2f700 21.17%,#77f900 21.81%,#6cf800 22.14%,#67f700 22.45%,#63f600 23.09%,#5ff500 23.72%,#5cf500 24.36%,#59f100 25%,#56ec00 25.77%,#55eb00 25.97%,#51e400 27.04%,#42c100 30.87%,#42be00 31.07%,#3ca500 33.16%,#3b9d00 34.06%,#3a9400 34.95%,#378900 35.84%,#337f00 36.73%,#316f00 37.45%,#2f6600 37.88%,#2c5100 39.16%,#221100 46.17%,#211000 46.38%,#1a0400 56.38%,#190300 59.13%,#170200 69.13%,#150100 84.44%,#130100 100%)"></i>
<i style="background:linear-gradient(#ff0000 0%,#ff0000 2.946%,#f45200 3.138%,#e3bf00 3.393%,#cccd00 3.776%,#b1e900 4.286%,#95fe00 4.923%,#87fc00 5.689%,#7dfa00 6.709%,#79fa00 7.985%,#77f900 9.515%,#77f900 11.43%,#76f900 11.73%,#76f900 13.98%,#76f900 14.29%,#78fa00 15.56%,#81fb00 16.07%,#90fd00 16.45%,#a8f100 16.84%,#bedc00 17.17%,#c1d900 17.22%,#e0bf00 17.73%,#f17300 18.75%,#ebbb00 19.77%,#d0c700 20.54%,#b2e700 20.99%,#a5f400 21.17%,#6ef800 21.81%,#42e300 22.45%,#298100 23.09%,#1e2c00 23.72%,#1b1f00 24.36%,#1a1b00 25%,#191800 25.77%,#191800 26.1%,#191700 27.04%,#181400 30.87%,#1b1800 32.47%,#1e2100 33.16%,#233300 34.06%,#254000 34.95%,#232d00 35.84%,#1e1a00 36.73%,#190e00 37.88%,#180c00 39.16%,#170a00 41.4%,#170600 46.17%,#160300 54.16%,#160300 56.38%,#150200 69.13%,#140100 84.44%,#120100 100%)"></i>
<i style="background:linear-gradient(#ff0000 0%,#ff0000 3.176%,#ff0000 3.367%,#e4bf00 3.622%,#cec900 4.005%,#b4e500 4.515%,#99ff00 5.153%,#85fc00 5.918%,#76f900 6.939%,#6cf800 8.214%,#68f700 9.745%,#66f700 11.66%,#66f700 11.73%,#65f600 14.21%,#65f600 14.29%,#67f700 15.56%,#70f800 16.07%,#81fb00 16.45%,#9bfd00 16.84%,#b7e200 17.22%,#c4d600 17.4%,#d8bf00 17.73%,#ebbe00 18.75%,#e5bf00 19.77%,#cace00 20.54%,#a0f800 21.17%,#9cfc00 21.22%,#6df800 21.81%,#43e400 22.45%,#2b8e00 23.09%,#203500 23.72%,#1d2900 24.36%,#1c2400 25%,#1b2000 25.77%,#1b1e00 26.33%,#1b1d00 27.04%,#1b1a00 30.87%,#1e2200 32.7%,#202800 33.16%,#254300 34.06%,#274f00 34.95%,#253b00 35.84%,#202000 36.73%,#1b1300 37.88%,#1a0e00 39.16%,#1a0b00 41.63%,#190700 46.17%,#180400 54.39%,#180400 56.38%,#170200 69.13%,#160100 84.44%,#150100 100%)"></i>
<i style="background:linear-gradient(#ff0000 0%,#ff0000 2.895%,#f35300 3.087%,#e2bf00 3.342%,#cbcd00 3.724%,#b0ea00 4.235%,#94fe00 4.872%,#86fc00 5.638%,#7dfa00 6.658%,#79fa00 7.934%,#77f900 9.464%,#77f900 11.38%,#77f900 11.73%,#76f900 13.93%,#76f900 14.29%,#78fa00 15.56%,#80fb00 16.07%,#8ffd00 16.45%,#a6f300 16.84%,#b7e200 17.12%,#bedc00 17.22%,#dbbf00 17.73%,#ecb000 18.75%,#e6bf00 19.77%,#cccc00 20.54%,#b3e700 20.94%,#a2f600 21.17%,#6df800 21.81%,#43e400 22.45%,#2b8e00 23.09%,#203500 23.72%,#1d2800 24.36%,#1c2300 25%,#1b1f00 25.77%,#1b1e00 26.05%,#1b1d00 27.04%,#1b1900 30.87%,#1d1f00 32.42%,#202700 33.16%,#254200 34.06%,#274e00 34.95%,#253b00 35.84%,#201f00 36.73%,#1b1300 37.88%,#1a0e00 39.16%,#190b00 41.35%,#190700 46.17%,#180400 54.11%,#180300 56.38%,#170200 69.13%,#160100 84.44%,#150100 100%)"></i>
<i style="background:linear-gradient(#ff0000 0%,#ff0000 3.151%,#f35600 3.342%,#e3bf00 3.597%,#cdca00 3.98%,#b3e600 4.49%,#97ff00 5.128%,#82fb00 5.893%,#6ff800 6.913%,#60f500 8.189%,#55f400 9.719%,#51f300 11.63%,#51f300 11.73%,#4ff300 14.18%,#4ff300 14.29%,#51f300 15.56%,#5bf500 16.07%,#6ff800 16.45%,#8dfd00 16.84%,#aeeb00 17.22%,#bbdf00 17.37%,#d4c200 17.73%,#e9bf00 18.75%,#e2bf00 19.77%,#c7d200 20.54%,#9efa00 21.17%,#9cfc00 21.2%,#6cf700 21.81%,#43e400 22.45%,#2b9100 23.09%,#213700 23.72%,#1e2b00 24.36%,#1d2600 25%,#1c2200 25.77%,#1c2000 26.3%,#1b1f00 27.04%,#1b1b00 30.87%,#1e2300 32.68%,#212900 33.16%,#264600 34.06%,#285200 34.95%,#253f00 35.84%,#202100 36.73%,#1c1400 37.88%,#1a0f00 39.16%,#1a0c00 41.61%,#1a0700 46.17%,#190400 54.36%,#190400 56.38%,#180200 69.13%,#170100 84.44%,#150100 100%)"></i>
<i style="background:linear-gradient(#ff0000 0%,#ff0000 2.755%,#ff0000 2.946%,#e2bf00 3.202%,#c9cf00 3.584%,#aded00 4.094%,#8ffd00 4.732%,#7efb00 5.497%,#70f800 6.518%,#68f700 7.793%,#64f600 9.324%,#63f600 11.24%,#63f600 11.73%,#63f600 13.79%,#63f600 14.29%,#65f600 15.56%,#6ef800 16.07%,#7efb00 16.45%,#98ff00 16.84%,#a2f700 16.98%,#b3e600 17.22%,#d4c300 17.73%,#e6bf00 18.75%,#e0bf00 19.77%,#c6d400 20.54%,#b7e300 20.8%,#9dfb00 21.17%,#6bf700 21.81%,#42e300 22.45%,#2b8d00 23.09%,#203500 23.72%,#1d2900 24.36%,#1c2400 25%,#1b2000 25.77%,#1b1f00 25.91%,#1b1e00 27.04%,#1b1a00 30.87%,#1d1e00 32.28%,#202800 33.16%,#254400 34.06%,#285000 34.95%,#253c00 35.84%,#202000 36.73%,#1c1300 37.88%,#1a0f00 39.16%,#1a0c00 41.21%,#190700 46.17%,#190400 53.97%,#190400 56.38%,#170200 69.13%,#160100 84.44%,#150100 100%)"></i>
<i style="background:linear-gradient(#ff0000 0%,#ff0000 1.773%,#f35b00 1.964%,#d8bf00 2.219%,#b6e400 2.602%,#90fe00 3.112%,#7afa00 3.75%,#69f700 4.515%,#5ef500 5.536%,#5af500 6.811%,#59f400 8.342%,#59f400 10.26%,#59f400 11.73%,#59f400 12.81%,#59f400 14.29%,#5bf500 15.56%,#63f600 15.99%,#66f600 16.07%,#78fa00 16.45%,#96fe00 16.84%,#b6e400 17.22%,#dbbf00 17.73%,#ef8800 18.75%,#e9bf00 19.77%,#e8bf00 19.82%,#cdcb00 20.54%,#a1f700 21.17%,#6cf700 21.81%,#41e000 22.45%,#277300 23.09%,#1d2600 23.72%,#191900 24.36%,#181800 24.92%,#181800 25%,#171600 25.77%,#171500 27.04%,#171300 30.87%,#171300 31.3%,#1c1c00 33.16%,#212a00 34.06%,#243700 34.95%,#212500 35.84%,#1c1600 36.73%,#180d00 37.88%,#160b00 39.16%,#160a00 40.23%,#150600 46.17%,#150300 52.98%,#150300 56.38%,#140100 69.13%,#120100 84.44%,#110100 100%)"></i>
<i style="background:linear-gradient(#ff0000 0%,#ff0000 2.653%,#ff0000 2.844%,#e1bf00 3.099%,#c8d100 3.482%,#aaef00 3.992%,#8cfd00 4.63%,#7afa00 5.395%,#68f700 6.416%,#5bf500 7.691%,#55f400 9.222%,#53f300 11.14%,#53f300 11.73%,#52f300 13.69%,#52f300 14.29%,#54f400 15.56%,#5ff500 16.07%,#72f800 16.45%,#8ffd00 16.84%,#92fe00 16.88%,#b0e900 17.22%,#d5c000 17.73%,#eabf00 18.75%,#e3bf00 19.77%,#c8d100 20.54%,#bfdc00 20.7%,#9efb00 21.17%,#6af700 21.81%,#40df00 22.45%,#287400 23.09%,#1d2800 23.72%,#1a1b00 24.36%,#191800 25%,#181700 25.77%,#181700 25.8%,#181500 27.04%,#171300 30.87%,#191400 32.18%,#1d1e00 33.16%,#222c00 34.06%,#243900 34.95%,#222700 35.84%,#1d1700 36.73%,#180e00 37.88%,#170b00 39.16%,#160900 41.11%,#160600 46.17%,#150300 53.86%,#150300 56.38%,#140100 69.13%,#130100 84.44%,#110100 100%)"></i>
<i style="background:linear-gradient(#ff0000 0%,#ff0000 3.099%,#f35700 3.291%,#e3bf00 3.546%,#cdcb00 3.929%,#b2e700 4.439%,#96fe00 5.077%,#81fb00 5.842%,#70f800 6.862%,#63f600 8.138%,#5bf500 9.668%,#58f400 11.58%,#58f400 11.73%,#57f400 14.13%,#57f400 14.29%,#59f400 15.56%,#63f600 16.07%,#74f900 16.45%,#90fd00 16.84%,#aeeb00 17.22%,#b6e400 17.32%,#d1c600 17.73%,#e4bf00 18.75%,#debf00 19.77%,#c3d700 20.54%,#9cfc00 21.15%,#9afe00 21.17%,#68f700 21.81%,#3fdf00 22.45%,#287700 23.09%,#1e2a00 23.72%,#1b1e00 24.36%,#191900 25%,#191800 25.77%,#181700 26.25%,#181600 27.04%,#181400 30.87%,#1b1900 32.63%,#1d1f00 33.16%,#223000 34.06%,#253d00 34.95%,#222b00 35.84%,#1d1900 36.73%,#190e00 37.88%,#170c00 39.16%,#170900 41.56%,#160600 46.17%,#160300 54.31%,#160300 56.38%,#150200 69.13%,#130100 84.44%,#120100 100%)"></i>
<i style="background:linear-gradient(#ff0000 0%,#ff0000 2.258%,#f35300 2.449%,#debf00 2.704%,#c1d900 3.087%,#a1f800 3.597%,#87fc00 4.235%,#79fa00 5%,#6ff800 6.02%,#6bf700 7.296%,#6af700 8.827%,#6af700 10.74%,#6af700 11.73%,#6af700 13.29%,#6af700 14.29%,#6bf700 15.56%,#74f900 16.07%,#84fb00 16.45%,#85fc00 16.48%,#9cfc00 16.84%,#b7e300 17.22%,#d5c000 17.73%,#e7bf00 18.75%,#e1bf00 19.77%,#d2c500 20.31%,#c7d200 20.54%,#9efa00 21.17%,#6bf700 21.81%,#42e200 22.45%,#2a8900 23.09%,#203300 23.72%,#1d2600 24.36%,#1c2100 25%,#1b1f00 25.41%,#1b1d00 25.77%,#1a1b00 27.04%,#1a1800 30.87%,#1b1900 31.79%,#202600 33.16%,#254000 34.06%,#274c00 34.95%,#243800 35.84%,#1f1e00 36.73%,#1b1200 37.88%,#190d00 39.16%,#190c00 40.71%,#190700 46.17%,#180400 53.47%,#180300 56.38%,#170200 69.13%,#160100 84.44%,#140100 100%)"></i>
<i style="background:linear-gradient(#ff0000 0%,#ff0000 3.074%,#ff0000 3.265%,#e4bf00 3.52%,#cdcb00 3.903%,#b3e700 4.413%,#96fe00 5.051%,#81fb00 5.816%,#6ff800 6.837%,#5ff500 8.112%,#56f400 9.643%,#52f300 11.56%,#52f300 11.73%,#50f300 14.11%,#50f300 14.29%,#52f300 15.56%,#5cf500 16.07%,#6ff800 16.45%,#8cfd00 16.84%,#aced00 17.22%,#b2e800 17.3%,#d0c700 17.73%,#e4bf00 18.75%,#ddbf00 19.77%,#c3d700 20.54%,#9efa00 21.12%,#9afe00 21.17%,#69f700 21.81%,#40e000 22.45%,#297e00 23.09%,#1f2e00 23.72%,#1b2100 24.36%,#1a1d00 25%,#191900 25.77%,#191800 26.22%,#191700 27.04%,#191500 30.87%,#1c1b00 32.6%,#1e2200 33.16%,#233600 34.06%,#264300 34.95%,#233000 35.84%,#1e1b00 36.73%,#1a0f00 37.88%,#180c00 39.16%,#180a00 41.53%,#170600 46.17%,#170300 54.29%,#160300 56.38%,#150200 69.13%,#140100 84.44%,#130100 100%)"></i>
<i style="background:linear-gradient(#ff0000 0%,#ff0000 3.176%,#ff0000 3.367%,#e4bf00 3.622%,#cec900 4.005%,#b4e500 4.515%,#99ff00 5.153%,#85fc00 5.918%,#76f900 6.939%,#6df800 8.214%,#68f700 9.745%,#67f700 11.66%,#67f700 11.73%,#66f700 14.21%,#66f700 14.29%,#68f700 15.56%,#70f800 16.07%,#7ffb00 16.45%,#96ff00 16.84%,#afea00 17.22%,#bbdf00 17.4%,#cccc00 17.73%,#ddbf00 18.75%,#d7bf00 19.77%,#bfdc00 20.54%,#97ff00 21.17%,#94fe00 21.22%,#66f700 21.81%,#3fdd00 22.45%,#287500 23.09%,#1e2b00 23.72%,#1b1f00 24.36%,#1a1a00 25%,#191800 25.77%,#191700 26.33%,#181700 27.04%,#181400 30.87%,#1c1a00 32.7%,#1e2000 33.16%,#233200 34.06%,#253f00 34.95%,#222c00 35.84%,#1d1900 36.73%,#190e00 37.88%,#170c00 39.16%,#170a00 41.63%,#170600 46.17%,#160300 54.39%,#160300 56.38%,#150200 69.13%,#140100 84.44%,#120100 100%)"></i>
<i style="background:linear-gradient(#ff0000 0%,#ff0000 2.908%,#f35600 3.099%,#e2bf00 3.355%,#cbce00 3.737%,#afea00 4.247%,#91fe00 4.885%,#7efb00 5.651%,#6df800 6.671%,#60f500 7.946%,#59f400 9.477%,#57f400 11.39%,#56f400 11.73%,#56f400 13.94%,#56f400 14.29%,#58f400 15.56%,#62f600 16.07%,#74f900 16.45%,#90fe00 16.84%,#a8f100 17.13%,#b0ea00 17.22%,#d3c300 17.73%,#e7bf00 18.75%,#e1bf00 19.77%,#c6d300 20.54%,#aced00 20.96%,#9cfc00 21.17%,#69f700 21.81%,#3fdf00 22.45%,#277200 23.09%,#1d2700 23.72%,#1a1b00 24.36%,#191800 25%,#181700 25.77%,#181600 26.06%,#171500 27.04%,#171300 30.87%,#1a1400 32.44%,#1d1d00 33.16%,#222b00 34.06%,#243800 34.95%,#212600 35.84%,#1c1700 36.73%,#180d00 37.88%,#160b00 39.16%,#160900 41.36%,#160600 46.17%,#150300 54.12%,#150300 56.38%,#140100 69.13%,#130100 84.44%,#110100 100%)"></i>
<i style="background:linear-gradient(#ff0000 0%,#ff0000 2.602%,#f35800 2.793%,#e0bf00 3.048%,#c7d300 3.431%,#a9f000 3.941%,#8afd00 4.579%,#78fa00 5.344%,#66f700 6.365%,#59f400 7.64%,#53f300 9.171%,#51f300 11.08%,#50f300 11.73%,#50f300 13.64%,#50f300 14.29%,#52f300 15.56%,#5df500 16.07%,#70f800 16.45%,#8dfd00 16.82%,#8efd00 16.84%,#b0ea00 17.22%,#d5c100 17.73%,#eabf00 18.75%,#e3bf00 19.77%,#c9d000 20.54%,#c2d800 20.65%,#9ff900 21.17%,#6df800 21.81%,#44e500 22.45%,#2c9500 23.09%,#213a00 23.72%,#1e2c00 24.36%,#1d2700 25%,#1c2400 25.75%,#1c2300 25.77%,#1c2100 27.04%,#1c1d00 30.87%,#1d2000 32.13%,#212b00 33.16%,#264a00 34.06%,#285600 34.95%,#264200 35.84%,#212200 36.73%,#1c1500 37.88%,#1b1000 39.16%,#1b0e00 41.06%,#1a0800 46.17%,#1a0400 53.81%,#190400 56.38%,#180200 69.13%,#170100 84.44%,#160100 100%)"></i>
<i style="background:linear-gradient(#ff0000 0%,#ff0000 2.959%,#ff0000 3.151%,#e3bf00 3.406%,#cccc00 3.788%,#b1e900 4.298%,#93fe00 4.936%,#7efb00 5.702%,#6bf700 6.722%,#59f400 7.997%,#4cf200 9.528%,#46e800 11.44%,#45e800 11.73%,#44e500 13.99%,#43e500 14.29%,#46e800 15.56%,#50f300 16.07%,#65f600 16.45%,#85fc00 16.84%,#a5f400 17.18%,#a9f000 17.22%,#d0c700 17.73%,#e6bf00 18.75%,#dfbf00 19.77%,#c4d600 20.54%,#a7f200 21.01%,#9bfd00 21.17%,#69f700 21.81%,#41e000 22.45%,#297f00 23.09%,#1f2e00 23.72%,#1b2100 24.36%,#1a1d00 25%,#191900 25.77%,#191800 26.11%,#191700 27.04%,#191500 30.87%,#1b1a00 32.49%,#1e2200 33.16%,#233700 34.06%,#264300 34.95%,#233000 35.84%,#1e1b00 36.73%,#1a0f00 37.88%,#180c00 39.16%,#180a00 41.42%,#170600 46.17%,#170300 54.17%,#170300 56.38%,#160200 69.13%,#140100 84.44%,#130100 100%)"></i>
<i style="background:linear-gradient(#ff0000 0%,#ff0000 2.781%,#f35500 2.972%,#e1bf00 3.227%,#c9d000 3.61%,#aded00 4.12%,#8efd00 4.758%,#7bfa00 5.523%,#67f700 6.543%,#56f400 7.819%,#4bf000 9.349%,#46e800 11.26%,#45e700 11.73%,#44e500 13.81%,#44e500 14.29%,#46e800 15.56%,#50f300 16.07%,#64f600 16.45%,#82fb00 16.84%,#91fe00 17%,#a4f400 17.22%,#cace00 17.73%,#dfbf00 18.75%,#d9bf00 19.77%,#bedc00 20.54%,#aeeb00 20.83%,#96ff00 21.17%,#66f700 21.81%,#3fde00 22.45%,#287800 23.09%,#1e2c00 23.72%,#1b2000 24.36%,#1a1b00 25%,#191800 25.77%,#191800 25.93%,#191700 27.04%,#191500 30.87%,#1a1700 32.31%,#1e2100 33.16%,#233400 34.06%,#254100 34.95%,#232e00 35.84%,#1e1a00 36.73%,#190e00 37.88%,#180c00 39.16%,#170a00 41.24%,#170600 46.17%,#160300 53.99%,#160300 56.38%,#150200 69.13%,#140100 84.44%,#130100 100%)"></i>
<i style="background:linear-gradient(#ff0000 0%,#ff0000 3.189%,#f35800 3.38%,#e3bf00 3.635%,#ceca00 4.018%,#b4e600 4.528%,#98ff00 5.166%,#84fc00 5.931%,#75f900 6.952%,#6bf700 8.227%,#66f600 9.758%,#64f600 11.67%,#64f600 11.73%,#63f600 14.22%,#63f600 14.29%,#65f600 15.56%,#6ef800 16.07%,#7efa00 16.45%,#97ff00 16.84%,#b2e800 17.22%,#bfdb00 17.41%,#d1c600 17.73%,#e3bf00 18.75%,#ddbf00 19.77%,#c3d700 20.54%,#9afe00 21.17%,#95fe00 21.24%,#67f700 21.81%,#3edd00 22.45%,#276b00 23.09%,#1c2500 23.72%,#191900 24.36%,#181700 25%,#171600 25.77%,#171500 26.34%,#171500 27.04%,#171200 30.87%,#1a1500 32.72%,#1c1b00 33.16%,#212800 34.06%,#233500 34.95%,#212400 35.84%,#1c1500 36.73%,#170d00 37.88%,#160b00 39.16%,#150900 41.65%,#150600 46.17%,#140300 54.4%,#140300 56.38%,#130100 69.13%,#120100 84.44%,#110100 100%)"></i>
<i style="background:linear-gradient(#ff0000 0%,#ff0000 2.653%,#ff0000 2.844%,#e1bf00 3.099%,#c8d100 3.482%,#abef00 3.992%,#8cfd00 4.63%,#79fa00 5.395%,#65f600 6.416%,#55f400 7.691%,#4bf000 9.222%,#47ea00 11.14%,#46e900 11.73%,#46e800 13.69%,#46e800 14.29%,#48eb00 15.56%,#52f300 16.07%,#65f600 16.45%,#84fb00 16.84%,#87fc00 16.88%,#a5f300 17.22%,#cbcd00 17.73%,#e0bf00 18.75%,#d9bf00 19.77%,#bfdb00 20.54%,#b6e400 20.7%,#97ff00 21.17%,#67f700 21.81%,#3fde00 22.45%,#287700 23.09%,#1e2b00 23.72%,#1b1f00 24.36%,#1a1a00 25%,#191800 25.77%,#191800 25.8%,#181700 27.04%,#181400 30.87%,#1a1600 32.18%,#1e2100 33.16%,#233300 34.06%,#254000 34.95%,#232d00 35.84%,#1e1a00 36.73%,#190e00 37.88%,#180c00 39.16%,#170a00 41.11%,#170600 46.17%,#160300 53.86%,#160300 56.38%,#150200 69.13%,#140100 84.44%,#120100 100%)"></i>
<i style="background:linear-gradient(#ff0000 0%,#ff0000 2.666%,#ff0000 2.857%,#e1bf00 3.112%,#c8d100 3.495%,#aaef00 4.005%,#8cfd00 4.643%,#79fa00 5.408%,#66f700 6.429%,#58f400 7.704%,#50f300 9.235%,#4df200 11.15%,#4cf200 11.73%,#4cf100 13.7%,#4cf100 14.29%,#4ef200 15.56%,#58f400 16.07%,#6af700 16.45%,#87fc00 16.84%,#8bfd00 16.89%,#a7f200 17.22%,#cbcd00 17.73%,#dfbf00 18.75%,#d9bf00 19.77%,#bfdb00 20.54%,#b6e400 20.71%,#98ff00 21.17%,#68f700 21.81%,#41e100 22.45%,#2a8a00 23.09%,#203500 23.72%,#1d2900 24.36%,#1c2400 25%,#1b2000 25.77%,#1b2000 25.82%,#1b1e00 27.04%,#1b1a00 30.87%,#1c1e00 32.19%,#202800 33.16%,#254400 34.06%,#285000 34.95%,#253d00 35.84%,#202000 36.73%,#1c1300 37.88%,#1a0f00 39.16%,#1a0c00 41.12%,#190700 46.17%,#190400 53.88%,#190400 56.38%,#180200 69.13%,#160100 84.44%,#150100 100%)"></i>
<i style="background:linear-gradient(#ff0000 0%,#ff0000 2.857%,#f35200 3.048%,#e2bf00 3.304%,#cace00 3.686%,#aeeb00 4.196%,#90fe00 4.834%,#7dfa00 5.599%,#6bf700 6.62%,#5cf500 7.895%,#54f300 9.426%,#50f300 11.34%,#50f300 11.73%,#4ff300 13.89%,#4ff300 14.29%,#51f300 15.56%,#5bf500 16.07%,#6df800 16.45%,#8afc00 16.84%,#9efa00 17.08%,#aaef00 17.22%,#cdca00 17.73%,#e1bf00 18.75%,#dbbf00 19.77%,#c1d900 20.54%,#aced00 20.91%,#99ff00 21.17%,#69f700 21.81%,#41e100 22.45%,#2a8a00 23.09%,#203500 23.72%,#1d2900 24.36%,#1c2400 25%,#1b2000 25.77%,#1b1f00 26.01%,#1b1d00 27.04%,#1b1a00 30.87%,#1d1f00 32.39%,#202800 33.16%,#254300 34.06%,#274f00 34.95%,#253c00 35.84%,#202000 36.73%,#1b1300 37.88%,#1a0e00 39.16%,#1a0c00 41.31%,#190700 46.17%,#190400 54.07%,#180400 56.38%,#170200 69.13%,#160100 84.44%,#150100 100%)"></i>
<i style="background:linear-gradient(#ff0000 0%,#ff0000 2.015%,#ff0000 2.207%,#dcbf00 2.462%,#bddd00 2.844%,#99ff00 3.355%,#7efb00 3.992%,#6af700 4.758%,#56f400 5.778%,#4aee00 7.054%,#45e700 8.584%,#43e400 10.5%,#43e400 11.73%,#43e400 13.05%,#43e400 14.29%,#45e700 15.56%,#51f300 16.07%,#58f400 16.24%,#66f600 16.45%,#86fc00 16.84%,#abee00 17.22%,#d4c200 17.73%,#eabf00 18.75%,#e4bf00 19.77%,#dcbf00 20.06%,#c8d100 20.54%,#9dfb00 21.17%,#6af700 21.81%,#41e100 22.45%,#287c00 23.09%,#1e2b00 23.72%,#1b1e00 24.36%,#1a1a00 25%,#191900 25.17%,#191800 25.77%,#181700 27.04%,#181400 30.87%,#191400 31.54%,#1e2000 33.16%,#233300 34.06%,#254000 34.95%,#222d00 35.84%,#1d1a00 36.73%,#190e00 37.88%,#180c00 39.16%,#170b00 40.47%,#170600 46.17%,#160300 53.23%,#160300 56.38%,#150200 69.13%,#140100 84.44%,#120100 100%)"></i>
<i style="background:linear-gradient(#ff0000 0%,#ff0000 2.628%,#ff0000 2.819%,#e1bf00 3.074%,#c8d200 3.457%,#aaef00 3.967%,#8bfd00 4.605%,#78fa00 5.37%,#65f600 6.39%,#55f400 7.666%,#4df200 9.196%,#4aee00 11.11%,#49ed00 11.73%,#48ec00 13.66%,#48ec00 14.29%,#4bef00 15.56%,#56f400 16.07%,#6af700 16.45%,#89fc00 16.84%,#8afd00 16.85%,#aded00 17.22%,#d4c200 17.73%,#e9bf00 18.75%,#e3bf00 19.77%,#c7d200 20.54%,#bfdb00 20.68%,#9dfb00 21.17%,#6af700 21.81%,#40e000 22.45%,#287500 23.09%,#1d2800 23.72%,#1a1c00 24.36%,#191800 25%,#181700 25.77%,#181700 25.78%,#181600 27.04%,#181300 30.87%,#191400 32.16%,#1d1e00 33.16%,#222e00 34.06%,#243b00 34.95%,#222800 35.84%,#1d1800 36.73%,#180e00 37.88%,#170b00 39.16%,#160a00 41.08%,#160600 46.17%,#150300 53.84%,#150300 56.38%,#140100 69.13%,#130100 84.44%,#120100 100%)"></i>
<i style="background:linear-gradient(#ff0000 0%,#ff0000 2.768%,#ff0000 2.959%,#e2bf00 3.214%,#cacf00 3.597%,#adec00 4.107%,#8efd00 4.745%,#7bfa00 5.51%,#68f700 6.531%,#58f400 7.806%,#4ff300 9.337%,#4bef00 11.25%,#4aef00 11.73%,#49ee00 13.8%,#49ed00 14.29%,#4bf100 15.56%,#56f400 16.07%,#6af700 16.45%,#89fc00 16.84%,#97ff00 16.99%,#aced00 17.22%,#d3c300 17.73%,#e9bf00 18.75%,#e2bf00 19.77%,#c7d300 20.54%,#b6e400 20.82%,#9cfc00 21.17%,#69f700 21.81%,#3fde00 22.45%,#276e00 23.09%,#1d2600 23.72%,#191900 24.36%,#181800 25%,#171600 25.77%,#171600 25.92%,#171500 27.04%,#171300 30.87%,#191300 32.3%,#1c1c00 33.16%,#212900 34.06%,#233600 34.95%,#212400 35.84%,#1c1600 36.73%,#170d00 37.88%,#160b00 39.16%,#160900 41.22%,#150600 46.17%,#150300 53.98%,#140300 56.38%,#130100 69.13%,#120100 84.44%,#110100 100%)"></i>
<i style="background:linear-gradient(#ff0000 0%,#ff0000 2.997%,#ff0000 3.189%,#e3bf00 3.444%,#cccc00 3.827%,#b1e800 4.337%,#94fe00 4.974%,#80fb00 5.74%,#6ef800 6.76%,#5ff500 8.036%,#56f400 9.566%,#53f300 11.48%,#53f300 11.73%,#52f300 14.03%,#52f300 14.29%,#54f300 15.56%,#5ef500 16.07%,#71f800 16.45%,#8ffd00 16.84%,#b0e900 17.22%,#d6bf00 17.73%,#ebbd00 18.75%,#e4bf00 19.77%,#c9d000 20.54%,#a8f100 21.05%,#9efa00 21.17%,#6af700 21.81%,#40df00 22.45%,#277100 23.09%,#1d2600 23.72%,#1a1a00 24.36%,#181800 25%,#181600 25.77%,#171600 26.15%,#171500 27.04%,#171300 30.87%,#1a1400 32.53%,#1c1c00 33.16%,#212900 34.06%,#243700 34.95%,#212500 35.84%,#1c1600 36.73%,#180d00 37.88%,#160b00 39.16%,#160900 41.45%,#150600 46.17%,#150300 54.21%,#150300 56.38%,#140100 69.13%,#120100 84.44%,#110100 100%)"></i>
<i style="background:linear-gradient(#ff0000 0%,#ff0000 2.143%,#f35700 2.334%,#ddbf00 2.589%,#bfdc00 2.972%,#9dfc00 3.482%,#81fb00 4.12%,#6df800 4.885%,#5af400 5.906%,#4df200 7.181%,#48eb00 8.712%,#46e800 10.63%,#46e800 11.73%,#45e800 13.18%,#45e800 14.29%,#48eb00 15.56%,#52f300 16.07%,#60f500 16.36%,#65f600 16.45%,#83fb00 16.84%,#a5f400 17.22%,#cacf00 17.73%,#debf00 18.75%,#d8bf00 19.77%,#cdcb00 20.19%,#bedc00 20.54%,#97ff00 21.17%,#67f700 21.81%,#40df00 22.45%,#297f00 23.09%,#1f2f00 23.72%,#1c2300 24.36%,#1b1e00 25%,#1a1c00 25.29%,#1a1a00 25.77%,#1a1800 27.04%,#191600 30.87%,#1a1600 31.67%,#1f2400 33.16%,#243a00 34.06%,#264600 34.95%,#243300 35.84%,#1f1c00 36.73%,#1a1000 37.88%,#190d00 39.16%,#180b00 40.6%,#180700 46.17%,#170400 53.35%,#170300 56.38%,#160200 69.13%,#150100 84.44%,#130100 100%)"></i>
<i style="background:linear-gradient(#ff0000 0%,#ff0000 2.538%,#f35800 2.73%,#e0bf00 2.985%,#c6d400 3.367%,#a7f200 3.878%,#8afc00 4.515%,#78fa00 5.281%,#68f700 6.301%,#5ef500 7.577%,#5af500 9.107%,#59f400 11.02%,#59f400 11.73%,#59f400 13.57%,#59f400 14.29%,#5bf500 15.56%,#64f600 16.07%,#75f900 16.45%,#89fc00 16.76%,#8ffd00 16.84%,#aced00 17.22%,#cdca00 17.73%,#e0bf00 18.75%,#dabf00 19.77%,#c1da00 20.54%,#bedc00 20.59%,#99ff00 21.17%,#68f700 21.81%,#40e000 22.45%,#298100 23.09%,#1f3000 23.72%,#1c2400 24.36%,#1b1f00 25%,#1a1b00 25.69%,#1a1b00 25.77%,#1a1900 27.04%,#1a1600 30.87%,#1b1900 32.07%,#1f2400 33.16%,#243b00 34.06%,#264800 34.95%,#243500 35.84%,#1f1d00 36.73%,#1a1000 37.88%,#190d00 39.16%,#180b00 40.99%,#180700 46.17%,#170400 53.75%,#170300 56.38%,#160200 69.13%,#150100 84.44%,#140100 100%)"></i>
<i style="background:linear-gradient(#ff0000 0%,#ff0000 2.806%,#f35300 2.997%,#e2bf00 3.253%,#cacf00 3.635%,#adec00 4.145%,#8ffd00 4.783%,#7cfa00 5.548%,#6bf700 6.569%,#5df500 7.844%,#57f400 9.375%,#54f300 11.29%,#54f300 11.73%,#53f300 13.84%,#53f300 14.29%,#55f400 15.56%,#5ef500 16.07%,#70f800 16.45%,#8bfd00 16.84%,#9afe00 17.03%,#a9f000 17.22%,#cbce00 17.73%,#ddbf00 18.75%,#d7bf00 19.77%,#bedc00 20.54%,#adec00 20.85%,#98ff00 21.17%,#68f700 21.81%,#42e200 22.45%,#2b9100 23.09%,#213b00 23.72%,#1e2d00 24.36%,#1d2900 25%,#1d2400 25.77%,#1c2400 25.96%,#1c2200 27.04%,#1c1e00 30.87%,#1e2200 32.33%,#212d00 33.16%,#264c00 34.06%,#295700 34.95%,#264300 35.84%,#212300 36.73%,#1d1600 37.88%,#1b1100 39.16%,#1b0e00 41.26%,#1a0800 46.17%,#1a0400 54.02%,#1a0400 56.38%,#190200 69.13%,#170100 84.44%,#160100 100%)"></i>
<i style="background:linear-gradient(#ff0000 0%,#ff0000 2.806%,#f35200 2.997%,#e2bf00 3.253%,#cacf00 3.635%,#adec00 4.145%,#90fd00 4.783%,#7ffb00 5.548%,#70f800 6.569%,#67f700 7.844%,#63f600 9.375%,#62f600 11.29%,#61f600 11.73%,#61f600 13.84%,#61f600 14.29%,#63f600 15.56%,#6bf700 16.07%,#7bfa00 16.45%,#93fe00 16.84%,#a0f900 17.03%,#adec00 17.22%,#cbcd00 17.73%,#ddbf00 18.75%,#d7bf00 19.77%,#bfdc00 20.54%,#adec00 20.85%,#98ff00 21.17%,#68f700 21.81%,#41e100 22.45%,#2b8d00 23.09%,#213700 23.72%,#1e2b00 24.36%,#1d2600 25%,#1c2200 25.77%,#1c2100 25.96%,#1c2000 27.04%,#1b1c00 30.87%,#1d2000 32.33%,#212a00 33.16%,#264700 34.06%,#285300 34.95%,#263f00 35.84%,#212100 36.73%,#1c1400 37.88%,#1b1000 39.16%,#1a0d00 41.26%,#1a0800 46.17%,#190400 54.02%,#190400 56.38%,#180200 69.13%,#170100 84.44%,#150100 100%)"></i>
<i style="background:linear-gradient(#ff0000 0%,#ff0000 2.832%,#f35400 3.023%,#e2bf00 3.278%,#cacf00 3.661%,#aeec00 4.171%,#8ffd00 4.809%,#7dfa00 5.574%,#6bf700 6.594%,#5df500 7.87%,#56f400 9.401%,#53f300 11.31%,#53f300 11.73%,#52f300 13.86%,#52f300 14.29%,#55f400 15.56%,#5ff500 16.07%,#71f800 16.45%,#8efd00 16.84%,#a0f800 17.05%,#aeeb00 17.22%,#d2c400 17.73%,#e6bf00 18.75%,#e0bf00 19.77%,#c6d400 20.54%,#b1e800 20.88%,#9cfc00 21.17%,#6af700 21.81%,#41e200 22.45%,#2a8600 23.09%,#1f3100 23.72%,#1c2500 24.36%,#1b2000 25%,#1a1c00 25.77%,#1a1b00 25.98%,#1a1a00 27.04%,#1a1700 30.87%,#1c1c00 32.36%,#1f2500 33.16%,#243d00 34.06%,#274900 34.95%,#243600 35.84%,#1f1e00 36.73%,#1b1100 37.88%,#190d00 39.16%,#190b00 41.29%,#180700 46.17%,#180400 54.04%,#180300 56.38%,#160200 69.13%,#150100 84.44%,#140100 100%)"></i>
<i style="background:linear-gradient(#ff0000 0%,#ff0000 2.5%,#ff0000 2.691%,#e0bf00 2.946%,#c6d400 3.329%,#a7f200 3.839%,#8afc00 4.477%,#78f900 5.242%,#68f700 6.263%,#5ef500 7.538%,#5bf500 9.069%,#59f400 10.98%,#59f400 11.73%,#59f400 13.53%,#59f400 14.29%,#5bf500 15.56%,#64f600 16.07%,#76f900 16.45%,#88fc00 16.72%,#91fe00 16.84%,#aeeb00 17.22%,#d0c700 17.73%,#e3bf00 18.75%,#ddbf00 19.77%,#c3d700 20.54%,#c2d800 20.55%,#9bfe00 21.17%,#69f700 21.81%,#41e000 22.45%,#298200 23.09%,#1f3000 23.72%,#1c2300 24.36%,#1b1f00 25%,#1a1c00 25.65%,#1a1b00 25.77%,#1a1900 27.04%,#1a1600 30.87%,#1b1900 32.03%,#1f2400 33.16%,#243b00 34.06%,#264800 34.95%,#243500 35.84%,#1f1d00 36.73%,#1a1000 37.88%,#190d00 39.16%,#180b00 40.96%,#180700 46.17%,#170400 53.71%,#170300 56.38%,#160200 69.13%,#150100 84.44%,#140100 100%)"></i>
<i style="background:linear-gradient(#ff0000 0%,#ff0000 2.207%,#ff0000 2.398%,#debf00 2.653%,#c1da00 3.036%,#a0f900 3.546%,#86fc00 4.184%,#76f900 4.949%,#6bf700 5.969%,#67f700 7.245%,#65f600 8.776%,#65f600 10.69%,#65f600 11.73%,#65f600 13.24%,#65f600 14.29%,#67f700 15.56%,#6ff800 16.07%,#7efb00 16.43%,#80fb00 16.45%,#99ff00 16.84%,#b4e600 17.22%,#d3c300 17.73%,#e5bf00 18.75%,#dfbf00 19.77%,#d2c500 20.26%,#c5d400 20.54%,#9dfc00 21.17%,#6af700 21.81%,#41e000 22.45%,#298100 23.09%,#1f2e00 23.72%,#1c2200 24.36%,#1b1d00 25%,#1a1b00 25.36%,#1a1900 25.77%,#191800 27.04%,#191500 30.87%,#1a1600 31.73%,#1f2300 33.16%,#243900 34.06%,#264500 34.95%,#233200 35.84%,#1e1c00 36.73%,#1a0f00 37.88%,#180d00 39.16%,#180b00 40.66%,#180700 46.17%,#170400 53.42%,#170300 56.38%,#160200 69.13%,#150100 84.44%,#130100 100%)"></i>
<i style="background:linear-gradient(#ff0000 0%,#ff0000 3.214%,#ff0000 3.406%,#e4bf00 3.661%,#cec900 4.043%,#b5e500 4.554%,#99ff00 5.191%,#85fc00 5.957%,#76f900 6.977%,#6bf700 8.253%,#66f700 9.783%,#64f600 11.7%,#64f600 11.73%,#63f600 14.25%,#63f600 14.29%,#65f600 15.56%,#6ef800 16.07%,#7ffb00 16.45%,#9afe00 16.84%,#b6e400 17.22%,#c6d400 17.44%,#d7bf00 17.73%,#eabf00 18.75%,#e4bf00 19.77%,#c9d000 20.54%,#9ff900 21.17%,#98ff00 21.26%,#6bf700 21.81%,#41e100 22.45%,#298000 23.09%,#1e2d00 23.72%,#1b2100 24.36%,#1a1c00 25%,#191800 25.77%,#191800 26.36%,#191700 27.04%,#191500 30.87%,#1c1c00 32.74%,#1e2100 33.16%,#233500 34.06%,#254200 34.95%,#232f00 35.84%,#1e1a00 36.73%,#190f00 37.88%,#180c00 39.16%,#170a00 41.67%,#170600 46.17%,#160300 54.43%,#160300 56.38%,#150200 69.13%,#140100 84.44%,#130100 100%)"></i>
<i style="background:linear-gradient(#ff0000 0%,#ff0000 2.538%,#f35300 2.73%,#e0bf00 2.985%,#c6d300 3.367%,#a8f100 3.878%,#8bfd00 4.515%,#7afa00 5.281%,#6cf800 6.301%,#65f600 7.577%,#62f600 9.107%,#61f600 11.02%,#61f600 11.73%,#61f600 13.57%,#61f600 14.29%,#63f600 15.56%,#6cf700 16.07%,#7cfa00 16.45%,#8ffd00 16.76%,#95fe00 16.84%,#b0ea00 17.22%,#cfc800 17.73%,#e1bf00 18.75%,#dbbf00 19.77%,#c2d900 20.54%,#bfdb00 20.59%,#99ff00 21.17%,#67f700 21.81%,#3fde00 22.45%,#287400 23.09%,#1d2900 23.72%,#1a1d00 24.36%,#191900 25%,#191800 25.69%,#181700 25.77%,#181600 27.04%,#181400 30.87%,#191400 32.07%,#1d1f00 33.16%,#223000 34.06%,#253d00 34.95%,#222b00 35.84%,#1d1900 36.73%,#190e00 37.88%,#170c00 39.16%,#170a00 40.99%,#160600 46.17%,#160300 53.75%,#160300 56.38%,#150200 69.13%,#130100 84.44%,#120100 100%)"></i>
<i style="background:linear-gradient(#ff0000 0%,#ff0000 3.202%,#ff0000 3.393%,#e4bf00 3.648%,#cfc900 4.031%,#b5e500 4.541%,#99ff00 5.179%,#84fb00 5.944%,#73f900 6.964%,#66f600 8.24%,#5ff500 9.77%,#5cf500 11.68%,#5cf500 11.73%,#5bf500 14.23%,#5bf500 14.29%,#5df500 15.56%,#66f600 16.07%,#76f900 16.45%,#91fe00 16.84%,#adec00 17.22%,#bcde00 17.42%,#ceca00 17.73%,#e0bf00 18.75%,#dabf00 19.77%,#c1da00 20.54%,#98ff00 21.17%,#92fe00 21.25%,#66f700 21.81%,#3edc00 22.45%,#266a00 23.09%,#1c2500 23.72%,#191900 24.36%,#181800 25%,#171600 25.77%,#171500 26.35%,#171500 27.04%,#171200 30.87%,#1a1600 32.73%,#1c1b00 33.16%,#212800 34.06%,#233500 34.95%,#212400 35.84%,#1c1600 36.73%,#170d00 37.88%,#160b00 39.16%,#160900 41.66%,#150600 46.17%,#140300 54.41%,#140300 56.38%,#130100 69.13%,#120100 84.44%,#110100 100%)"></i>
<i style="background:linear-gradient(#ff0000 0%,#ff0000 3.074%,#f35800 3.265%,#e3bf00 3.52%,#cdcb00 3.903%,#b2e700 4.413%,#96ff00 5.051%,#84fc00 5.816%,#77f900 6.837%,#6ff800 8.112%,#6cf700 9.643%,#6af700 11.56%,#6af700 11.73%,#6af700 14.11%,#6af700 14.29%,#6cf700 15.56%,#75f900 16.07%,#84fc00 16.45%,#9dfb00 16.84%,#b8e200 17.22%,#bddd00 17.3%,#d7bf00 17.73%,#e9bf00 18.75%,#e3bf00 19.77%,#c9d000 20.54%,#a3f600 21.12%,#9ff900 21.17%,#6bf700 21.81%,#41e100 22.45%,#297d00 23.09%,#1e2c00 23.72%,#1b1f00 24.36%,#1a1b00 25%,#191800 25.77%,#191700 26.22%,#191700 27.04%,#181400 30.87%,#1b1900 32.6%,#1e2100 33.16%,#233300 34.06%,#254000 34.95%,#232d00 35.84%,#1e1a00 36.73%,#190e00 37.88%,#180c00 39.16%,#170a00 41.53%,#170600 46.17%,#160300 54.29%,#160300 56.38%,#150200 69.13%,#140100 84.44%,#120100 100%)"></i>
<i style="background:linear-gradient(#ff0000 0%,#ff0000 2.819%,#ff0000 3.01%,#e2bf00 3.265%,#cacf00 3.648%,#aeeb00 4.158%,#90fe00 4.796%,#80fb00 5.561%,#72f900 6.582%,#6af700 7.857%,#67f700 9.388%,#66f700 11.3%,#66f600 11.73%,#66f600 13.85%,#66f600 14.29%,#67f700 15.56%,#70f800 16.07%,#7ffb00 16.45%,#96fe00 16.84%,#a3f600 17.04%,#afea00 17.22%,#cccc00 17.73%,#ddbf00 18.75%,#d7bf00 19.77%,#bfdc00 20.54%,#aced00 20.87%,#97ff00 21.17%,#66f600 21.81%,#3edd00 22.45%,#277300 23.09%,#1e2a00 23.72%,#1a1d00 24.36%,#191900 25%,#191800 25.77%,#181700 25.97%,#181600 27.04%,#181400 30.87%,#1a1600 32.35%,#1d1f00 33.16%,#223100 34.06%,#253d00 34.95%,#222b00 35.84%,#1d1900 36.73%,#190e00 37.88%,#170c00 39.16%,#170a00 41.28%,#160600 46.17%,#160300 54.03%,#160300 56.38%,#150200 69.13%,#130100 84.44%,#120100 100%)"></i>
<i style="background:linear-gradient(#ff0000 0%,#ff0000 3.202%,#ff0000 3.393%,#e4bf00 3.648%,#cec900 4.031%,#b5e500 4.541%,#99ff00 5.179%,#85fc00 5.944%,#77f900 6.964%,#6ef800 8.24%,#69f700 9.77%,#68f700 11.68%,#67f700 11.73%,#67f700 14.23%,#67f700 14.29%,#69f700 15.56%,#72f800 16.07%,#82fb00 16.45%,#9cfc00 16.84%,#b8e200 17.22%,#c6d300 17.42%,#d8bf00 17.73%,#ebbe00 18.75%,#e5bf00 19.77%,#cacf00 20.54%,#9ff900 21.17%,#99ff00 21.25%,#6af700 21.81%,#40df00 22.45%,#277200 23.09%,#1d2700 23.72%,#1a1a00 24.36%,#191800 25%,#181600 25.77%,#171600 26.35%,#171500 27.04%,#171300 30.87%,#1a1700 32.73%,#1d1d00 33.16%,#212a00 34.06%,#243700 34.95%,#212500 35.84%,#1c1600 36.73%,#180d00 37.88%,#160b00 39.16%,#160900 41.66%,#150600 46.17%,#150300 54.41%,#150300 56.38%,#140100 69.13%,#120100 84.44%,#110100 100%)"></i>
<i style="background:linear-gradient(#ff0000 0%,#ff0000 2.717%,#ff0000 2.908%,#e1bf00 3.163%,#c9d000 3.546%,#aded00 4.056%,#91fe00 4.694%,#85fc00 5.459%,#7efa00 6.48%,#7afa00 7.755%,#79fa00 9.286%,#79fa00 11.2%,#79fa00 11.73%,#79fa00 13.75%,#79fa00 14.29%,#7afa00 15.56%,#81fb00 16.07%,#8ffd00 16.45%,#a3f500 16.84%,#a9f000 16.94%,#b8e100 17.22%,#d2c400 17.73%,#e2bf00 18.75%,#dcbf00 19.77%,#c3d700 20.54%,#b7e300 20.77%,#9bfd00 21.17%,#68f700 21.81%,#3fdd00 22.45%,#277000 23.09%,#1d2700 23.72%,#1a1b00 24.36%,#191800 25%,#181700 25.77%,#181600 25.87%,#181600 27.04%,#171300 30.87%,#191400 32.24%,#1d1e00 33.16%,#222c00 34.06%,#243900 34.95%,#222700 35.84%,#1d1700 36.73%,#180e00 37.88%,#170b00 39.16%,#160900 41.17%,#160600 46.17%,#150300 53.93%,#150300 56.38%,#140100 69.13%,#130100 84.44%,#110100 100%)"></i>
<i style="background:linear-gradient(#ff0000 0%,#ff0000 2.946%,#f35700 3.138%,#e2bf00 3.393%,#cbcd00 3.776%,#b0ea00 4.286%,#92fe00 4.923%,#80fb00 5.689%,#6ff800 6.709%,#64f600 7.985%,#5ef500 9.515%,#5cf500 11.43%,#5cf500 11.73%,#5cf500 13.98%,#5bf500 14.29%,#5df500 15.56%,#66f700 16.07%,#76f900 16.45%,#90fd00 16.84%,#a8f100 17.17%,#abee00 17.22%,#cbcd00 17.73%,#ddbf00 18.75%,#d7bf00 19.77%,#bedc00 20.54%,#a3f600 20.99%,#96ff00 21.17%,#65f600 21.81%,#3edc00 22.45%,#276d00 23.09%,#1d2700 23.72%,#1a1b00 24.36%,#191800 25%,#181700 25.77%,#181600 26.1%,#181500 27.04%,#171300 30.87%,#1a1500 32.47%,#1d1d00 33.16%,#222c00 34.06%,#243900 34.95%,#212700 35.84%,#1c1700 36.73%,#180d00 37.88%,#170b00 39.16%,#160900 41.4%,#160600 46.17%,#150300 54.16%,#150300 56.38%,#140100 69.13%,#130100 84.44%,#110100 100%)"></i>
<i style="background:linear-gradient(#ff0000 0%,#ff0000 11.73%,#ff0000 14.29%,#ff0000 15.56%,#ff0000 16.07%,#ff0000 16.45%,#ff0000 16.84%,#ff0000 17.22%,#ff0000 17.73%,#ff0000 18.75%,#ff0000 19.77%,#ff0000 20.54%,#ff0000 20.73%,#ff0000 20.92%,#f62f00 21.17%,#f17900 21.43%,#ef8600 21.56%,#ed9f00 21.81%,#ebb500 22.07%,#e9bf00 22.45%,#e7bf00 22.7%,#e4bf00 23.09%,#e2bf00 23.47%,#e0bf00 23.72%,#dcbf00 24.36%,#dbbf00 24.49%,#d8bd00 25%,#d4bd00 25.77%,#ccbf00 27.04%,#cbc000 27.3%,#c0c200 29.21%,#b8c000 30.87%,#b4bb00 31.76%,#adb300 33.16%,#a9ae00 34.06%,#a5a800 34.95%,#a1a200 35.84%,#9e9b00 36.73%,#999300 37.88%,#978c00 38.52%,#968900 38.78%,#948500 39.16%,#855800 43.62%,#855600 43.88%,#7f4700 46.17%,#752c00 50.26%,#702900 52.55%,#682400 56.38%,#632000 59.18%,#611f00 60.2%,#511300 69.13%,#4d1300 71.94%,#3f0f00 81.89%,#3c0e00 84.44%,#2d0800 100%)"></i>
<i style="background:linear-gradient(#ff0000 0%,#ff0000 11.73%,#ff0000 14.29%,#ff0000 15.56%,#ff0000 16.07%,#ff0000 16.45%,#ff0000 16.84%,#ff0000 17.22%,#ff0000 17.73%,#ff0000 18.75%,#ff0000 19.77%,#ff0000 20.54%,#ff0000 20.73%,#ff0000 20.92%,#f45100 21.17%,#f08000 21.43%,#ef8c00 21.56%,#eda100 21.81%,#ebb600 22.07%,#e9bf00 22.45%,#e7bf00 22.7%,#e4bf00 23.09%,#e2bf00 23.47%,#e0bf00 23.72%,#dcbf00 24.36%,#dbbf00 24.49%,#d8bd00 25%,#d4bd00 25.77%,#ccbf00 27.04%,#cbc000 27.3%,#c0c200 29.21%,#b8c000 30.87%,#b4bb00 31.76%,#adb400 33.16%,#a9ae00 34.06%,#a5a800 34.95%,#a1a200 35.84%,#9d9c00 36.73%,#999300 37.88%,#958900 38.78%,#948500 39.16%,#855600 43.88%,#7f4700 46.17%,#752c00 50.26%,#682400 56.38%,#632000 59.18%,#511300 69.13%,#4d1300 71.94%,#3c0e00 84.44%,#2c0800 100%)"></i>
<i style="background:linear-gradient(#ff0000 0%,#ff0000 4.324%,#f45200 4.515%,#e8bf00 4.77%,#d7bf00 5.153%,#c3d800 5.663%,#aced00 6.301%,#94fe00 7.066%,#84fb00 8.087%,#78f900 9.362%,#70f800 10.89%,#6ef800 11.73%,#6cf800 12.81%,#6bf700 14.29%,#6ff800 15.36%,#72f900 15.56%,#82fb00 16.07%,#95fe00 16.45%,#abee00 16.84%,#bfdb00 17.22%,#d4c200 17.73%,#dfbf00 18.55%,#dfbf00 18.75%,#d9bf00 19.77%,#c0da00 20.54%,#99ff00 21.17%,#67f700 21.81%,#43e400 22.37%,#3fdf00 22.45%,#298300 23.09%,#203300 23.72%,#1d2600 24.36%,#1b2100 25%,#1a1c00 25.77%,#1a1800 27.04%,#191800 27.47%,#191500 30.87%,#1e2200 33.16%,#222e00 33.85%,#233500 34.06%,#254100 34.95%,#232f00 35.84%,#1e1a00 36.73%,#190e00 37.88%,#180c00 39.16%,#170900 42.78%,#170600 46.17%,#160300 55.54%,#160300 56.38%,#150200 69.13%,#140100 84.44%,#130100 100%)"></i>
<i style="background:linear-gradient(#ff0000 0%,#ff0000 4.005%,#f35700 4.196%,#e6bf00 4.452%,#d5c100 4.834%,#bfdb00 5.344%,#a7f200 5.982%,#8efd00 6.747%,#7efa00 7.768%,#70f800 9.043%,#66f600 10.57%,#62f600 11.73%,#61f600 12.49%,#5ff500 14.29%,#60f600 15.04%,#66f700 15.56%,#75f900 16.07%,#87fc00 16.45%,#9dfb00 16.84%,#b0e900 17.22%,#c4d600 17.73%,#cdcb00 18.23%,#cec900 18.75%,#c9d000 19.77%,#b2e700 20.54%,#8efd00 21.17%,#61f600 21.81%,#51f300 22.05%,#3cda00 22.45%,#287600 23.09%,#1f2f00 23.72%,#1c2300 24.36%,#1b1e00 25%,#1a1a00 25.77%,#191800 27.04%,#191700 27.16%,#191500 30.87%,#1e2100 33.16%,#202700 33.53%,#233400 34.06%,#254100 34.95%,#232e00 35.84%,#1e1a00 36.73%,#190e00 37.88%,#180c00 39.16%,#170900 42.46%,#170600 46.17%,#160300 55.22%,#160300 56.38%,#150200 69.13%,#140100 84.44%,#130100 100%)"></i>
<i style="background:linear-gradient(#ff0000 0%,#ff0000 3.584%,#ff0000 3.776%,#e5bf00 4.031%,#d2c500 4.413%,#bae000 4.923%,#a0f800 5.561%,#8afc00 6.327%,#7bfa00 7.347%,#6ff800 8.622%,#69f700 10.15%,#66f700 11.73%,#66f600 12.07%,#65f600 14.29%,#65f600 14.62%,#6cf700 15.56%,#79fa00 16.07%,#8afc00 16.45%,#9dfb00 16.84%,#afeb00 17.22%,#c0da00 17.73%,#c2d800 17.81%,#cacf00 18.75%,#c5d500 19.77%,#afeb00 20.54%,#8bfd00 21.17%,#6bf700 21.63%,#5ff500 21.81%,#3bd800 22.45%,#266800 23.09%,#1d2900 23.72%,#1b1e00 24.36%,#191900 25%,#191800 25.77%,#181600 26.73%,#181600 27.04%,#181400 30.87%,#1d1e00 33.11%,#1d1f00 33.16%,#222f00 34.06%,#243b00 34.95%,#222900 35.84%,#1d1800 36.73%,#180e00 37.88%,#170c00 39.16%,#160900 42.04%,#160600 46.17%,#150300 54.8%,#150300 56.38%,#140100 69.13%,#130100 84.44%,#120100 100%)"></i>
<i style="background:linear-gradient(#ff0000 0%,#ff0000 3.724%,#f35300 3.916%,#e6bf00 4.171%,#d3c400 4.554%,#bcde00 5.064%,#a2f600 5.702%,#8bfd00 6.467%,#7bfa00 7.487%,#6df800 8.763%,#64f600 10.29%,#61f600 11.73%,#60f600 12.21%,#5ff500 14.29%,#5ff500 14.76%,#66f700 15.56%,#76f900 16.07%,#88fc00 16.45%,#9efa00 16.84%,#b2e800 17.22%,#c6d400 17.73%,#cbcd00 17.95%,#d0c700 18.75%,#cbcd00 19.77%,#b4e600 20.54%,#8ffd00 21.17%,#64f600 21.77%,#61f600 21.81%,#3ddb00 22.45%,#287500 23.09%,#1f2e00 23.72%,#1c2200 24.36%,#1b1d00 25%,#1a1900 25.77%,#191800 26.88%,#191700 27.04%,#191500 30.87%,#1e2100 33.16%,#1f2300 33.25%,#233500 34.06%,#254100 34.95%,#232f00 35.84%,#1e1a00 36.73%,#190e00 37.88%,#180c00 39.16%,#170900 42.18%,#170600 46.17%,#160300 54.94%,#160300 56.38%,#150200 69.13%,#140100 84.44%,#130100 100%)"></i>
<i style="background:linear-gradient(#ff0000 0%,#ff0000 4.337%,#f35200 4.528%,#e8bf00 4.783%,#d7bf00 5.166%,#c3d700 5.676%,#adec00 6.314%,#99ff00 7.079%,#8dfd00 8.099%,#87fc00 9.375%,#84fc00 10.91%,#84fb00 11.73%,#83fb00 12.82%,#83fb00 14.29%,#86fc00 15.37%,#88fc00 15.56%,#91fe00 16.07%,#9dfb00 16.45%,#abee00 16.84%,#b6e400 17.22%,#c3d800 17.73%,#cacf00 18.56%,#cace00 18.75%,#c5d400 19.77%,#b1e900 20.54%,#8efd00 21.17%,#60f600 21.81%,#3fde00 22.39%,#3dda00 22.45%,#297f00 23.09%,#203400 23.72%,#1d2900 24.36%,#1c2300 25%,#1b1e00 25.77%,#1a1b00 27.04%,#1a1a00 27.49%,#1a1600 30.87%,#1f2300 33.16%,#233300 33.86%,#243900 34.06%,#264500 34.95%,#233200 35.84%,#1e1c00 36.73%,#1a1000 37.88%,#180d00 39.16%,#180900 42.79%,#180600 46.17%,#170300 55.55%,#170300 56.38%,#160200 69.13%,#150100 84.44%,#130100 100%)"></i>
<i style="background:linear-gradient(#ff0000 0%,#ff0000 3.571%,#ff0000 3.763%,#e6bf00 4.018%,#d2c500 4.401%,#bae000 4.911%,#a0f800 5.548%,#8afd00 6.314%,#7bfa00 7.334%,#70f800 8.61%,#6bf700 10.14%,#68f700 11.73%,#68f700 12.05%,#67f700 14.29%,#68f700 14.6%,#6ef800 15.56%,#7cfa00 16.07%,#8cfd00 16.45%,#a0f900 16.84%,#b1e900 17.22%,#c2d800 17.73%,#c4d600 17.79%,#cccc00 18.75%,#c7d200 19.77%,#b1e900 20.54%,#8dfd00 21.17%,#6ef800 21.62%,#60f500 21.81%,#3cd900 22.45%,#277000 23.09%,#1e2c00 23.72%,#1b2100 24.36%,#1a1c00 25%,#191800 25.77%,#191700 26.72%,#191700 27.04%,#191500 30.87%,#1e2000 33.1%,#1e2100 33.16%,#233400 34.06%,#254000 34.95%,#232e00 35.84%,#1e1a00 36.73%,#190e00 37.88%,#180c00 39.16%,#170900 42.03%,#170600 46.17%,#160300 54.78%,#160300 56.38%,#150200 69.13%,#140100 84.44%,#130100 100%)"></i>
<i style="background:linear-gradient(#ff0000 0%,#ff0000 3.673%,#ff0000 3.865%,#e6bf00 4.12%,#d3c400 4.503%,#bcdf00 5.013%,#a2f700 5.651%,#8bfd00 6.416%,#7bfa00 7.436%,#6ef800 8.712%,#66f700 10.24%,#63f600 11.73%,#63f600 12.16%,#62f600 14.29%,#62f600 14.71%,#69f700 15.56%,#78fa00 16.07%,#8bfd00 16.45%,#a1f800 16.84%,#b5e500 17.22%,#c8d100 17.73%,#cccb00 17.9%,#d3c400 18.75%,#cdca00 19.77%,#b6e300 20.54%,#92fe00 21.17%,#6af700 21.72%,#64f600 21.81%,#3fde00 22.45%,#2a8500 23.09%,#203500 23.72%,#1d2900 24.36%,#1c2400 25%,#1b2000 25.77%,#1b1e00 26.82%,#1b1d00 27.04%,#1b1900 30.87%,#202700 33.16%,#202800 33.2%,#254200 34.06%,#274e00 34.95%,#253a00 35.84%,#201f00 36.73%,#1b1300 37.88%,#1a0e00 39.16%,#190a00 42.13%,#190700 46.17%,#180400 54.89%,#180300 56.38%,#170200 69.13%,#160100 84.44%,#150100 100%)"></i>
<i style="background:linear-gradient(#ff0000 0%,#ff0000 3.673%,#f35500 3.865%,#e5bf00 4.12%,#d2c400 4.503%,#bbdf00 5.013%,#a1f700 5.651%,#8afc00 6.416%,#7afa00 7.436%,#6cf800 8.712%,#64f600 10.24%,#61f600 11.73%,#60f600 12.16%,#5ff500 14.29%,#5ff500 14.71%,#66f700 15.56%,#75f900 16.07%,#87fc00 16.45%,#9cfc00 16.84%,#b0ea00 17.22%,#c3d700 17.73%,#c7d200 17.9%,#cdca00 18.75%,#c8d100 19.77%,#b1e800 20.54%,#8dfd00 21.17%,#67f700 21.72%,#60f600 21.81%,#3cda00 22.45%,#277300 23.09%,#1e2d00 23.72%,#1c2200 24.36%,#1a1d00 25%,#1a1900 25.77%,#191800 26.82%,#191700 27.04%,#191500 30.87%,#1e2100 33.16%,#1e2200 33.2%,#233500 34.06%,#254100 34.95%,#232f00 35.84%,#1e1a00 36.73%,#190e00 37.88%,#180c00 39.16%,#170900 42.13%,#170600 46.17%,#160300 54.89%,#160300 56.38%,#150200 69.13%,#140100 84.44%,#130100 100%)"></i>
<i style="background:linear-gradient(#ff0000 0%,#ff0000 3.151%,#f35500 3.342%,#e3bf00 3.597%,#ceca00 3.98%,#b4e600 4.49%,#9afe00 5.128%,#8bfd00 5.893%,#82fb00 6.913%,#7efa00 8.189%,#7cfa00 9.719%,#7cfa00 11.63%,#7cfa00 11.73%,#7bfa00 14.18%,#7bfa00 14.29%,#81fb00 15.56%,#8dfd00 16.07%,#9bfd00 16.45%,#aced00 16.84%,#bae000 17.22%,#bfdb00 17.37%,#c9cf00 17.73%,#d2c500 18.75%,#cdcb00 19.77%,#b7e300 20.54%,#93fe00 21.17%,#91fe00 21.2%,#64f600 21.81%,#40df00 22.45%,#2a8c00 23.09%,#213900 23.72%,#1e2d00 24.36%,#1d2800 25%,#1c2400 25.77%,#1c2300 26.3%,#1c2200 27.04%,#1c1e00 30.87%,#1f2500 32.68%,#212c00 33.16%,#264b00 34.06%,#295600 34.95%,#264300 35.84%,#212200 36.73%,#1d1600 37.88%,#1b1100 39.16%,#1b0d00 41.61%,#1a0800 46.17%,#1a0400 54.36%,#1a0400 56.38%,#180200 69.13%,#170100 84.44%,#160100 100%)"></i>
<i style="background:linear-gradient(#ff0000 0%,#ff0000 4.592%,#f35500 4.783%,#e8bf00 5.038%,#d8bf00 5.421%,#c5d500 5.931%,#afea00 6.569%,#99ff00 7.334%,#88fc00 8.355%,#7dfa00 9.63%,#76f900 11.16%,#74f900 11.73%,#72f900 13.07%,#71f800 14.29%,#77f900 15.56%,#78f900 15.62%,#83fb00 16.07%,#92fe00 16.45%,#a3f500 16.84%,#b2e700 17.22%,#c2d800 17.73%,#cbcd00 18.75%,#cbcd00 18.81%,#c6d300 19.77%,#b1e900 20.54%,#8efd00 21.17%,#61f600 21.81%,#3edc00 22.45%,#36d100 22.64%,#2a8a00 23.09%,#223e00 23.72%,#1f2f00 24.36%,#1e2900 25%,#1c2400 25.77%,#1c2000 27.04%,#1b1e00 27.74%,#1b1900 30.87%,#202600 33.16%,#254000 34.06%,#254100 34.12%,#274b00 34.95%,#243800 35.84%,#1f1e00 36.73%,#1b1200 37.88%,#190d00 39.16%,#190900 43.05%,#190700 46.17%,#180300 55.8%,#180300 56.38%,#170200 69.13%,#150100 84.44%,#140100 100%)"></i>
<i style="background:linear-gradient(#ff0000 0%,#ff0000 6.11%,#f35300 6.301%,#ed9f00 6.556%,#e5bf00 6.939%,#dabf00 7.449%,#cdca00 8.087%,#c0db00 8.852%,#b0e900 9.872%,#9ff900 11.15%,#99ff00 11.73%,#91fe00 12.68%,#8afc00 14.29%,#89fc00 14.59%,#89fc00 15.56%,#90fe00 16.07%,#9bfd00 16.45%,#a8f100 16.84%,#b2e800 17.14%,#b4e600 17.22%,#c1d900 17.73%,#c9d000 18.75%,#c4d600 19.77%,#b7e300 20.33%,#afea00 20.54%,#8dfd00 21.17%,#65f600 21.81%,#50f300 22.45%,#48ec00 23.09%,#44e600 23.72%,#42e200 24.16%,#41e100 24.36%,#3eda00 25%,#3bd200 25.77%,#37c500 27.04%,#30a000 29.26%,#2c8000 30.87%,#2a6800 33.16%,#2c6d00 34.06%,#2c6b00 34.95%,#2b5e00 35.64%,#2a5900 35.84%,#253c00 36.73%,#212100 37.88%,#1f1900 39.16%,#1c0b00 44.57%,#1b0900 46.17%,#180400 56.38%,#180300 57.32%,#170200 69.13%,#150100 84.44%,#140100 100%)"></i>
<i style="background:linear-gradient(#ff0000 0%,#ff0000 5.408%,#f35200 5.599%,#eda700 5.855%,#e3bf00 6.237%,#d7bf00 6.747%,#c9cf00 7.385%,#bae000 8.151%,#a9f000 9.171%,#96fe00 10.45%,#88fc00 11.73%,#86fc00 11.98%,#7afa00 13.89%,#78fa00 14.29%,#77f900 15.56%,#80fb00 16.07%,#8dfd00 16.44%,#8dfd00 16.45%,#9efa00 16.84%,#aeeb00 17.22%,#bfdc00 17.73%,#c8d100 18.75%,#c4d500 19.63%,#c3d800 19.77%,#adec00 20.54%,#8bfd00 21.17%,#61f600 21.81%,#47ea00 22.45%,#3ddb00 23.09%,#3ad700 23.46%,#38d400 23.72%,#35d000 24.36%,#33c900 25%,#30b100 25.77%,#2c8f00 27.04%,#286d00 28.56%,#234100 30.87%,#233b00 33.16%,#264c00 34.06%,#285100 34.94%,#285000 34.95%,#253d00 35.84%,#202100 36.73%,#1c1500 37.88%,#1a0f00 39.16%,#180800 43.86%,#170600 46.17%,#160300 56.38%,#160300 56.62%,#140100 69.13%,#130100 84.44%,#120100 100%)"></i>
<i style="background:linear-gradient(#ff0000 0%,#ff0000 4.337%,#f35500 4.528%,#e7bf00 4.783%,#d7bf00 5.166%,#c2d800 5.676%,#aced00 6.314%,#94fe00 7.079%,#84fb00 8.099%,#78f900 9.375%,#70f800 10.91%,#6ef800 11.73%,#6cf800 12.82%,#6bf700 14.29%,#6ff800 15.37%,#72f800 15.56%,#80fb00 16.07%,#91fe00 16.45%,#a5f400 16.84%,#b7e300 17.22%,#c9cf00 17.73%,#d3c300 18.56%,#d3c300 18.75%,#cec900 19.77%,#b7e300 20.54%,#92fe00 21.17%,#62f600 21.81%,#40df00 22.39%,#3ddb00 22.45%,#287800 23.09%,#1f3000 23.72%,#1c2400 24.36%,#1b1e00 25%,#1a1a00 25.77%,#191700 27.04%,#191700 27.49%,#181400 30.87%,#1d1f00 33.16%,#212a00 33.86%,#223000 34.06%,#253d00 34.95%,#222a00 35.84%,#1d1900 36.73%,#190e00 37.88%,#170c00 39.16%,#170800 42.79%,#160600 46.17%,#160300 55.55%,#150300 56.38%,#140100 69.13%,#130100 84.44%,#120100 100%)"></i>
<i style="background:linear-gradient(#ff0000 0%,#ff0000 3.814%,#ff0000 4.005%,#e6bf00 4.26%,#d4c200 4.643%,#bddd00 5.153%,#a5f400 5.791%,#8efd00 6.556%,#80fb00 7.577%,#76f900 8.852%,#71f800 10.38%,#6ff800 11.73%,#6ff800 12.3%,#6ef800 14.29%,#6ff800 14.85%,#74f900 15.56%,#80fb00 16.07%,#8ffd00 16.45%,#a1f800 16.84%,#b0ea00 17.22%,#c0db00 17.73%,#c5d500 18.04%,#c8d100 18.75%,#c4d700 19.77%,#aeeb00 20.54%,#8cfd00 21.17%,#60f500 21.81%,#5cf500 21.86%,#3cda00 22.45%,#287c00 23.09%,#203200 23.72%,#1d2700 24.36%,#1c2200 25%,#1b1e00 25.77%,#1a1b00 26.96%,#1a1b00 27.04%,#1a1700 30.87%,#1f2500 33.16%,#202800 33.34%,#243d00 34.06%,#264900 34.95%,#243600 35.84%,#1f1d00 36.73%,#1a1100 37.88%,#190d00 39.16%,#190a00 42.27%,#180700 46.17%,#180400 55.03%,#170300 56.38%,#160200 69.13%,#150100 84.44%,#140100 100%)"></i>
<i style="background:linear-gradient(#ff0000 0%,#ff0000 4.362%,#f35500 4.554%,#e8bf00 4.809%,#d7bf00 5.191%,#c3d800 5.702%,#aced00 6.339%,#96fe00 7.105%,#86fc00 8.125%,#7cfa00 9.401%,#76f900 10.93%,#75f900 11.73%,#73f900 12.84%,#73f900 14.29%,#76f900 15.4%,#78fa00 15.56%,#84fb00 16.07%,#91fe00 16.45%,#a2f700 16.84%,#b0e900 17.22%,#bfdb00 17.73%,#c8d200 18.58%,#c8d100 18.75%,#c3d700 19.77%,#aeeb00 20.54%,#8bfd00 21.17%,#5ff500 21.81%,#3edd00 22.41%,#3cda00 22.45%,#298100 23.09%,#213600 23.72%,#1e2a00 24.36%,#1c2500 25%,#1b2000 25.77%,#1b1c00 27.04%,#1a1b00 27.51%,#1a1700 30.87%,#1f2500 33.16%,#233700 33.89%,#243c00 34.06%,#264800 34.95%,#243500 35.84%,#1f1d00 36.73%,#1a1000 37.88%,#190d00 39.16%,#180900 42.82%,#180700 46.17%,#170300 55.57%,#170300 56.38%,#160200 69.13%,#150100 84.44%,#140100 100%)"></i>
<i style="background:linear-gradient(#ff0000 0%,#ff0000 3.75%,#ff0000 3.941%,#e6bf00 4.196%,#d3c300 4.579%,#bcde00 5.089%,#a4f500 5.727%,#8dfd00 6.492%,#7ffb00 7.513%,#75f900 8.788%,#70f800 10.32%,#6ef800 11.73%,#6ef800 12.23%,#6df800 14.29%,#6ef800 14.78%,#74f900 15.56%,#80fb00 16.07%,#8ffd00 16.45%,#a0f800 16.84%,#b0ea00 17.22%,#c0da00 17.73%,#c5d500 17.97%,#c9d000 18.75%,#c4d600 19.77%,#afeb00 20.54%,#8cfd00 21.17%,#60f600 21.8%,#5ff500 21.81%,#3cd900 22.45%,#287600 23.09%,#1f2f00 23.72%,#1c2400 24.36%,#1b1f00 25%,#1a1b00 25.77%,#1a1900 26.9%,#1a1800 27.04%,#191500 30.87%,#1f2300 33.16%,#1f2500 33.28%,#233800 34.06%,#264500 34.95%,#233200 35.84%,#1e1c00 36.73%,#1a0f00 37.88%,#180d00 39.16%,#180900 42.21%,#180600 46.17%,#170300 54.96%,#170300 56.38%,#160200 69.13%,#140100 84.44%,#130100 100%)"></i>
<i style="background:linear-gradient(#ff0000 0%,#ff0000 2.283%,#ff0000 2.474%,#debf00 2.73%,#c2d800 3.112%,#a2f700 3.622%,#86fc00 4.26%,#76f900 5.026%,#6af700 6.046%,#64f600 7.321%,#63f600 8.852%,#62f600 10.77%,#62f600 11.73%,#62f600 13.32%,#62f600 14.29%,#69f700 15.56%,#78fa00 16.07%,#8afc00 16.45%,#8cfd00 16.51%,#9ffa00 16.84%,#b1e800 17.22%,#c4d600 17.73%,#cec900 18.75%,#c9d000 19.77%,#bbdf00 20.33%,#b3e700 20.54%,#8ffd00 21.17%,#61f600 21.81%,#3ddb00 22.45%,#287700 23.09%,#1f2e00 23.72%,#1c2300 24.36%,#1b1f00 25%,#1a1c00 25.43%,#1a1b00 25.77%,#1a1800 27.04%,#191600 30.87%,#1a1700 31.81%,#1f2400 33.16%,#243b00 34.06%,#264700 34.95%,#243400 35.84%,#1f1d00 36.73%,#1a1000 37.88%,#190d00 39.16%,#180b00 40.74%,#180700 46.17%,#170400 53.49%,#170300 56.38%,#160200 69.13%,#150100 84.44%,#140100 100%)"></i>
<i style="background:linear-gradient(#ff0000 0%,#ff0000 4.401%,#ff0000 4.592%,#e8bf00 4.847%,#d8bf00 5.23%,#c4d700 5.74%,#adec00 6.378%,#96ff00 7.143%,#86fc00 8.163%,#7afa00 9.439%,#73f900 10.97%,#72f800 11.73%,#70f800 12.88%,#6ff800 14.29%,#73f900 15.43%,#75f900 15.56%,#82fb00 16.07%,#93fe00 16.45%,#a5f300 16.84%,#b6e400 17.22%,#c8d200 17.73%,#d1c600 18.62%,#d1c600 18.75%,#cccc00 19.77%,#b6e400 20.54%,#92fe00 21.17%,#64f600 21.81%,#40e000 22.45%,#2c9500 23.09%,#234900 23.72%,#203400 24.36%,#1f2e00 25%,#1e2900 25.77%,#1d2500 27.04%,#1d2400 27.55%,#1c1f00 30.87%,#222e00 33.16%,#264900 33.93%,#264d00 34.06%,#295800 34.95%,#264400 35.84%,#212300 36.73%,#1d1600 37.88%,#1b1100 39.16%,#1b0c00 42.86%,#1b0800 46.17%,#1a0400 55.61%,#1a0400 56.38%,#190200 69.13%,#170100 84.44%,#160100 100%)"></i>
<i style="background:linear-gradient(#ff0000 0%,#ff0000 3.023%,#f35500 3.214%,#e3bf00 3.469%,#cccc00 3.852%,#b2e700 4.362%,#98ff00 5%,#8bfd00 5.765%,#83fb00 6.786%,#80fb00 8.061%,#7efb00 9.592%,#7efa00 11.51%,#7efa00 11.73%,#7efa00 14.06%,#7efa00 14.29%,#83fb00 15.56%,#8efd00 16.07%,#9bfd00 16.45%,#abee00 16.84%,#b8e200 17.22%,#b9e100 17.24%,#c6d400 17.73%,#ceca00 18.75%,#c9d000 19.77%,#b4e600 20.54%,#98ff00 21.07%,#91fe00 21.17%,#64f600 21.81%,#40e000 22.45%,#2c9500 23.09%,#234600 23.72%,#203300 24.36%,#1f2e00 25%,#1e2a00 25.77%,#1e2900 26.17%,#1e2700 27.04%,#1d2300 30.87%,#202900 32.55%,#233700 33.16%,#285500 34.06%,#2a5f00 34.95%,#284c00 35.84%,#232b00 36.73%,#1e1900 37.88%,#1d1400 39.16%,#1c1000 41.48%,#1c0a00 46.17%,#1b0500 54.23%,#1b0500 56.38%,#1a0200 69.13%,#190200 84.44%,#170100 100%)"></i>
<i style="background:linear-gradient(#ff0000 0%,#ff0000 3.214%,#f35800 3.406%,#e4bf00 3.661%,#cec900 4.043%,#b5e500 4.554%,#99ff00 5.191%,#87fc00 5.957%,#7afa00 6.977%,#73f900 8.253%,#6ff800 9.783%,#6ef800 11.7%,#6ef800 11.73%,#6ef800 14.25%,#6ef800 14.29%,#74f900 15.56%,#82fb00 16.07%,#92fe00 16.45%,#a5f400 16.84%,#b5e500 17.22%,#bedd00 17.44%,#c6d300 17.73%,#d0c700 18.75%,#cbce00 19.77%,#b4e600 20.54%,#90fd00 21.17%,#8afc00 21.26%,#62f600 21.81%,#3dda00 22.45%,#277200 23.09%,#1e2c00 23.72%,#1b2100 24.36%,#1a1c00 25%,#191900 25.77%,#191800 26.36%,#191700 27.04%,#191500 30.87%,#1c1c00 32.74%,#1e2200 33.16%,#233500 34.06%,#254200 34.95%,#232f00 35.84%,#1e1b00 36.73%,#190f00 37.88%,#180c00 39.16%,#180a00 41.67%,#170600 46.17%,#160300 54.43%,#160300 56.38%,#150200 69.13%,#140100 84.44%,#130100 100%)"></i>
<i style="background:linear-gradient(#ff0000 0%,#ff0000 2.602%,#ff0000 2.793%,#e1bf00 3.048%,#c7d200 3.431%,#a9f000 3.941%,#8dfd00 4.579%,#7dfa00 5.344%,#71f800 6.365%,#6bf700 7.64%,#69f700 9.171%,#69f700 11.08%,#69f700 11.73%,#69f700 13.64%,#69f700 14.29%,#70f800 15.56%,#7dfa00 16.07%,#8efd00 16.45%,#a1f800 16.82%,#a1f700 16.84%,#b3e700 17.22%,#c4d600 17.73%,#ceca00 18.75%,#c9d000 19.77%,#b2e700 20.54%,#adec00 20.65%,#8efd00 21.17%,#60f500 21.81%,#3bd800 22.45%,#266400 23.09%,#1d2600 23.72%,#1a1a00 24.36%,#191800 25%,#181700 25.75%,#181700 25.77%,#171500 27.04%,#171300 30.87%,#191400 32.13%,#1d1d00 33.16%,#222c00 34.06%,#243900 34.95%,#212700 35.84%,#1c1700 36.73%,#180d00 37.88%,#170b00 39.16%,#160a00 41.06%,#160600 46.17%,#150300 53.81%,#150300 56.38%,#140100 69.13%,#130100 84.44%,#110100 100%)"></i>
<i style="background:linear-gradient(#ff0000 0%,#ff0000 2.015%,#ff0000 2.207%,#dcbf00 2.462%,#bdde00 2.844%,#99ff00 3.355%,#7ffb00 3.992%,#6bf700 4.758%,#59f400 5.778%,#4ff300 7.054%,#4cf100 8.584%,#4bf000 10.5%,#4bef00 11.73%,#4aef00 13.05%,#4aef00 14.29%,#54f300 15.56%,#66f600 16.07%,#6ff800 16.24%,#7cfa00 16.45%,#96ff00 16.84%,#aeeb00 17.22%,#c6d400 17.73%,#d2c500 18.75%,#cccc00 19.77%,#c5d500 20.06%,#b3e600 20.54%,#8dfd00 21.17%,#5ff500 21.81%,#39d600 22.45%,#234d00 23.09%,#1a1b00 23.72%,#171600 24.36%,#161400 25%,#161400 25.17%,#151300 25.77%,#151200 27.04%,#141000 30.87%,#151000 31.54%,#1a1500 33.16%,#1f2200 34.06%,#212700 34.95%,#1f1e00 35.84%,#1a1000 36.73%,#150b00 37.88%,#140900 39.16%,#130800 40.47%,#130500 46.17%,#120300 53.23%,#120200 56.38%,#110100 69.13%,#100100 84.44%,#0f0100 100%)"></i>
<i style="background:linear-gradient(#ff0000 0%,#ff0000 2.321%,#f35300 2.513%,#debf00 2.768%,#c2d800 3.151%,#a2f600 3.661%,#87fc00 4.298%,#76f900 5.064%,#69f700 6.084%,#63f600 7.36%,#61f600 8.89%,#60f600 10.8%,#60f600 11.73%,#60f600 13.35%,#60f600 14.29%,#68f700 15.56%,#77f900 16.07%,#89fc00 16.45%,#8efd00 16.54%,#9ffa00 16.84%,#b2e800 17.22%,#c5d500 17.73%,#cfc800 18.75%,#cacf00 19.77%,#bae000 20.37%,#b3e600 20.54%,#8ffd00 21.17%,#61f600 21.81%,#3cda00 22.45%,#276e00 23.09%,#1e2a00 23.72%,#1b1e00 24.36%,#1a1a00 25%,#191800 25.47%,#191800 25.77%,#181700 27.04%,#181400 30.87%,#191400 31.85%,#1e2000 33.16%,#233300 34.06%,#254000 34.95%,#232d00 35.84%,#1d1a00 36.73%,#190e00 37.88%,#180c00 39.16%,#170a00 40.78%,#170600 46.17%,#160300 53.53%,#160300 56.38%,#150200 69.13%,#140100 84.44%,#120100 100%)"></i>
<i style="background:linear-gradient(#ff0000 0%,#ff0000 2.487%,#ff0000 2.679%,#e0bf00 2.934%,#c6d400 3.316%,#a7f200 3.827%,#88fc00 4.464%,#74f900 5.23%,#5ff500 6.25%,#4bf000 7.526%,#3cda00 9.056%,#35cf00 10.97%,#34cd00 11.73%,#32c600 13.52%,#32c500 14.29%,#3cd900 15.56%,#50f300 16.07%,#69f700 16.45%,#7cfa00 16.71%,#86fc00 16.84%,#a2f700 17.22%,#bcde00 17.73%,#c9d000 18.75%,#c3d700 19.77%,#aced00 20.54%,#89fc00 21.17%,#5ff500 21.81%,#3ddb00 22.45%,#298100 23.09%,#203400 23.72%,#1d2900 24.36%,#1c2400 25%,#1c2100 25.64%,#1b2000 25.77%,#1b1e00 27.04%,#1b1b00 30.87%,#1c1d00 32.02%,#202800 33.16%,#254500 34.06%,#285000 34.95%,#253d00 35.84%,#202000 36.73%,#1c1400 37.88%,#1a0f00 39.16%,#1a0c00 40.94%,#190700 46.17%,#190400 53.7%,#190400 56.38%,#180200 69.13%,#160100 84.44%,#150100 100%)"></i>
<i style="background:linear-gradient(#ff0000 0%,#ff0000 2.168%,#f35600 2.36%,#ddbf00 2.615%,#bfdb00 2.997%,#9dfb00 3.508%,#81fb00 4.145%,#6cf800 4.911%,#56f400 5.931%,#43e400 7.207%,#37d300 8.737%,#33c900 10.65%,#32c300 11.73%,#31be00 13.2%,#31be00 14.29%,#3bd900 15.56%,#50f300 16.07%,#65f600 16.39%,#6af700 16.45%,#87fc00 16.84%,#a3f500 17.22%,#bedc00 17.73%,#cbcd00 18.75%,#c5d400 19.77%,#bae000 20.22%,#aeec00 20.54%,#8afc00 21.17%,#60f500 21.81%,#3ddb00 22.45%,#287900 23.09%,#1f3000 23.72%,#1c2400 24.36%,#1b2000 25%,#1b1e00 25.32%,#1a1c00 25.77%,#1a1a00 27.04%,#1a1700 30.87%,#1b1800 31.7%,#1f2500 33.16%,#243d00 34.06%,#274a00 34.95%,#243700 35.84%,#1f1e00 36.73%,#1b1100 37.88%,#190d00 39.16%,#190c00 40.62%,#180700 46.17%,#180400 53.38%,#180300 56.38%,#170200 69.13%,#150100 84.44%,#140100 100%)"></i>
<i style="background:linear-gradient(#ff0000 0%,#ff0000 2.755%,#f35600 2.946%,#e1bf00 3.202%,#c9d000 3.584%,#aced00 4.094%,#8dfd00 4.732%,#7afa00 5.497%,#66f600 6.518%,#54f300 7.793%,#47ea00 9.324%,#41e100 11.24%,#40e000 11.73%,#3fde00 13.79%,#3fde00 14.29%,#49ec00 15.56%,#5df500 16.07%,#76f900 16.45%,#93fe00 16.84%,#9dfb00 16.98%,#aeeb00 17.22%,#c8d100 17.73%,#d5c100 18.75%,#cfc800 19.77%,#b6e400 20.54%,#a8f100 20.8%,#90fe00 21.17%,#63f600 21.81%,#3ddb00 22.45%,#277100 23.09%,#1e2a00 23.72%,#1b1f00 24.36%,#1a1a00 25%,#191800 25.77%,#191800 25.91%,#181700 27.04%,#181400 30.87%,#1a1600 32.28%,#1e2000 33.16%,#233300 34.06%,#253f00 34.95%,#222d00 35.84%,#1d1a00 36.73%,#190e00 37.88%,#180c00 39.16%,#170a00 41.21%,#170600 46.17%,#160300 53.97%,#160300 56.38%,#150200 69.13%,#140100 84.44%,#120100 100%)"></i>
<i style="background:linear-gradient(#ff0000 0%,#ff0000 2.309%,#ff0000 2.5%,#dfbf00 2.755%,#c3d800 3.138%,#a2f600 3.648%,#86fc00 4.286%,#74f900 5.051%,#64f600 6.071%,#5bf500 7.347%,#57f400 8.878%,#56f400 10.79%,#56f400 11.73%,#56f400 13.34%,#56f400 14.29%,#5ef500 15.56%,#6ef800 16.07%,#82fb00 16.45%,#86fc00 16.53%,#99ff00 16.84%,#adec00 17.22%,#c2d800 17.73%,#cdcb00 18.75%,#c7d200 19.77%,#b8e200 20.36%,#b0e900 20.54%,#8bfd00 21.17%,#5ef500 21.81%,#39d500 22.45%,#244e00 23.09%,#1a1c00 23.72%,#171700 24.36%,#161500 25%,#161400 25.46%,#151300 25.77%,#151200 27.04%,#151000 30.87%,#161100 31.84%,#1a1600 33.16%,#1f2300 34.06%,#222a00 34.95%,#1f1f00 35.84%,#1a1100 36.73%,#160c00 37.88%,#140a00 39.16%,#140800 40.77%,#130500 46.17%,#130300 53.52%,#130200 56.38%,#120100 69.13%,#100100 84.44%,#0f0100 100%)"></i>
<i style="background:linear-gradient(#ff0000 0%,#ff0000 2.806%,#ff0000 2.997%,#e2bf00 3.253%,#cace00 3.635%,#aeec00 4.145%,#8ffd00 4.783%,#7bfa00 5.548%,#67f700 6.569%,#55f400 7.844%,#48ec00 9.375%,#42e200 11.29%,#41e100 11.73%,#3fdf00 13.84%,#3fde00 14.29%,#49ed00 15.56%,#5cf500 16.07%,#74f900 16.45%,#90fe00 16.84%,#9efb00 17.03%,#aaef00 17.22%,#c4d600 17.73%,#d0c700 18.75%,#cace00 19.77%,#b2e700 20.54%,#a1f700 20.85%,#8dfd00 21.17%,#61f600 21.81%,#3cda00 22.45%,#276b00 23.09%,#1d2900 23.72%,#1a1d00 24.36%,#191900 25%,#181700 25.77%,#181700 25.96%,#181600 27.04%,#181400 30.87%,#1a1500 32.33%,#1d1f00 33.16%,#223000 34.06%,#253d00 34.95%,#222a00 35.84%,#1d1900 36.73%,#190e00 37.88%,#170c00 39.16%,#170a00 41.26%,#160600 46.17%,#160300 54.02%,#160300 56.38%,#150200 69.13%,#130100 84.44%,#120100 100%)"></i>
<i style="background:linear-gradient(#ff0000 0%,#ff0000 2.653%,#ff0000 2.844%,#e1bf00 3.099%,#c8d100 3.482%,#abee00 3.992%,#8cfd00 4.63%,#7afa00 5.395%,#69f700 6.416%,#5ef500 7.691%,#58f400 9.222%,#56f400 11.14%,#56f400 11.73%,#56f400 13.69%,#56f400 14.29%,#5ef500 15.56%,#6df800 16.07%,#80fb00 16.45%,#96ff00 16.84%,#98ff00 16.88%,#aaef00 17.22%,#bedc00 17.73%,#c8d000 18.75%,#c3d700 19.77%,#aeec00 20.54%,#a6f300 20.7%,#8bfd00 21.17%,#61f600 21.81%,#3edd00 22.45%,#2a8a00 23.09%,#213a00 23.72%,#1f2e00 24.36%,#1e2900 25%,#1d2500 25.77%,#1d2500 25.8%,#1c2300 27.04%,#1c1f00 30.87%,#1e2200 32.18%,#222f00 33.16%,#274d00 34.06%,#295800 34.95%,#264500 35.84%,#212400 36.73%,#1d1600 37.88%,#1b1100 39.16%,#1b0e00 41.11%,#1b0900 46.17%,#1a0400 53.86%,#1a0400 56.38%,#190200 69.13%,#180100 84.44%,#160100 100%)"></i>
<i style="background:linear-gradient(#ff0000 0%,#ff0000 1.62%,#ff0000 1.811%,#d7bf00 2.066%,#b3e700 2.449%,#8cfd00 2.959%,#75f900 3.597%,#63f600 4.362%,#59f400 5.383%,#55f400 6.658%,#54f400 8.189%,#54f300 10.1%,#54f300 11.73%,#54f300 12.65%,#54f300 14.29%,#5cf500 15.56%,#64f600 15.84%,#6df800 16.07%,#82fb00 16.45%,#9aff00 16.84%,#afea00 17.22%,#c5d500 17.73%,#d0c700 18.75%,#cccc00 19.67%,#cbce00 19.77%,#b4e600 20.54%,#8ffd00 21.17%,#63f600 21.81%,#3fdd00 22.45%,#298400 23.09%,#203500 23.72%,#1d2900 24.36%,#1d2600 24.77%,#1c2500 25%,#1c2100 25.77%,#1b1e00 27.04%,#1b1b00 30.87%,#1b1b00 31.15%,#212900 33.16%,#254500 34.06%,#285100 34.95%,#253e00 35.84%,#202000 36.73%,#1c1400 37.88%,#1a0f00 39.16%,#1a0e00 40.08%,#1a0700 46.17%,#190400 52.83%,#190400 56.38%,#180200 69.13%,#160100 84.44%,#150100 100%)"></i>
<i style="background:linear-gradient(#ff0000 0%,#ff0000 2.028%,#f35a00 2.219%,#dbbf00 2.474%,#bcde00 2.857%,#99ff00 3.367%,#7efa00 4.005%,#69f700 4.77%,#55f400 5.791%,#47ea00 7.066%,#41e100 8.597%,#3fdf00 10.51%,#3fde00 11.73%,#3fde00 13.06%,#3fde00 14.29%,#49ed00 15.56%,#5cf500 16.07%,#67f700 16.25%,#74f900 16.45%,#90fe00 16.84%,#abee00 17.22%,#c4d600 17.73%,#d0c600 18.75%,#cbce00 19.77%,#c4d600 20.08%,#b3e700 20.54%,#8efd00 21.17%,#62f600 21.81%,#3edc00 22.45%,#297f00 23.09%,#203200 23.72%,#1d2600 24.36%,#1c2200 25%,#1b2100 25.18%,#1b1e00 25.77%,#1a1b00 27.04%,#1a1800 30.87%,#1b1900 31.56%,#202600 33.16%,#254000 34.06%,#274c00 34.95%,#243900 35.84%,#1f1f00 36.73%,#1b1200 37.88%,#190d00 39.16%,#190c00 40.48%,#190700 46.17%,#180400 53.24%,#180300 56.38%,#170200 69.13%,#160100 84.44%,#140100 100%)"></i>
<i style="background:linear-gradient(#ff0000 0%,#ff0000 2.474%,#f35400 2.666%,#e0bf00 2.921%,#c5d500 3.304%,#a6f300 3.814%,#88fc00 4.452%,#75f900 5.217%,#61f600 6.237%,#53f300 7.513%,#4bf000 9.043%,#48ec00 10.96%,#48ec00 11.73%,#48eb00 13.51%,#48eb00 14.29%,#50f300 15.56%,#62f600 16.07%,#77f900 16.45%,#86fc00 16.7%,#90fd00 16.84%,#a6f200 17.22%,#bddd00 17.73%,#c8d100 18.75%,#c3d800 19.77%,#aded00 20.52%,#aced00 20.54%,#89fc00 21.17%,#5ef500 21.81%,#3bd800 22.45%,#266900 23.09%,#1d2900 23.72%,#1b1e00 24.36%,#1a1a00 25%,#191800 25.62%,#191800 25.77%,#181700 27.04%,#181400 30.87%,#191400 32%,#1e2000 33.16%,#233300 34.06%,#253f00 34.95%,#222d00 35.84%,#1d1a00 36.73%,#190e00 37.88%,#170c00 39.16%,#170a00 40.93%,#170600 46.17%,#160300 53.69%,#160300 56.38%,#150200 69.13%,#140100 84.44%,#120100 100%)"></i>
<i style="background:linear-gradient(#ff0000 0%,#ff0000 7.462%,#ff0000 7.653%,#ef9100 7.908%,#e7bf00 8.291%,#debf00 8.801%,#d3c300 9.439%,#c8d200 10.2%,#b9e100 11.22%,#b2e700 11.73%,#a9f000 12.5%,#97ff00 14.03%,#94fe00 14.29%,#89fc00 15.56%,#87fc00 15.94%,#87fc00 16.07%,#8afc00 16.45%,#98ff00 16.84%,#afeb00 17.22%,#c7d200 17.73%,#d4c200 18.49%,#d4c200 18.75%,#cec900 19.77%,#b6e400 20.54%,#92fe00 21.17%,#75f900 21.68%,#6ff800 21.81%,#61f600 22.45%,#5cf500 23.09%,#59f400 23.72%,#56f400 24.36%,#53f000 25%,#51ed00 25.51%,#50eb00 25.77%,#4ae100 27.04%,#3ebc00 30.61%,#3dba00 30.87%,#38a000 33.16%,#379800 34.06%,#369000 34.95%,#348600 35.84%,#306f00 36.73%,#2f6900 36.99%,#2c5600 37.88%,#294400 39.16%,#211000 45.92%,#200f00 46.17%,#1b0500 56.38%,#1a0400 58.67%,#180200 69.13%,#170100 84.44%,#150100 100%)"></i>
<i style="background:linear-gradient(#ff0000 0%,#ff0000 2.041%,#ff0000 2.232%,#dcbf00 2.487%,#bddd00 2.87%,#9afe00 3.38%,#80fb00 4.018%,#6df800 4.783%,#5ef500 5.804%,#57f400 7.079%,#55f400 8.61%,#54f400 10.52%,#54f400 11.73%,#54f300 13.07%,#54f400 14.29%,#5cf500 15.56%,#6cf800 16.07%,#76f900 16.26%,#80fb00 16.45%,#97ff00 16.84%,#aced00 17.22%,#c1da00 17.73%,#cccc00 18.75%,#c6d300 19.77%,#c0db00 20.09%,#b0ea00 20.54%,#8cfd00 21.17%,#60f600 21.81%,#3ddb00 22.45%,#287900 23.09%,#1f3000 23.72%,#1c2400 24.36%,#1b2000 25%,#1b1f00 25.19%,#1a1c00 25.77%,#1a1a00 27.04%,#1a1700 30.87%,#1a1800 31.57%,#1f2500 33.16%,#243d00 34.06%,#274900 34.95%,#243600 35.84%,#1f1d00 36.73%,#1a1100 37.88%,#190d00 39.16%,#190c00 40.5%,#180700 46.17%,#180400 53.25%,#170300 56.38%,#160200 69.13%,#150100 84.44%,#140100 100%)"></i>
<i style="background:linear-gradient(#ff0000 0%,#ff0000 2.372%,#f35a00 2.564%,#debf00 2.819%,#c3d700 3.202%,#a3f600 3.712%,#86fc00 4.349%,#73f900 5.115%,#61f600 6.135%,#54f400 7.411%,#4ff300 8.941%,#4df200 10.85%,#4df200 11.73%,#4df200 13.41%,#4df200 14.29%,#55f400 15.56%,#66f700 16.07%,#7bfa00 16.45%,#84fb00 16.59%,#93fe00 16.84%,#aaef00 17.22%,#c0db00 17.73%,#cbcd00 18.75%,#c5d400 19.77%,#b4e600 20.42%,#afeb00 20.54%,#8bfd00 21.17%,#60f500 21.81%,#3ddb00 22.45%,#287800 23.09%,#1f3000 23.72%,#1c2400 24.36%,#1b2000 25%,#1b1d00 25.52%,#1a1c00 25.77%,#1a1a00 27.04%,#1a1700 30.87%,#1b1900 31.9%,#1f2500 33.16%,#243d00 34.06%,#274900 34.95%,#243600 35.84%,#1f1d00 36.73%,#1b1100 37.88%,#190d00 39.16%,#190b00 40.83%,#180700 46.17%,#180400 53.58%,#170300 56.38%,#160200 69.13%,#150100 84.44%,#140100 100%)"></i>
<i style="background:linear-gradient(#ff0000 0%,#ff0000 2.398%,#f35700 2.589%,#dfbf00 2.844%,#c3d700 3.227%,#a4f500 3.737%,#87fc00 4.375%,#74f900 5.14%,#61f600 6.161%,#55f400 7.436%,#4ff300 8.967%,#4df200 10.88%,#4df200 11.73%,#4df200 13.43%,#4df200 14.29%,#56f400 15.56%,#67f700 16.07%,#7dfa00 16.45%,#88fc00 16.62%,#96ff00 16.84%,#adec00 17.22%,#c4d600 17.73%,#d0c700 18.75%,#cace00 19.77%,#b7e300 20.45%,#b3e700 20.54%,#8efd00 21.17%,#61f600 21.81%,#3cd900 22.45%,#266a00 23.09%,#1d2800 23.72%,#1a1c00 24.36%,#191900 25%,#191800 25.55%,#181700 25.77%,#181600 27.04%,#181400 30.87%,#191400 31.93%,#1d1f00 33.16%,#222f00 34.06%,#253c00 34.95%,#222a00 35.84%,#1d1800 36.73%,#180e00 37.88%,#170c00 39.16%,#170a00 40.85%,#160600 46.17%,#160300 53.61%,#150300 56.38%,#140200 69.13%,#130100 84.44%,#120100 100%)"></i>
<i style="background:linear-gradient(#ff0000 0%,#ff0000 2.742%,#ff0000 2.934%,#e1bf00 3.189%,#c9d000 3.571%,#aced00 4.082%,#8dfd00 4.719%,#7bfa00 5.485%,#67f700 6.505%,#58f400 7.781%,#4ff300 9.311%,#4bf000 11.22%,#4bef00 11.73%,#4aee00 13.78%,#4aee00 14.29%,#53f300 15.56%,#66f600 16.07%,#7cfa00 16.45%,#97ff00 16.84%,#9ff900 16.96%,#afea00 17.22%,#c7d200 17.73%,#d4c300 18.75%,#ceca00 19.77%,#b5e400 20.54%,#a8f100 20.79%,#90fd00 21.17%,#62f600 21.81%,#3cda00 22.45%,#266900 23.09%,#1d2700 23.72%,#1a1b00 24.36%,#191800 25%,#181700 25.77%,#181700 25.89%,#181600 27.04%,#171300 30.87%,#191400 32.27%,#1d1e00 33.16%,#222d00 34.06%,#243a00 34.95%,#222800 35.84%,#1d1800 36.73%,#180e00 37.88%,#170b00 39.16%,#160a00 41.2%,#160600 46.17%,#150300 53.95%,#150300 56.38%,#140100 69.13%,#130100 84.44%,#120100 100%)"></i>
<i style="background:linear-gradient(#ff0000 0%,#ff0000 2.819%,#f35300 3.01%,#e2bf00 3.265%,#cacf00 3.648%,#adec00 4.158%,#8ffd00 4.796%,#7cfa00 5.561%,#69f700 6.582%,#59f400 7.857%,#50f300 9.388%,#4cf100 11.3%,#4bf000 11.73%,#4aef00 13.85%,#4aef00 14.29%,#53f300 15.56%,#66f600 16.07%,#7cfa00 16.45%,#96ff00 16.84%,#a4f500 17.04%,#afeb00 17.22%,#c6d300 17.73%,#d2c400 18.75%,#cccc00 19.77%,#b4e600 20.54%,#a2f700 20.87%,#8efd00 21.17%,#5ff500 21.81%,#39d500 22.45%,#234700 23.09%,#191900 23.72%,#161500 24.36%,#151300 25%,#141200 25.77%,#141200 25.97%,#141100 27.04%,#140f00 30.87%,#161000 32.35%,#191300 33.16%,#1e2000 34.06%,#202500 34.95%,#1e1c00 35.84%,#190f00 36.73%,#140b00 37.88%,#130900 39.16%,#130700 41.28%,#120400 46.17%,#120200 54.03%,#110200 56.38%,#100100 69.13%,#0f0100 84.44%,#0e0100 100%)"></i>
<i style="background:linear-gradient(#ff0000 0%,#ff0000 2.857%,#ff0000 3.048%,#e2bf00 3.304%,#cbce00 3.686%,#afeb00 4.196%,#90fe00 4.834%,#7dfa00 5.599%,#6af700 6.62%,#5bf500 7.895%,#52f300 9.426%,#4ff300 11.34%,#4ef300 11.73%,#4ef200 13.89%,#4ef200 14.29%,#56f400 15.56%,#68f700 16.07%,#7dfa00 16.45%,#95fe00 16.84%,#a4f500 17.08%,#aced00 17.22%,#c3d800 17.73%,#ceca00 18.75%,#c8d100 19.77%,#b1e900 20.54%,#9dfc00 20.91%,#8bfd00 21.17%,#5df500 21.81%,#38d400 22.45%,#224400 23.09%,#191900 23.72%,#161500 24.36%,#151300 25%,#141200 25.77%,#141100 26.01%,#141100 27.04%,#140f00 30.87%,#161000 32.39%,#191300 33.16%,#1e1f00 34.06%,#202400 34.95%,#1e1c00 35.84%,#190f00 36.73%,#140b00 37.88%,#130900 39.16%,#120700 41.31%,#120400 46.17%,#110200 54.07%,#110200 56.38%,#100100 69.13%,#0f0100 84.44%,#0e0100 100%)"></i>
<i style="background:linear-gradient(#ff0000 0%,#ff0000 2.462%,#ff0000 2.653%,#e0bf00 2.908%,#c5d500 3.291%,#a6f300 3.801%,#89fc00 4.439%,#76f900 5.204%,#65f600 6.224%,#5bf500 7.5%,#56f400 9.031%,#55f400 10.94%,#54f400 11.73%,#54f400 13.49%,#54f400 14.29%,#5cf500 15.56%,#6bf700 16.07%,#7efb00 16.45%,#8bfd00 16.68%,#94fe00 16.84%,#a8f100 17.22%,#bcde00 17.73%,#c6d300 18.75%,#c1da00 19.77%,#acee00 20.51%,#abef00 20.54%,#87fc00 21.17%,#5bf500 21.81%,#37d200 22.45%,#234500 23.09%,#1a1a00 23.72%,#171600 24.36%,#161400 25%,#151300 25.61%,#151300 25.77%,#141200 27.04%,#141000 30.87%,#151000 31.99%,#1a1400 33.16%,#1f2100 34.06%,#212600 34.95%,#1e1e00 35.84%,#191000 36.73%,#150b00 37.88%,#130900 39.16%,#130800 40.92%,#130500 46.17%,#120300 53.67%,#120200 56.38%,#110100 69.13%,#100100 84.44%,#0e0100 100%)"></i>
<i style="background:linear-gradient(#ff0000 0%,#ff0000 2.398%,#f35900 2.589%,#dfbf00 2.844%,#c3d700 3.227%,#a4f500 3.737%,#86fc00 4.375%,#72f900 5.14%,#5df500 6.161%,#4cf200 7.436%,#42e300 8.967%,#3edd00 10.88%,#3ddc00 11.73%,#3ddb00 13.43%,#3ddb00 14.29%,#46e900 15.56%,#5af400 16.07%,#72f800 16.45%,#7dfa00 16.62%,#8dfd00 16.84%,#a7f200 17.22%,#c0da00 17.73%,#cdcb00 18.75%,#c7d200 19.77%,#b3e700 20.45%,#afeb00 20.54%,#8afc00 21.17%,#5df500 21.81%,#39d500 22.45%,#234d00 23.09%,#1a1c00 23.72%,#171600 24.36%,#161500 25%,#161400 25.55%,#151300 25.77%,#151200 27.04%,#151000 30.87%,#161100 31.93%,#1a1600 33.16%,#1f2300 34.06%,#212900 34.95%,#1f1f00 35.84%,#1a1100 36.73%,#150c00 37.88%,#140a00 39.16%,#140800 40.85%,#130500 46.17%,#130300 53.61%,#120200 56.38%,#110100 69.13%,#100100 84.44%,#0f0100 100%)"></i>
<i style="background:linear-gradient(#ff0000 0%,#ff0000 2.283%,#ff0000 2.474%,#dfbf00 2.73%,#c2d800 3.112%,#a1f700 3.622%,#84fc00 4.26%,#70f800 5.026%,#5af500 6.046%,#48ec00 7.321%,#3ddc00 8.852%,#39d500 10.77%,#38d400 11.73%,#38d300 13.32%,#38d300 14.29%,#42e200 15.56%,#56f400 16.07%,#6ff800 16.45%,#73f900 16.51%,#8cfd00 16.84%,#a7f100 17.22%,#c2d900 17.73%,#cfc900 18.75%,#c9d000 19.77%,#b9e100 20.33%,#b0e900 20.54%,#8bfd00 21.17%,#5ef500 21.81%,#39d400 22.45%,#234800 23.09%,#191900 23.72%,#171600 24.36%,#151400 25%,#151300 25.43%,#151200 25.77%,#141100 27.04%,#141000 30.87%,#151000 31.81%,#1a1400 33.16%,#1e2100 34.06%,#212600 34.95%,#1e1d00 35.84%,#191000 36.73%,#150b00 37.88%,#130900 39.16%,#130800 40.74%,#130500 46.17%,#120300 53.49%,#120200 56.38%,#110100 69.13%,#0f0100 84.44%,#0e0100 100%)"></i>
<i style="background:linear-gradient(#ff0000 0%,#ff0000 2.526%,#f35800 2.717%,#e0bf00 2.972%,#c5d400 3.355%,#a7f200 3.865%,#89fc00 4.503%,#75f900 5.268%,#61f600 6.288%,#4ff300 7.564%,#45e600 9.094%,#40df00 11.01%,#3fde00 11.73%,#3fdd00 13.56%,#3edd00 14.29%,#48ec00 15.56%,#5cf500 16.07%,#74f900 16.45%,#8afd00 16.75%,#91fe00 16.84%,#acee00 17.22%,#c5d500 17.73%,#d2c400 18.75%,#cccc00 19.77%,#b3e600 20.54%,#b2e800 20.57%,#8efd00 21.17%,#60f600 21.81%,#3bd800 22.45%,#255c00 23.09%,#1c2200 23.72%,#191800 24.36%,#181700 25%,#171500 25.68%,#171500 25.77%,#161400 27.04%,#161200 30.87%,#171200 32.05%,#1c1a00 33.16%,#212700 34.06%,#233200 34.95%,#202300 35.84%,#1b1400 36.73%,#170d00 37.88%,#150b00 39.16%,#150900 40.98%,#150500 46.17%,#140300 53.74%,#140300 56.38%,#130100 69.13%,#120100 84.44%,#100100 100%)"></i>
<i style="background:linear-gradient(#ff0000 0%,#ff0000 2.666%,#f35500 2.857%,#e1bf00 3.112%,#c8d100 3.495%,#aaef00 4.005%,#8cfd00 4.643%,#7afa00 5.408%,#67f700 6.429%,#5af500 7.704%,#54f300 9.235%,#51f300 11.15%,#51f300 11.73%,#51f300 13.7%,#51f300 14.29%,#59f400 15.56%,#69f700 16.07%,#7dfa00 16.45%,#94fe00 16.84%,#97ff00 16.89%,#a9f000 17.22%,#bedd00 17.73%,#c8d100 18.75%,#c3d700 19.77%,#aded00 20.54%,#a4f400 20.71%,#8afc00 21.17%,#5ff500 21.81%,#3cd900 22.45%,#277200 23.09%,#1e2d00 23.72%,#1c2200 24.36%,#1b1e00 25%,#1a1a00 25.77%,#1a1a00 25.82%,#191800 27.04%,#191500 30.87%,#1b1900 32.19%,#1f2300 33.16%,#243900 34.06%,#264600 34.95%,#233300 35.84%,#1e1c00 36.73%,#1a1000 37.88%,#180d00 39.16%,#180b00 41.12%,#180700 46.17%,#170400 53.88%,#170300 56.38%,#160200 69.13%,#150100 84.44%,#130100 100%)"></i>
<i style="background:linear-gradient(#ff0000 0%,#ff0000 5.268%,#ff0000 5.459%,#eda700 5.714%,#e3bf00 6.097%,#d6bf00 6.607%,#c8d100 7.245%,#b9e100 8.01%,#a7f200 9.031%,#93fe00 10.31%,#83fb00 11.73%,#82fb00 11.84%,#73f900 13.75%,#70f800 14.29%,#6cf700 15.56%,#73f900 16.07%,#7bfa00 16.3%,#82fb00 16.45%,#98ff00 16.84%,#aded00 17.22%,#c1d900 17.73%,#cccc00 18.75%,#cace00 19.49%,#c7d200 19.77%,#b0e900 20.54%,#8dfd00 21.17%,#62f600 21.81%,#47ea00 22.45%,#3cd900 23.09%,#3ad600 23.32%,#37d200 23.72%,#34cd00 24.36%,#31be00 25%,#2fa700 25.77%,#2b8700 27.04%,#286a00 28.42%,#233f00 30.87%,#243f00 33.16%,#275200 34.06%,#295900 34.8%,#295800 34.95%,#264400 35.84%,#222500 36.73%,#1d1700 37.88%,#1b1100 39.16%,#1a0900 43.72%,#190700 46.17%,#170300 56.38%,#170300 56.48%,#160200 69.13%,#150100 84.44%,#130100 100%)"></i>
<i style="background:linear-gradient(#ff0000 0%,#ff0000 2.258%,#f45200 2.449%,#debf00 2.704%,#c1d900 3.087%,#a0f800 3.597%,#84fb00 4.235%,#6ff800 5%,#5bf500 6.02%,#4cf200 7.296%,#45e700 8.827%,#42e300 10.74%,#42e200 11.73%,#41e100 13.29%,#41e100 14.29%,#4bf000 15.56%,#5ef500 16.07%,#75f900 16.45%,#77f900 16.48%,#91fe00 16.84%,#aaef00 17.22%,#c3d800 17.73%,#cfc800 18.75%,#c9d000 19.77%,#bbdf00 20.31%,#b1e800 20.54%,#8dfd00 21.17%,#60f600 21.81%,#3cd900 22.45%,#276b00 23.09%,#1d2900 23.72%,#1a1d00 24.36%,#191900 25%,#191800 25.41%,#191800 25.77%,#181600 27.04%,#181400 30.87%,#191400 31.79%,#1e2000 33.16%,#223100 34.06%,#253e00 34.95%,#222c00 35.84%,#1d1900 36.73%,#190e00 37.88%,#170c00 39.16%,#170a00 40.71%,#170600 46.17%,#160300 53.47%,#160300 56.38%,#150200 69.13%,#130100 84.44%,#120100 100%)"></i>
<i style="background:linear-gradient(#ff0000 0%,#ff0000 1.76%,#ff0000 1.952%,#d9bf00 2.207%,#b7e300 2.589%,#90fd00 3.099%,#78f900 3.737%,#63f600 4.503%,#52f300 5.523%,#4aef00 6.798%,#48eb00 8.329%,#47ea00 10.24%,#47ea00 11.73%,#47ea00 12.79%,#47ea00 14.29%,#50f300 15.56%,#5ff500 15.98%,#63f600 16.07%,#79fa00 16.45%,#94fe00 16.84%,#aced00 17.22%,#c4d600 17.73%,#d0c800 18.75%,#cacf00 19.77%,#c9cf00 19.81%,#b2e700 20.54%,#8efd00 21.17%,#61f600 21.81%,#3ddb00 22.45%,#277200 23.09%,#1e2c00 23.72%,#1b2000 24.36%,#1a1c00 24.91%,#1a1c00 25%,#191900 25.77%,#191700 27.04%,#191500 30.87%,#191500 31.29%,#1e2200 33.16%,#233600 34.06%,#264300 34.95%,#233000 35.84%,#1e1b00 36.73%,#1a0f00 37.88%,#180c00 39.16%,#180b00 40.22%,#170600 46.17%,#170400 52.97%,#170300 56.38%,#150200 69.13%,#140100 84.44%,#130100 100%)"></i>
<i style="background:linear-gradient(#ff0000 0%,#ff0000 4.923%,#f35500 5.115%,#e9bf00 5.37%,#dabf00 5.753%,#c7d200 6.263%,#b3e700 6.901%,#9cfc00 7.666%,#87fc00 8.686%,#78f900 9.962%,#6bf700 11.49%,#6af700 11.73%,#62f600 13.41%,#60f500 14.29%,#64f600 15.56%,#6df800 15.96%,#71f800 16.07%,#82fb00 16.45%,#97ff00 16.84%,#a9f000 17.22%,#bcde00 17.73%,#c6d400 18.75%,#c5d400 19.15%,#c1da00 19.77%,#abee00 20.54%,#89fc00 21.17%,#5ef500 21.81%,#3dda00 22.45%,#2d9c00 22.97%,#2a8a00 23.09%,#224400 23.72%,#1f3100 24.36%,#1e2b00 25%,#1d2500 25.77%,#1c2000 27.04%,#1b1d00 28.07%,#1a1800 30.87%,#1f2400 33.16%,#243a00 34.06%,#254300 34.45%,#264600 34.95%,#243300 35.84%,#1f1c00 36.73%,#1a1000 37.88%,#190d00 39.16%,#180800 43.38%,#180700 46.17%,#170300 56.14%,#170300 56.38%,#160200 69.13%,#150100 84.44%,#130100 100%)"></i>
<i style="background:linear-gradient(#ff0000 0%,#ff0000 4.962%,#ff0000 5.153%,#e9bf00 5.408%,#dabf00 5.791%,#c8d100 6.301%,#b4e600 6.939%,#9efb00 7.704%,#8afc00 8.724%,#7efa00 10%,#75f900 11.53%,#74f900 11.73%,#70f800 13.44%,#6ff800 14.29%,#74f900 15.56%,#7ffb00 15.99%,#82fb00 16.07%,#92fe00 16.45%,#a6f300 16.84%,#b7e300 17.22%,#c9d000 17.73%,#d2c400 18.75%,#d2c500 19.18%,#cdcb00 19.77%,#b7e300 20.54%,#92fe00 21.17%,#64f600 21.81%,#40e000 22.45%,#2ea900 23.01%,#2d9d00 23.09%,#245600 23.72%,#213b00 24.36%,#203300 25%,#1f2d00 25.77%,#1e2700 27.04%,#1d2400 28.11%,#1c1f00 30.87%,#212b00 33.16%,#264900 34.06%,#285200 34.49%,#285400 34.95%,#264000 35.84%,#212200 36.73%,#1c1500 37.88%,#1b1000 39.16%,#1a0a00 43.42%,#1a0800 46.17%,#190400 56.17%,#190400 56.38%,#180200 69.13%,#170100 84.44%,#150100 100%)"></i>
<i style="background:linear-gradient(#ff0000 0%,#ff0000 2.538%,#ff0000 2.73%,#e0bf00 2.985%,#c6d300 3.367%,#a9f000 3.878%,#8efd00 4.515%,#82fb00 5.281%,#7afa00 6.301%,#77f900 7.577%,#76f900 9.107%,#76f900 11.02%,#76f900 11.73%,#76f900 13.57%,#76f900 14.29%,#7cfa00 15.56%,#87fc00 16.07%,#94fe00 16.45%,#a0f800 16.76%,#a3f500 16.84%,#b0e900 17.22%,#bfdc00 17.73%,#c7d300 18.75%,#c2d800 19.77%,#adec00 20.54%,#abee00 20.59%,#8bfd00 21.17%,#5ff500 21.81%,#3cda00 22.45%,#287a00 23.09%,#1f3100 23.72%,#1d2600 24.36%,#1c2200 25%,#1b1e00 25.69%,#1b1e00 25.77%,#1a1c00 27.04%,#1a1800 30.87%,#1c1b00 32.07%,#202600 33.16%,#254000 34.06%,#274c00 34.95%,#243900 35.84%,#1f1f00 36.73%,#1b1200 37.88%,#1a0d00 39.16%,#190b00 40.99%,#190700 46.17%,#180400 53.75%,#180300 56.38%,#170200 69.13%,#160100 84.44%,#140100 100%)"></i>
<i style="background:linear-gradient(#ff0000 0%,#ff0000 3.495%,#ff0000 3.686%,#e5bf00 3.941%,#d1c500 4.324%,#b9e100 4.834%,#9ff900 5.472%,#8afc00 6.237%,#7cfa00 7.258%,#73f900 8.533%,#6ef800 10.06%,#6cf800 11.73%,#6cf800 11.98%,#6cf700 14.29%,#6cf700 14.53%,#73f900 15.56%,#80fb00 16.07%,#91fe00 16.45%,#a5f400 16.84%,#b6e300 17.22%,#c8d100 17.72%,#c8d100 17.73%,#d2c500 18.75%,#cdcb00 19.77%,#b6e400 20.54%,#91fe00 21.17%,#77f900 21.54%,#63f600 21.81%,#3edc00 22.45%,#287c00 23.09%,#1f3000 23.72%,#1c2500 24.36%,#1b2000 25%,#1a1c00 25.77%,#1a1a00 26.65%,#1a1900 27.04%,#1a1600 30.87%,#1e2200 33.02%,#1f2400 33.16%,#243b00 34.06%,#264700 34.95%,#243400 35.84%,#1f1d00 36.73%,#1a1000 37.88%,#190d00 39.16%,#180a00 41.95%,#180700 46.17%,#170400 54.71%,#170300 56.38%,#160200 69.13%,#150100 84.44%,#140100 100%)"></i>
<i style="background:linear-gradient(#ff0000 0%,#ff0000 3.329%,#f35600 3.52%,#e4bf00 3.776%,#cfc800 4.158%,#b6e300 4.668%,#9cfc00 5.306%,#89fc00 6.071%,#7dfa00 7.092%,#75f900 8.367%,#72f900 9.898%,#71f800 11.73%,#71f800 11.81%,#71f800 14.29%,#71f800 14.36%,#77f900 15.56%,#85fc00 16.07%,#94fe00 16.45%,#a7f200 16.84%,#b8e200 17.22%,#c4d600 17.55%,#c9d000 17.73%,#d2c400 18.75%,#cdcb00 19.77%,#b6e400 20.54%,#91fe00 21.17%,#83fb00 21.38%,#62f600 21.81%,#3cda00 22.45%,#276e00 23.09%,#1e2a00 23.72%,#1b1e00 24.36%,#1a1a00 25%,#191800 25.77%,#181700 26.48%,#181600 27.04%,#181400 30.87%,#1c1b00 32.86%,#1d1f00 33.16%,#223100 34.06%,#253d00 34.95%,#222b00 35.84%,#1d1900 36.73%,#190e00 37.88%,#170c00 39.16%,#170900 41.79%,#160600 46.17%,#160300 54.54%,#160300 56.38%,#150200 69.13%,#130100 84.44%,#120100 100%)"></i>
<i style="background:linear-gradient(#ff0000 0%,#ff0000 4.911%,#f35400 5.102%,#e9bf00 5.357%,#dabf00 5.74%,#c7d200 6.25%,#b2e700 6.888%,#9cfc00 7.653%,#87fc00 8.673%,#78f900 9.949%,#6bf700 11.48%,#69f700 11.73%,#62f600 13.39%,#60f500 14.29%,#65f600 15.56%,#6ef800 15.94%,#73f900 16.07%,#85fc00 16.45%,#9bfd00 16.84%,#b0ea00 17.22%,#c4d600 17.73%,#cec900 18.75%,#ceca00 19.13%,#c9d000 19.77%,#b2e800 20.54%,#8dfd00 21.17%,#5ff500 21.81%,#3cd900 22.45%,#2b9000 22.96%,#287a00 23.09%,#203400 23.72%,#1d2800 24.36%,#1c2100 25%,#1a1b00 25.77%,#191700 27.04%,#181600 28.06%,#171300 30.87%,#1c1b00 33.16%,#212800 34.06%,#222f00 34.44%,#233300 34.95%,#212300 35.84%,#1c1500 36.73%,#170d00 37.88%,#160b00 39.16%,#150700 43.37%,#150500 46.17%,#140300 56.12%,#140300 56.38%,#130100 69.13%,#120100 84.44%,#100100 100%)"></i>
<i style="background:linear-gradient(#ff0000 0%,#ff0000 3.967%,#f45200 4.158%,#e7bf00 4.413%,#d5c100 4.796%,#bfdc00 5.306%,#a7f200 5.944%,#8ffd00 6.709%,#80fb00 7.73%,#75f900 9.005%,#6ff800 10.54%,#6cf800 11.73%,#6cf700 12.45%,#6bf700 14.29%,#6cf700 15%,#71f800 15.56%,#7ffb00 16.07%,#8ffd00 16.45%,#a2f700 16.84%,#b2e700 17.22%,#c4d600 17.73%,#cbcd00 18.19%,#cdcb00 18.75%,#c8d100 19.77%,#b2e700 20.54%,#8ffd00 21.17%,#62f600 21.81%,#54f400 22.02%,#3edc00 22.45%,#2a8500 23.09%,#213600 23.72%,#1e2b00 24.36%,#1d2600 25%,#1c2200 25.77%,#1b1e00 27.04%,#1b1e00 27.12%,#1b1a00 30.87%,#202800 33.16%,#222f00 33.49%,#254200 34.06%,#274e00 34.95%,#253b00 35.84%,#201f00 36.73%,#1b1300 37.88%,#1a0e00 39.16%,#190a00 42.42%,#190700 46.17%,#180400 55.18%,#180300 56.38%,#170200 69.13%,#160100 84.44%,#150100 100%)"></i>
<i style="background:linear-gradient(#ff0000 0%,#ff0000 3.482%,#f35600 3.673%,#e5bf00 3.929%,#d1c600 4.311%,#b8e200 4.821%,#9efb00 5.459%,#87fc00 6.224%,#76f900 7.245%,#66f700 8.52%,#5cf500 10.05%,#58f400 11.73%,#58f400 11.96%,#56f400 14.29%,#56f400 14.52%,#5df500 15.56%,#6df800 16.07%,#80fb00 16.45%,#97ff00 16.84%,#abee00 17.22%,#bfdc00 17.7%,#c0db00 17.73%,#cace00 18.75%,#c5d500 19.77%,#aeeb00 20.54%,#8bfd00 21.17%,#73f900 21.53%,#5ff500 21.81%,#3cda00 22.45%,#287400 23.09%,#1f2e00 23.72%,#1c2300 24.36%,#1b1e00 25%,#1a1a00 25.77%,#191800 26.63%,#191800 27.04%,#191500 30.87%,#1e2100 33.01%,#1f2300 33.16%,#233800 34.06%,#264400 34.95%,#233200 35.84%,#1e1c00 36.73%,#1a0f00 37.88%,#180d00 39.16%,#180a00 41.94%,#180600 46.17%,#170300 54.69%,#170300 56.38%,#160200 69.13%,#140100 84.44%,#130100 100%)"></i>
<i style="background:linear-gradient(#ff0000 0%,#ff0000 4.949%,#f35200 5.14%,#e9bf00 5.395%,#dabf00 5.778%,#c8d100 6.288%,#b3e700 6.926%,#9dfb00 7.691%,#89fc00 8.712%,#7bfa00 9.987%,#71f800 11.52%,#70f800 11.73%,#6bf700 13.43%,#6af700 14.29%,#6ff800 15.56%,#79fa00 15.98%,#7cfa00 16.07%,#8cfd00 16.45%,#9ffa00 16.84%,#b0ea00 17.22%,#c1d900 17.73%,#cbce00 18.75%,#cace00 19.17%,#c6d400 19.77%,#b0e900 20.54%,#8efd00 21.17%,#62f600 21.81%,#40e000 22.45%,#2faf00 23%,#2da200 23.09%,#255f00 23.72%,#224400 24.36%,#213700 25%,#203100 25.77%,#1f2c00 27.04%,#1e2900 28.1%,#1d2300 30.87%,#223400 33.16%,#275200 34.06%,#295a00 34.48%,#295c00 34.95%,#274800 35.84%,#222800 36.73%,#1d1800 37.88%,#1c1300 39.16%,#1b0c00 43.41%,#1b0900 46.17%,#1a0400 56.16%,#1a0400 56.38%,#190200 69.13%,#180200 84.44%,#170100 100%)"></i>
<i style="background:linear-gradient(#ff0000 0%,#ff0000 3.559%,#ff0000 3.75%,#e5bf00 4.005%,#d2c500 4.388%,#bae000 4.898%,#a0f900 5.536%,#88fc00 6.301%,#77f900 7.321%,#69f700 8.597%,#5ff500 10.13%,#5bf500 11.73%,#5af500 12.04%,#59f400 14.29%,#59f400 14.59%,#61f600 15.56%,#71f800 16.07%,#85fc00 16.45%,#9dfb00 16.84%,#b2e700 17.22%,#c8d100 17.73%,#c9cf00 17.78%,#d3c400 18.75%,#cdca00 19.77%,#b6e300 20.54%,#92fe00 21.17%,#74f900 21.61%,#66f600 21.81%,#42e200 22.45%,#2da000 23.09%,#245300 23.72%,#213800 24.36%,#203300 25%,#1f2f00 25.77%,#1f2c00 26.71%,#1f2c00 27.04%,#1f2700 30.87%,#243c00 33.09%,#243f00 33.16%,#295c00 34.06%,#2b6400 34.95%,#295300 35.84%,#243100 36.73%,#1f1c00 37.88%,#1e1600 39.16%,#1d1100 42.02%,#1d0b00 46.17%,#1c0600 54.77%,#1c0500 56.38%,#1b0300 69.13%,#1a0200 84.44%,#190100 100%)"></i>
<i style="background:linear-gradient(#ff0000 0%,#ff0000 4.617%,#ff0000 4.809%,#e9bf00 5.064%,#d9bf00 5.446%,#c6d400 5.957%,#b0e900 6.594%,#9afe00 7.36%,#8afd00 8.38%,#81fb00 9.656%,#7bfa00 11.19%,#7afa00 11.73%,#79fa00 13.1%,#78fa00 14.29%,#7efa00 15.56%,#7ffb00 15.65%,#89fc00 16.07%,#97ff00 16.45%,#a8f100 16.84%,#b7e300 17.22%,#c6d300 17.73%,#cfc900 18.75%,#cfc900 18.84%,#cacf00 19.77%,#b5e500 20.54%,#92fe00 21.17%,#65f600 21.81%,#42e300 22.45%,#3ad700 22.67%,#2fac00 23.09%,#266800 23.72%,#234d00 24.36%,#224100 25%,#213600 25.77%,#203200 27.04%,#203000 27.77%,#202a00 30.87%,#254400 33.16%,#2a6100 34.06%,#2a6200 34.15%,#2c6800 34.95%,#295600 35.84%,#243500 36.73%,#201d00 37.88%,#1e1800 39.16%,#1e1000 43.07%,#1e0c00 46.17%,#1d0600 55.83%,#1d0600 56.38%,#1c0300 69.13%,#1a0200 84.44%,#190100 100%)"></i>
<i style="background:linear-gradient(#ff0000 0%,#ff0000 2.615%,#ff0000 2.806%,#e1bf00 3.061%,#c7d200 3.444%,#aaef00 3.954%,#8ffd00 4.592%,#82fb00 5.357%,#7afa00 6.378%,#77f900 7.653%,#75f900 9.184%,#75f900 11.1%,#75f900 11.73%,#75f900 13.65%,#75f900 14.29%,#7bfa00 15.56%,#87fc00 16.07%,#95fe00 16.45%,#a6f300 16.84%,#b4e600 17.22%,#c3d700 17.73%,#cccc00 18.75%,#c7d200 19.77%,#b2e700 20.54%,#aced00 20.66%,#90fe00 21.17%,#64f600 21.81%,#41e200 22.45%,#2da200 23.09%,#255800 23.72%,#223e00 24.36%,#213600 25%,#203200 25.77%,#202f00 27.04%,#1f2a00 30.87%,#212c00 32.14%,#254500 33.16%,#2a6200 34.06%,#2c6900 34.95%,#2a5800 35.84%,#253700 36.73%,#201e00 37.88%,#1f1800 39.16%,#1e1400 41.07%,#1e0c00 46.17%,#1d0700 53.83%,#1d0600 56.38%,#1c0300 69.13%,#1b0200 84.44%,#1a0100 100%)"></i>
<i style="background:linear-gradient(#ff0000 0%,#ff0000 3.418%,#ff0000 3.61%,#e5bf00 3.865%,#d0c600 4.247%,#b8e200 4.758%,#9efb00 5.395%,#89fc00 6.161%,#7bfa00 7.181%,#72f800 8.457%,#6df800 9.987%,#6bf700 11.73%,#6bf700 11.9%,#6bf700 14.29%,#6bf700 14.45%,#71f800 15.56%,#7efb00 16.07%,#8efd00 16.45%,#a0f800 16.84%,#b0e900 17.22%,#bfdc00 17.64%,#c1d900 17.73%,#cacf00 18.75%,#c5d500 19.77%,#b0ea00 20.54%,#8dfd00 21.17%,#7afa00 21.47%,#62f600 21.81%,#3fde00 22.45%,#2b8f00 23.09%,#224100 23.72%,#1f3100 24.36%,#1e2c00 25%,#1d2800 25.77%,#1d2600 26.57%,#1d2500 27.04%,#1d2000 30.87%,#212b00 32.95%,#223200 33.16%,#275000 34.06%,#295b00 34.95%,#274700 35.84%,#222700 36.73%,#1d1700 37.88%,#1c1200 39.16%,#1b0e00 41.88%,#1b0900 46.17%,#1a0500 54.63%,#1a0400 56.38%,#190200 69.13%,#180200 84.44%,#170100 100%)"></i>
<i style="background:linear-gradient(#ff0000 0%,#ff0000 4.349%,#ff0000 4.541%,#e8bf00 4.796%,#d7bf00 5.179%,#c3d700 5.689%,#adec00 6.327%,#97ff00 7.092%,#88fc00 8.112%,#80fb00 9.388%,#7bfa00 10.92%,#7afa00 11.73%,#79fa00 12.83%,#78fa00 14.29%,#7cfa00 15.38%,#7efb00 15.56%,#8bfd00 16.07%,#9afe00 16.45%,#abee00 16.84%,#bbdf00 17.22%,#cbcd00 17.73%,#d4c200 18.57%,#d4c200 18.75%,#cfc900 19.77%,#b9e100 20.54%,#94fe00 21.17%,#66f600 21.81%,#43e500 22.4%,#41e100 22.45%,#2d9c00 23.09%,#245000 23.72%,#213700 24.36%,#203100 25%,#1f2c00 25.77%,#1e2800 27.04%,#1e2700 27.5%,#1d2200 30.87%,#233500 33.16%,#264d00 33.88%,#275300 34.06%,#2a5c00 34.95%,#274900 35.84%,#222900 36.73%,#1e1800 37.88%,#1c1300 39.16%,#1c0d00 42.81%,#1b0900 46.17%,#1b0500 55.56%,#1b0400 56.38%,#1a0200 69.13%,#180200 84.44%,#170100 100%)"></i>
<i style="background:linear-gradient(#ff0000 0%,#ff0000 3.495%,#ff0000 3.686%,#e5bf00 3.941%,#d1c600 4.324%,#b9e100 4.834%,#9efa00 5.472%,#87fc00 6.237%,#76f900 7.258%,#67f700 8.533%,#5ef500 10.06%,#5af400 11.73%,#59f400 11.98%,#58f400 14.29%,#58f400 14.53%,#60f500 15.56%,#70f800 16.07%,#84fc00 16.45%,#9cfc00 16.84%,#b2e700 17.22%,#c7d200 17.72%,#c8d100 17.73%,#d3c400 18.75%,#cdca00 19.77%,#b6e400 20.54%,#92fe00 21.17%,#78fa00 21.54%,#65f600 21.81%,#41e100 22.45%,#2c9a00 23.09%,#234b00 23.72%,#203500 24.36%,#1f3000 25%,#1e2c00 25.77%,#1e2900 26.65%,#1e2900 27.04%,#1e2400 30.87%,#223400 33.02%,#233900 33.16%,#285700 34.06%,#2a6000 34.95%,#284d00 35.84%,#232c00 36.73%,#1e1a00 37.88%,#1d1400 39.16%,#1c0f00 41.95%,#1c0a00 46.17%,#1b0500 54.71%,#1b0500 56.38%,#1a0200 69.13%,#190200 84.44%,#180100 100%)"></i>
<i style="background:linear-gradient(#ff0000 0%,#ff0000 3.138%,#f35300 3.329%,#e3bf00 3.584%,#ceca00 3.967%,#b4e600 4.477%,#98ff00 5.115%,#86fc00 5.88%,#7afa00 6.901%,#72f900 8.176%,#6ff800 9.707%,#6ef800 11.62%,#6ef800 11.73%,#6ef800 14.17%,#6ef800 14.29%,#75f900 15.56%,#82fb00 16.07%,#93fe00 16.45%,#a6f300 16.84%,#b7e200 17.22%,#bddd00 17.36%,#c9d000 17.73%,#d3c400 18.75%,#cdca00 19.77%,#b7e200 20.54%,#94fe00 21.17%,#93fe00 21.19%,#67f700 21.81%,#43e400 22.45%,#2fab00 23.09%,#266100 23.72%,#234600 24.36%,#223c00 25%,#213500 25.77%,#203300 26.29%,#203200 27.04%,#202c00 30.87%,#233c00 32.67%,#264b00 33.16%,#2b6600 34.06%,#2d6d00 34.95%,#2a5b00 35.84%,#253b00 36.73%,#212000 37.88%,#1f1a00 39.16%,#1f1500 41.59%,#1f0d00 46.17%,#1e0700 54.35%,#1e0600 56.38%,#1d0300 69.13%,#1c0200 84.44%,#1a0100 100%)"></i>
<i style="background:linear-gradient(#ff0000 0%,#ff0000 3.112%,#ff0000 3.304%,#e4bf00 3.559%,#ceca00 3.941%,#b3e600 4.452%,#97ff00 5.089%,#83fb00 5.855%,#74f900 6.875%,#6af700 8.151%,#65f600 9.681%,#63f600 11.59%,#63f600 11.73%,#63f600 14.15%,#63f600 14.29%,#6af700 15.56%,#79fa00 16.07%,#8cfd00 16.45%,#a1f700 16.84%,#b5e500 17.22%,#bae000 17.33%,#c8d100 17.73%,#d2c400 18.75%,#cdca00 19.77%,#b7e300 20.54%,#95fe00 21.16%,#94fe00 21.17%,#69f700 21.81%,#45e700 22.45%,#31bc00 23.09%,#287700 23.72%,#255d00 24.36%,#245200 25%,#234900 25.77%,#234500 26.26%,#234300 27.04%,#233b00 30.87%,#264d00 32.64%,#285c00 33.16%,#2d7300 34.06%,#2f7a00 34.95%,#2d6700 35.84%,#284900 36.73%,#232c00 37.88%,#222100 39.16%,#221a00 41.57%,#211000 46.17%,#200800 54.32%,#200800 56.38%,#1f0400 69.13%,#1e0300 84.44%,#1d0200 100%)"></i>
<i style="background:linear-gradient(#ff0000 0%,#ff0000 3.559%,#ff0000 3.75%,#e5bf00 4.005%,#d2c500 4.388%,#bae000 4.898%,#a0f800 5.536%,#8bfd00 6.301%,#7efa00 7.321%,#75f900 8.597%,#71f800 10.13%,#6ff800 11.73%,#6ff800 12.04%,#6ff800 14.29%,#6ff800 14.59%,#75f900 15.56%,#81fb00 16.07%,#90fd00 16.45%,#a1f700 16.84%,#b1e900 17.22%,#c1d900 17.73%,#c2d800 17.78%,#cacf00 18.75%,#c5d500 19.77%,#b0e900 20.54%,#8efd00 21.17%,#71f800 21.61%,#63f600 21.81%,#41e100 22.45%,#2da000 23.09%,#255800 23.72%,#223e00 24.36%,#213600 25%,#203100 25.77%,#1f2f00 26.71%,#1f2e00 27.04%,#1f2900 30.87%,#244000 33.09%,#254300 33.16%,#296000 34.06%,#2c6700 34.95%,#295600 35.84%,#243500 36.73%,#201d00 37.88%,#1e1700 39.16%,#1e1200 42.02%,#1e0c00 46.17%,#1d0600 54.77%,#1d0600 56.38%,#1c0300 69.13%,#1a0200 84.44%,#190100 100%)"></i>
<i style="background:linear-gradient(#ff0000 0%,#ff0000 2.819%,#ff0000 3.01%,#e2bf00 3.265%,#cace00 3.648%,#aeeb00 4.158%,#92fe00 4.796%,#83fb00 5.561%,#78fa00 6.582%,#73f900 7.857%,#71f800 9.388%,#71f800 11.3%,#71f800 11.73%,#71f800 13.85%,#71f800 14.29%,#77f900 15.56%,#84fc00 16.07%,#94fe00 16.45%,#a7f200 16.84%,#afea00 17.04%,#b7e300 17.22%,#c8d100 17.73%,#d1c600 18.75%,#cccc00 19.77%,#b6e400 20.54%,#a5f300 20.87%,#93fe00 21.17%,#65f600 21.81%,#41e200 22.45%,#2d9c00 23.09%,#244f00 23.72%,#213700 24.36%,#203200 25%,#1f2e00 25.77%,#1f2d00 25.97%,#1e2b00 27.04%,#1e2600 30.87%,#202a00 32.35%,#243e00 33.16%,#295c00 34.06%,#2b6300 34.95%,#295200 35.84%,#243000 36.73%,#1f1b00 37.88%,#1e1600 39.16%,#1d1200 41.28%,#1d0b00 46.17%,#1c0600 54.03%,#1c0500 56.38%,#1b0300 69.13%,#1a0200 84.44%,#180100 100%)"></i>
<i style="background:linear-gradient(#ff0000 0%,#ff0000 3.138%,#f35300 3.329%,#e3bf00 3.584%,#ceca00 3.967%,#b4e600 4.477%,#99ff00 5.115%,#89fc00 5.88%,#7ffb00 6.901%,#7afa00 8.176%,#78fa00 9.707%,#77f900 11.62%,#77f900 11.73%,#77f900 14.17%,#77f900 14.29%,#7dfa00 15.56%,#89fc00 16.07%,#97ff00 16.45%,#a8f100 16.84%,#b7e300 17.22%,#bcdf00 17.36%,#c6d300 17.73%,#cfc900 18.75%,#cacf00 19.77%,#b4e600 20.54%,#91fe00 21.17%,#90fd00 21.19%,#63f600 21.81%,#3fde00 22.45%,#2a8800 23.09%,#213700 23.72%,#1e2b00 24.36%,#1d2700 25%,#1c2300 25.77%,#1c2100 26.29%,#1c2000 27.04%,#1b1c00 30.87%,#1f2400 32.67%,#212a00 33.16%,#264800 34.06%,#285400 34.95%,#264000 35.84%,#212100 36.73%,#1c1500 37.88%,#1b1000 39.16%,#1a0c00 41.59%,#1a0800 46.17%,#190400 54.35%,#190400 56.38%,#180200 69.13%,#170100 84.44%,#160100 100%)"></i>
<i style="background:linear-gradient(#ff0000 0%,#ff0000 3.992%,#ff0000 4.184%,#e7bf00 4.439%,#d5c100 4.821%,#bfdb00 5.332%,#a8f100 5.969%,#92fe00 6.735%,#86fc00 7.755%,#7efa00 9.031%,#7afa00 10.56%,#79fa00 11.73%,#78fa00 12.47%,#78fa00 14.29%,#79fa00 15.03%,#7efb00 15.56%,#8afd00 16.07%,#99ff00 16.45%,#aaef00 16.84%,#b9e100 17.22%,#c9d000 17.73%,#d0c600 18.21%,#d2c500 18.75%,#cdcb00 19.77%,#b7e300 20.54%,#93fe00 21.17%,#66f600 21.81%,#56f400 22.04%,#42e200 22.45%,#2d9f00 23.09%,#245300 23.72%,#213800 24.36%,#203300 25%,#1f2e00 25.77%,#1f2b00 27.04%,#1f2b00 27.14%,#1e2500 30.87%,#243c00 33.16%,#254800 33.52%,#285900 34.06%,#2b6200 34.95%,#285000 35.84%,#232f00 36.73%,#1f1b00 37.88%,#1d1500 39.16%,#1d0f00 42.45%,#1c0b00 46.17%,#1c0500 55.2%,#1c0500 56.38%,#1b0200 69.13%,#190200 84.44%,#180100 100%)"></i>
<i style="background:linear-gradient(#ff0000 0%,#ff0000 4.107%,#ff0000 4.298%,#e7bf00 4.554%,#d6c000 4.936%,#c0da00 5.446%,#a9f000 6.084%,#91fe00 6.849%,#81fb00 7.87%,#75f900 9.145%,#6df800 10.68%,#6af700 11.73%,#69f700 12.59%,#68f700 14.29%,#6af700 15.14%,#6ef800 15.56%,#7cfa00 16.07%,#8dfd00 16.45%,#a1f700 16.84%,#b3e600 17.22%,#c5d400 17.73%,#cec900 18.33%,#cfc800 18.75%,#cacf00 19.77%,#b4e600 20.54%,#91fe00 21.17%,#64f600 21.81%,#4ff300 22.16%,#41e000 22.45%,#2c9a00 23.09%,#244e00 23.72%,#213600 24.36%,#203100 25%,#1f2c00 25.77%,#1e2900 27.04%,#1e2800 27.26%,#1e2300 30.87%,#233700 33.16%,#254800 33.64%,#285500 34.06%,#2a5e00 34.95%,#284c00 35.84%,#232b00 36.73%,#1e1900 37.88%,#1d1400 39.16%,#1c0e00 42.56%,#1c0a00 46.17%,#1b0500 55.32%,#1b0500 56.38%,#1a0200 69.13%,#190200 84.44%,#170100 100%)"></i>
<i style="background:linear-gradient(#ff0000 0%,#ff0000 3.01%,#f35500 3.202%,#e3bf00 3.457%,#cccc00 3.839%,#b2e800 4.349%,#97ff00 4.987%,#87fc00 5.753%,#7dfa00 6.773%,#79fa00 8.048%,#77f900 9.579%,#76f900 11.49%,#76f900 11.73%,#76f900 14.04%,#76f900 14.29%,#7cfa00 15.56%,#89fc00 16.07%,#97ff00 16.45%,#a9f000 16.84%,#b8e200 17.22%,#b8e200 17.23%,#c8d100 17.73%,#d0c600 18.75%,#cccd00 19.77%,#b6e400 20.54%,#9afe00 21.06%,#93fe00 21.17%,#65f600 21.81%,#41e100 22.45%,#2c9b00 23.09%,#234d00 23.72%,#213600 24.36%,#203100 25%,#1f2d00 25.77%,#1e2b00 26.16%,#1e2a00 27.04%,#1e2500 30.87%,#212b00 32.54%,#243c00 33.16%,#285a00 34.06%,#2b6200 34.95%,#285000 35.84%,#232f00 36.73%,#1f1b00 37.88%,#1d1500 39.16%,#1d1100 41.47%,#1d0b00 46.17%,#1c0600 54.22%,#1c0500 56.38%,#1b0200 69.13%,#190200 84.44%,#180100 100%)"></i>
<i style="background:linear-gradient(#ff0000 0%,#ff0000 3.023%,#f35400 3.214%,#e3bf00 3.469%,#cccc00 3.852%,#b1e800 4.362%,#95fe00 5%,#82fb00 5.765%,#73f900 6.786%,#69f700 8.061%,#64f600 9.592%,#63f600 11.51%,#63f600 11.73%,#62f600 14.06%,#62f600 14.29%,#6af700 15.56%,#79fa00 16.07%,#8afd00 16.45%,#a0f900 16.84%,#b3e700 17.22%,#b4e600 17.24%,#c6d400 17.73%,#d0c700 18.75%,#cbce00 19.77%,#b4e600 20.54%,#96ff00 21.07%,#90fd00 21.17%,#62f600 21.81%,#3edd00 22.45%,#298000 23.09%,#203200 23.72%,#1d2700 24.36%,#1c2200 25%,#1b1e00 25.77%,#1b1d00 26.17%,#1b1c00 27.04%,#1a1900 30.87%,#1d1f00 32.55%,#202700 33.16%,#254100 34.06%,#274d00 34.95%,#253900 35.84%,#201f00 36.73%,#1b1200 37.88%,#1a0e00 39.16%,#190b00 41.48%,#190700 46.17%,#180400 54.23%,#180300 56.38%,#170200 69.13%,#160100 84.44%,#140100 100%)"></i>
<i style="background:linear-gradient(#ff0000 0%,#ff0000 3.571%,#f35500 3.763%,#e5bf00 4.018%,#d1c500 4.401%,#bae000 4.911%,#a0f800 5.548%,#8bfd00 6.314%,#7efa00 7.334%,#75f900 8.61%,#71f800 10.14%,#6ff800 11.73%,#6ff800 12.05%,#6ef800 14.29%,#6ff800 14.6%,#75f900 15.56%,#81fb00 16.07%,#91fe00 16.45%,#a3f600 16.84%,#b3e700 17.22%,#c3d700 17.73%,#c5d500 17.79%,#cccc00 18.75%,#c7d200 19.77%,#b2e800 20.54%,#8efd00 21.17%,#6ef800 21.62%,#61f600 21.81%,#3cda00 22.45%,#287500 23.09%,#1f2e00 23.72%,#1c2300 24.36%,#1b1e00 25%,#1a1a00 25.77%,#191800 26.72%,#191800 27.04%,#191500 30.87%,#1e2200 33.1%,#1f2300 33.16%,#233800 34.06%,#264400 34.95%,#233100 35.84%,#1e1c00 36.73%,#1a0f00 37.88%,#180d00 39.16%,#180a00 42.03%,#180600 46.17%,#170300 54.78%,#170300 56.38%,#160200 69.13%,#140100 84.44%,#130100 100%)"></i>
<i style="background:linear-gradient(#ff0000 0%,#ff0000 2.819%,#f35400 3.01%,#e2bf00 3.265%,#cacf00 3.648%,#aeec00 4.158%,#90fe00 4.796%,#80fb00 5.561%,#72f900 6.582%,#6bf700 7.857%,#68f700 9.388%,#67f700 11.3%,#66f700 11.73%,#66f700 13.85%,#66f700 14.29%,#6df800 15.56%,#7bfa00 16.07%,#8cfd00 16.45%,#a0f800 16.84%,#aaef00 17.04%,#b2e700 17.22%,#c4d600 17.73%,#cec900 18.75%,#c9d000 19.77%,#b2e700 20.54%,#a1f700 20.87%,#8efd00 21.17%,#60f500 21.81%,#3bd800 22.45%,#266400 23.09%,#1d2600 23.72%,#1a1b00 24.36%,#191800 25%,#181700 25.77%,#181600 25.97%,#171500 27.04%,#171300 30.87%,#191400 32.35%,#1d1d00 33.16%,#222c00 34.06%,#243900 34.95%,#212700 35.84%,#1c1700 36.73%,#180d00 37.88%,#170b00 39.16%,#160900 41.28%,#160600 46.17%,#150300 54.03%,#150300 56.38%,#140100 69.13%,#130100 84.44%,#110100 100%)"></i>
<i style="background:linear-gradient(#ff0000 0%,#ff0000 4.171%,#f35500 4.362%,#e7bf00 4.617%,#d6c000 5%,#c1da00 5.51%,#aaef00 6.148%,#93fe00 6.913%,#85fc00 7.934%,#7cfa00 9.209%,#77f900 10.74%,#75f900 11.73%,#75f900 12.65%,#74f900 14.29%,#76f900 15.2%,#79fa00 15.56%,#84fc00 16.07%,#91fe00 16.45%,#a1f800 16.84%,#aeeb00 17.22%,#bcde00 17.73%,#c4d600 18.39%,#c4d500 18.75%,#c0db00 19.77%,#abee00 20.54%,#89fc00 21.17%,#5df500 21.81%,#45e700 22.22%,#3bd800 22.45%,#277100 23.09%,#1f2f00 23.72%,#1c2300 24.36%,#1b1e00 25%,#1a1a00 25.77%,#191700 27.04%,#191700 27.32%,#181500 30.87%,#1e2000 33.16%,#212800 33.7%,#233300 34.06%,#253f00 34.95%,#222d00 35.84%,#1d1a00 36.73%,#190e00 37.88%,#170c00 39.16%,#170900 42.63%,#170600 46.17%,#160300 55.38%,#160300 56.38%,#150200 69.13%,#140100 84.44%,#120100 100%)"></i>
<i style="background:linear-gradient(#ff0000 0%,#ff0000 10.78%,#ff0000 10.97%,#f08000 11.22%,#ee9800 11.48%,#eda900 11.61%,#ebb900 11.73%,#e7bf00 12.12%,#e3bf00 12.76%,#dfbf00 13.52%,#ddbf00 14.29%,#ddbf00 14.54%,#dcbf00 15.56%,#dcbf00 15.82%,#dcbf00 16.07%,#dbbf00 16.45%,#dbbf00 16.84%,#dbbf00 17.22%,#dbbf00 17.35%,#dbbf00 17.73%,#dbbf00 18.75%,#dbbf00 19.26%,#dabf00 19.77%,#d9bf00 20.54%,#d9bf00 20.92%,#c9cf00 21.17%,#a4f500 21.81%,#91fe00 22.19%,#90fd00 22.45%,#8efd00 23.09%,#8cfd00 23.72%,#8afd00 24.36%,#89f900 25%,#87f400 25.77%,#84ec00 27.04%,#80e100 28.83%,#7bd500 30.87%,#76bd00 33.16%,#75b600 33.93%,#74b400 34.06%,#73ae00 34.69%,#71ab00 34.95%,#6aa200 35.84%,#639900 36.73%,#5b8d00 37.88%,#578600 38.52%,#558000 39.16%,#537500 40.31%,#484200 46.17%,#422e00 49.23%,#412900 50%,#331e00 56.38%,#2c1300 60.2%,#2b1100 61.99%,#260800 69.13%,#1f0300 81.89%,#1f0300 84.44%,#1b0200 100%)"></i>
<i style="background:linear-gradient(#ff0000 0%,#ff0000 10.78%,#ff0000 10.97%,#f08000 11.22%,#ebbc00 11.61%,#e9bf00 11.73%,#e4bf00 12.12%,#dcbf00 12.76%,#d4c200 13.52%,#cbcd00 14.29%,#c9d000 14.54%,#bedc00 15.56%,#bcde00 15.82%,#bae000 16.07%,#b8e200 16.45%,#b9e100 16.84%,#bfdc00 17.22%,#c2d900 17.35%,#cacf00 17.73%,#d1c600 18.75%,#d0c700 19.26%,#cbcd00 19.77%,#b7e300 20.54%,#9cfd00 21.17%,#8cfd00 21.81%,#88fc00 22.45%,#84fc00 23.09%,#81fb00 23.72%,#7efb00 24.36%,#7bf700 25%,#78f200 25.77%,#72ea00 27.04%,#6bde00 28.83%,#63d100 30.87%,#5bba00 33.16%,#59b200 33.93%,#59b100 34.06%,#56a800 34.95%,#539f00 35.84%,#509700 36.73%,#4c8b00 37.88%,#497c00 39.16%,#466f00 40.31%,#383b00 46.17%,#322700 49.23%,#260f00 56.38%,#200600 61.99%,#1a0200 69.13%,#140100 84.44%,#110100 100%)"></i>
<i style="background:linear-gradient(#ff0000 0%,#ff0000 3.151%,#f35700 3.342%,#e3bf00 3.597%,#cdca00 3.98%,#b4e600 4.49%,#99ff00 5.128%,#88fc00 5.893%,#7cfa00 6.913%,#76f900 8.189%,#74f900 9.719%,#73f900 11.63%,#73f900 11.73%,#73f900 14.18%,#73f900 14.29%,#78fa00 15.56%,#83fb00 16.07%,#91fe00 16.45%,#a1f800 16.84%,#aeeb00 17.22%,#b3e700 17.37%,#bcde00 17.73%,#c4d600 18.75%,#c0db00 19.77%,#abee00 20.54%,#89fc00 21.17%,#87fc00 21.2%,#5cf500 21.81%,#39d500 22.45%,#255c00 23.09%,#1c2400 23.72%,#191900 24.36%,#181800 25%,#181600 25.77%,#171500 26.3%,#171500 27.04%,#171300 30.87%,#1a1600 32.68%,#1c1c00 33.16%,#212900 34.06%,#243600 34.95%,#212400 35.84%,#1c1600 36.73%,#180d00 37.88%,#160b00 39.16%,#160900 41.61%,#150600 46.17%,#150300 54.36%,#150300 56.38%,#130100 69.13%,#120100 84.44%,#110100 100%)"></i>
<i style="background:linear-gradient(#ff0000 0%,#ff0000 6.671%,#ff0000 6.862%,#ee9800 7.117%,#e6bf00 7.5%,#dcbf00 8.01%,#d0c700 8.648%,#c3d700 9.413%,#b4e600 10.43%,#a3f600 11.71%,#a2f600 11.73%,#92fe00 13.24%,#8afc00 14.29%,#85fc00 15.15%,#85fc00 15.56%,#89fc00 16.07%,#93fe00 16.45%,#a2f700 16.84%,#b0ea00 17.22%,#bfdc00 17.7%,#bfdb00 17.73%,#c8d100 18.75%,#c3d700 19.77%,#aeeb00 20.54%,#9cfc00 20.89%,#8cfd00 21.17%,#67f700 21.81%,#56f400 22.45%,#50f300 23.09%,#4df200 23.72%,#4aee00 24.36%,#48ea00 24.72%,#47e700 25%,#44de00 25.77%,#3fd000 27.04%,#35b500 29.82%,#32a700 30.87%,#2e7f00 33.16%,#2e7b00 34.06%,#2e7500 34.95%,#2c6200 35.84%,#2a5800 36.2%,#284800 36.73%,#242d00 37.88%,#211d00 39.16%,#1b0a00 45.13%,#1b0800 46.17%,#170300 56.38%,#160300 57.88%,#150200 69.13%,#130100 84.44%,#120100 100%)"></i>
<i style="background:linear-gradient(#ff0000 0%,#ff0000 3.852%,#f35400 4.043%,#e6bf00 4.298%,#d4c200 4.681%,#bddd00 5.191%,#a4f400 5.829%,#8cfd00 6.594%,#7bfa00 7.615%,#6bf700 8.89%,#60f600 10.42%,#5bf500 11.73%,#5af500 12.33%,#58f400 14.29%,#59f400 14.89%,#5ff500 15.56%,#6ff800 16.07%,#82fb00 16.45%,#99ff00 16.84%,#adec00 17.22%,#c2d900 17.73%,#c9d000 18.07%,#cccc00 18.75%,#c7d200 19.77%,#b1e900 20.54%,#8efd00 21.17%,#62f600 21.81%,#5cf500 21.9%,#3fde00 22.45%,#2b8f00 23.09%,#224100 23.72%,#1f3000 24.36%,#1e2c00 25%,#1d2700 25.77%,#1d2400 27%,#1d2400 27.04%,#1c1f00 30.87%,#222f00 33.16%,#233600 33.38%,#274d00 34.06%,#295800 34.95%,#264500 35.84%,#212400 36.73%,#1d1600 37.88%,#1b1100 39.16%,#1b0d00 42.31%,#1b0900 46.17%,#1a0400 55.06%,#1a0400 56.38%,#190200 69.13%,#180100 84.44%,#160100 100%)"></i>
<i style="background:linear-gradient(#ff0000 0%,#ff0000 3.737%,#ff0000 3.929%,#e6bf00 4.184%,#d3c300 4.566%,#bcde00 5.077%,#a3f500 5.714%,#8cfd00 6.48%,#7efb00 7.5%,#73f900 8.776%,#6ef800 10.31%,#6cf700 11.73%,#6bf700 12.22%,#6bf700 14.29%,#6bf700 14.77%,#71f800 15.56%,#7efa00 16.07%,#8dfd00 16.45%,#a0f900 16.84%,#b0ea00 17.22%,#c1da00 17.73%,#c5d500 17.96%,#cacf00 18.75%,#c5d500 19.77%,#afea00 20.54%,#8cfd00 21.17%,#62f600 21.79%,#60f600 21.81%,#3ddb00 22.45%,#298200 23.09%,#203500 23.72%,#1e2a00 24.36%,#1c2500 25%,#1b2000 25.77%,#1b1e00 26.89%,#1b1e00 27.04%,#1b1a00 30.87%,#202700 33.16%,#212900 33.27%,#254200 34.06%,#274e00 34.95%,#253b00 35.84%,#201f00 36.73%,#1b1300 37.88%,#1a0e00 39.16%,#190a00 42.19%,#190700 46.17%,#180400 54.95%,#180300 56.38%,#170200 69.13%,#160100 84.44%,#150100 100%)"></i>
<i style="background:linear-gradient(#ff0000 0%,#ff0000 3.138%,#ff0000 3.329%,#e4bf00 3.584%,#ceca00 3.967%,#b4e600 4.477%,#99ff00 5.115%,#87fc00 5.88%,#7cfa00 6.901%,#75f900 8.176%,#73f900 9.707%,#72f800 11.62%,#72f800 11.73%,#72f800 14.17%,#72f800 14.29%,#77f900 15.56%,#82fb00 16.07%,#90fd00 16.45%,#a0f900 16.84%,#adec00 17.22%,#b2e800 17.36%,#bcdf00 17.73%,#c4d600 18.75%,#bfdb00 19.77%,#abef00 20.54%,#89fc00 21.17%,#88fc00 21.19%,#5ef500 21.81%,#3bd800 22.45%,#277100 23.09%,#1f2e00 23.72%,#1c2300 24.36%,#1b1e00 25%,#1a1a00 25.77%,#1a1900 26.29%,#1a1800 27.04%,#191500 30.87%,#1c1d00 32.67%,#1f2300 33.16%,#243900 34.06%,#264600 34.95%,#233300 35.84%,#1e1c00 36.73%,#1a1000 37.88%,#190d00 39.16%,#180a00 41.59%,#180700 46.17%,#170400 54.35%,#170300 56.38%,#160200 69.13%,#150100 84.44%,#130100 100%)"></i>
<i style="background:linear-gradient(#ff0000 0%,#ff0000 6.122%,#ff0000 6.314%,#ee9c00 6.569%,#e5bf00 6.952%,#dabf00 7.462%,#ceca00 8.099%,#c0db00 8.865%,#afea00 9.885%,#9dfb00 11.16%,#95fe00 11.73%,#8bfd00 12.69%,#7efb00 14.29%,#7cfa00 14.6%,#78f900 15.56%,#7bfa00 16.07%,#85fc00 16.45%,#96ff00 16.84%,#a5f300 17.16%,#a8f100 17.22%,#bbdf00 17.73%,#c5d500 18.75%,#c0da00 19.77%,#b2e800 20.34%,#abef00 20.54%,#89fc00 21.17%,#63f600 21.81%,#50f300 22.45%,#48ec00 23.09%,#44e600 23.72%,#42e300 24.17%,#41e100 24.36%,#3fdb00 25%,#3cd200 25.77%,#37c500 27.04%,#30a100 29.27%,#2c8000 30.87%,#2a6700 33.16%,#2c6b00 34.06%,#2c6a00 34.95%,#2a5d00 35.65%,#2a5700 35.84%,#253a00 36.73%,#212000 37.88%,#1f1900 39.16%,#1b0a00 44.58%,#1a0800 46.17%,#180300 56.38%,#180300 57.33%,#160200 69.13%,#150100 84.44%,#140100 100%)"></i>
<i style="background:linear-gradient(#ff0000 0%,#ff0000 5.727%,#f45200 5.918%,#eda200 6.173%,#e4bf00 6.556%,#d8bf00 7.066%,#cbcd00 7.704%,#bddd00 8.469%,#aced00 9.49%,#9bfd00 10.77%,#90fe00 11.73%,#8dfd00 12.3%,#83fb00 14.21%,#83fb00 14.29%,#83fb00 15.56%,#8bfd00 16.07%,#98ff00 16.45%,#a4f400 16.76%,#a8f100 16.84%,#b5e400 17.22%,#c4d600 17.73%,#cdcb00 18.75%,#c8d100 19.77%,#c5d500 19.95%,#b3e700 20.54%,#90fe00 21.17%,#66f700 21.81%,#4df200 22.45%,#43e400 23.09%,#3fdd00 23.72%,#3edd00 23.78%,#3cd900 24.36%,#39d300 25%,#36cb00 25.77%,#32ba00 27.04%,#2d9000 28.88%,#296e00 30.87%,#296200 33.16%,#2c6d00 34.06%,#2d6e00 34.95%,#2d6a00 35.26%,#2a5c00 35.84%,#263e00 36.73%,#222300 37.88%,#201a00 39.16%,#1d0e00 44.18%,#1d0b00 46.17%,#1b0500 56.38%,#1b0400 56.94%,#1a0200 69.13%,#180200 84.44%,#170100 100%)"></i>
<i style="background:linear-gradient(#ff0000 0%,#ff0000 3.916%,#ff0000 4.107%,#e7bf00 4.362%,#d5c100 4.745%,#bedc00 5.255%,#a6f300 5.893%,#8dfd00 6.658%,#7dfa00 7.679%,#6ef800 8.954%,#64f600 10.48%,#60f600 11.73%,#5ff500 12.4%,#5df500 14.29%,#5ef500 14.95%,#64f600 15.56%,#73f900 16.07%,#85fc00 16.45%,#9afe00 16.84%,#adec00 17.22%,#c1da00 17.73%,#c8d100 18.14%,#cbce00 18.75%,#c5d400 19.77%,#afea00 20.54%,#8cfd00 21.17%,#61f600 21.81%,#56f400 21.96%,#3edc00 22.45%,#298400 23.09%,#213600 23.72%,#1e2b00 24.36%,#1d2600 25%,#1c2100 25.77%,#1b1e00 27.04%,#1b1e00 27.07%,#1b1a00 30.87%,#202800 33.16%,#222e00 33.44%,#254300 34.06%,#274f00 34.95%,#253b00 35.84%,#202000 36.73%,#1b1300 37.88%,#1a0e00 39.16%,#190a00 42.37%,#190700 46.17%,#180400 55.13%,#180400 56.38%,#170200 69.13%,#160100 84.44%,#150100 100%)"></i>
<i style="background:linear-gradient(#ff0000 0%,#ff0000 3.788%,#ff0000 3.98%,#e6bf00 4.235%,#d4c300 4.617%,#bddd00 5.128%,#a4f500 5.765%,#8bfd00 6.531%,#7afa00 7.551%,#6bf700 8.827%,#60f500 10.36%,#5bf500 11.73%,#5af400 12.27%,#58f400 14.29%,#58f400 14.82%,#5ff500 15.56%,#6ef800 16.07%,#81fb00 16.45%,#98ff00 16.84%,#aced00 17.22%,#c1da00 17.73%,#c7d200 18.01%,#cbcd00 18.75%,#c6d400 19.77%,#afea00 20.54%,#8cfd00 21.17%,#5ff500 21.81%,#5ef500 21.84%,#3cd900 22.45%,#277300 23.09%,#1f2e00 23.72%,#1c2200 24.36%,#1b1e00 25%,#1a1900 25.77%,#191800 26.94%,#191800 27.04%,#191500 30.87%,#1e2200 33.16%,#1f2400 33.32%,#233500 34.06%,#254200 34.95%,#232f00 35.84%,#1e1b00 36.73%,#190f00 37.88%,#180c00 39.16%,#170900 42.24%,#170600 46.17%,#160300 55%,#160300 56.38%,#150200 69.13%,#140100 84.44%,#130100 100%)"></i>
<i style="background:linear-gradient(#ff0000 0%,#ff0000 3.763%,#f35500 3.954%,#e6bf00 4.209%,#d3c300 4.592%,#bcde00 5.102%,#a3f500 5.74%,#8cfd00 6.505%,#7efa00 7.526%,#73f900 8.801%,#6df800 10.33%,#6bf700 11.73%,#6af700 12.24%,#6af700 14.29%,#6af700 14.8%,#70f800 15.56%,#7efb00 16.07%,#8ffd00 16.45%,#a3f600 16.84%,#b4e500 17.22%,#c6d300 17.73%,#cccc00 17.98%,#d0c700 18.75%,#cbce00 19.77%,#b4e600 20.54%,#8ffd00 21.17%,#61f600 21.81%,#3cd900 22.45%,#276c00 23.09%,#1e2a00 23.72%,#1b1e00 24.36%,#1a1900 25%,#191800 25.77%,#181600 26.91%,#181600 27.04%,#181400 30.87%,#1d1e00 33.16%,#1e2000 33.29%,#222e00 34.06%,#243b00 34.95%,#222800 35.84%,#1d1800 36.73%,#180e00 37.88%,#170b00 39.16%,#160900 42.22%,#160600 46.17%,#150300 54.97%,#150300 56.38%,#140100 69.13%,#130100 84.44%,#120100 100%)"></i>
<i style="background:linear-gradient(#ff0000 0%,#ff0000 3.291%,#ff0000 3.482%,#e5bf00 3.737%,#cfc800 4.12%,#b6e400 4.63%,#9afe00 5.268%,#84fc00 6.033%,#72f900 7.054%,#62f600 8.329%,#58f400 9.86%,#53f300 11.73%,#53f300 11.77%,#51f300 14.29%,#51f300 14.32%,#59f400 15.56%,#6af700 16.07%,#7ffb00 16.45%,#98ff00 16.84%,#afeb00 17.22%,#bddd00 17.51%,#c5d500 17.73%,#d0c700 18.75%,#cbce00 19.77%,#b3e700 20.54%,#8efd00 21.17%,#83fb00 21.34%,#61f600 21.81%,#3cda00 22.45%,#277000 23.09%,#1e2b00 23.72%,#1b1f00 24.36%,#1a1b00 25%,#191800 25.77%,#191700 26.44%,#191700 27.04%,#181400 30.87%,#1c1c00 32.82%,#1e2000 33.16%,#233300 34.06%,#253f00 34.95%,#222d00 35.84%,#1d1a00 36.73%,#190e00 37.88%,#180c00 39.16%,#170900 41.75%,#170600 46.17%,#160300 54.5%,#160300 56.38%,#150200 69.13%,#140100 84.44%,#120100 100%)"></i>
<i style="background:linear-gradient(#ff0000 0%,#ff0000 3.418%,#ff0000 3.61%,#e5bf00 3.865%,#d1c600 4.247%,#b8e200 4.758%,#9efb00 5.395%,#88fc00 6.161%,#7afa00 7.181%,#6ff800 8.457%,#6af700 9.987%,#69f700 11.73%,#68f700 11.9%,#68f700 14.29%,#68f700 14.45%,#6ef800 15.56%,#7bfa00 16.07%,#8afd00 16.45%,#9dfc00 16.84%,#adec00 17.22%,#bbdf00 17.64%,#bddd00 17.73%,#c6d300 18.75%,#c1d900 19.77%,#aced00 20.54%,#8afc00 21.17%,#76f900 21.47%,#5ef500 21.81%,#3bd700 22.45%,#266900 23.09%,#1e2a00 23.72%,#1b1f00 24.36%,#1a1a00 25%,#191800 25.77%,#181700 26.57%,#181700 27.04%,#181400 30.87%,#1c1d00 32.95%,#1e2000 33.16%,#223100 34.06%,#253e00 34.95%,#222b00 35.84%,#1d1900 36.73%,#190e00 37.88%,#170c00 39.16%,#170900 41.88%,#170600 46.17%,#160300 54.63%,#160300 56.38%,#150200 69.13%,#130100 84.44%,#120100 100%)"></i>
<i style="background:linear-gradient(#ff0000 0%,#ff0000 3.533%,#f35700 3.724%,#e5bf00 3.98%,#d1c600 4.362%,#b9e100 4.872%,#9ff900 5.51%,#88fc00 6.276%,#79fa00 7.296%,#6cf800 8.571%,#65f600 10.1%,#62f600 11.73%,#62f600 12.02%,#61f600 14.29%,#61f600 14.57%,#68f700 15.56%,#77f900 16.07%,#89fc00 16.45%,#9ffa00 16.84%,#b2e800 17.22%,#c5d500 17.73%,#c6d400 17.76%,#cfc800 18.75%,#cacf00 19.77%,#b3e700 20.54%,#8efd00 21.17%,#71f800 21.58%,#60f600 21.81%,#3bd800 22.45%,#266500 23.09%,#1d2700 23.72%,#1a1b00 24.36%,#191800 25%,#181700 25.77%,#171600 26.68%,#171500 27.04%,#171300 30.87%,#1c1b00 33.06%,#1c1c00 33.16%,#212a00 34.06%,#243700 34.95%,#212500 35.84%,#1c1600 36.73%,#180d00 37.88%,#160b00 39.16%,#160900 41.99%,#150600 46.17%,#150300 54.74%,#150300 56.38%,#140100 69.13%,#120100 84.44%,#110100 100%)"></i>
<i style="background:linear-gradient(#ff0000 0%,#ff0000 3.763%,#ff0000 3.954%,#e6bf00 4.209%,#d4c300 4.592%,#bddd00 5.102%,#a5f400 5.74%,#8ffd00 6.505%,#83fb00 7.526%,#7bfa00 8.801%,#78f900 10.33%,#77f900 11.73%,#76f900 12.24%,#76f900 14.29%,#76f900 14.8%,#7bfa00 15.56%,#87fc00 16.07%,#95fe00 16.45%,#a5f400 16.84%,#b3e700 17.22%,#c1d900 17.73%,#c6d400 17.98%,#cacf00 18.75%,#c5d500 19.77%,#afea00 20.54%,#8cfd00 21.17%,#5ef500 21.81%,#3ad700 22.45%,#266400 23.09%,#1d2700 23.72%,#1a1c00 24.36%,#191900 25%,#181700 25.77%,#181600 26.91%,#171500 27.04%,#171300 30.87%,#1c1c00 33.16%,#1d1e00 33.29%,#212a00 34.06%,#243700 34.95%,#212500 35.84%,#1c1600 36.73%,#180d00 37.88%,#160b00 39.16%,#160800 42.22%,#150600 46.17%,#150300 54.97%,#150300 56.38%,#140100 69.13%,#120100 84.44%,#110100 100%)"></i>
<i style="background:linear-gradient(#ff0000 0%,#ff0000 3.967%,#f35500 4.158%,#e6bf00 4.413%,#d4c100 4.796%,#bfdc00 5.306%,#a6f300 5.944%,#8dfd00 6.709%,#7dfa00 7.73%,#6ef800 9.005%,#64f600 10.54%,#5ff500 11.73%,#5ef500 12.45%,#5cf500 14.29%,#5df500 15%,#63f600 15.56%,#72f800 16.07%,#84fc00 16.45%,#9afe00 16.84%,#adec00 17.22%,#c1d900 17.73%,#cacf00 18.19%,#cbcd00 18.75%,#c6d300 19.77%,#afea00 20.54%,#8bfd00 21.17%,#5df500 21.81%,#4ff300 22.02%,#39d500 22.45%,#245300 23.09%,#1b2000 23.72%,#181800 24.36%,#171600 25%,#161400 25.77%,#151300 27.04%,#151300 27.12%,#151000 30.87%,#1a1500 33.16%,#1c1a00 33.49%,#1f2200 34.06%,#212800 34.95%,#1f1f00 35.84%,#1a1100 36.73%,#150b00 37.88%,#140900 39.16%,#130700 42.42%,#130500 46.17%,#120200 55.18%,#120200 56.38%,#110100 69.13%,#100100 84.44%,#0f0100 100%)"></i>
<i style="background:linear-gradient(#ff0000 0%,#ff0000 6.531%,#f45200 6.722%,#ee9a00 6.977%,#e6bf00 7.36%,#dbbf00 7.87%,#d0c800 8.508%,#c2d800 9.273%,#b3e700 10.29%,#a1f700 11.57%,#9ff900 11.73%,#8ffd00 13.1%,#86fc00 14.29%,#81fb00 15.01%,#80fb00 15.56%,#83fb00 16.07%,#8bfd00 16.45%,#9afe00 16.84%,#aaef00 17.22%,#b6e400 17.56%,#bae000 17.73%,#c3d700 18.75%,#bedc00 19.77%,#a9f000 20.54%,#9ff900 20.75%,#88fc00 21.17%,#64f600 21.81%,#54f300 22.45%,#4ef200 23.09%,#4aef00 23.72%,#47eb00 24.36%,#46e900 24.58%,#45e400 25%,#41db00 25.77%,#3ccd00 27.04%,#33b300 29.68%,#309900 30.87%,#2c7200 33.16%,#2c7000 34.06%,#2c6a00 34.95%,#2a5800 35.84%,#295200 36.06%,#263c00 36.73%,#222200 37.88%,#1f1900 39.16%,#190800 44.99%,#190700 46.17%,#150300 56.38%,#140300 57.74%,#130100 69.13%,#110100 84.44%,#100100 100%)"></i>
<i style="background:linear-gradient(#ff0000 0%,#ff0000 3.291%,#ff0000 3.482%,#e5bf00 3.737%,#cfc800 4.12%,#b6e400 4.63%,#9afe00 5.268%,#84fc00 6.033%,#72f900 7.054%,#62f600 8.329%,#57f400 9.86%,#52f300 11.73%,#52f300 11.77%,#50f300 14.29%,#50f300 14.32%,#58f400 15.56%,#68f700 16.07%,#7cfa00 16.45%,#93fe00 16.84%,#a8f100 17.22%,#b5e500 17.51%,#bdde00 17.73%,#c7d200 18.75%,#c2d800 19.77%,#abee00 20.54%,#88fc00 21.17%,#7dfa00 21.34%,#5cf500 21.81%,#38d300 22.45%,#234b00 23.09%,#1a1c00 23.72%,#171700 24.36%,#161500 25%,#151300 25.77%,#151300 26.44%,#151200 27.04%,#151000 30.87%,#181300 32.82%,#1a1500 33.16%,#1f2200 34.06%,#212800 34.95%,#1f1f00 35.84%,#1a1000 36.73%,#150b00 37.88%,#140900 39.16%,#130700 41.75%,#130500 46.17%,#120300 54.5%,#120200 56.38%,#110100 69.13%,#100100 84.44%,#0f0100 100%)"></i>
<i style="background:linear-gradient(#ff0000 0%,#ff0000 4.298%,#f35400 4.49%,#e7bf00 4.745%,#d7bf00 5.128%,#c2d800 5.638%,#abee00 6.276%,#93fe00 7.041%,#81fb00 8.061%,#73f900 9.337%,#69f700 10.87%,#66f700 11.73%,#64f600 12.78%,#62f600 14.29%,#65f600 15.33%,#68f700 15.56%,#77f900 16.07%,#89fc00 16.45%,#9ffa00 16.84%,#b2e800 17.22%,#c5d400 17.73%,#d0c700 18.52%,#d0c700 18.75%,#cace00 19.77%,#b3e700 20.54%,#8dfd00 21.17%,#5df500 21.81%,#3cda00 22.35%,#37d200 22.45%,#224200 23.09%,#191900 23.72%,#161500 24.36%,#151300 25%,#141100 25.77%,#131000 27.04%,#130f00 27.45%,#120d00 30.87%,#171100 33.16%,#1b1600 33.83%,#1c1900 34.06%,#1e1e00 34.95%,#1c1600 35.84%,#170d00 36.73%,#120900 37.88%,#110800 39.16%,#100600 42.76%,#100400 46.17%,#0f0200 55.51%,#0f0200 56.38%,#0e0100 69.13%,#0d0100 84.44%,#0b0100 100%)"></i>
<i style="background:linear-gradient(#ff0000 0%,#ff0000 11.73%,#ff0000 14.29%,#ff0000 15.56%,#ff0000 16.07%,#ff0000 16.39%,#ff0000 16.45%,#ff0000 16.58%,#f17000 16.84%,#ee9200 17.22%,#ecb200 17.73%,#e9bf00 18.37%,#e7bf00 18.75%,#e4bf00 19.13%,#dfbf00 19.77%,#dbbf00 20.15%,#d6c000 20.54%,#cfc900 21.17%,#cccb00 21.43%,#cacf00 21.81%,#c5d500 22.45%,#c2d900 22.96%,#c1da00 23.09%,#bdde00 23.72%,#b9e100 24.36%,#b5e200 24.87%,#b5e200 25%,#b0e200 25.77%,#a9e200 27.04%,#a7e200 27.42%,#96da00 30.61%,#94d800 30.87%,#87c000 33.16%,#80b600 34.06%,#7db200 34.44%,#79ac00 34.95%,#72a300 35.84%,#6b9900 36.73%,#628d00 37.88%,#598000 39.16%,#567c00 39.54%,#2f3200 45.92%,#2e2e00 46.17%,#120200 54.85%,#100200 56.38%,#0b0100 67.6%,#0b0100 69.13%,#090100 84.44%,#080100 100%)"></i>
<i style="background:linear-gradient(#ff0000 0%,#ff0000 11.73%,#ff0000 14.29%,#ff0000 15.56%,#ff0000 16.07%,#ff0000 16.39%,#ff0000 16.45%,#ff0000 16.58%,#f17100 16.84%,#ee9600 17.22%,#ebbd00 17.73%,#e7bf00 18.37%,#e5bf00 18.75%,#e2bf00 19.13%,#ddbf00 19.77%,#d9bf00 20.15%,#d5c100 20.54%,#cec900 21.17%,#cccb00 21.43%,#cacf00 21.81%,#c5d500 22.45%,#c2d900 22.96%,#c1da00 23.09%,#bdde00 23.72%,#b9e100 24.36%,#b5e200 24.87%,#b5e200 25%,#b0e200 25.77%,#a9e200 27.04%,#a7e200 27.42%,#96da00 30.61%,#94d800 30.87%,#87c000 33.16%,#80b600 34.06%,#7db200 34.44%,#79ac00 34.95%,#72a300 35.84%,#6b9900 36.73%,#628d00 37.88%,#598000 39.16%,#567c00 39.54%,#2f3200 45.92%,#2e2e00 46.17%,#120200 54.85%,#100200 56.38%,#0b0100 67.6%,#0b0100 69.13%,#0a0100 84.44%,#080100 100%)"></i>
<i style="background:linear-gradient(#ff0000 0%,#ff0000 3.827%,#f35400 4.018%,#e6bf00 4.273%,#d3c300 4.656%,#bddd00 5.166%,#a4f500 5.804%,#8cfd00 6.569%,#7bfa00 7.589%,#6df800 8.865%,#64f600 10.4%,#60f500 11.73%,#5ff500 12.31%,#5df500 14.29%,#5ef500 14.86%,#64f600 15.56%,#72f800 16.07%,#83fb00 16.45%,#97ff00 16.84%,#a9f000 17.22%,#bbdf00 17.73%,#c1d900 18.05%,#c5d500 18.75%,#c0db00 19.77%,#a9f000 20.54%,#86fc00 21.17%,#62f600 21.68%,#59f400 21.81%,#54f400 21.88%,#95fe00 22.45%,#adec00 22.58%,#a6f300 23.09%,#9dfb00 23.72%,#94fe00 24.36%,#8bfa00 25%,#80f300 25.77%,#75ea00 26.98%,#75ea00 27.04%,#54cf00 30.87%,#4eb800 33.16%,#4eb600 33.35%,#4caf00 34.06%,#4aa400 34.95%,#479a00 35.84%,#458f00 36.73%,#428200 37.88%,#3f7400 39.16%,#375400 42.28%,#334700 43.62%,#2e2f00 46.17%,#1e0700 55.04%,#1c0500 56.38%,#190200 69.13%,#160100 84.44%,#130100 100%)"></i>
<i style="background:linear-gradient(#ff0000 0%,#ff0000 3.355%,#ff0000 3.546%,#e5bf00 3.801%,#d0c700 4.184%,#b7e300 4.694%,#9dfc00 5.332%,#88fc00 6.097%,#7bfa00 7.117%,#72f900 8.393%,#6ef800 9.923%,#6df800 11.73%,#6df800 11.84%,#6cf800 14.29%,#6cf800 14.39%,#73f900 15.56%,#80fb00 16.07%,#91fe00 16.45%,#a4f500 16.84%,#b5e500 17.22%,#c2d900 17.58%,#c6d300 17.73%,#d0c800 18.75%,#cace00 19.77%,#b3e600 20.54%,#8efd00 21.17%,#7efa00 21.4%,#5ff500 21.81%,#3ad600 22.45%,#245200 23.09%,#1b1e00 23.72%,#181700 24.36%,#171500 25%,#161400 25.77%,#151300 26.51%,#151300 27.04%,#151100 30.87%,#191300 32.88%,#1a1600 33.16%,#1f2300 34.06%,#222a00 34.95%,#1f1f00 35.84%,#1a1100 36.73%,#160c00 37.88%,#140a00 39.16%,#140800 41.81%,#130500 46.17%,#130300 54.57%,#130200 56.38%,#120100 69.13%,#100100 84.44%,#0f0100 100%)"></i>
<i style="background:linear-gradient(#ff0000 0%,#ff0000 3.814%,#ff0000 4.005%,#e6bf00 4.26%,#d4c200 4.643%,#bddd00 5.153%,#a4f400 5.791%,#8cfd00 6.556%,#7cfa00 7.577%,#6ef800 8.852%,#66f600 10.38%,#62f600 11.73%,#61f600 12.3%,#60f500 14.29%,#60f600 14.85%,#67f700 15.56%,#75f900 16.07%,#86fc00 16.45%,#9afe00 16.84%,#aced00 17.22%,#bfdc00 17.73%,#c5d500 18.04%,#c8d000 18.75%,#c3d700 19.77%,#adec00 20.54%,#89fc00 21.17%,#5cf500 21.81%,#59f400 21.86%,#39d400 22.45%,#245400 23.09%,#1b2100 23.72%,#181800 24.36%,#171600 25%,#161500 25.77%,#161300 26.96%,#161300 27.04%,#151100 30.87%,#1b1700 33.16%,#1c1a00 33.34%,#1f2400 34.06%,#222b00 34.95%,#1f2000 35.84%,#1a1200 36.73%,#160c00 37.88%,#140a00 39.16%,#140700 42.27%,#140500 46.17%,#130300 55.03%,#130200 56.38%,#120100 69.13%,#100100 84.44%,#0f0100 100%)"></i>
<i style="background:linear-gradient(#ff0000 0%,#ff0000 4.681%,#ff0000 4.872%,#e9bf00 5.128%,#d9bf00 5.51%,#c6d400 6.02%,#b0e900 6.658%,#99ff00 7.423%,#85fc00 8.444%,#75f900 9.719%,#68f700 11.25%,#65f600 11.73%,#5ff500 13.16%,#5cf500 14.29%,#62f600 15.56%,#65f600 15.71%,#71f800 16.07%,#84fb00 16.45%,#9bfd00 16.84%,#b0ea00 17.22%,#c4d600 17.73%,#cfc800 18.75%,#cfc800 18.9%,#cacf00 19.77%,#b2e700 20.54%,#8dfd00 21.17%,#5ff500 21.81%,#3bd800 22.45%,#30b700 22.73%,#276e00 23.09%,#1e2d00 23.72%,#1b2100 24.36%,#1a1b00 25%,#191800 25.77%,#181600 27.04%,#171500 27.83%,#161200 30.87%,#1b1900 33.16%,#202600 34.06%,#212700 34.21%,#222f00 34.95%,#202100 35.84%,#1b1300 36.73%,#160c00 37.88%,#150a00 39.16%,#140700 43.14%,#140500 46.17%,#130300 55.89%,#130300 56.38%,#120100 69.13%,#110100 84.44%,#100100 100%)"></i>
<i style="background:linear-gradient(#ff0000 0%,#ff0000 3.89%,#ff0000 4.082%,#e6bf00 4.337%,#d4c200 4.719%,#bedc00 5.23%,#a5f400 5.867%,#8cfd00 6.633%,#7bfa00 7.653%,#6bf700 8.929%,#5ff500 10.46%,#5af400 11.73%,#58f400 12.37%,#56f400 14.29%,#56f400 14.92%,#5cf500 15.56%,#6af700 16.07%,#7cfa00 16.45%,#91fe00 16.84%,#a4f500 17.22%,#b7e300 17.73%,#bedc00 18.11%,#c1d900 18.75%,#bcde00 19.77%,#a6f200 20.54%,#84fb00 21.17%,#59f400 21.81%,#51f300 21.94%,#37d200 22.45%,#234a00 23.09%,#1b1e00 23.72%,#181700 24.36%,#171500 25%,#161400 25.77%,#151200 27.04%,#141000 30.87%,#1a1400 33.16%,#1b1800 33.42%,#1f2100 34.06%,#212600 34.95%,#1e1e00 35.84%,#191000 36.73%,#150b00 37.88%,#140900 39.16%,#130700 42.35%,#130500 46.17%,#120200 55.1%,#120200 56.38%,#110100 69.13%,#100100 84.44%,#0e0100 100%)"></i>
<i style="background:linear-gradient(#ff0000 0%,#ff0000 9.49%,#f35300 9.681%,#ef8600 9.936%,#eabf00 10.32%,#e2bf00 10.83%,#dabf00 11.47%,#d6bf00 11.73%,#d0c700 12.23%,#c3d700 13.25%,#b8e200 14.29%,#b5e400 14.53%,#abee00 15.56%,#a7f200 16.06%,#a6f200 16.07%,#a4f400 16.45%,#a7f200 16.84%,#b0e900 17.22%,#c0da00 17.73%,#c6d400 17.97%,#cace00 18.75%,#c5d500 19.77%,#b0ea00 20.52%,#afea00 20.54%,#92fe00 21.17%,#80fb00 21.81%,#7afa00 22.45%,#76f900 23.09%,#73f900 23.71%,#73f900 23.72%,#70f800 24.36%,#6df500 25%,#6af000 25.77%,#64e700 27.04%,#62e400 27.54%,#55cf00 30.87%,#4fbd00 32.64%,#4eb800 33.16%,#4bae00 34.06%,#49a300 34.95%,#469800 35.84%,#438d00 36.73%,#3f8000 37.88%,#3c7300 39.02%,#3c7200 39.16%,#2c2b00 46.17%,#291f00 47.95%,#1f0700 56.38%,#1b0400 60.7%,#170200 69.13%,#130100 84.44%,#110100 100%)"></i>
<i style="background:linear-gradient(#ff0000 0%,#ff0000 4.12%,#f35200 4.311%,#e7bf00 4.566%,#d6c000 4.949%,#c0da00 5.459%,#a9f000 6.097%,#91fe00 6.862%,#83fb00 7.883%,#78f900 9.158%,#71f800 10.69%,#6ff800 11.73%,#6ff800 12.6%,#6ef800 14.29%,#6ff800 15.15%,#73f900 15.56%,#7ffb00 16.07%,#8dfd00 16.45%,#9efa00 16.84%,#adec00 17.22%,#bcde00 17.73%,#c4d600 18.34%,#c5d500 18.75%,#c0db00 19.77%,#abee00 20.54%,#88fc00 21.17%,#5bf500 21.81%,#45e800 22.17%,#38d400 22.45%,#245600 23.09%,#1c2300 23.72%,#191900 24.36%,#181700 25%,#171500 25.77%,#161400 27.04%,#161300 27.27%,#151100 30.87%,#1b1700 33.16%,#1d1e00 33.65%,#1f2400 34.06%,#222b00 34.95%,#1f2000 35.84%,#1a1200 36.73%,#160c00 37.88%,#140a00 39.16%,#140700 42.58%,#140500 46.17%,#130300 55.33%,#130200 56.38%,#120100 69.13%,#100100 84.44%,#0f0100 100%)"></i>
<i style="background:linear-gradient(#ff0000 0%,#ff0000 6.122%,#ff0000 6.314%,#ee9c00 6.569%,#e5bf00 6.952%,#dabf00 7.462%,#ceca00 8.099%,#c0db00 8.865%,#afea00 9.885%,#9dfb00 11.16%,#96fe00 11.73%,#8bfd00 12.69%,#80fb00 14.29%,#7efa00 14.6%,#7afa00 15.56%,#7efb00 16.07%,#88fc00 16.45%,#98ff00 16.84%,#a4f400 17.16%,#a7f200 17.22%,#b7e200 17.73%,#c0da00 18.75%,#bbdf00 19.77%,#aeec00 20.34%,#a6f300 20.54%,#84fc00 21.17%,#5ff500 21.81%,#4df200 22.45%,#47ea00 23.09%,#44e500 23.72%,#41e200 24.17%,#41e000 24.36%,#3ed900 25%,#3bd100 25.77%,#36c300 27.04%,#2e9400 29.27%,#297100 30.87%,#264e00 33.16%,#275000 34.06%,#274e00 34.95%,#253f00 35.65%,#253900 35.84%,#202100 36.73%,#1c1500 37.88%,#1a0e00 39.16%,#150600 44.58%,#140500 46.17%,#110200 56.38%,#110200 57.33%,#0f0100 69.13%,#0d0100 84.44%,#0c0100 100%)"></i>
<i style="background:linear-gradient(#ff0000 0%,#ff0000 5.077%,#ff0000 5.268%,#e9bf00 5.523%,#dbbf00 5.906%,#c9d000 6.416%,#b5e500 7.054%,#9efa00 7.819%,#88fc00 8.839%,#79fa00 10.11%,#6cf700 11.65%,#6bf700 11.73%,#62f600 13.56%,#60f500 14.29%,#63f600 15.56%,#71f800 16.07%,#72f900 16.11%,#82fb00 16.45%,#97ff00 16.84%,#aaef00 17.22%,#bddd00 17.73%,#c8d200 18.75%,#c7d300 19.3%,#c2d800 19.77%,#abee00 20.54%,#87fc00 21.17%,#59f400 21.81%,#36d100 22.45%,#245700 23.09%,#245100 23.12%,#1d2700 23.72%,#1a1b00 24.36%,#181700 25%,#161500 25.77%,#151200 27.04%,#141000 28.23%,#120d00 30.87%,#161000 33.16%,#1b1700 34.06%,#1d1c00 34.6%,#1d1c00 34.95%,#1b1400 35.84%,#160d00 36.73%,#110900 37.88%,#100800 39.16%,#0f0500 43.53%,#0f0400 46.17%,#0e0200 56.29%,#0e0200 56.38%,#0d0100 69.13%,#0c0100 84.44%,#0a0100 100%)"></i>
<i style="background:linear-gradient(#ff0000 0%,#ff0000 4.12%,#f35400 4.311%,#e7bf00 4.566%,#d5c000 4.949%,#c0da00 5.459%,#a8f100 6.097%,#8ffd00 6.862%,#7efa00 7.883%,#6df800 9.158%,#60f500 10.69%,#5af500 11.73%,#57f400 12.6%,#54f300 14.29%,#55f400 15.15%,#5af500 15.56%,#6bf700 16.07%,#7ffb00 16.45%,#97ff00 16.84%,#adec00 17.22%,#c3d700 17.73%,#ceca00 18.34%,#cfc900 18.75%,#c9d000 19.77%,#b1e800 20.54%,#8cfd00 21.17%,#5df500 21.81%,#46e900 22.17%,#38d400 22.45%,#234b00 23.09%,#1a1c00 23.72%,#171600 24.36%,#161500 25%,#151300 25.77%,#141100 27.04%,#141100 27.27%,#130f00 30.87%,#191300 33.16%,#1b1800 33.65%,#1e1e00 34.06%,#202300 34.95%,#1d1b00 35.84%,#180f00 36.73%,#140a00 37.88%,#120800 39.16%,#120600 42.58%,#120400 46.17%,#110200 55.33%,#110200 56.38%,#100100 69.13%,#0e0100 84.44%,#0d0100 100%)"></i>
<i style="background:linear-gradient(#ff0000 0%,#ff0000 3.342%,#f45200 3.533%,#e4bf00 3.788%,#d0c700 4.171%,#b7e300 4.681%,#9cfc00 5.319%,#88fc00 6.084%,#7afa00 7.105%,#71f800 8.38%,#6df800 9.911%,#6bf700 11.73%,#6bf700 11.82%,#6bf700 14.29%,#6bf700 14.37%,#71f800 15.56%,#7dfa00 16.07%,#8cfd00 16.45%,#9efa00 16.84%,#aeeb00 17.22%,#bae000 17.56%,#bedc00 17.73%,#c7d200 18.75%,#c2d800 19.77%,#aced00 20.54%,#89fc00 21.17%,#7bfa00 21.39%,#5cf500 21.81%,#39d400 22.45%,#245400 23.09%,#1b2000 23.72%,#181800 24.36%,#171600 25%,#161500 25.77%,#161400 26.49%,#161300 27.04%,#161100 30.87%,#1a1400 32.87%,#1b1800 33.16%,#202500 34.06%,#222e00 34.95%,#202100 35.84%,#1b1300 36.73%,#160c00 37.88%,#150a00 39.16%,#140800 41.8%,#140500 46.17%,#130300 54.55%,#130300 56.38%,#120100 69.13%,#110100 84.44%,#100100 100%)"></i>
<i style="background:linear-gradient(#ff0000 0%,#ff0000 4.898%,#ff0000 5.089%,#e9bf00 5.344%,#dabf00 5.727%,#c8d100 6.237%,#b3e700 6.875%,#9dfb00 7.64%,#8afd00 8.661%,#7ffb00 9.936%,#77f900 11.47%,#76f900 11.73%,#73f900 13.38%,#72f900 14.29%,#77f900 15.56%,#7efa00 15.93%,#82fb00 16.07%,#8ffd00 16.45%,#9ffa00 16.84%,#aced00 17.22%,#bbdf00 17.73%,#c3d700 18.75%,#c3d700 19.12%,#bedc00 19.77%,#aaef00 20.54%,#88fc00 21.17%,#5df500 21.81%,#3cd900 22.45%,#2d9c00 22.95%,#2a8600 23.09%,#223f00 23.72%,#1f3000 24.36%,#1e2900 25%,#1c2400 25.77%,#1b1e00 27.04%,#1b1b00 28.05%,#1a1600 30.87%,#1f2300 33.16%,#233700 34.06%,#254000 34.43%,#264300 34.95%,#233100 35.84%,#1e1b00 36.73%,#1a0f00 37.88%,#180c00 39.16%,#180800 43.35%,#170600 46.17%,#160300 56.11%,#160300 56.38%,#150200 69.13%,#140100 84.44%,#130100 100%)"></i>
<i style="background:linear-gradient(#ff0000 0%,#ff0000 3.431%,#f35700 3.622%,#e4bf00 3.878%,#d0c700 4.26%,#b8e200 4.77%,#9dfb00 5.408%,#87fc00 6.173%,#76f900 7.194%,#68f700 8.469%,#60f500 10%,#5cf500 11.73%,#5cf500 11.91%,#5bf500 14.29%,#5bf500 14.46%,#62f600 15.56%,#71f800 16.07%,#84fb00 16.45%,#99ff00 16.84%,#aded00 17.22%,#bedc00 17.65%,#c0da00 17.73%,#cace00 18.75%,#c5d500 19.77%,#afeb00 20.54%,#8bfd00 21.17%,#76f900 21.48%,#5ef500 21.81%,#3bd700 22.45%,#266400 23.09%,#1d2700 23.72%,#1a1c00 24.36%,#191900 25%,#181700 25.77%,#181600 26.58%,#181600 27.04%,#171300 30.87%,#1c1b00 32.96%,#1d1d00 33.16%,#222c00 34.06%,#243900 34.95%,#212700 35.84%,#1c1700 36.73%,#180d00 37.88%,#170b00 39.16%,#160900 41.89%,#160600 46.17%,#150300 54.64%,#150300 56.38%,#140100 69.13%,#130100 84.44%,#110100 100%)"></i>
<i style="background:linear-gradient(#ff0000 0%,#ff0000 4.962%,#f35300 5.153%,#e9bf00 5.408%,#dabf00 5.791%,#c8d100 6.301%,#b3e600 6.939%,#9dfb00 7.704%,#88fc00 8.724%,#79fa00 10%,#6df800 11.53%,#6cf700 11.73%,#65f600 13.44%,#63f600 14.29%,#68f700 15.56%,#73f900 15.99%,#76f900 16.07%,#87fc00 16.45%,#9cfc00 16.84%,#b0ea00 17.22%,#c3d700 17.73%,#cdcb00 18.75%,#cdcb00 19.18%,#c8d100 19.77%,#b1e800 20.54%,#8dfd00 21.17%,#60f600 21.81%,#3ddc00 22.45%,#2c9600 23.01%,#2a8b00 23.09%,#224200 23.72%,#1f3000 24.36%,#1e2a00 25%,#1c2400 25.77%,#1b1e00 27.04%,#1b1b00 28.11%,#1a1600 30.87%,#1f2300 33.16%,#233600 34.06%,#254000 34.49%,#254200 34.95%,#233000 35.84%,#1e1b00 36.73%,#190f00 37.88%,#180c00 39.16%,#170800 43.42%,#170600 46.17%,#160300 56.17%,#160300 56.38%,#150200 69.13%,#140100 84.44%,#130100 100%)"></i>
<i style="background:linear-gradient(#ff0000 0%,#ff0000 4.247%,#ff0000 4.439%,#e8bf00 4.694%,#d7bf00 5.077%,#c2d800 5.587%,#abee00 6.224%,#95fe00 6.99%,#86fc00 8.01%,#7dfa00 9.286%,#77f900 10.82%,#76f900 11.73%,#75f900 12.73%,#74f900 14.29%,#77f900 15.28%,#7afa00 15.56%,#86fc00 16.07%,#94fe00 16.45%,#a5f400 16.84%,#b3e600 17.22%,#c3d800 17.73%,#cbcd00 18.47%,#cbcd00 18.75%,#c6d300 19.77%,#b1e900 20.54%,#8dfd00 21.17%,#60f500 21.81%,#43e400 22.3%,#3cd900 22.45%,#287600 23.09%,#1f3000 23.72%,#1c2500 24.36%,#1b1f00 25%,#1a1b00 25.77%,#191800 27.04%,#191700 27.4%,#191500 30.87%,#1e2100 33.16%,#212a00 33.78%,#233300 34.06%,#254000 34.95%,#232d00 35.84%,#1e1a00 36.73%,#190e00 37.88%,#180c00 39.16%,#170900 42.7%,#170600 46.17%,#160300 55.46%,#160300 56.38%,#150200 69.13%,#140100 84.44%,#120100 100%)"></i>
<i style="background:linear-gradient(#ff0000 0%,#ff0000 3.023%,#f35700 3.214%,#e3bf00 3.469%,#cccc00 3.852%,#b1e800 4.362%,#94fe00 5%,#80fb00 5.765%,#6ff800 6.786%,#63f600 8.061%,#5cf500 9.592%,#59f400 11.51%,#59f400 11.73%,#58f400 14.06%,#58f400 14.29%,#60f500 15.56%,#6ef800 16.07%,#80fb00 16.45%,#94fe00 16.84%,#a7f200 17.22%,#a8f100 17.24%,#bae100 17.73%,#c3d700 18.75%,#bedc00 19.77%,#a9f000 20.54%,#8efd00 21.07%,#88fc00 21.17%,#5ef500 21.81%,#3cd900 22.45%,#287b00 23.09%,#203200 23.72%,#1d2700 24.36%,#1c2300 25%,#1b1f00 25.77%,#1b1d00 26.17%,#1b1c00 27.04%,#1a1900 30.87%,#1d2000 32.55%,#202700 33.16%,#254100 34.06%,#274d00 34.95%,#253a00 35.84%,#201f00 36.73%,#1b1200 37.88%,#1a0e00 39.16%,#190b00 41.48%,#190700 46.17%,#180400 54.23%,#180300 56.38%,#170200 69.13%,#160100 84.44%,#150100 100%)"></i>
<i style="background:linear-gradient(#ff0000 0%,#ff0000 4.298%,#f35300 4.49%,#e7bf00 4.745%,#d7bf00 5.128%,#c2d800 5.638%,#abee00 6.276%,#93fe00 7.041%,#81fb00 8.061%,#72f900 9.337%,#67f700 10.87%,#63f600 11.73%,#61f600 12.78%,#5ef500 14.29%,#61f600 15.33%,#65f600 15.56%,#73f900 16.07%,#85fc00 16.45%,#9bfe00 16.84%,#aeec00 17.22%,#c1d900 17.73%,#cbcd00 18.52%,#cbcd00 18.75%,#c6d300 19.77%,#b0ea00 20.54%,#8cfd00 21.17%,#60f600 21.81%,#42e200 22.35%,#3ddc00 22.45%,#298400 23.09%,#213700 23.72%,#1e2b00 24.36%,#1d2600 25%,#1c2100 25.77%,#1b1e00 27.04%,#1b1d00 27.45%,#1a1800 30.87%,#202600 33.16%,#233700 33.83%,#243f00 34.06%,#274b00 34.95%,#243800 35.84%,#1f1e00 36.73%,#1b1100 37.88%,#190d00 39.16%,#190900 42.76%,#180700 46.17%,#180300 55.51%,#180300 56.38%,#170200 69.13%,#150100 84.44%,#140100 100%)"></i>
<i style="background:linear-gradient(#ff0000 0%,#ff0000 4.503%,#ff0000 4.694%,#e8bf00 4.949%,#d8bf00 5.332%,#c4d600 5.842%,#aeeb00 6.48%,#96ff00 7.245%,#83fb00 8.265%,#75f900 9.541%,#69f700 11.07%,#66f600 11.73%,#62f600 12.98%,#60f500 14.29%,#65f600 15.54%,#66f600 15.56%,#74f900 16.07%,#86fc00 16.45%,#9bfd00 16.84%,#aeec00 17.22%,#c1da00 17.73%,#cbcd00 18.72%,#cbcd00 18.75%,#c6d400 19.77%,#afea00 20.54%,#8cfd00 21.17%,#60f500 21.81%,#3cda00 22.45%,#38d400 22.55%,#297f00 23.09%,#203500 23.72%,#1d2900 24.36%,#1c2400 25%,#1b1e00 25.77%,#1a1a00 27.04%,#1a1900 27.65%,#191500 30.87%,#1e2200 33.16%,#233600 34.03%,#233600 34.06%,#254300 34.95%,#233000 35.84%,#1e1b00 36.73%,#190f00 37.88%,#180c00 39.16%,#170900 42.96%,#170600 46.17%,#160300 55.71%,#160300 56.38%,#150200 69.13%,#140100 84.44%,#130100 100%)"></i>
<i style="background:linear-gradient(#ff0000 0%,#ff0000 4.732%,#ff0000 4.923%,#e9bf00 5.179%,#d9bf00 5.561%,#c6d300 6.071%,#b1e900 6.709%,#9afe00 7.474%,#87fc00 8.495%,#79fa00 9.77%,#6ff800 11.3%,#6df800 11.73%,#68f700 13.21%,#67f700 14.29%,#6cf800 15.56%,#70f800 15.77%,#79fa00 16.07%,#88fc00 16.45%,#9bfd00 16.84%,#acee00 17.22%,#bdde00 17.73%,#c6d400 18.75%,#c6d400 18.95%,#c1da00 19.77%,#aced00 20.54%,#8afc00 21.17%,#5ff500 21.81%,#3edc00 22.45%,#32c500 22.78%,#2b8f00 23.09%,#234800 23.72%,#203300 24.36%,#1f2e00 25%,#1d2800 25.77%,#1d2300 27.04%,#1c2100 27.88%,#1b1c00 30.87%,#212900 33.16%,#254500 34.06%,#264a00 34.26%,#285000 34.95%,#253d00 35.84%,#202000 36.73%,#1c1300 37.88%,#1a0f00 39.16%,#1a0900 43.19%,#190700 46.17%,#180400 55.94%,#180400 56.38%,#170200 69.13%,#160100 84.44%,#150100 100%)"></i>
<i style="background:linear-gradient(#ff0000 0%,#ff0000 4.528%,#ff0000 4.719%,#e8bf00 4.974%,#d8bf00 5.357%,#c5d500 5.867%,#aeeb00 6.505%,#97ff00 7.27%,#83fb00 8.291%,#74f900 9.566%,#68f700 11.1%,#65f600 11.73%,#61f600 13.01%,#5ef500 14.29%,#64f600 15.56%,#72f900 16.07%,#84fc00 16.45%,#99ff00 16.84%,#aced00 17.22%,#c0db00 17.73%,#cacf00 18.75%,#c5d500 19.77%,#aeeb00 20.54%,#8bfd00 21.17%,#5ef500 21.81%,#3bd800 22.45%,#36d100 22.58%,#277300 23.09%,#1f3000 23.72%,#1c2400 24.36%,#1b1f00 25%,#1a1900 25.77%,#191700 27.04%,#191600 27.68%,#181400 30.87%,#1d1e00 33.16%,#222c00 34.06%,#243900 34.95%,#212700 35.84%,#1c1700 36.73%,#180e00 37.88%,#170b00 39.16%,#160800 42.98%,#160600 46.17%,#150300 55.74%,#150300 56.38%,#140100 69.13%,#130100 84.44%,#110100 100%)"></i>
<i style="background:linear-gradient(#ff0000 0%,#ff0000 6.11%,#f35300 6.301%,#ed9f00 6.556%,#e5bf00 6.939%,#dabf00 7.449%,#cdca00 8.087%,#c0db00 8.852%,#afea00 9.872%,#9efb00 11.15%,#97ff00 11.73%,#8cfd00 12.68%,#7dfa00 14.29%,#7bfa00 14.59%,#7bfa00 15.56%,#83fb00 16.07%,#8efd00 16.45%,#9dfb00 16.84%,#a7f200 17.14%,#a9f000 17.22%,#b7e300 17.73%,#bedc00 18.75%,#bae000 19.77%,#adec00 20.33%,#a6f300 20.54%,#85fc00 21.17%,#5bf500 21.81%,#3ad700 22.45%,#298100 23.09%,#213800 23.72%,#1f2e00 24.16%,#1e2a00 24.36%,#1c2300 25%,#1a1c00 25.77%,#191700 27.04%,#181400 29.26%,#171300 30.87%,#1d1d00 33.16%,#212a00 34.06%,#243700 34.95%,#222b00 35.64%,#212500 35.84%,#1c1600 36.73%,#180d00 37.88%,#160b00 39.16%,#160700 44.57%,#150600 46.17%,#150300 56.38%,#150300 57.32%,#140100 69.13%,#120100 84.44%,#110100 100%)"></i>
<i style="background:linear-gradient(#ff0000 0%,#ff0000 5.166%,#ff0000 5.357%,#eda900 5.612%,#e2bf00 5.995%,#d6c000 6.505%,#c8d100 7.143%,#b8e200 7.908%,#a6f300 8.929%,#93fe00 10.2%,#7efb00 11.73%,#70f800 13.65%,#6ef800 14.29%,#72f800 15.56%,#7dfa00 16.07%,#81fb00 16.2%,#8bfd00 16.45%,#9bfd00 16.84%,#a9f000 17.22%,#b8e200 17.73%,#c1da00 18.75%,#c0db00 19.39%,#bcde00 19.77%,#a7f100 20.54%,#86fc00 21.17%,#5bf500 21.81%,#38d400 22.45%,#255b00 23.09%,#234500 23.21%,#1c2500 23.72%,#191900 24.36%,#181800 25%,#171600 25.77%,#171400 27.04%,#161400 28.32%,#161200 30.87%,#1c1a00 33.16%,#212700 34.06%,#233200 34.69%,#233300 34.95%,#202300 35.84%,#1b1500 36.73%,#170d00 37.88%,#160b00 39.16%,#150700 43.62%,#150500 46.17%,#140300 56.38%,#130100 69.13%,#120100 84.44%,#100100 100%)"></i>
<i style="background:linear-gradient(#ff0000 0%,#ff0000 6.798%,#ff0000 6.99%,#ee9600 7.245%,#e6bf00 7.628%,#dcbf00 8.138%,#d1c600 8.776%,#c4d600 9.541%,#b5e500 10.56%,#a5f400 11.73%,#a3f500 11.84%,#91fe00 13.37%,#86fc00 14.29%,#7afa00 15.28%,#78f900 15.56%,#79fa00 16.07%,#83fb00 16.45%,#94fe00 16.84%,#a7f200 17.22%,#b9e100 17.73%,#bcde00 17.83%,#c3d700 18.75%,#bedc00 19.77%,#a9f000 20.54%,#91fe00 21.02%,#88fc00 21.17%,#5ff500 21.81%,#41e100 22.45%,#32c600 23.09%,#2b8f00 23.72%,#276e00 24.36%,#255a00 24.85%,#245400 25%,#223b00 25.77%,#1f2c00 27.04%,#1c1f00 29.95%,#1c1d00 30.87%,#202800 33.16%,#254300 34.06%,#274f00 34.95%,#253b00 35.84%,#222a00 36.33%,#202000 36.73%,#1b1300 37.88%,#1a0e00 39.16%,#190800 45.26%,#190700 46.17%,#180300 56.38%,#180300 58.01%,#170200 69.13%,#160100 84.44%,#150100 100%)"></i>
<i style="background:linear-gradient(#ff0000 0%,#ff0000 6.135%,#f35200 6.327%,#ed9e00 6.582%,#e5bf00 6.964%,#dabf00 7.474%,#cdca00 8.112%,#c0db00 8.878%,#afea00 9.898%,#9dfc00 11.17%,#95fe00 11.73%,#88fc00 12.7%,#72f900 14.29%,#6ef800 14.62%,#67f700 15.56%,#6ef800 16.07%,#7efa00 16.45%,#94fe00 16.84%,#a7f100 17.17%,#aaef00 17.22%,#c0db00 17.73%,#cbcd00 18.75%,#c6d400 19.77%,#b6e400 20.36%,#afea00 20.54%,#8cfd00 21.17%,#61f600 21.81%,#3fde00 22.45%,#2d9c00 23.09%,#245500 23.72%,#223c00 24.18%,#213700 24.36%,#1f3000 25%,#1e2900 25.77%,#1c2200 27.04%,#1b1d00 29.29%,#1b1b00 30.87%,#202800 33.16%,#254300 34.06%,#274f00 34.95%,#264200 35.66%,#253c00 35.84%,#202000 36.73%,#1b1300 37.88%,#1a0e00 39.16%,#190800 44.59%,#190700 46.17%,#180400 56.38%,#180300 57.35%,#170200 69.13%,#160100 84.44%,#150100 100%)"></i>
<i style="background:linear-gradient(#ff0000 0%,#ff0000 6.403%,#f45200 6.594%,#ee9b00 6.849%,#e5bf00 7.232%,#dbbf00 7.742%,#cfc800 8.38%,#c2d900 9.145%,#b2e800 10.17%,#a0f800 11.44%,#9dfb00 11.73%,#8ffd00 12.97%,#81fb00 14.29%,#7cfa00 14.89%,#7cfa00 15.56%,#84fb00 16.07%,#90fe00 16.45%,#a1f800 16.84%,#afea00 17.22%,#b7e300 17.44%,#bfdc00 17.73%,#c7d200 18.75%,#c2d800 19.77%,#adec00 20.54%,#a9f000 20.62%,#8bfd00 21.17%,#5ff500 21.81%,#3fdd00 22.45%,#2da100 23.09%,#256000 23.72%,#223e00 24.36%,#213b00 24.45%,#203200 25%,#1e2900 25.77%,#1c2100 27.04%,#1a1900 29.55%,#1a1700 30.87%,#1f2400 33.16%,#243a00 34.06%,#264600 34.95%,#233300 35.84%,#233000 35.93%,#1e1c00 36.73%,#1a1000 37.88%,#190d00 39.16%,#180700 44.86%,#180700 46.17%,#170300 56.38%,#170300 57.61%,#160200 69.13%,#150100 84.44%,#130100 100%)"></i>
<i style="background:linear-gradient(#ff0000 0%,#ff0000 7.73%,#ff0000 7.921%,#ef8f00 8.176%,#e8bf00 8.559%,#dfbf00 9.069%,#d5c100 9.707%,#c9d000 10.47%,#bbdf00 11.49%,#b8e200 11.73%,#abee00 12.77%,#9bfe00 14.29%,#9afe00 14.3%,#90fd00 15.56%,#8efd00 16.07%,#8ffd00 16.21%,#93fe00 16.45%,#a0f900 16.84%,#aeeb00 17.22%,#bedd00 17.73%,#c6d300 18.75%,#c6d300 18.76%,#c1d900 19.77%,#aced00 20.54%,#8bfd00 21.17%,#63f600 21.81%,#5cf500 21.95%,#4bf100 22.45%,#41e100 23.09%,#3bd800 23.72%,#36d000 24.36%,#32c000 25%,#2d9c00 25.77%,#2d9c00 25.78%,#276b00 27.04%,#1e2400 30.87%,#1e2400 30.88%,#212900 33.16%,#254200 34.06%,#274c00 34.95%,#243800 35.84%,#1f1e00 36.73%,#1d1700 37.26%,#1b1200 37.88%,#190d00 39.16%,#180700 46.17%,#180700 46.19%,#170300 56.38%,#170300 58.94%,#160200 69.13%,#150100 84.44%,#140100 100%)"></i>
<i style="background:linear-gradient(#ff0000 0%,#ff0000 8.087%,#ff0000 8.278%,#ef8d00 8.533%,#e8bf00 8.916%,#e0bf00 9.426%,#d6c000 10.06%,#cace00 10.83%,#bedc00 11.73%,#bddd00 11.85%,#adec00 13.12%,#a0f800 14.29%,#9dfc00 14.66%,#94fe00 15.56%,#91fe00 16.07%,#93fe00 16.45%,#95fe00 16.57%,#9dfb00 16.84%,#aced00 17.22%,#bfdc00 17.73%,#c8d100 18.75%,#c8d100 19.12%,#c3d700 19.77%,#aeec00 20.54%,#8cfd00 21.17%,#67f700 21.81%,#55f400 22.31%,#52f300 22.45%,#49ec00 23.09%,#42e300 23.72%,#3ddc00 24.36%,#39d200 25%,#34c800 25.77%,#32bd00 26.14%,#2d9900 27.04%,#223400 30.87%,#212f00 31.24%,#243c00 33.16%,#285400 34.06%,#2a5c00 34.95%,#274800 35.84%,#222700 36.73%,#1e1a00 37.61%,#1d1800 37.88%,#1c1200 39.16%,#1b0800 46.17%,#1b0800 46.54%,#1a0400 56.38%,#1a0300 59.3%,#190200 69.13%,#170100 84.44%,#160100 100%)"></i>
<i style="background:linear-gradient(#ff0000 0%,#ff0000 8.01%,#ff0000 8.202%,#ef8d00 8.457%,#e8bf00 8.839%,#e0bf00 9.349%,#d5c000 9.987%,#cace00 10.75%,#bddd00 11.73%,#bcde00 11.77%,#adec00 13.05%,#9ff900 14.29%,#9cfc00 14.58%,#94fe00 15.56%,#92fe00 16.07%,#95fe00 16.45%,#96fe00 16.49%,#a0f900 16.84%,#adec00 17.22%,#bedd00 17.73%,#c6d300 18.75%,#c6d300 19.04%,#c2d900 19.77%,#aded00 20.54%,#8cfd00 21.17%,#66f700 21.81%,#56f400 22.23%,#51f300 22.45%,#47ea00 23.09%,#41e100 23.72%,#3cda00 24.36%,#38d000 25%,#33c500 25.77%,#31b800 26.06%,#2c9200 27.04%,#213200 30.87%,#212f00 31.16%,#243c00 33.16%,#285500 34.06%,#2a5d00 34.95%,#274900 35.84%,#222800 36.73%,#1f1b00 37.54%,#1e1800 37.88%,#1c1300 39.16%,#1b0900 46.17%,#1b0800 46.47%,#1a0400 56.38%,#1a0400 59.22%,#190200 69.13%,#180200 84.44%,#160100 100%)"></i>
<i style="background:linear-gradient(#ff0000 0%,#ff0000 8.724%,#ff0000 8.916%,#ef8900 9.171%,#e9bf00 9.554%,#e1bf00 10.06%,#d8bf00 10.7%,#cdcb00 11.47%,#cacf00 11.73%,#c0da00 12.49%,#b1e800 13.76%,#acee00 14.29%,#a1f700 15.29%,#9ffa00 15.56%,#9afe00 16.07%,#99ff00 16.45%,#9cfc00 16.84%,#a5f400 17.21%,#a6f300 17.22%,#b4e600 17.73%,#bcde00 18.75%,#b8e200 19.76%,#b7e200 19.77%,#a4f500 20.54%,#86fc00 21.17%,#6bf700 21.81%,#5df500 22.45%,#57f400 22.95%,#56f400 23.09%,#50f300 23.72%,#4bf000 24.36%,#46e500 25%,#40d900 25.77%,#3acb00 26.77%,#38c700 27.04%,#276100 30.87%,#254d00 31.87%,#264f00 33.16%,#296000 34.06%,#2b6300 34.95%,#285000 35.84%,#232f00 36.73%,#1f1a00 37.88%,#1e1800 38.25%,#1d1400 39.16%,#1b0900 46.17%,#1b0800 47.18%,#1a0400 56.38%,#1a0300 59.94%,#190200 69.13%,#180200 84.44%,#170100 100%)"></i>
<i style="background:linear-gradient(#ff0000 0%,#ff0000 9.515%,#f45200 9.707%,#f08500 9.962%,#eabf00 10.34%,#e2bf00 10.85%,#dabf00 11.49%,#d7bf00 11.73%,#d0c700 12.26%,#c4d600 13.28%,#b8e100 14.29%,#b6e400 14.55%,#acee00 15.56%,#a7f200 16.07%,#a7f200 16.08%,#a5f300 16.45%,#a8f100 16.84%,#b1e900 17.22%,#c0da00 17.73%,#c5d500 18%,#c9d000 18.75%,#c4d700 19.77%,#aeeb00 20.54%,#aeec00 20.55%,#8ffd00 21.17%,#72f900 21.81%,#65f600 22.45%,#5df500 23.09%,#5bf500 23.21%,#55f400 23.72%,#55f400 23.74%,#50f300 24.36%,#50f300 24.49%,#4cee00 25%,#47e300 25.77%,#42d500 27.04%,#41d100 27.56%,#3cb900 30.87%,#3aa700 32.67%,#3aa300 33.16%,#399b00 34.06%,#399300 34.95%,#378a00 35.84%,#368100 36.73%,#357700 37.88%,#336e00 38.9%,#336c00 39.04%,#336a00 39.16%,#210f00 46.17%,#210d00 47.97%,#1f0700 56.38%,#1e0600 60.73%,#1d0300 69.13%,#1b0200 84.44%,#190100 100%)"></i>
<i style="background:linear-gradient(#ff0000 0%,#ff0000 10.56%,#f35200 10.75%,#f08100 11.01%,#ebbe00 11.39%,#e6bf00 11.73%,#e4bf00 11.9%,#dcbf00 12.54%,#d3c300 13.3%,#c8d100 14.29%,#c8d100 14.32%,#bbdf00 15.56%,#bbdf00 15.6%,#b7e300 16.07%,#b4e600 16.45%,#b4e500 16.84%,#b7e300 17.13%,#b8e200 17.22%,#c2d900 17.73%,#c8d100 18.75%,#c7d200 19.04%,#c3d800 19.77%,#b0ea00 20.54%,#98ff00 21.17%,#8bfd00 21.59%,#86fc00 21.81%,#7dfa00 22.45%,#76f900 23.09%,#74f900 23.21%,#6ff800 23.72%,#68f700 24.36%,#67f700 24.49%,#64f400 24.78%,#62f300 25%,#5bed00 25.77%,#50e400 27.04%,#46d200 28.61%,#3ebb00 30.87%,#3aa400 33.16%,#3a9f00 33.71%,#3a9b00 34.06%,#399300 34.95%,#388a00 35.84%,#368200 36.73%,#357700 37.88%,#346e00 38.9%,#336b00 39.16%,#305900 40.09%,#211000 46.17%,#210b00 49.02%,#200700 56.38%,#1f0600 61.77%,#1e0300 69.13%,#1b0200 84.44%,#190100 100%)"></i>
<i style="background:linear-gradient(#ff0000 0%,#ff0000 10.19%,#ff0000 10.38%,#f08200 10.64%,#eabf00 11.02%,#e4bf00 11.53%,#e1bf00 11.73%,#dbbf00 12.17%,#d2c500 12.93%,#c6d300 13.95%,#c3d700 14.29%,#b9e100 15.23%,#b6e400 15.56%,#b1e800 16.07%,#afeb00 16.45%,#aeeb00 16.76%,#aeeb00 16.84%,#b2e800 17.22%,#bae000 17.73%,#bfdb00 18.67%,#bfdb00 18.75%,#bae000 19.77%,#a8f100 20.54%,#90fe00 21.17%,#8efd00 21.22%,#7efb00 21.81%,#75f900 22.45%,#6df800 23.09%,#6cf700 23.21%,#66f700 23.72%,#60f500 24.36%,#5ff500 24.41%,#5ef500 24.49%,#5af100 25%,#53ec00 25.77%,#49df00 27.04%,#43d000 28.24%,#3dba00 30.87%,#3aa300 33.16%,#3aa100 33.34%,#399b00 34.06%,#399300 34.95%,#388a00 35.84%,#368100 36.73%,#357700 37.88%,#336e00 38.9%,#336a00 39.16%,#315f00 39.72%,#210f00 46.17%,#200b00 48.65%,#1f0700 56.38%,#1e0500 61.4%,#1d0300 69.13%,#1b0200 84.44%,#180100 100%)"></i>
<i style="background:linear-gradient(#ff0000 0%,#ff0000 9.694%,#ff0000 9.885%,#f08300 10.14%,#eabf00 10.52%,#e3bf00 11.03%,#dabf00 11.67%,#d9bf00 11.73%,#d1c600 12.44%,#c5d500 13.46%,#bbdf00 14.29%,#b7e300 14.73%,#afeb00 15.56%,#aaef00 16.07%,#a9f000 16.26%,#a8f100 16.45%,#aaef00 16.84%,#b1e900 17.22%,#bcde00 17.73%,#c2d800 18.18%,#c4d600 18.75%,#bfdc00 19.77%,#abee00 20.54%,#a3f600 20.73%,#8efd00 21.17%,#75f900 21.81%,#69f700 22.45%,#61f600 23.09%,#60f500 23.21%,#5af500 23.72%,#58f400 23.92%,#54f300 24.36%,#53f300 24.49%,#4ff000 25%,#4ae700 25.77%,#44d700 27.04%,#41d000 27.74%,#3cb900 30.87%,#3aa600 32.84%,#3aa300 33.16%,#399b00 34.06%,#399300 34.95%,#378a00 35.84%,#368100 36.73%,#357700 37.88%,#336e00 38.9%,#336a00 39.16%,#336900 39.22%,#210f00 46.17%,#200c00 48.15%,#1f0700 56.38%,#1e0500 60.91%,#1d0300 69.13%,#1b0200 84.44%,#190100 100%)"></i>
<i style="background:linear-gradient(#ff0000 0%,#ff0000 10.17%,#f35300 10.36%,#f08300 10.61%,#eabf00 10.99%,#e3bf00 11.51%,#e0bf00 11.73%,#dbbf00 12.14%,#d2c500 12.91%,#c6d300 13.93%,#c2d800 14.29%,#b9e100 15.2%,#b5e400 15.56%,#b1e900 16.07%,#aeeb00 16.45%,#aeeb00 16.73%,#aeeb00 16.84%,#b2e700 17.22%,#bcdf00 17.73%,#c2d900 18.65%,#c2d900 18.75%,#bddd00 19.77%,#aaef00 20.54%,#90fe00 21.17%,#8ffd00 21.2%,#7dfa00 21.81%,#74f900 22.45%,#6cf800 23.09%,#65f600 23.72%,#5ff500 24.36%,#5ef500 24.39%,#58f100 25%,#51ec00 25.77%,#45d900 27.04%,#3cc600 28.21%,#2a7500 30.87%,#244200 33.16%,#254300 33.32%,#264c00 34.06%,#274e00 34.95%,#243800 35.84%,#1f1e00 36.73%,#1a1100 37.88%,#180d00 39.16%,#180c00 39.69%,#170600 46.17%,#160500 48.62%,#160300 56.38%,#150200 61.38%,#150200 69.13%,#130100 84.44%,#120100 100%)"></i>
<i style="background:linear-gradient(#ff0000 0%,#ff0000 4.426%,#ff0000 4.617%,#e8bf00 4.872%,#d8bf00 5.255%,#c4d600 5.765%,#adec00 6.403%,#95fe00 7.168%,#82fb00 8.189%,#73f900 9.464%,#66f700 10.99%,#62f600 11.73%,#5ef500 12.91%,#5bf500 14.29%,#5ff500 15.46%,#60f600 15.56%,#6cf800 16.07%,#7cfa00 16.45%,#8ffd00 16.84%,#9ff900 17.22%,#b0e900 17.73%,#b9e100 18.65%,#b9e100 18.75%,#b4e500 19.77%,#a0f800 20.54%,#80fb00 21.17%,#58f400 21.81%,#38d300 22.45%,#37d100 22.47%,#266200 23.09%,#1e2b00 23.72%,#1b2000 24.36%,#1a1a00 25%,#191800 25.77%,#181600 27.04%,#181500 27.58%,#171300 30.87%,#1c1b00 33.16%,#202700 33.95%,#212800 34.06%,#233400 34.95%,#212300 35.84%,#1c1500 36.73%,#170d00 37.88%,#160b00 39.16%,#150700 42.88%,#150500 46.17%,#140300 55.64%,#140300 56.38%,#130100 69.13%,#120100 84.44%,#100100 100%)"></i>
<i style="background:linear-gradient(#ff0000 0%,#ff0000 5.344%,#f35400 5.536%,#eda900 5.791%,#e3bf00 6.173%,#d7bf00 6.684%,#c9d000 7.321%,#bae100 8.087%,#a7f100 9.107%,#94fe00 10.38%,#85fc00 11.73%,#84fb00 11.91%,#75f900 13.83%,#72f900 14.29%,#6ff800 15.56%,#76f900 16.07%,#80fb00 16.38%,#83fb00 16.45%,#96ff00 16.84%,#a8f100 17.22%,#bbdf00 17.73%,#c4d500 18.75%,#c2d900 19.57%,#bfdb00 19.77%,#aaef00 20.54%,#88fc00 21.17%,#60f500 21.81%,#46e900 22.45%,#3cda00 23.09%,#3ad600 23.39%,#38d300 23.72%,#35ce00 24.36%,#32c300 25%,#2fac00 25.77%,#2c8b00 27.04%,#286b00 28.49%,#234000 30.87%,#243e00 33.16%,#274f00 34.06%,#285500 34.87%,#285400 34.95%,#264000 35.84%,#212200 36.73%,#1d1600 37.88%,#1b1000 39.16%,#190900 43.8%,#180700 46.17%,#170300 56.38%,#170300 56.56%,#150200 69.13%,#140100 84.44%,#130100 100%)"></i>
<i style="background:linear-gradient(#ff0000 0%,#ff0000 5.191%,#f35400 5.383%,#ecab00 5.638%,#e2bf00 6.02%,#d6c000 6.531%,#c8d100 7.168%,#b8e200 7.934%,#a6f300 8.954%,#92fe00 10.23%,#83fb00 11.73%,#83fb00 11.76%,#76f900 13.67%,#73f900 14.29%,#71f800 15.56%,#79fa00 16.07%,#7dfa00 16.22%,#85fc00 16.45%,#96fe00 16.84%,#a5f400 17.22%,#b5e500 17.73%,#bddd00 18.75%,#bcde00 19.41%,#b9e100 19.77%,#a5f400 20.54%,#85fc00 21.17%,#5ef500 21.81%,#45e700 22.45%,#3ad700 23.09%,#39d500 23.24%,#36d000 23.72%,#33c900 24.36%,#30b500 25%,#2e9f00 25.77%,#2a8100 27.04%,#276500 28.34%,#233c00 30.87%,#243f00 33.16%,#275300 34.06%,#295a00 34.72%,#295900 34.95%,#264500 35.84%,#222600 36.73%,#1d1800 37.88%,#1c1200 39.16%,#1a0a00 43.65%,#190700 46.17%,#180300 56.38%,#180300 56.4%,#170200 69.13%,#150100 84.44%,#140100 100%)"></i>
<i style="background:linear-gradient(#ff0000 0%,#ff0000 4.541%,#ff0000 4.732%,#e8bf00 4.987%,#d8bf00 5.37%,#c5d500 5.88%,#afeb00 6.518%,#98ff00 7.283%,#87fc00 8.304%,#7bfa00 9.579%,#74f900 11.11%,#72f900 11.73%,#70f800 13.02%,#6ff800 14.29%,#74f900 15.56%,#75f900 15.57%,#7ffb00 16.07%,#8dfd00 16.45%,#9dfc00 16.84%,#aaef00 17.22%,#b9e100 17.73%,#c1d900 18.75%,#c1d900 18.76%,#bdde00 19.77%,#a9f000 20.54%,#88fc00 21.17%,#5ef500 21.81%,#3ddb00 22.45%,#38d300 22.59%,#2b8e00 23.09%,#234700 23.72%,#203300 24.36%,#1f2e00 25%,#1e2900 25.77%,#1d2500 27.04%,#1d2300 27.69%,#1c1e00 30.87%,#212b00 33.16%,#264900 34.06%,#264a00 34.07%,#285500 34.95%,#264100 35.84%,#212200 36.73%,#1c1500 37.88%,#1b1000 39.16%,#1a0b00 43%,#1a0800 46.17%,#190400 55.75%,#190400 56.38%,#180200 69.13%,#170100 84.44%,#160100 100%)"></i>
<i style="background:linear-gradient(#ff0000 0%,#ff0000 4.719%,#ff0000 4.911%,#e9bf00 5.166%,#d9bf00 5.548%,#c6d300 6.059%,#b1e900 6.696%,#99ff00 7.462%,#84fc00 8.482%,#74f900 9.758%,#65f600 11.29%,#62f600 11.73%,#5af400 13.2%,#56f400 14.29%,#5af400 15.56%,#5df500 15.75%,#68f700 16.07%,#7afa00 16.45%,#90fe00 16.84%,#a5f400 17.22%,#b9e100 17.73%,#c4d700 18.75%,#c4d700 18.94%,#bedc00 19.77%,#a9f000 20.54%,#87fc00 21.17%,#5ef500 21.81%,#3ddb00 22.45%,#32c600 22.77%,#2b8e00 23.09%,#234700 23.72%,#203300 24.36%,#1f2d00 25%,#1d2800 25.77%,#1c2300 27.04%,#1c2100 27.87%,#1b1c00 30.87%,#202900 33.16%,#254400 34.06%,#264900 34.25%,#285000 34.95%,#253c00 35.84%,#202000 36.73%,#1c1300 37.88%,#1a0f00 39.16%,#1a0900 43.18%,#190700 46.17%,#180400 55.93%,#180400 56.38%,#170200 69.13%,#160100 84.44%,#150100 100%)"></i>
<i style="background:linear-gradient(#ff0000 0%,#ff0000 4.847%,#ff0000 5.038%,#e9bf00 5.293%,#dabf00 5.676%,#c7d200 6.186%,#b2e700 6.824%,#9cfc00 7.589%,#89fc00 8.61%,#7cfa00 9.885%,#74f900 11.42%,#72f900 11.73%,#6ff800 13.33%,#6ef800 14.29%,#73f900 15.56%,#79fa00 15.88%,#7efb00 16.07%,#8dfd00 16.45%,#9efb00 16.84%,#aded00 17.22%,#bcde00 17.73%,#c5d500 18.75%,#c5d500 19.07%,#c0da00 19.77%,#acee00 20.54%,#8afc00 21.17%,#5ff500 21.81%,#3edc00 22.45%,#2fb200 22.9%,#2b9300 23.09%,#234e00 23.72%,#213600 24.36%,#1f3000 25%,#1e2a00 25.77%,#1d2500 27.04%,#1c2200 28%,#1c1d00 30.87%,#212900 33.16%,#254600 34.06%,#274e00 34.38%,#285100 34.95%,#253e00 35.84%,#202100 36.73%,#1c1400 37.88%,#1a0f00 39.16%,#1a0a00 43.3%,#190700 46.17%,#190400 56.06%,#190400 56.38%,#180200 69.13%,#160100 84.44%,#150100 100%)"></i>
<i style="background:linear-gradient(#ff0000 0%,#ff0000 7.972%,#ff0000 8.163%,#ef8d00 8.418%,#e8bf00 8.801%,#e0bf00 9.311%,#d5c000 9.949%,#cace00 10.71%,#bcde00 11.73%,#aced00 13.01%,#9efa00 14.29%,#9cfd00 14.54%,#92fe00 15.56%,#8efd00 16.07%,#90fd00 16.45%,#98ff00 16.84%,#a5f400 17.22%,#b6e400 17.73%,#bfdc00 18.75%,#bfdc00 19.01%,#bae000 19.77%,#a6f300 20.54%,#8afc00 21.17%,#71f800 21.81%,#6af700 22.19%,#68f700 22.45%,#63f600 23.09%,#60f600 23.72%,#5df500 24.36%,#5af200 25%,#57ed00 25.77%,#56eb00 26.02%,#52e500 27.04%,#44c300 30.87%,#43bf00 31.12%,#3ea800 33.16%,#3d9f00 34.06%,#3c9600 34.95%,#398c00 35.84%,#368100 36.73%,#337800 37.5%,#327100 37.88%,#2f5b00 39.16%,#251b00 46.17%,#251a00 46.43%,#1f0700 56.38%,#1e0600 59.18%,#1c0300 69.13%,#1a0200 84.44%,#190100 100%)"></i>
<i style="background:linear-gradient(#ff0000 0%,#ff0000 4.847%,#ff0000 5.038%,#e9bf00 5.293%,#dabf00 5.676%,#c7d200 6.186%,#b2e700 6.824%,#9bfd00 7.589%,#86fc00 8.61%,#77f900 9.885%,#6af700 11.42%,#68f700 11.73%,#61f600 13.33%,#5ff500 14.29%,#63f600 15.56%,#69f700 15.88%,#6ff800 16.07%,#7ffb00 16.45%,#91fe00 16.84%,#a3f600 17.22%,#b4e600 17.73%,#bddd00 18.75%,#bdde00 19.07%,#b8e200 19.77%,#a4f400 20.54%,#85fc00 21.17%,#5ef500 21.81%,#40df00 22.45%,#32c600 22.9%,#2ea800 23.09%,#276c00 23.72%,#245300 24.36%,#234600 25%,#223a00 25.77%,#213300 27.04%,#203000 28%,#202a00 30.87%,#254400 33.16%,#296000 34.06%,#2b6500 34.38%,#2c6700 34.95%,#295600 35.84%,#243500 36.73%,#201d00 37.88%,#1e1700 39.16%,#1e0f00 43.3%,#1d0c00 46.17%,#1d0600 56.06%,#1d0600 56.38%,#1c0300 69.13%,#1a0200 84.44%,#190100 100%)"></i>
<i style="background:linear-gradient(#ff0000 0%,#ff0000 4.018%,#ff0000 4.209%,#e7bf00 4.464%,#d5c100 4.847%,#bfdb00 5.357%,#a7f200 5.995%,#8dfd00 6.76%,#7cfa00 7.781%,#6cf700 9.056%,#5ff500 10.59%,#59f400 11.73%,#56f400 12.5%,#53f300 14.29%,#54f300 15.05%,#58f400 15.56%,#66f600 16.07%,#76f900 16.45%,#89fc00 16.84%,#9bfd00 17.22%,#aded00 17.73%,#b4e500 18.24%,#b6e400 18.75%,#b1e800 19.77%,#9ffa00 20.54%,#81fb00 21.17%,#5df500 21.81%,#50f300 22.07%,#40df00 22.45%,#2fac00 23.09%,#277000 23.72%,#255800 24.36%,#244d00 25%,#234300 25.77%,#223d00 27.04%,#223d00 27.17%,#223400 30.87%,#275500 33.16%,#296100 33.55%,#2c6e00 34.06%,#2e7400 34.95%,#2c6200 35.84%,#274300 36.73%,#222600 37.88%,#211d00 39.16%,#201500 42.47%,#200f00 46.17%,#1f0700 55.23%,#1f0700 56.38%,#1e0400 69.13%,#1d0300 84.44%,#1c0200 100%)"></i>
<i style="background:linear-gradient(#ff0000 0%,#ff0000 5.332%,#ff0000 5.523%,#eda600 5.778%,#e3bf00 6.161%,#d7bf00 6.671%,#c9d000 7.309%,#bae000 8.074%,#a8f100 9.094%,#95fe00 10.37%,#88fc00 11.73%,#86fc00 11.9%,#7bfa00 13.81%,#79fa00 14.29%,#78f900 15.56%,#7efb00 16.07%,#86fc00 16.36%,#89fc00 16.45%,#96ff00 16.84%,#a3f600 17.22%,#b0ea00 17.73%,#b7e300 18.75%,#b5e500 19.55%,#b3e700 19.77%,#a1f800 20.54%,#84fb00 21.17%,#60f600 21.81%,#49ed00 22.45%,#3fdd00 23.09%,#3cda00 23.38%,#3ad600 23.72%,#37d200 24.36%,#35cc00 25%,#32c000 25.77%,#2fa300 27.04%,#2c8900 28.48%,#286800 30.87%,#2a6900 33.16%,#2e7800 34.06%,#307c00 34.86%,#307b00 34.95%,#2d6800 35.84%,#284c00 36.73%,#242f00 37.88%,#222200 39.16%,#211300 43.79%,#200f00 46.17%,#1f0700 56.38%,#1f0700 56.54%,#1e0300 69.13%,#1c0200 84.44%,#1b0200 100%)"></i>
<i style="background:linear-gradient(#ff0000 0%,#ff0000 4.86%,#f35300 5.051%,#e9bf00 5.306%,#dabf00 5.689%,#c7d200 6.199%,#b2e800 6.837%,#9cfd00 7.602%,#87fc00 8.622%,#79fa00 9.898%,#6df800 11.43%,#6bf700 11.73%,#65f600 13.34%,#64f600 14.29%,#68f700 15.56%,#6ff800 15.89%,#74f900 16.07%,#83fb00 16.45%,#96fe00 16.84%,#a6f300 17.22%,#b7e300 17.73%,#c0db00 18.75%,#c0db00 19.08%,#bbdf00 19.77%,#a7f200 20.54%,#87fc00 21.17%,#5ff500 21.81%,#3fde00 22.45%,#31bf00 22.91%,#2ea400 23.09%,#266500 23.72%,#234b00 24.36%,#223e00 25%,#213500 25.77%,#202f00 27.04%,#1f2d00 28.01%,#1f2700 30.87%,#243d00 33.16%,#295a00 34.06%,#2a6000 34.39%,#2b6200 34.95%,#285000 35.84%,#232f00 36.73%,#1f1b00 37.88%,#1d1500 39.16%,#1d0e00 43.32%,#1d0b00 46.17%,#1c0500 56.07%,#1c0500 56.38%,#1b0200 69.13%,#190200 84.44%,#180100 100%)"></i>
<i style="background:linear-gradient(#ff0000 0%,#ff0000 5.663%,#ff0000 5.855%,#eda200 6.11%,#e4bf00 6.492%,#d8bf00 7.003%,#cbcd00 7.64%,#bcde00 8.406%,#abee00 9.426%,#98ff00 10.7%,#8bfd00 11.73%,#86fc00 12.23%,#77f900 14.15%,#76f900 14.29%,#6ff800 15.56%,#72f900 16.07%,#7cfa00 16.45%,#85fc00 16.7%,#8cfd00 16.84%,#9dfc00 17.22%,#aeeb00 17.73%,#b7e300 18.75%,#b3e700 19.77%,#b1e900 19.89%,#9ff900 20.54%,#81fb00 21.17%,#5ef500 21.81%,#4aee00 22.45%,#42e200 23.09%,#3ddc00 23.71%,#3ddb00 23.72%,#3ad700 24.36%,#38d100 25%,#35c900 25.77%,#31b100 27.04%,#2c8900 28.81%,#286400 30.87%,#285900 33.16%,#2a6500 34.06%,#2c6600 34.95%,#2b6300 35.19%,#295400 35.84%,#243600 36.73%,#201e00 37.88%,#1e1700 39.16%,#1c0c00 44.12%,#1b0900 46.17%,#190400 56.38%,#190400 56.88%,#180200 69.13%,#170100 84.44%,#150100 100%)"></i>
<i style="background:linear-gradient(#ff0000 0%,#ff0000 5.319%,#ff0000 5.51%,#eda700 5.765%,#e3bf00 6.148%,#d7bf00 6.658%,#c9d000 7.296%,#bae100 8.061%,#a8f100 9.082%,#94fe00 10.36%,#86fc00 11.73%,#85fc00 11.89%,#78fa00 13.8%,#76f900 14.29%,#74f900 15.56%,#7bfa00 16.07%,#83fb00 16.35%,#87fc00 16.45%,#96ff00 16.84%,#a5f400 17.22%,#b4e600 17.73%,#bcde00 18.75%,#bae000 19.54%,#b8e200 19.77%,#a4f500 20.54%,#84fc00 21.17%,#5ef500 21.81%,#46e800 22.45%,#3cda00 23.09%,#3ad600 23.37%,#38d300 23.72%,#35ce00 24.36%,#32c400 25%,#30ad00 25.77%,#2c8d00 27.04%,#286f00 28.47%,#244500 30.87%,#254400 33.16%,#285600 34.06%,#295b00 34.85%,#295b00 34.95%,#274700 35.84%,#222800 36.73%,#1e1800 37.88%,#1c1200 39.16%,#1a0a00 43.78%,#190700 46.17%,#180300 56.38%,#180300 56.53%,#170200 69.13%,#150100 84.44%,#140100 100%)"></i>
<i style="background:linear-gradient(#ff0000 0%,#ff0000 5.561%,#f35300 5.753%,#eda600 6.008%,#e3bf00 6.39%,#d8bf00 6.901%,#cace00 7.538%,#bbdf00 8.304%,#aaef00 9.324%,#97ff00 10.6%,#89fc00 11.73%,#86fc00 12.13%,#77f900 14.04%,#76f900 14.29%,#71f800 15.56%,#76f900 16.07%,#80fb00 16.45%,#85fc00 16.59%,#8ffd00 16.84%,#9efa00 17.22%,#aeeb00 17.73%,#b6e400 18.75%,#b2e800 19.77%,#b2e800 19.78%,#9ffa00 20.54%,#81fb00 21.17%,#5ef500 21.81%,#49ec00 22.45%,#40df00 23.09%,#3cda00 23.61%,#3cd900 23.72%,#39d500 24.36%,#36ce00 25%,#33c700 25.77%,#2fa700 27.04%,#2b8300 28.71%,#275d00 30.87%,#275600 33.16%,#2a6300 34.06%,#2b6600 34.95%,#2b6400 35.09%,#295400 35.84%,#243500 36.73%,#201d00 37.88%,#1e1700 39.16%,#1c0c00 44.02%,#1b0900 46.17%,#1a0400 56.38%,#1a0400 56.77%,#180200 69.13%,#170100 84.44%,#160100 100%)"></i>
<i style="background:linear-gradient(#ff0000 0%,#ff0000 5.587%,#f35300 5.778%,#eda500 6.033%,#e3bf00 6.416%,#d8bf00 6.926%,#cace00 7.564%,#bcdf00 8.329%,#aaef00 9.349%,#97ff00 10.63%,#8afc00 11.73%,#86fc00 12.16%,#77f900 14.07%,#76f900 14.29%,#71f800 15.56%,#76f900 16.07%,#82fb00 16.45%,#89fc00 16.62%,#93fe00 16.84%,#a4f400 17.22%,#b6e400 17.73%,#bfdb00 18.75%,#bbdf00 19.77%,#bae000 19.81%,#a6f300 20.54%,#86fc00 21.17%,#61f600 21.81%,#4aee00 22.45%,#41e100 23.09%,#3ddb00 23.64%,#3cda00 23.72%,#39d500 24.36%,#37cf00 25%,#34c700 25.77%,#30ab00 27.04%,#2c8600 28.74%,#276100 30.87%,#285a00 33.16%,#2b6700 34.06%,#2c6900 34.95%,#2c6700 35.11%,#295700 35.84%,#253800 36.73%,#211f00 37.88%,#1f1800 39.16%,#1c0d00 44.04%,#1c0a00 46.17%,#1a0400 56.38%,#1a0400 56.8%,#190200 69.13%,#170100 84.44%,#160100 100%)"></i>
<i style="background:linear-gradient(#ff0000 0%,#ff0000 3.903%,#f35400 4.094%,#e6bf00 4.349%,#d4c200 4.732%,#bedc00 5.242%,#a5f400 5.88%,#8cfd00 6.645%,#7bfa00 7.666%,#6bf700 8.941%,#5ff500 10.47%,#5af500 11.73%,#58f400 12.39%,#56f400 14.29%,#56f400 14.94%,#5cf500 15.56%,#68f700 16.07%,#78fa00 16.45%,#8bfd00 16.84%,#9cfc00 17.22%,#adec00 17.73%,#b4e600 18.12%,#b6e400 18.75%,#b1e800 19.77%,#9efa00 20.54%,#7ffb00 21.17%,#59f400 21.81%,#50f300 21.95%,#3ad600 22.45%,#287700 23.09%,#203400 23.72%,#1d2900 24.36%,#1c2400 25%,#1b2000 25.77%,#1b1d00 27.04%,#1b1d00 27.05%,#1a1900 30.87%,#202700 33.16%,#212b00 33.43%,#254000 34.06%,#274c00 34.95%,#243900 35.84%,#1f1f00 36.73%,#1b1200 37.88%,#1a0d00 39.16%,#190a00 42.36%,#190700 46.17%,#180400 55.11%,#180300 56.38%,#170200 69.13%,#160100 84.44%,#140100 100%)"></i>
<i style="background:linear-gradient(#ff0000 0%,#ff0000 5.625%,#f35400 5.816%,#eda600 6.071%,#e3bf00 6.454%,#d8bf00 6.964%,#cace00 7.602%,#bcde00 8.367%,#aaef00 9.388%,#97ff00 10.66%,#8afc00 11.73%,#86fc00 12.19%,#77f900 14.11%,#76f900 14.29%,#70f800 15.56%,#74f900 16.07%,#7ffb00 16.45%,#88fc00 16.66%,#91fe00 16.84%,#a2f600 17.22%,#b5e500 17.73%,#bedc00 18.75%,#b9e100 19.77%,#b8e200 19.85%,#a5f400 20.54%,#85fc00 21.17%,#60f600 21.81%,#4aee00 22.45%,#41e100 23.09%,#3ddb00 23.67%,#3dda00 23.72%,#3ad600 24.36%,#37d000 25%,#34c800 25.77%,#30ad00 27.04%,#2c8700 28.78%,#276200 30.87%,#285900 33.16%,#2a6600 34.06%,#2c6800 34.95%,#2c6500 35.15%,#295600 35.84%,#253700 36.73%,#201e00 37.88%,#1e1800 39.16%,#1c0c00 44.08%,#1c0900 46.17%,#1a0400 56.38%,#1a0400 56.84%,#180200 69.13%,#170100 84.44%,#160100 100%)"></i>
<i style="background:linear-gradient(#ff0000 0%,#ff0000 4.439%,#ff0000 4.63%,#e8bf00 4.885%,#d8bf00 5.268%,#c4d600 5.778%,#adec00 6.416%,#96fe00 7.181%,#83fb00 8.202%,#75f900 9.477%,#6bf700 11.01%,#68f700 11.73%,#65f600 12.92%,#63f600 14.29%,#67f700 15.47%,#68f700 15.56%,#73f900 16.07%,#82fb00 16.45%,#92fe00 16.84%,#a1f700 17.22%,#b1e900 17.73%,#b9e100 18.66%,#b9e100 18.75%,#b4e500 19.77%,#a1f700 20.54%,#82fb00 21.17%,#5af500 21.81%,#3bd800 22.45%,#39d600 22.49%,#298200 23.09%,#213a00 23.72%,#1f2e00 24.36%,#1d2900 25%,#1c2400 25.77%,#1c2000 27.04%,#1b1f00 27.59%,#1b1a00 30.87%,#202700 33.16%,#243f00 33.97%,#254200 34.06%,#274d00 34.95%,#253a00 35.84%,#201f00 36.73%,#1b1200 37.88%,#1a0e00 39.16%,#190a00 42.9%,#190700 46.17%,#180400 55.65%,#180300 56.38%,#170200 69.13%,#160100 84.44%,#140100 100%)"></i>
<i style="background:linear-gradient(#ff0000 0%,#ff0000 4.809%,#f45200 5%,#e9bf00 5.255%,#dabf00 5.638%,#c7d300 6.148%,#b1e800 6.786%,#9afe00 7.551%,#85fc00 8.571%,#74f900 9.847%,#65f600 11.38%,#62f600 11.73%,#58f400 13.29%,#53f300 14.29%,#56f400 15.56%,#5bf500 15.84%,#63f600 16.07%,#75f900 16.45%,#8bfd00 16.84%,#9ff900 17.22%,#b3e700 17.73%,#bddd00 18.75%,#bddd00 19.03%,#b8e200 19.77%,#a3f600 20.54%,#82fb00 21.17%,#5af400 21.81%,#3ad600 22.45%,#2da100 22.86%,#287b00 23.09%,#213600 23.72%,#1e2b00 24.36%,#1c2500 25%,#1b1f00 25.77%,#1a1a00 27.04%,#1a1800 27.96%,#191500 30.87%,#1e2000 33.16%,#223100 34.06%,#243800 34.34%,#253e00 34.95%,#222b00 35.84%,#1d1900 36.73%,#190e00 37.88%,#170c00 39.16%,#170800 43.27%,#160600 46.17%,#160300 56.02%,#160300 56.38%,#140200 69.13%,#130100 84.44%,#120100 100%)"></i>
<i style="background:linear-gradient(#ff0000 0%,#ff0000 5.153%,#ff0000 5.344%,#eabf00 5.599%,#dbbf00 5.982%,#c9cf00 6.492%,#b5e500 7.13%,#9ff900 7.895%,#88fc00 8.916%,#78fa00 10.19%,#68f700 11.72%,#68f700 11.73%,#5af400 13.64%,#56f400 14.29%,#55f400 15.56%,#60f600 16.07%,#65f600 16.19%,#71f800 16.45%,#86fc00 16.84%,#99ff00 17.22%,#adec00 17.73%,#b7e300 18.75%,#b6e400 19.38%,#b2e800 19.77%,#9efb00 20.54%,#7efa00 21.17%,#57f400 21.81%,#39d500 22.45%,#298200 23.09%,#277300 23.2%,#224100 23.72%,#1f3100 24.36%,#1e2a00 25%,#1c2300 25.77%,#1b1d00 27.04%,#1a1800 28.3%,#191500 30.87%,#1d1f00 33.16%,#222e00 34.06%,#243a00 34.68%,#243a00 34.95%,#222800 35.84%,#1d1800 36.73%,#180e00 37.88%,#170b00 39.16%,#160700 43.61%,#160600 46.17%,#150300 56.36%,#150300 56.38%,#140100 69.13%,#130100 84.44%,#110100 100%)"></i>
<i style="background:linear-gradient(#ff0000 0%,#ff0000 3.916%,#ff0000 4.107%,#e7bf00 4.362%,#d4c200 4.745%,#bedc00 5.255%,#a6f300 5.893%,#8dfd00 6.658%,#7dfa00 7.679%,#6ef800 8.954%,#64f600 10.48%,#60f500 11.73%,#5ff500 12.4%,#5df500 14.29%,#5df500 14.95%,#63f600 15.56%,#70f800 16.07%,#80fb00 16.45%,#94fe00 16.84%,#a5f400 17.22%,#b6e300 17.73%,#bedd00 18.14%,#c0db00 18.75%,#bbdf00 19.77%,#a6f300 20.54%,#84fc00 21.17%,#5af500 21.81%,#50f300 21.96%,#38d400 22.45%,#255d00 23.09%,#1d2600 23.72%,#1a1b00 24.36%,#191800 25%,#181700 25.77%,#171500 27.04%,#171500 27.07%,#171300 30.87%,#1c1b00 33.16%,#1e1f00 33.44%,#212800 34.06%,#233400 34.95%,#212400 35.84%,#1c1500 36.73%,#170d00 37.88%,#160b00 39.16%,#150800 42.37%,#150600 46.17%,#140300 55.13%,#140300 56.38%,#130100 69.13%,#120100 84.44%,#110100 100%)"></i>
<i style="background:linear-gradient(#ff0000 0%,#ff0000 4.452%,#f35600 4.643%,#e8bf00 4.898%,#d7bf00 5.281%,#c3d700 5.791%,#adec00 6.429%,#95fe00 7.194%,#81fb00 8.214%,#71f800 9.49%,#62f600 11.02%,#5df500 11.73%,#57f400 12.93%,#53f300 14.29%,#56f400 15.48%,#57f400 15.56%,#64f600 16.07%,#75f900 16.45%,#89fc00 16.84%,#9cfc00 17.22%,#afeb00 17.73%,#b8e200 18.67%,#b8e200 18.75%,#b3e600 19.77%,#a0f900 20.54%,#80fb00 21.17%,#59f400 21.81%,#3ad700 22.45%,#39d400 22.5%,#298000 23.09%,#213800 23.72%,#1e2d00 24.36%,#1d2800 25%,#1c2300 25.77%,#1b1f00 27.04%,#1b1e00 27.6%,#1b1900 30.87%,#202700 33.16%,#243e00 33.98%,#254000 34.06%,#274c00 34.95%,#243900 35.84%,#1f1f00 36.73%,#1b1200 37.88%,#190d00 39.16%,#190900 42.91%,#190700 46.17%,#180400 55.66%,#180300 56.38%,#170200 69.13%,#160100 84.44%,#140100 100%)"></i>
<i style="background:linear-gradient(#ff0000 0%,#ff0000 4.617%,#f35500 4.809%,#e8bf00 5.064%,#d8bf00 5.446%,#c5d500 5.957%,#afea00 6.594%,#97ff00 7.36%,#83fb00 8.38%,#72f900 9.656%,#62f600 11.19%,#5ef500 11.73%,#56f400 13.1%,#51f300 14.29%,#54f400 15.56%,#55f400 15.65%,#61f600 16.07%,#72f800 16.45%,#87fc00 16.84%,#9afe00 17.22%,#aded00 17.73%,#b6e300 18.75%,#b6e300 18.84%,#b2e800 19.77%,#9efa00 20.54%,#7ffb00 21.17%,#59f400 21.81%,#3ad700 22.45%,#33cc00 22.67%,#298300 23.09%,#223e00 23.72%,#1f3000 24.36%,#1e2a00 25%,#1d2500 25.77%,#1c2000 27.04%,#1b1f00 27.77%,#1b1a00 30.87%,#202700 33.16%,#254100 34.06%,#254300 34.15%,#274d00 34.95%,#253900 35.84%,#201f00 36.73%,#1b1200 37.88%,#1a0d00 39.16%,#190900 43.07%,#190700 46.17%,#180300 55.83%,#180300 56.38%,#170200 69.13%,#160100 84.44%,#140100 100%)"></i>
<i style="background:linear-gradient(#ff0000 0%,#ff0000 3.788%,#ff0000 3.98%,#e6bf00 4.235%,#d3c300 4.617%,#bdde00 5.128%,#a3f500 5.765%,#8afd00 6.531%,#79fa00 7.551%,#67f700 8.827%,#59f400 10.36%,#51f300 11.73%,#4ff300 12.27%,#4bf000 14.29%,#4bf000 14.82%,#51f300 15.56%,#5ff500 16.07%,#71f800 16.45%,#86fc00 16.84%,#9afe00 17.22%,#adec00 17.73%,#b3e700 18.01%,#b6e300 18.75%,#b2e800 19.77%,#9ffa00 20.54%,#81fb00 21.17%,#5cf500 21.81%,#5bf500 21.84%,#3edd00 22.45%,#2d9e00 23.09%,#255e00 23.72%,#234600 24.36%,#223c00 25%,#213500 25.77%,#203100 26.94%,#203100 27.04%,#202b00 30.87%,#254800 33.16%,#264e00 33.32%,#2a6400 34.06%,#2d6b00 34.95%,#2a5900 35.84%,#253900 36.73%,#211f00 37.88%,#1f1900 39.16%,#1f1300 42.24%,#1e0d00 46.17%,#1e0600 55%,#1d0600 56.38%,#1c0300 69.13%,#1b0200 84.44%,#1a0100 100%)"></i>
<i style="background:linear-gradient(#ff0000 0%,#ff0000 3.444%,#f35400 3.635%,#e5bf00 3.89%,#d0c700 4.273%,#b8e200 4.783%,#9dfb00 5.421%,#86fc00 6.186%,#73f900 7.207%,#61f600 8.482%,#52f300 10.01%,#4aee00 11.73%,#49ed00 11.93%,#45e700 14.29%,#45e700 14.48%,#4cf100 15.56%,#5bf500 16.07%,#6df800 16.45%,#83fb00 16.84%,#97ff00 17.22%,#a9f000 17.67%,#abee00 17.73%,#b5e500 18.75%,#b0e900 19.77%,#9dfb00 20.54%,#7ffb00 21.17%,#6ef800 21.49%,#5cf500 21.81%,#3edd00 22.45%,#2d9e00 23.09%,#255d00 23.72%,#234600 24.36%,#223c00 25%,#213500 25.77%,#203300 26.59%,#203200 27.04%,#202c00 30.87%,#254400 32.97%,#264a00 33.16%,#2a6500 34.06%,#2d6d00 34.95%,#2a5b00 35.84%,#253b00 36.73%,#211f00 37.88%,#1f1a00 39.16%,#1f1400 41.9%,#1f0d00 46.17%,#1e0700 54.66%,#1e0600 56.38%,#1d0300 69.13%,#1b0200 84.44%,#1a0100 100%)"></i>
<i style="background:linear-gradient(#ff0000 0%,#ff0000 3.048%,#f35300 3.24%,#e3bf00 3.495%,#cdcb00 3.878%,#b2e800 4.388%,#95fe00 5.026%,#80fb00 5.791%,#6ef800 6.811%,#5ff500 8.087%,#56f400 9.617%,#52f300 11.53%,#52f300 11.73%,#51f300 14.08%,#51f300 14.29%,#58f400 15.56%,#66f700 16.07%,#78f900 16.45%,#8cfd00 16.84%,#9ffa00 17.22%,#a1f700 17.27%,#b1e800 17.73%,#bbdf00 18.75%,#b6e400 19.77%,#a2f600 20.54%,#87fc00 21.1%,#83fb00 21.17%,#5cf500 21.81%,#3cda00 22.45%,#2a8700 23.09%,#223d00 23.72%,#1f3000 24.36%,#1e2b00 25%,#1d2700 25.77%,#1d2500 26.2%,#1d2400 27.04%,#1d2000 30.87%,#1f2700 32.58%,#223100 33.16%,#275000 34.06%,#295a00 34.95%,#274700 35.84%,#222600 36.73%,#1d1700 37.88%,#1c1200 39.16%,#1b0e00 41.51%,#1b0900 46.17%,#1a0500 54.26%,#1a0400 56.38%,#190200 69.13%,#180200 84.44%,#170100 100%)"></i>
<i style="background:linear-gradient(#ff0000 0%,#ff0000 3.814%,#ff0000 4.005%,#e6bf00 4.26%,#d4c300 4.643%,#bddd00 5.153%,#a4f500 5.791%,#8cfd00 6.556%,#7bfa00 7.577%,#6df800 8.852%,#63f600 10.38%,#5ff500 11.73%,#5ef500 12.3%,#5cf500 14.29%,#5cf500 14.85%,#61f600 15.56%,#6df800 16.07%,#7cfa00 16.45%,#8dfd00 16.84%,#9cfc00 17.22%,#abee00 17.73%,#b0e900 18.04%,#b3e600 18.75%,#afea00 19.77%,#9cfc00 20.54%,#7ffb00 21.17%,#59f400 21.81%,#56f400 21.86%,#3bd800 22.45%,#2a8500 23.09%,#223e00 23.72%,#1f3000 24.36%,#1e2c00 25%,#1d2700 25.77%,#1d2400 26.96%,#1d2400 27.04%,#1c2000 30.87%,#223000 33.16%,#233600 33.34%,#274e00 34.06%,#295900 34.95%,#264500 35.84%,#212500 36.73%,#1d1700 37.88%,#1c1200 39.16%,#1b0d00 42.27%,#1b0900 46.17%,#1a0400 55.03%,#1a0400 56.38%,#190200 69.13%,#180200 84.44%,#160100 100%)"></i>
<i style="background:linear-gradient(#ff0000 0%,#ff0000 4.668%,#ff0000 4.86%,#e8bf00 5.115%,#d9bf00 5.497%,#c6d400 6.008%,#b0e900 6.645%,#99ff00 7.411%,#85fc00 8.431%,#77f900 9.707%,#6cf800 11.24%,#6af700 11.73%,#66f600 13.15%,#64f600 14.29%,#68f700 15.56%,#6af700 15.7%,#72f900 16.07%,#7ffb00 16.45%,#8ffd00 16.84%,#9dfb00 17.22%,#acee00 17.73%,#b3e600 18.75%,#b3e600 18.89%,#afea00 19.77%,#9dfc00 20.54%,#7ffb00 21.17%,#59f400 21.81%,#3bd900 22.45%,#33cc00 22.72%,#2b8f00 23.09%,#244e00 23.72%,#213700 24.36%,#203100 25%,#1e2c00 25.77%,#1e2700 27.04%,#1d2600 27.82%,#1d2000 30.87%,#223000 33.16%,#274e00 34.06%,#275100 34.2%,#295900 34.95%,#264500 35.84%,#212400 36.73%,#1d1600 37.88%,#1b1100 39.16%,#1b0b00 43.12%,#1b0800 46.17%,#1a0400 55.88%,#1a0400 56.38%,#190200 69.13%,#170100 84.44%,#160100 100%)"></i>
<i style="background:linear-gradient(#ff0000 0%,#ff0000 5.281%,#f35300 5.472%,#ecaa00 5.727%,#e3bf00 6.11%,#d6bf00 6.62%,#c8d100 7.258%,#b9e100 8.023%,#a7f200 9.043%,#93fe00 10.32%,#83fb00 11.73%,#82fb00 11.85%,#72f900 13.76%,#6ff800 14.29%,#69f700 15.56%,#6ef800 16.07%,#75f900 16.31%,#7bfa00 16.45%,#8efd00 16.84%,#a2f700 17.22%,#b6e400 17.73%,#c0db00 18.75%,#bedc00 19.5%,#bbdf00 19.77%,#a7f200 20.54%,#87fc00 21.17%,#62f600 21.81%,#49ed00 22.45%,#3edd00 23.09%,#3cd900 23.33%,#39d500 23.72%,#36d100 24.36%,#34cb00 25%,#32bb00 25.77%,#2e9f00 27.04%,#2b8600 28.43%,#286500 30.87%,#2a6800 33.16%,#2e7700 34.06%,#2f7b00 34.81%,#2f7a00 34.95%,#2d6800 35.84%,#284b00 36.73%,#242e00 37.88%,#222200 39.16%,#211300 43.74%,#200f00 46.17%,#1f0700 56.38%,#1f0700 56.49%,#1e0300 69.13%,#1c0200 84.44%,#1b0200 100%)"></i>
<i style="background:linear-gradient(#ff0000 0%,#ff0000 5.344%,#ff0000 5.536%,#eda700 5.791%,#e3bf00 6.173%,#d7bf00 6.684%,#c9d000 7.321%,#bae000 8.087%,#a7f100 9.107%,#94fe00 10.38%,#84fb00 11.73%,#82fb00 11.91%,#72f900 13.83%,#6ff800 14.29%,#67f700 15.56%,#69f700 16.07%,#70f800 16.38%,#73f900 16.45%,#84fc00 16.84%,#97ff00 17.22%,#abee00 17.73%,#b5e500 18.75%,#b2e700 19.57%,#b0ea00 19.77%,#9dfb00 20.54%,#80fb00 21.17%,#5ef500 21.81%,#48ec00 22.45%,#3edd00 23.09%,#3cd900 23.39%,#3ad600 23.72%,#37d200 24.36%,#34cc00 25%,#32be00 25.77%,#2ea000 27.04%,#2b8400 28.49%,#286200 30.87%,#296300 33.16%,#2d7200 34.06%,#2e7600 34.87%,#2e7500 34.95%,#2c6300 35.84%,#274500 36.73%,#232900 37.88%,#211d00 39.16%,#1f1100 43.8%,#1f0d00 46.17%,#1e0600 56.38%,#1d0600 56.56%,#1c0300 69.13%,#1b0200 84.44%,#1a0100 100%)"></i>
<i style="background:linear-gradient(#ff0000 0%,#ff0000 4.796%,#f35300 4.987%,#e9bf00 5.242%,#d9bf00 5.625%,#c7d300 6.135%,#b1e800 6.773%,#9afe00 7.538%,#85fc00 8.559%,#74f900 9.834%,#64f600 11.36%,#61f600 11.73%,#57f400 13.28%,#53f300 14.29%,#55f400 15.56%,#5af500 15.83%,#62f600 16.07%,#74f900 16.45%,#8bfd00 16.84%,#9ff900 17.22%,#b4e600 17.73%,#bedc00 18.75%,#bedd00 19.02%,#b9e100 19.77%,#a4f400 20.54%,#84fc00 21.17%,#5ef500 21.81%,#3fdd00 22.45%,#32c700 22.84%,#2da000 23.09%,#256000 23.72%,#234700 24.36%,#213a00 25%,#203300 25.77%,#1f2e00 27.04%,#1f2c00 27.95%,#1e2600 30.87%,#233b00 33.16%,#285900 34.06%,#295e00 34.32%,#2b6100 34.95%,#284f00 35.84%,#232e00 36.73%,#1f1a00 37.88%,#1d1500 39.16%,#1d0e00 43.25%,#1c0a00 46.17%,#1b0500 56.01%,#1b0500 56.38%,#1a0200 69.13%,#190200 84.44%,#180100 100%)"></i>
<i style="background:linear-gradient(#ff0000 0%,#ff0000 5.804%,#ff0000 5.995%,#eda100 6.25%,#e4bf00 6.633%,#d9bf00 7.143%,#cccc00 7.781%,#bddd00 8.546%,#aced00 9.566%,#99ff00 10.84%,#8dfd00 11.73%,#86fc00 12.37%,#75f900 14.29%,#6cf800 15.56%,#6df800 16.07%,#75f900 16.45%,#85fc00 16.84%,#97ff00 17.22%,#a9f000 17.73%,#b3e700 18.75%,#aeeb00 19.77%,#aaef00 20.03%,#9bfd00 20.54%,#7dfa00 21.17%,#5bf500 21.81%,#46e800 22.45%,#3ddb00 23.09%,#38d400 23.72%,#37d200 23.85%,#35cf00 24.36%,#32c300 25%,#2faa00 25.77%,#2b8800 27.04%,#265c00 28.95%,#233b00 30.87%,#243c00 33.16%,#275000 34.06%,#295600 34.95%,#285000 35.33%,#264200 35.84%,#212300 36.73%,#1d1600 37.88%,#1b1000 39.16%,#190800 44.26%,#190700 46.17%,#170300 56.38%,#170300 57.02%,#160200 69.13%,#150100 84.44%,#140100 100%)"></i>
<i style="background:linear-gradient(#ff0000 0%,#ff0000 5.051%,#f35400 5.242%,#e9bf00 5.497%,#dbbf00 5.88%,#c9d000 6.39%,#b4e500 7.028%,#9ffa00 7.793%,#8bfd00 8.814%,#7efb00 10.09%,#76f900 11.62%,#75f900 11.73%,#70f800 13.53%,#70f800 14.29%,#73f900 15.56%,#7dfa00 16.07%,#7efa00 16.08%,#8afc00 16.45%,#99ff00 16.84%,#a6f300 17.22%,#b3e600 17.73%,#bbdf00 18.75%,#bae000 19.27%,#b7e300 19.77%,#a3f600 20.54%,#83fb00 21.17%,#5af400 21.81%,#3ad700 22.45%,#298400 23.09%,#298300 23.1%,#224100 23.72%,#1f3100 24.36%,#1e2a00 25%,#1c2400 25.77%,#1b1e00 27.04%,#1a1a00 28.2%,#191500 30.87%,#1e2100 33.16%,#233400 34.06%,#253e00 34.58%,#254000 34.95%,#232d00 35.84%,#1e1a00 36.73%,#190e00 37.88%,#180c00 39.16%,#170800 43.51%,#170600 46.17%,#160300 56.26%,#160300 56.38%,#150200 69.13%,#130100 84.44%,#120100 100%)"></i>
<i style="background:linear-gradient(#ff0000 0%,#ff0000 9.936%,#f35300 10.13%,#f08400 10.38%,#eabf00 10.77%,#e3bf00 11.28%,#ddbf00 11.73%,#dbbf00 11.91%,#d1c600 12.68%,#c5d400 13.7%,#bfdb00 14.29%,#b8e200 14.97%,#b2e700 15.56%,#aeeb00 16.07%,#aced00 16.45%,#acee00 16.51%,#acee00 16.84%,#aeec00 17.22%,#b3e600 17.73%,#b7e300 18.42%,#b7e300 18.75%,#b2e700 19.77%,#a2f700 20.54%,#94fe00 20.97%,#8efd00 21.17%,#82fb00 21.81%,#7dfa00 22.45%,#79fa00 23.09%,#76f900 23.72%,#74f900 24.16%,#72f900 24.36%,#6ff500 25%,#6bf000 25.77%,#65e800 27.04%,#61e100 27.98%,#55cf00 30.87%,#4db900 33.09%,#4cb800 33.16%,#4aad00 34.06%,#47a200 34.95%,#449600 35.84%,#418b00 36.73%,#3d7e00 37.88%,#397000 39.16%,#386d00 39.46%,#292400 46.17%,#251500 48.39%,#1c0500 56.38%,#190300 61.15%,#160200 69.13%,#130100 84.44%,#120100 100%)"></i>
<i style="background:linear-gradient(#ff0000 0%,#ff0000 5.778%,#ff0000 5.969%,#eda000 6.224%,#e4bf00 6.607%,#d9bf00 7.117%,#cccc00 7.755%,#bedc00 8.52%,#aeeb00 9.541%,#9ff900 10.82%,#98ff00 11.73%,#94fe00 12.35%,#8efd00 14.26%,#8efd00 14.29%,#8ffd00 15.56%,#94fe00 16.07%,#9bfd00 16.45%,#a3f500 16.81%,#a4f500 16.84%,#aaef00 17.22%,#b3e700 17.73%,#b8e200 18.75%,#b4e600 19.77%,#b1e900 20%,#a2f700 20.54%,#82fb00 21.17%,#5bf500 21.81%,#44e600 22.45%,#3bd900 23.09%,#37d200 23.72%,#36d100 23.83%,#34cd00 24.36%,#31b900 25%,#2ea000 25.77%,#297c00 27.04%,#244b00 28.93%,#202c00 30.87%,#212900 33.16%,#243a00 34.06%,#254100 34.95%,#253c00 35.31%,#232d00 35.84%,#1e1b00 36.73%,#190f00 37.88%,#180c00 39.16%,#160700 44.23%,#150600 46.17%,#140300 56.38%,#140300 56.99%,#130100 69.13%,#110100 84.44%,#100100 100%)"></i>
<i style="background:linear-gradient(#ff0000 0%,#ff0000 6.645%,#ff0000 6.837%,#ee9800 7.092%,#e6bf00 7.474%,#dcbf00 7.985%,#d0c700 8.622%,#c4d700 9.388%,#b4e500 10.41%,#a5f400 11.68%,#a4f500 11.73%,#96ff00 13.21%,#90fd00 14.29%,#8dfd00 15.13%,#8dfd00 15.56%,#92fe00 16.07%,#98ff00 16.45%,#a1f700 16.84%,#a9f000 17.22%,#b1e800 17.68%,#b2e800 17.73%,#b8e200 18.75%,#b4e600 19.77%,#a1f700 20.54%,#92fe00 20.87%,#82fb00 21.17%,#5ff500 21.81%,#4ff300 22.45%,#49ed00 23.09%,#45e700 23.72%,#42e200 24.36%,#40df00 24.69%,#3fdb00 25%,#3bd200 25.77%,#36c400 27.04%,#2c8400 29.8%,#296c00 30.87%,#254900 33.16%,#274d00 34.06%,#274c00 34.95%,#243700 35.84%,#232c00 36.17%,#201f00 36.73%,#1b1300 37.88%,#190d00 39.16%,#150600 45.1%,#140500 46.17%,#110200 56.38%,#110200 57.86%,#100100 69.13%,#0f0100 84.44%,#0d0100 100%)"></i>
<i style="background:linear-gradient(#ff0000 0%,#ff0000 11.39%,#ff0000 11.58%,#f26d00 11.73%,#f07d00 11.84%,#ebb500 12.22%,#e5bf00 12.73%,#debf00 13.37%,#d5c000 14.13%,#d4c200 14.29%,#cbcd00 15.15%,#c7d200 15.56%,#c3d700 16.07%,#c1da00 16.43%,#c1da00 16.45%,#c0db00 16.84%,#bfdb00 17.22%,#c1d900 17.73%,#c2d900 17.96%,#c2d900 18.75%,#bddd00 19.77%,#bbdf00 19.87%,#aeec00 20.54%,#9dfb00 21.17%,#93fe00 21.81%,#8ffd00 22.42%,#8efd00 22.45%,#8afd00 23.09%,#87fc00 23.72%,#84fb00 24.36%,#80f800 25%,#7df400 25.61%,#7cf300 25.77%,#76ea00 27.04%,#6cdb00 29.44%,#66d100 30.87%,#5dba00 33.16%,#5ab100 34.06%,#58ac00 34.54%,#57a800 34.95%,#539f00 35.84%,#509700 36.73%,#4c8b00 37.88%,#487c00 39.16%,#436800 40.92%,#353a00 46.17%,#2d1d00 49.85%,#220a00 56.38%,#1b0400 62.6%,#170200 69.13%,#120100 84.44%,#0f0100 100%)"></i>
<i style="background:linear-gradient(#ff0000 0%,#ff0000 5.931%,#f35200 6.122%,#eda000 6.378%,#e4bf00 6.76%,#d9bf00 7.27%,#cdcb00 7.908%,#c0db00 8.673%,#b1e900 9.694%,#a3f600 10.97%,#9dfb00 11.73%,#99ff00 12.5%,#94fe00 14.29%,#94fe00 14.41%,#95fe00 15.56%,#99ff00 16.07%,#9efa00 16.45%,#a4f400 16.84%,#a5f300 16.96%,#a8f100 17.22%,#afeb00 17.73%,#b3e700 18.75%,#b0ea00 19.77%,#a9f000 20.15%,#9efa00 20.54%,#81fb00 21.17%,#5cf500 21.81%,#47ea00 22.45%,#3edd00 23.09%,#3ad600 23.72%,#38d400 23.98%,#37d100 24.36%,#34cb00 25%,#31b500 25.77%,#2c9000 27.04%,#276000 29.08%,#233e00 30.87%,#233a00 33.16%,#264c00 34.06%,#285200 34.95%,#274900 35.46%,#253e00 35.84%,#202100 36.73%,#1c1500 37.88%,#1a0f00 39.16%,#180800 44.39%,#180700 46.17%,#160300 56.38%,#160300 57.14%,#150200 69.13%,#140100 84.44%,#120100 100%)"></i>
<i style="background:linear-gradient(#ff0000 0%,#ff0000 5.804%,#ff0000 5.995%,#eda000 6.25%,#e4bf00 6.633%,#d9bf00 7.143%,#cccc00 7.781%,#bfdc00 8.546%,#afea00 9.566%,#a1f700 10.84%,#9bfd00 11.73%,#98ff00 12.37%,#93fe00 14.29%,#94fe00 15.56%,#99ff00 16.07%,#9ffa00 16.45%,#a6f300 16.84%,#abee00 17.22%,#b3e700 17.73%,#b7e200 18.75%,#b4e600 19.77%,#b0ea00 20.03%,#a2f600 20.54%,#84fb00 21.17%,#5df500 21.81%,#46e900 22.45%,#3ddb00 23.09%,#38d400 23.72%,#37d200 23.85%,#35cf00 24.36%,#32c300 25%,#2faa00 25.77%,#2b8700 27.04%,#265b00 28.95%,#223900 30.87%,#233b00 33.16%,#274e00 34.06%,#285500 34.95%,#284f00 35.33%,#264100 35.84%,#212200 36.73%,#1c1600 37.88%,#1b1000 39.16%,#190800 44.26%,#190700 46.17%,#170300 56.38%,#170300 57.02%,#160200 69.13%,#150100 84.44%,#130100 100%)"></i>
<i style="background:linear-gradient(#ff0000 0%,#ff0000 10.19%,#f35200 10.38%,#f08300 10.64%,#eabf00 11.02%,#e3bf00 11.53%,#e1bf00 11.73%,#dbbf00 12.17%,#d2c500 12.93%,#c6d300 13.95%,#c3d700 14.29%,#b9e100 15.23%,#b6e400 15.56%,#b2e700 16.07%,#b1e900 16.45%,#b1e800 16.76%,#b2e800 16.84%,#b5e400 17.22%,#bcde00 17.73%,#c1d900 18.67%,#c1d900 18.75%,#bcde00 19.77%,#aaef00 20.54%,#93fe00 21.17%,#92fe00 21.22%,#85fc00 21.81%,#80fb00 22.45%,#7dfa00 23.09%,#79fa00 23.72%,#76f900 24.36%,#75f900 24.41%,#72f600 25%,#6ff000 25.77%,#68e800 27.04%,#63e000 28.24%,#58d000 30.87%,#4fb800 33.16%,#4fb700 33.34%,#4db000 34.06%,#4aa500 34.95%,#479900 35.84%,#448e00 36.73%,#408000 37.88%,#3c7200 39.16%,#3a6c00 39.72%,#2b2900 46.17%,#271700 48.65%,#1e0600 56.38%,#1a0300 61.4%,#170200 69.13%,#140100 84.44%,#120100 100%)"></i>
<i style="background:linear-gradient(#ff0000 0%,#ff0000 6.735%,#f45200 6.926%,#ee9800 7.181%,#e6bf00 7.564%,#dcbf00 8.074%,#d0c600 8.712%,#c4d600 9.477%,#b4e500 10.5%,#a4f500 11.73%,#a3f500 11.77%,#93fe00 13.3%,#8bfd00 14.29%,#86fc00 15.22%,#85fc00 15.56%,#89fc00 16.07%,#91fe00 16.45%,#9efa00 16.84%,#aaef00 17.22%,#b8e200 17.73%,#b8e200 17.77%,#bfdb00 18.75%,#bbdf00 19.77%,#a7f200 20.54%,#93fe00 20.96%,#87fc00 21.17%,#63f600 21.81%,#52f300 22.45%,#4bf000 23.09%,#47ea00 23.72%,#44e500 24.36%,#42e100 24.78%,#41de00 25%,#3dd500 25.77%,#38c700 27.04%,#2e9300 29.89%,#2b7d00 30.87%,#296000 33.16%,#2a6400 34.06%,#2b6200 34.95%,#284f00 35.84%,#264000 36.26%,#243100 36.73%,#1f1c00 37.88%,#1d1500 39.16%,#190800 45.19%,#190700 46.17%,#160300 56.38%,#160300 57.95%,#150200 69.13%,#130100 84.44%,#120100 100%)"></i>
<i style="background:linear-gradient(#ff0000 0%,#ff0000 5.587%,#f35300 5.778%,#eda500 6.033%,#e3bf00 6.416%,#d8bf00 6.926%,#cace00 7.564%,#bcde00 8.329%,#abee00 9.349%,#9afe00 10.63%,#8ffd00 11.73%,#8cfd00 12.16%,#83fb00 14.07%,#82fb00 14.29%,#83fb00 15.56%,#8afd00 16.07%,#95fe00 16.45%,#9afe00 16.62%,#a2f700 16.84%,#aded00 17.22%,#b9e100 17.73%,#c0db00 18.75%,#bcdf00 19.77%,#bbdf00 19.81%,#a8f100 20.54%,#87fc00 21.17%,#5ff500 21.81%,#45e700 22.45%,#3ad600 23.09%,#35cf00 23.64%,#35ce00 23.72%,#31c000 24.36%,#2fab00 25%,#2c9400 25.77%,#287400 27.04%,#244e00 28.74%,#212f00 30.87%,#233600 33.16%,#264c00 34.06%,#285300 34.95%,#285200 35.11%,#263f00 35.84%,#212200 36.73%,#1c1500 37.88%,#1b1000 39.16%,#190800 44.04%,#190700 46.17%,#170300 56.38%,#170300 56.8%,#160200 69.13%,#150100 84.44%,#140100 100%)"></i>
<i style="background:linear-gradient(#ff0000 0%,#ff0000 8.635%,#ff0000 8.827%,#ef8800 9.082%,#e9bf00 9.464%,#e1bf00 9.974%,#d8bf00 10.61%,#cdca00 11.38%,#c9d000 11.73%,#c1da00 12.4%,#b3e600 13.67%,#aeec00 14.29%,#a6f200 15.2%,#a5f400 15.56%,#a4f400 16.07%,#a7f200 16.45%,#adec00 16.84%,#b0e900 17.12%,#b2e800 17.22%,#b9e100 17.73%,#bddd00 18.75%,#bbe000 19.67%,#bae100 19.77%,#a8f100 20.54%,#8cfd00 21.17%,#75f900 21.81%,#6df800 22.45%,#6af700 22.86%,#68f700 23.09%,#65f600 23.72%,#61f600 24.36%,#5ef200 25%,#5aed00 25.77%,#56e700 26.68%,#54e500 27.04%,#45c400 30.87%,#42b800 31.79%,#3ea700 33.16%,#3c9e00 34.06%,#3b9500 34.95%,#388b00 35.84%,#348000 36.73%,#306900 37.88%,#2f6300 38.16%,#2d5300 39.16%,#221200 46.17%,#210f00 47.09%,#1c0500 56.38%,#1b0400 59.85%,#190200 69.13%,#170100 84.44%,#160100 100%)"></i>
<i style="background:linear-gradient(#ff0000 0%,#ff0000 4.86%,#f35400 5.051%,#e9bf00 5.306%,#dabf00 5.689%,#c8d100 6.199%,#b4e600 6.837%,#a2f600 7.602%,#97ff00 8.622%,#92fe00 9.898%,#90fe00 11.43%,#90fe00 11.73%,#8ffd00 13.34%,#8ffd00 14.29%,#92fe00 15.56%,#96ff00 15.89%,#99ff00 16.07%,#a1f800 16.45%,#aaef00 16.84%,#b1e800 17.22%,#bae000 17.73%,#c0db00 18.75%,#c0db00 19.08%,#bcde00 19.77%,#a9f000 20.54%,#88fc00 21.17%,#5df500 21.81%,#3cda00 22.45%,#2ea600 22.91%,#2a8a00 23.09%,#234500 23.72%,#203200 24.36%,#1e2c00 25%,#1d2700 25.77%,#1c2100 27.04%,#1c1f00 28.01%,#1b1a00 30.87%,#202600 33.16%,#243f00 34.06%,#264700 34.39%,#274b00 34.95%,#243800 35.84%,#1f1e00 36.73%,#1b1200 37.88%,#190d00 39.16%,#190900 43.32%,#180700 46.17%,#180300 56.07%,#180300 56.38%,#170200 69.13%,#150100 84.44%,#140100 100%)"></i>
<i style="background:linear-gradient(#ff0000 0%,#ff0000 4.898%,#ff0000 5.089%,#e9bf00 5.344%,#dabf00 5.727%,#c8d100 6.237%,#b4e600 6.875%,#a0f800 7.64%,#91fe00 8.661%,#8afd00 9.936%,#87fc00 11.47%,#86fc00 11.73%,#85fc00 13.38%,#85fc00 14.29%,#88fc00 15.56%,#8dfd00 15.93%,#90fd00 16.07%,#98ff00 16.45%,#a3f600 16.84%,#abee00 17.22%,#b5e500 17.73%,#bbdf00 18.75%,#bbdf00 19.12%,#b7e300 19.77%,#a5f400 20.54%,#86fc00 21.17%,#5df500 21.81%,#3edd00 22.45%,#30b300 22.95%,#2d9f00 23.09%,#256100 23.72%,#234700 24.36%,#213a00 25%,#203300 25.77%,#1f2d00 27.04%,#1f2b00 28.05%,#1e2500 30.87%,#233800 33.16%,#285600 34.06%,#295d00 34.43%,#2a5f00 34.95%,#284c00 35.84%,#232b00 36.73%,#1e1900 37.88%,#1d1400 39.16%,#1c0d00 43.35%,#1c0a00 46.17%,#1b0500 56.11%,#1b0500 56.38%,#1a0200 69.13%,#190200 84.44%,#170100 100%)"></i>
<i style="background:linear-gradient(#ff0000 0%,#ff0000 8.954%,#ff0000 9.145%,#ef8700 9.401%,#e9bf00 9.783%,#e2bf00 10.29%,#d8bf00 10.93%,#cec900 11.7%,#ceca00 11.73%,#c2d900 12.72%,#b3e600 13.99%,#b0e900 14.29%,#a5f400 15.52%,#a5f400 15.56%,#a2f700 16.07%,#a3f600 16.45%,#a7f200 16.84%,#aded00 17.22%,#b0e900 17.44%,#b5e500 17.73%,#bae000 18.75%,#b6e400 19.77%,#b3e700 19.99%,#a5f400 20.54%,#8bfd00 21.17%,#78f900 21.81%,#71f800 22.45%,#6df800 23.09%,#6cf800 23.18%,#69f700 23.72%,#66f600 24.36%,#63f300 25%,#5fee00 25.77%,#59e600 27%,#59e600 27.04%,#49c900 30.87%,#44b800 32.1%,#41ab00 33.16%,#40a200 34.06%,#3e9800 34.95%,#3b8d00 35.84%,#378200 36.73%,#337500 37.88%,#316a00 38.48%,#305e00 39.16%,#231600 46.17%,#221000 47.41%,#1c0500 56.38%,#1a0400 60.17%,#180200 69.13%,#160100 84.44%,#150100 100%)"></i>
<i style="background:linear-gradient(#ff0000 0%,#ff0000 20.03%,#e0bf00 20.92%,#bfdb00 23.21%,#998600 26.4%,#807e00 28.32%,#666600 33.42%,#474d00 37.24%,#2b1400 47.45%,#1f0300 60.2%,#1f0100 100%)"></i>
<i style="background:linear-gradient(#ff0000 0%,#ff0000 20.03%,#e0bf00 20.92%,#bfdb00 23.21%,#998600 26.4%,#807e00 28.32%,#666600 33.42%,#474d00 37.24%,#2b1400 47.45%,#1f0300 60.2%,#1f0100 100%)"></i>
<i style="background:linear-gradient(#ff0000 0%,#ff0000 20.03%,#e0bf00 20.92%,#bfdb00 23.21%,#998600 26.4%,#807e00 28.32%,#6b6600 33.42%,#575100 37.24%,#451f00 47.45%,#330e00 60.2%,#1f0100 100%)"></i>
<i style="background:linear-gradient(#ff0000 0%,#ff0000 11.35%,#debf00 11.73%,#d9bf00 24.49%,#b27b00 26.02%,#807b00 28.95%,#545700 35.97%,#2e1700 47.45%,#1f0300 60.2%,#1f0100 100%)"></i>
<i style="background:linear-gradient(#ff0000 0%,#ff0000 11.35%,#debf00 11.73%,#d9bf00 24.49%,#b27b00 26.02%,#807b00 28.95%,#545700 35.97%,#2e1700 47.45%,#1f0300 60.2%,#1f0100 100%)"></i>
<i style="background:linear-gradient(#ff0000 0%,#ff0000 16.2%,#e4bf00 16.84%,#dbbf00 20.03%,#bfdb00 24.49%,#997700 30.87%,#805a00 35.97%,#593900 41.71%,#331000 56.38%,#1f0100 100%)"></i>
<i style="background:linear-gradient(#ff0000 0%,#ff0000 16.2%,#e4bf00 16.84%,#dbbf00 20.03%,#bfdb00 24.49%,#997700 30.87%,#805a00 35.97%,#593900 41.71%,#331000 56.38%,#1f0100 100%)"></i>
<i style="background:linear-gradient(#ff0000 0%,#ff0000 8.418%,#dbbf00 8.801%,#d6bf00 18.75%,#a6f300 20.66%,#94fe00 24.49%,#808000 27.68%,#527200 30.87%,#334f00 34.69%,#240f00 43.62%,#1f0100 100%)"></i>
<i style="background:linear-gradient(#ff0000 0%,#ff0000 8.418%,#dbbf00 8.801%,#d6bf00 18.75%,#a6f300 20.66%,#94fe00 24.49%,#808000 27.68%,#527200 30.87%,#334f00 34.69%,#240f00 43.62%,#1f0100 100%)"></i>
<i style="background:linear-gradient(#ff0000 0%,#ff0000 18.75%,#cccc00 20.03%,#99ff00 22.19%,#80fb00 23.85%,#528000 26.4%,#262b00 33.42%,#1f0100 100%)"></i>
<i style="background:linear-gradient(#ff0000 0%,#ff0000 18.75%,#cccc00 20.03%,#99ff00 22.19%,#80fb00 23.85%,#528000 26.4%,#262b00 33.42%,#1f0100 100%)"></i>
<i style="background:linear-gradient(#ff0000 0%,#ff0000 18.75%,#cccc00 20.03%,#99ff00 22.19%,#80fb00 23.85%,#528000 26.4%,#262b00 33.42%,#1f0100 100%)"></i>
<i style="background:linear-gradient(#ff0000 0%,#ff0000 21.94%,#e6bf00 22.58%,#db4400 35.97%,#ad4400 39.16%,#992300 47.45%,#6b1100 60.2%,#330800 75.51%,#210200 100%)"></i>
<i style="background:linear-gradient(#ff0000 0%,#ff0000 21.94%,#e6bf00 22.58%,#db4400 35.97%,#ad4400 39.16%,#992300 47.45%,#731100 60.2%,#570a00 75.51%,#4f0700 100%)"></i>
<i style="background:linear-gradient(#ff0000 0%,#ff0000 10.84%,#dbbf00 11.22%,#d1c600 21.05%,#80fb00 22.58%,#52f200 24.74%,#263100 30.48%,#1f0100 100%)"></i>
<i style="background:linear-gradient(#ff0000 0%,#ff0000 10.84%,#dbbf00 11.22%,#d1c600 21.05%,#80fb00 22.58%,#52f200 24.74%,#263100 30.48%,#1f0100 100%)"></i>
<i style="background:linear-gradient(#ff0000 0%,#ff0000 10.84%,#dbbf00 11.22%,#d1c600 21.05%,#80fb00 22.58%,#52f200 24.74%,#263100 30.48%,#1f0100 100%)"></i>
<i style="background:linear-gradient(#ff0000 0%,#ff0000 10.84%,#dbbf00 11.22%,#d1c600 21.05%,#80fb00 22.58%,#52f200 24.74%,#263100 30.48%,#1f0100 100%)"></i>
<i style="background:linear-gradient(#ff0000 0%,#ff0000 21.05%,#e0bf00 21.68%,#cccc00 24.49%,#9e7500 30.87%,#804800 39.16%,#662200 47.45%,#330d00 62.76%,#1f0100 100%)"></i>
<i style="background:linear-gradient(#ff0000 0%,#ff0000 21.05%,#e0bf00 21.68%,#cccc00 24.49%,#9e7500 30.87%,#804800 39.16%,#662200 47.45%,#4c0f00 62.76%,#470600 100%)"></i>
<i style="background:linear-gradient(#ff0000 0%,#ff0000 21.05%,#e0bf00 21.68%,#cccc00 24.49%,#9e7500 30.87%,#804800 39.16%,#662200 47.45%,#380d00 62.76%,#260400 75.51%,#210200 100%)"></i>
<i style="background:linear-gradient(#ff0000 0%,#ff0000 18.11%,#e6bf00 18.75%,#cccc00 21.3%,#99ff00 24.49%,#807e00 28.32%,#526400 33.42%,#331c00 47.45%,#1f0100 100%)"></i>
<i style="background:linear-gradient(#ff0000 0%,#ff0000 6.122%,#dbbf00 6.505%,#9efa00 7.398%,#91fe00 21.3%,#4cf200 22.7%,#245000 24.49%,#1f0100 100%)"></i>
<i style="background:linear-gradient(#ff0000 0%,#ff0000 6.122%,#dbbf00 6.505%,#9efa00 7.398%,#91fe00 21.3%,#4cf200 22.7%,#245000 24.49%,#1f0100 100%)"></i>
<i style="background:linear-gradient(#ff0000 0%,#ff0000 12.63%,#e6bf00 13.01%,#dbbf00 22.19%,#b27b00 25.77%,#806700 33.42%,#662f00 43.62%,#401000 60.2%,#330600 100%)"></i>
<i style="background:linear-gradient(#ff0000 0%,#ff0000 4.974%,#dbbf00 5.357%,#9efa00 6.25%,#8cfd00 21.3%,#4cf200 22.7%,#245000 23.98%,#1f0100 100%)"></i>
<i style="background:linear-gradient(#ff0000 0%,#ff0000 4.974%,#dbbf00 5.357%,#9efa00 6.25%,#8cfd00 21.3%,#4cf200 22.7%,#245000 23.98%,#1f0100 100%)"></i>
<i style="background:linear-gradient(#ff0000 0%,#ff0000 23.21%,#e6bf00 23.85%,#db5900 30.87%,#ad5400 35.97%,#9e2200 47.45%,#9e1100 60.2%,#940a00 75.51%,#730700 100%)"></i>
<i style="background:linear-gradient(#ff0000 0%,#ff0000 23.21%,#e6bf00 23.85%,#db5900 30.87%,#ad5400 35.97%,#9e2200 47.45%,#9e1100 60.2%,#940a00 75.51%,#730700 100%)"></i>
<i style="background:linear-gradient(#ff0000 0%,#ff0000 23.21%,#e6bf00 23.85%,#db5900 30.87%,#ad5400 35.97%,#992300 47.45%,#661100 60.2%,#330800 75.51%,#210200 100%)"></i>
<i style="background:linear-gradient(#ff0000 0%,#ff0000 22.19%,#d9bf00 23.21%,#d15c00 30.87%,#b84400 38.52%,#942300 47.45%,#731100 60.2%,#540a00 75.51%,#4c0700 100%)"></i>
<i style="background:linear-gradient(#ff0000 0%,#ff0000 22.19%,#d9bf00 23.21%,#d15c00 30.87%,#b84400 38.52%,#942300 47.45%,#661100 60.2%,#330800 75.51%,#210200 100%)"></i>
<i style="background:linear-gradient(#ff0000 0%,#ff0000 22.19%,#cccc00 23.21%,#a67200 30.87%,#802200 47.45%,#661100 60.2%,#4c0a00 75.51%,#470600 100%)"></i>
<i style="background:linear-gradient(#ff0000 0%,#ff0000 13.14%,#debf00 13.65%,#d9bf00 24.49%,#bd6800 30.87%,#a84900 38.52%,#8c2200 47.45%,#661100 60.2%,#330800 75.51%,#240200 100%)"></i>
<i style="background:linear-gradient(#ff0000 0%,#ff0000 22.58%,#cccc00 23.85%,#997700 30.87%,#802200 47.45%,#4c1100 60.2%,#290500 75.51%,#210200 100%)"></i>
<i style="background:linear-gradient(#ff0000 0%,#ff0000 22.58%,#cccc00 23.85%,#997700 30.87%,#802200 47.45%,#4c1100 60.2%,#290500 75.51%,#210200 100%)"></i>
</div>
<div class="ov" style="left:857.4px;top:58px;width:2.6px;height:784px;background:#fff"></div>
<div class="ov" style="left:916.3px;top:58px;width:4.2px;height:784px;background:#fff"></div>
<div class="ov" style="left:957.3px;top:58px;width:2.2px;height:190px;background:#fff"></div>
<div class="ov" style="left:957.3px;top:58px;width:2.2px;height:784px;background:linear-gradient(to bottom,#ffffff 0.0%,#ffffff 30.9%,#ff0000 32.1%,#ff3c00 41.1%,#fff000 47.4%,#4bff00 53.8%,#00ff47 61.5%,#00ffc6 69.1%,#00e4ff 100.0%);-webkit-mask-image:repeating-linear-gradient(to bottom,transparent 0,#000 2px,#000 8px,transparent 10px,transparent 19.2px);mask-image:repeating-linear-gradient(to bottom,transparent 0,#000 2px,#000 8px,transparent 10px,transparent 19.2px);-webkit-mask-position:0 3.5px;mask-position:0 3.5px"></div>
<div class="ov" style="left:987.2px;top:215px;width:2.2px;height:627px;background:linear-gradient(to bottom,#fff 0,#fff 17%,#ff0000 18%,#ff3c00 35%,#fff000 50%,#00ff00 62%,#00ffe3 75%,#00e4ff 100%);-webkit-mask-image:repeating-linear-gradient(to bottom,#000 0,#000 2px,transparent 2.6px,transparent 4px);mask-image:repeating-linear-gradient(to bottom,#000 0,#000 2px,transparent 2.6px,transparent 4px)"></div>
<!-- frame -->
<div class="ln" style="left:115px;top:56px;width:944.5px;height:2px"></div>
<div class="ln" style="left:115px;top:56px;width:2px;height:787.5px"></div>
<div class="ln" style="left:1057.5px;top:56px;width:2px;height:795.5px"></div>
<div class="ln" style="left:109px;top:842px;width:950.5px;height:1.6px"></div>
<div class="ln" style="left:109px;top:58.1px;width:7px;height:1.6px"></div>
<div class="ln" style="left:109px;top:136.6px;width:7px;height:1.6px"></div>
<div class="ln" style="left:109px;top:215.0px;width:7px;height:1.6px"></div>
<div class="ln" style="left:109px;top:293.5px;width:7px;height:1.6px"></div>
<div class="ln" style="left:109px;top:371.9px;width:7px;height:1.6px"></div>
<div class="ln" style="left:109px;top:450.4px;width:7px;height:1.6px"></div>
<div class="ln" style="left:109px;top:528.8px;width:7px;height:1.6px"></div>
<div class="ln" style="left:109px;top:607.2px;width:7px;height:1.6px"></div>
<div class="ln" style="left:109px;top:685.7px;width:7px;height:1.6px"></div>
<div class="ln" style="left:109px;top:764.2px;width:7px;height:1.6px"></div>
<div class="ln" style="left:117.1px;top:842px;width:2px;height:9.5px"></div>
<div class="ln" style="left:156.3px;top:842px;width:2px;height:9.5px"></div>
<div class="ln" style="left:195.5px;top:842px;width:2px;height:9.5px"></div>
<div class="ln" style="left:234.7px;top:842px;width:2px;height:9.5px"></div>
<div class="ln" style="left:273.9px;top:842px;width:2px;height:9.5px"></div>
<div class="ln" style="left:313.1px;top:842px;width:2px;height:9.5px"></div>
<div class="ln" style="left:352.3px;top:842px;width:2px;height:9.5px"></div>
<div class="ln" style="left:391.5px;top:842px;width:2px;height:9.5px"></div>
<div class="ln" style="left:430.7px;top:842px;width:2px;height:9.5px"></div>
<div class="ln" style="left:469.9px;top:842px;width:2px;height:9.5px"></div>
<div class="ln" style="left:509.1px;top:842px;width:2px;height:9.5px"></div>
<div class="ln" style="left:548.3px;top:842px;width:2px;height:9.5px"></div>
<div class="ln" style="left:587.5px;top:842px;width:2px;height:9.5px"></div>
<div class="ln" style="left:626.7px;top:842px;width:2px;height:9.5px"></div>
<div class="ln" style="left:665.9px;top:842px;width:2px;height:9.5px"></div>
<div class="ln" style="left:705.1px;top:842px;width:2px;height:9.5px"></div>
<div class="ln" style="left:744.3px;top:842px;width:2px;height:9.5px"></div>
<div class="ln" style="left:783.5px;top:842px;width:2px;height:9.5px"></div>
<div class="ln" style="left:822.7px;top:842px;width:2px;height:9.5px"></div>
<div class="ln" style="left:861.9px;top:842px;width:2px;height:9.5px"></div>
<div class="ln" style="left:901.1px;top:842px;width:2px;height:9.5px"></div>
<div class="ln" style="left:940.3px;top:842px;width:2px;height:9.5px"></div>
<div class="ln" style="left:979.5px;top:842px;width:2px;height:9.5px"></div>
<div class="ln" style="left:1018.7px;top:842px;width:2px;height:9.5px"></div>
<div class="yl" style="top:54.5px">0.0</div>
<div class="yl" style="top:132.9px">4.0</div>
<div class="yl" style="top:211.3px">8.0</div>
<div class="yl" style="top:289.8px">12.0</div>
<div class="yl" style="top:368.2px">16.0</div>
<div class="yl" style="top:446.7px">20.0</div>
<div class="yl" style="top:525.2px">24.0</div>
<div class="yl" style="top:603.6px">28.0</div>
<div class="yl" style="top:682.1px">32.0</div>
<div class="yl" style="top:760.5px">36.0</div>
<div class="yl" style="top:839.0px">40.0</div>
<div class="xl" style="left:88.1px">0</div>
<div class="xl" style="left:127.3px">1</div>
<div class="xl" style="left:166.5px">2</div>
<div class="xl" style="left:205.7px">3</div>
<div class="xl" style="left:244.9px">4</div>
<div class="xl" style="left:284.1px">5</div>
<div class="xl" style="left:323.3px">6</div>
<div class="xl" style="left:362.5px">7</div>
<div class="xl" style="left:401.7px">8</div>
<div class="xl" style="left:440.9px">9</div>
<div class="xl" style="left:480.1px">10</div>
<div class="xl" style="left:519.3px">11</div>
<div class="xl" style="left:558.5px">12</div>
<div class="xl" style="left:597.7px">13</div>
<div class="xl" style="left:636.9px">14</div>
<div class="xl" style="left:676.1px">15</div>
<div class="xl" style="left:715.3px">16</div>
<div class="xl" style="left:754.5px">17</div>
<div class="xl" style="left:793.7px">18</div>
<div class="xl" style="left:832.9px">19</div>
<div class="xl" style="left:872.1px">20</div>
<div class="xl" style="left:911.3px">21</div>
<div class="xl" style="left:950.5px">22</div>
<div class="xl" style="left:989.7px">23</div>
<div class="xl" style="left:1028.9px">24</div>
<div class="t" style="left:125.39px;transform:scaleX(1.0372)">Уровень</div>
<div class="t" style="left:210.42px;transform:scaleX(0.9778)">ЭМ-фона</div>
<div class="t" style="left:305.86px;transform:scaleX(0.9636)">на</div>
<div class="t" style="left:334.67px;transform:scaleX(1.0792)">Байгазане</div>
<div class="t" style="left:459.19px;transform:scaleX(0.8083)">--&gt;</div>
<div class="t" style="left:493.36px;transform:scaleX(1.0338)">модуль</div>
<div class="t" style="left:571.60px;transform:scaleX(1.0000)">XY</div>
<div class="t" style="left:606.57px;transform:scaleX(1.0387)">вектора</div>
<div class="t" style="left:690.55px;transform:scaleX(1.0310)">МИ</div>
<div class="t" style="left:737.19px;transform:scaleX(1.0270)">20160110</div>
</body></html>
